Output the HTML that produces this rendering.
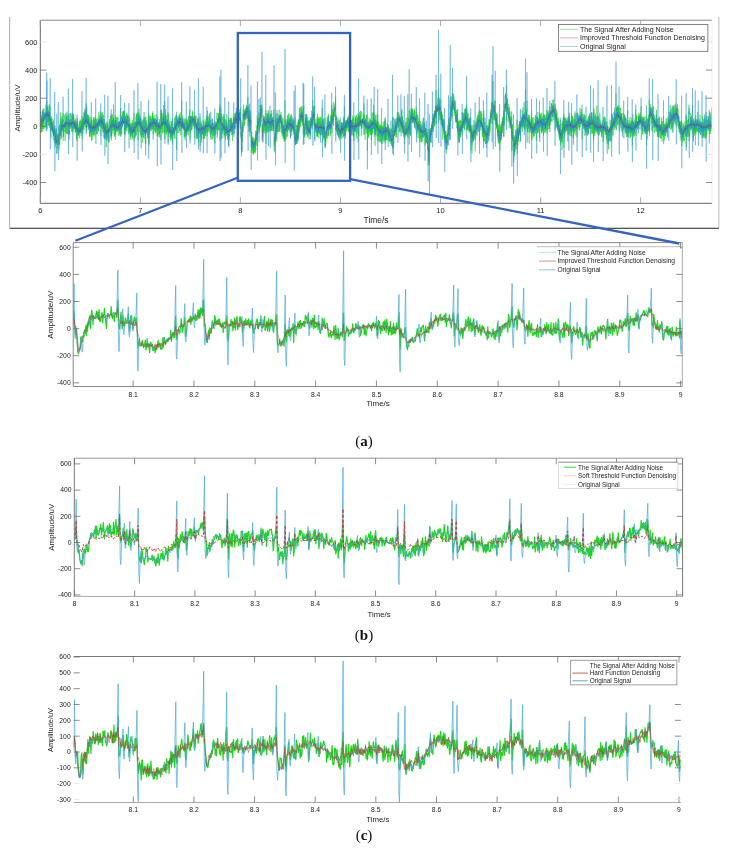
<!DOCTYPE html><html><head><meta charset="utf-8"><style>html,body{margin:0;padding:0;background:#fff;}body{width:729px;height:850px;overflow:hidden;position:relative;}</style></head><body><svg width="729" height="850" viewBox="0 0 729 850" style="position:absolute;left:0;top:0;filter:blur(0.3px);font-family:'Liberation Sans', sans-serif">
<rect width="729" height="850" fill="#fff"/>
<line x1="9.7" y1="17" x2="9.7" y2="228" stroke="#aaa" stroke-width="1"/>
<line x1="718.9" y1="17" x2="718.9" y2="228" stroke="#bbb" stroke-width="1"/>
<line x1="9.7" y1="228.3" x2="718.9" y2="228.3" stroke="#222" stroke-width="1.1"/>
<clipPath id="cpA"><rect x="40.3" y="20.2" width="671.7" height="183.10000000000002"/></clipPath>
<g clip-path="url(#cpA)" fill="none" stroke-linejoin="round">
<path d="M40.3 115.5L40.4 127.5 40.5 131.5 40.6 122.6 40.7 127.2 40.8 121.6 40.9 121.6 41.0 113.2 41.1 111.5 41.2 132.7 41.3 123.4 41.4 118.2 41.5 115.5 41.6 127.5 41.7 132.0 41.8 117.8 41.9 126.5 42.0 125.9 42.1 119.5 42.2 131.4 42.3 114.8 42.4 128.9 42.5 111.5 42.6 129.2 42.7 111.9 42.8 127.2 42.9 115.4 43.0 128.1 43.1 109.0 43.2 109.1 43.3 121.4 43.4 114.1 43.5 122.8 43.6 119.6 43.7 129.3 43.8 122.0 43.9 108.3 44.0 114.3 44.1 113.4 44.2 128.3 44.3 128.1 44.4 120.4 44.5 116.7 44.6 114.7 44.7 117.7 44.8 114.2 44.9 119.2 45.0 119.9 45.1 114.3 45.2 115.3 45.3 116.1 45.4 119.4 45.5 111.9 45.6 111.6 45.7 115.9 45.8 125.9 45.9 104.7 46.0 117.6 46.1 127.8 46.2 126.7 46.3 120.6 46.4 110.3 46.5 117.7 46.6 107.5 46.7 101.5 46.8 123.9 46.9 120.3 47.0 106.7 47.1 121.2 47.2 108.1 47.3 114.9 47.4 114.4 47.5 111.6 47.6 113.7 47.7 107.6 47.8 108.0 47.9 109.9 48.0 105.3 48.1 120.5 48.2 115.4 48.3 125.6 48.4 117.3 48.5 120.1 48.6 110.0 48.7 125.7 48.8 115.7 48.9 117.3 49.0 121.5 49.1 115.5 49.2 113.3 49.3 104.3 49.4 117.7 49.5 118.6 49.6 116.7 49.7 127.8 49.8 113.9 49.9 119.9 50.0 120.0 50.1 106.3 50.2 115.6 50.3 120.8 50.4 132.0 50.5 122.0 50.6 118.5 50.7 121.3 50.8 118.1 50.9 128.6 51.0 137.6 51.1 128.3 51.2 130.3 51.3 130.7 51.4 130.2 51.5 121.4 51.6 116.1 51.7 130.5 51.8 123.9 51.9 123.3 52.0 121.7 52.1 130.4 52.2 128.1 52.3 128.3 52.4 123.6 52.5 129.7 52.6 132.5 52.7 122.4 52.8 127.0 52.9 118.5 53.0 125.4 53.1 133.5 53.2 129.2 53.3 133.1 53.4 135.4 53.5 120.5 53.6 131.5 53.7 136.1 53.8 130.3 53.9 127.5 54.0 133.2 54.1 131.0 54.2 127.3 54.3 130.3 54.4 142.9 54.5 135.2 54.6 132.5 54.7 128.8 54.8 132.5 54.9 142.4 55.0 140.7 55.1 125.7 55.2 147.4 55.3 133.8 55.4 140.3 55.5 133.4 55.6 144.3 55.7 132.8 55.8 143.2 55.9 144.6 56.0 128.4 56.1 142.6 56.2 129.0 56.3 136.4 56.4 132.7 56.5 139.8 56.6 133.6 56.7 138.2 56.8 133.4 56.9 153.8 57.0 150.0 57.1 146.4 57.2 147.9 57.3 146.5 57.4 143.1 57.5 146.2 57.6 139.9 57.7 140.2 57.8 136.3 57.9 134.9 58.0 137.9 58.1 136.3 58.2 139.1 58.3 134.1 58.4 137.8 58.5 145.3 58.6 144.0 58.7 134.5 58.8 137.6 58.9 126.8 59.0 139.1 59.1 150.2 59.2 143.5 59.3 128.7 59.4 128.2 59.5 124.6 59.6 126.4 59.7 135.4 59.8 144.6 59.9 129.4 60.0 128.9 60.1 124.4 60.2 130.4 60.3 121.2 60.4 126.3 60.5 112.4 60.6 123.2 60.7 136.0 60.8 126.3 60.9 122.8 61.0 139.5 61.1 131.8 61.2 118.0 61.3 123.1 61.4 134.3 61.5 138.4 61.6 126.0 61.7 123.8 61.8 118.7 61.9 116.1 62.0 129.6 62.1 127.6 62.2 128.5 62.3 119.1 62.4 124.9 62.5 119.4 62.6 131.4 62.7 128.3 62.8 122.7 62.9 120.2 63.0 122.0 63.1 112.9 63.2 137.0 63.3 133.0 63.4 123.9 63.5 124.6 63.6 136.8 63.7 126.6 63.8 131.6 63.9 125.2 64.0 125.1 64.1 125.7 64.2 128.0 64.3 122.0 64.4 114.8 64.5 121.4 64.6 124.7 64.7 126.8 64.8 123.5 64.9 125.6 65.0 126.4 65.1 141.1 65.2 126.4 65.3 124.0 65.4 127.1 65.5 126.2 65.6 113.1 65.7 129.6 65.8 122.2 65.9 122.1 66.0 129.1 66.1 117.2 66.2 133.4 66.3 125.0 66.4 120.7 66.5 116.2 66.6 129.0 66.7 133.5 66.8 115.3 66.9 126.4 67.0 133.7 67.1 130.3 67.2 124.9 67.3 125.5 67.4 126.0 67.5 134.0 67.6 127.6 67.7 126.1 67.8 116.6 67.9 124.7 68.0 123.5 68.1 121.0 68.2 119.8 68.3 114.1 68.4 132.2 68.5 134.5 68.6 135.1 68.7 119.6 68.8 125.3 68.9 123.0 69.0 134.3 69.1 130.9 69.2 135.0 69.3 132.5 69.4 113.7 69.5 126.1 69.6 121.9 69.7 123.5 69.8 121.5 69.9 120.4 70.0 123.1 70.1 128.7 70.2 120.7 70.3 121.0 70.4 125.1 70.5 113.2 70.6 128.6 70.7 126.4 70.8 123.3 70.9 120.4 71.0 125.2 71.1 124.0 71.2 125.3 71.3 123.0 71.4 122.2 71.5 127.0 71.6 113.6 71.7 124.0 71.8 121.8 71.9 131.6 72.0 122.3 72.1 119.4 72.2 116.6 72.3 120.3 72.4 118.8 72.5 114.5 72.6 112.7 72.7 118.4 72.8 131.5 72.9 132.7 73.0 125.2 73.1 129.9 73.2 119.5 73.3 115.7 73.4 121.6 73.5 128.5 73.6 113.9 73.7 126.1 73.8 126.5 73.9 117.3 74.0 120.5 74.1 127.6 74.2 124.7 74.3 123.0 74.4 129.2 74.5 125.2 74.6 120.5 74.7 125.8 74.8 123.4 74.9 123.8 75.0 129.5 75.1 123.5 75.2 132.6 75.3 124.3 75.4 127.8 75.5 132.1 75.6 120.5 75.7 132.3 75.8 129.9 75.9 125.9 76.0 123.3 76.1 125.6 76.2 131.4 76.3 123.5 76.4 126.2 76.5 123.1 76.6 139.0 76.7 121.4 76.8 131.7 76.9 128.0 77.0 124.2 77.1 141.1 77.2 132.1 77.3 126.2 77.4 120.8 77.5 127.0 77.6 135.1 77.7 132.1 77.8 128.8 77.9 123.6 78.0 125.2 78.1 133.1 78.2 126.7 78.3 135.7 78.4 128.5 78.5 131.4 78.6 130.7 78.7 132.6 78.8 135.9 78.9 134.2 79.0 130.0 79.1 133.9 79.2 128.3 79.3 138.2 79.4 126.0 79.5 121.2 79.6 128.7 79.7 134.1 79.8 128.0 79.9 121.7 80.0 126.0 80.1 125.1 80.2 119.5 80.3 129.3 80.4 129.6 80.5 125.2 80.6 131.4 80.7 126.6 80.8 130.7 80.9 120.6 81.0 135.7 81.1 125.5 81.2 130.7 81.3 125.1 81.4 121.3 81.5 131.7 81.6 129.7 81.7 124.9 81.8 122.1 81.9 129.3 82.0 115.8 82.1 120.5 82.2 134.3 82.3 138.9 82.4 120.7 82.5 118.5 82.6 126.0 82.7 126.1 82.8 126.9 82.9 132.6 83.0 133.6 83.1 124.6 83.2 118.8 83.3 120.3 83.4 129.7 83.5 117.1 83.6 125.4 83.7 112.5 83.8 126.3 83.9 127.3 84.0 118.2 84.1 129.8 84.2 122.1 84.3 120.6 84.4 117.4 84.5 111.2 84.6 122.2 84.7 117.0 84.8 114.4 84.9 113.3 85.0 115.8 85.1 114.4 85.2 120.9 85.3 118.4 85.4 112.9 85.5 126.1 85.6 127.1 85.7 110.3 85.8 118.5 85.9 114.9 86.0 108.6 86.1 103.4 86.2 121.0 86.3 131.4 86.4 121.0 86.5 130.4 86.6 116.1 86.7 105.8 86.8 125.9 86.9 115.1 87.0 119.3 87.1 122.6 87.2 118.8 87.3 114.1 87.4 127.2 87.5 117.7 87.6 122.3 87.7 124.0 87.8 121.5 87.9 115.0 88.0 118.9 88.1 115.0 88.2 121.1 88.3 116.7 88.4 117.8 88.5 127.1 88.6 126.1 88.7 125.2 88.8 123.4 88.9 115.0 89.0 123.3 89.1 122.6 89.2 117.5 89.3 129.2 89.4 122.1 89.5 136.6 89.6 126.4 89.7 128.3 89.8 136.6 89.9 129.1 90.0 126.1 90.1 122.8 90.2 136.4 90.3 136.5 90.4 123.7 90.5 124.7 90.6 133.7 90.7 122.0 90.8 116.7 90.9 123.3 91.0 127.7 91.1 121.1 91.2 132.8 91.3 118.9 91.4 125.0 91.5 126.4 91.6 127.4 91.7 130.8 91.8 122.8 91.9 129.3 92.0 131.3 92.1 139.9 92.2 127.2 92.3 127.2 92.4 128.7 92.5 131.9 92.6 122.5 92.7 120.2 92.8 123.8 92.9 130.0 93.0 136.6 93.1 125.2 93.2 128.5 93.3 133.0 93.4 126.1 93.5 135.1 93.6 117.0 93.7 133.8 93.8 122.5 93.9 118.6 94.0 124.0 94.1 127.8 94.2 119.5 94.3 133.7 94.4 134.5 94.5 129.1 94.6 131.3 94.7 128.8 94.8 127.1 94.9 136.5 95.0 130.0 95.1 122.2 95.2 116.3 95.3 119.3 95.4 129.2 95.5 120.7 95.6 125.6 95.7 128.6 95.8 118.2 95.9 130.0 96.0 127.9 96.1 125.7 96.2 133.9 96.3 123.8 96.4 119.2 96.5 124.3 96.6 128.4 96.7 134.3 96.8 126.8 96.9 128.1 97.0 125.7 97.1 126.8 97.2 127.6 97.3 125.0 97.4 131.5 97.5 133.9 97.6 128.0 97.7 130.2 97.8 122.5 97.9 117.8 98.0 121.0 98.1 126.1 98.2 125.8 98.3 120.8 98.4 120.7 98.5 125.2 98.6 130.9 98.7 119.4 98.8 112.1 98.9 115.9 99.0 117.2 99.1 122.7 99.2 123.8 99.3 120.5 99.4 126.2 99.5 127.3 99.6 118.9 99.7 126.0 99.8 117.8 99.9 115.4 100.0 126.6 100.1 121.9 100.2 125.3 100.3 110.9 100.4 121.3 100.5 116.5 100.6 125.3 100.7 118.2 100.8 121.5 100.9 130.9 101.0 135.8 101.1 131.1 101.2 118.1 101.3 118.4 101.4 122.0 101.5 120.7 101.6 120.4 101.7 112.6 101.8 127.8 101.9 118.0 102.0 126.5 102.1 122.4 102.2 115.2 102.3 128.8 102.4 112.2 102.5 125.7 102.6 128.4 102.7 115.7 102.8 129.2 102.9 121.6 103.0 132.7 103.1 120.9 103.2 131.8 103.3 130.8 103.4 114.7 103.5 133.3 103.6 124.5 103.7 118.9 103.8 125.4 103.9 126.2 104.0 137.8 104.1 129.2 104.2 119.0 104.3 138.1 104.4 133.0 104.5 129.5 104.6 122.8 104.7 123.3 104.8 135.4 104.9 139.6 105.0 130.5 105.1 129.3 105.2 126.0 105.3 130.0 105.4 129.0 105.5 124.0 105.6 128.1 105.7 138.4 105.8 136.5 105.9 133.9 106.0 122.7 106.1 136.8 106.2 131.8 106.3 142.5 106.4 147.2 106.5 135.5 106.6 124.8 106.7 126.0 106.8 136.1 106.9 121.4 107.0 132.9 107.1 125.6 107.2 134.2 107.3 123.3 107.4 128.1 107.5 132.4 107.6 128.9 107.7 138.9 107.8 124.7 107.9 127.1 108.0 140.9 108.1 133.2 108.2 134.9 108.3 135.5 108.4 137.4 108.5 129.4 108.6 137.6 108.7 135.3 108.8 127.8 108.9 143.1 109.0 132.7 109.1 126.9 109.2 122.6 109.3 130.5 109.4 132.0 109.5 122.0 109.6 119.2 109.7 124.6 109.8 122.1 109.9 121.1 110.0 122.3 110.1 122.8 110.2 122.8 110.3 129.5 110.4 129.9 110.5 122.8 110.6 116.1 110.7 120.4 110.8 125.7 110.9 138.4 111.0 124.7 111.1 128.5 111.2 114.4 111.3 135.2 111.4 124.5 111.5 121.4 111.6 122.5 111.7 114.6 111.8 135.9 111.9 118.5 112.0 123.6 112.1 126.5 112.2 123.0 112.3 126.5 112.4 125.1 112.5 130.6 112.6 129.7 112.7 114.1 112.8 115.0 112.9 125.8 113.0 122.4 113.1 133.7 113.2 117.1 113.3 130.3 113.4 124.6 113.5 104.6 113.6 122.2 113.7 120.2 113.8 129.3 113.9 122.6 114.0 125.1 114.1 119.6 114.2 121.3 114.3 124.6 114.4 126.0 114.5 122.1 114.6 122.0 114.7 136.9 114.8 121.4 114.9 135.2 115.0 122.5 115.1 120.9 115.2 115.2 115.3 127.0 115.4 134.0 115.5 117.8 115.6 120.5 115.7 134.3 115.8 125.5 115.9 120.4 116.0 127.7 116.1 126.6 116.2 124.5 116.3 124.0 116.4 129.1 116.5 125.7 116.6 117.0 116.7 130.0 116.8 129.3 116.9 132.2 117.0 126.2 117.1 120.8 117.2 117.0 117.3 131.4 117.4 131.4 117.5 131.2 117.6 127.3 117.7 122.2 117.8 132.1 117.9 125.9 118.0 127.0 118.1 122.4 118.2 122.5 118.3 123.5 118.4 123.6 118.5 126.7 118.6 125.4 118.7 135.7 118.8 134.4 118.9 124.6 119.0 126.1 119.1 122.4 119.2 121.9 119.3 130.1 119.4 122.3 119.5 133.7 119.6 128.7 119.7 126.9 119.8 121.9 119.9 134.8 120.0 124.4 120.1 135.9 120.2 127.4 120.3 125.5 120.4 114.0 120.5 129.9 120.6 117.2 120.7 108.1 120.8 127.2 120.9 135.2 121.0 125.7 121.1 122.8 121.2 122.5 121.3 119.8 121.4 130.8 121.5 133.8 121.6 115.7 121.7 133.5 121.8 120.7 121.9 120.8 122.0 123.7 122.1 125.3 122.2 124.1 122.3 122.2 122.4 125.4 122.5 118.9 122.6 111.5 122.7 122.6 122.8 114.8 122.9 118.2 123.0 114.2 123.1 117.5 123.2 112.8 123.3 116.4 123.4 123.5 123.5 121.1 123.6 110.8 123.7 123.8 123.8 110.9 123.9 124.5 124.0 119.4 124.1 110.9 124.2 117.5 124.3 123.1 124.4 132.2 124.5 114.5 124.6 114.6 124.7 120.0 124.8 134.2 124.9 124.6 125.0 118.7 125.1 121.8 125.2 135.3 125.3 116.4 125.4 117.9 125.5 125.2 125.6 120.9 125.7 128.0 125.8 129.5 125.9 114.8 126.0 126.1 126.1 118.0 126.2 123.4 126.3 119.0 126.4 124.2 126.5 113.4 126.6 131.3 126.7 118.6 126.8 113.0 126.9 128.3 127.0 130.3 127.1 116.8 127.2 120.9 127.3 123.9 127.4 115.7 127.5 121.7 127.6 117.8 127.7 114.9 127.8 120.3 127.9 120.6 128.0 126.0 128.1 115.1 128.2 122.9 128.3 126.5 128.4 128.6 128.5 133.9 128.6 120.4 128.7 127.2 128.8 121.9 128.9 117.3 129.0 123.6 129.1 130.5 129.2 132.1 129.3 129.9 129.4 126.3 129.5 131.2 129.6 119.4 129.7 130.7 129.8 132.4 129.9 128.7 130.0 125.2 130.1 123.7 130.2 135.6 130.3 124.1 130.4 123.6 130.5 128.8 130.6 137.4 130.7 131.0 130.8 139.9 130.9 122.7 131.0 127.0 131.1 131.0 131.2 127.7 131.3 125.2 131.4 126.9 131.5 131.7 131.6 130.4 131.7 134.0 131.8 122.8 131.9 135.8 132.0 126.6 132.1 133.3 132.2 137.4 132.3 132.1 132.4 121.9 132.5 120.4 132.6 123.1 132.7 137.5 132.8 139.4 132.9 127.9 133.0 132.6 133.1 132.0 133.2 131.0 133.3 131.3 133.4 125.4 133.5 131.9 133.6 128.0 133.7 122.8 133.8 125.7 133.9 121.0 134.0 113.3 134.1 141.2 134.2 134.0 134.3 134.7 134.4 137.9 134.5 135.2 134.6 122.9 134.7 131.1 134.8 125.9 134.9 122.4 135.0 122.6 135.1 138.1 135.2 126.4 135.3 131.8 135.4 124.6 135.5 121.5 135.6 136.2 135.7 129.6 135.8 134.8 135.9 120.4 136.0 116.6 136.1 128.8 136.2 122.1 136.3 131.5 136.4 135.4 136.5 114.2 136.6 125.9 136.7 113.5 136.8 114.0 136.9 127.7 137.0 121.4 137.1 127.5 137.2 118.6 137.3 121.6 137.4 122.9 137.5 130.1 137.6 126.7 137.7 112.6 137.8 120.9 137.9 115.6 138.0 128.1 138.1 140.3 138.2 124.7 138.3 121.1 138.4 119.7 138.5 114.6 138.6 125.1 138.7 126.0 138.8 123.3 138.9 108.7 139.0 118.0 139.1 124.0 139.2 126.6 139.3 121.5 139.4 121.6 139.5 120.5 139.6 118.8 139.7 132.5 139.8 119.6 139.9 114.4 140.0 121.1 140.1 127.9 140.2 117.9 140.4 134.9 140.5 119.8 140.6 117.6 140.7 127.6 140.8 126.9 140.9 119.2 141.0 121.9 141.1 124.4 141.2 137.6 141.3 121.2 141.4 136.9 141.5 126.8 141.6 125.8 141.7 122.1 141.8 122.5 141.9 125.7 142.0 133.2 142.1 123.5 142.2 132.0 142.3 125.5 142.4 142.7 142.5 133.5 142.6 123.9 142.7 120.2 142.8 129.4 142.9 133.5 143.0 129.6 143.1 127.0 143.2 118.9 143.3 130.1 143.4 138.4 143.5 132.9 143.6 133.6 143.7 137.0 143.8 120.3 143.9 129.8 144.0 123.0 144.1 112.0 144.2 127.7 144.3 128.7 144.4 127.3 144.5 129.6 144.6 133.1 144.7 128.6 144.8 129.1 144.9 127.2 145.0 138.9 145.1 124.6 145.2 118.8 145.3 135.8 145.4 133.4 145.5 121.2 145.6 130.8 145.7 143.5 145.8 116.7 145.9 116.6 146.0 127.0 146.1 126.4 146.2 130.0 146.3 128.1 146.4 131.8 146.5 123.5 146.6 121.1 146.7 120.5 146.8 122.6 146.9 130.6 147.0 131.8 147.1 129.8 147.2 126.9 147.3 128.4 147.4 126.4 147.5 134.7 147.6 125.3 147.7 132.6 147.8 138.0 147.9 130.8 148.0 123.4 148.1 129.2 148.2 126.6 148.3 122.3 148.4 125.7 148.5 129.0 148.6 113.3 148.7 145.7 148.8 139.2 148.9 122.2 149.0 118.4 149.1 143.9 149.2 129.7 149.3 135.5 149.4 115.7 149.5 128.6 149.6 131.2 149.7 129.5 149.8 124.0 149.9 132.2 150.0 118.1 150.1 121.3 150.2 129.9 150.3 115.7 150.4 127.6 150.5 129.3 150.6 129.5 150.7 118.6 150.8 121.6 150.9 125.3 151.0 124.4 151.1 127.0 151.2 116.3 151.3 124.9 151.4 131.0 151.5 120.5 151.6 119.0 151.7 119.6 151.8 120.8 151.9 119.6 152.0 129.0 152.1 127.5 152.2 125.6 152.3 121.1 152.4 112.8 152.5 126.5 152.6 114.8 152.7 121.6 152.8 128.7 152.9 111.4 153.0 129.0 153.1 127.7 153.2 133.9 153.3 125.9 153.4 122.7 153.5 122.9 153.6 119.2 153.7 126.0 153.8 118.9 153.9 130.4 154.0 119.3 154.1 120.1 154.2 118.8 154.3 120.2 154.4 118.4 154.5 126.2 154.6 126.9 154.7 125.4 154.8 131.0 154.9 115.2 155.0 130.1 155.1 119.5 155.2 132.9 155.3 132.1 155.4 127.1 155.5 122.4 155.6 119.3 155.7 123.8 155.8 132.2 155.9 133.3 156.0 126.8 156.1 125.9 156.2 121.4 156.3 126.5 156.4 129.3 156.5 121.4 156.6 124.9 156.7 129.4 156.8 119.7 156.9 114.3 157.0 124.1 157.1 123.1 157.2 136.5 157.3 132.7 157.4 135.1 157.5 132.3 157.6 128.2 157.7 117.6 157.8 124.7 157.9 134.1 158.0 122.7 158.1 136.6 158.2 130.6 158.3 124.7 158.4 127.6 158.5 128.7 158.6 125.6 158.7 130.8 158.8 125.3 158.9 124.4 159.0 122.1 159.1 127.8 159.2 134.9 159.3 119.0 159.4 127.0 159.5 133.7 159.6 133.6 159.7 131.0 159.8 126.0 159.9 132.3 160.0 131.1 160.1 132.0 160.2 123.5 160.3 132.0 160.4 131.3 160.5 130.1 160.6 124.9 160.7 124.5 160.8 110.3 160.9 134.9 161.0 140.3 161.1 133.1 161.2 127.7 161.3 129.4 161.4 111.8 161.5 109.8 161.6 124.0 161.7 127.1 161.8 114.0 161.9 118.9 162.0 126.5 162.1 128.2 162.2 124.4 162.3 130.6 162.4 131.9 162.5 117.7 162.6 125.5 162.7 118.0 162.8 134.0 162.9 122.9 163.0 112.6 163.1 116.5 163.2 115.9 163.3 115.8 163.4 123.6 163.5 105.1 163.6 120.2 163.7 117.4 163.8 127.7 163.9 132.2 164.0 121.8 164.1 122.6 164.2 120.7 164.3 124.0 164.4 123.8 164.5 133.0 164.6 111.1 164.7 100.9 164.8 129.2 164.9 139.4 165.0 127.6 165.1 116.6 165.2 122.9 165.3 133.4 165.4 122.3 165.5 127.6 165.6 122.4 165.7 114.2 165.8 121.2 165.9 119.4 166.0 125.6 166.1 131.2 166.2 126.5 166.3 115.8 166.4 125.8 166.5 128.2 166.6 135.3 166.7 129.6 166.8 128.5 166.9 122.5 167.0 133.1 167.1 123.5 167.2 119.7 167.3 131.9 167.4 130.9 167.5 119.3 167.6 125.0 167.7 131.8 167.8 129.1 167.9 112.4 168.0 120.5 168.1 142.2 168.2 135.1 168.3 132.8 168.4 132.1 168.5 126.9 168.6 121.2 168.7 120.1 168.8 114.1 168.9 124.1 169.0 132.6 169.1 133.3 169.2 136.9 169.3 124.4 169.4 133.7 169.5 126.4 169.6 128.4 169.7 123.9 169.8 131.5 169.9 128.0 170.0 124.6 170.1 120.6 170.2 129.1 170.3 127.8 170.4 130.5 170.5 138.7 170.6 126.6 170.7 125.5 170.8 140.7 170.9 127.6 171.0 139.9 171.1 130.8 171.2 135.6 171.3 129.7 171.4 138.4 171.5 121.2 171.6 134.3 171.7 124.5 171.8 123.2 171.9 134.1 172.0 132.3 172.1 126.2 172.2 133.3 172.3 132.9 172.4 124.8 172.5 118.7 172.6 144.3 172.7 139.4 172.8 132.2 172.9 136.5 173.0 134.2 173.1 133.0 173.2 130.1 173.3 133.1 173.4 135.1 173.5 127.3 173.6 127.1 173.7 130.7 173.8 133.9 173.9 130.5 174.0 127.6 174.1 132.2 174.2 134.4 174.3 139.2 174.4 127.5 174.5 122.7 174.6 117.7 174.7 120.7 174.8 123.5 174.9 127.3 175.0 131.7 175.1 138.1 175.2 123.7 175.3 127.1 175.4 128.2 175.5 119.4 175.6 115.7 175.7 130.9 175.8 122.6 175.9 121.8 176.0 116.9 176.1 129.3 176.2 127.3 176.3 128.3 176.4 125.7 176.5 114.8 176.6 128.5 176.7 149.9 176.8 128.7 176.9 129.8 177.0 129.4 177.1 118.5 177.2 122.4 177.3 126.0 177.4 123.4 177.5 120.1 177.6 124.4 177.7 122.2 177.8 124.0 177.9 133.0 178.0 118.7 178.1 115.9 178.2 124.1 178.3 121.5 178.4 119.7 178.5 127.5 178.6 122.2 178.7 127.9 178.8 124.4 178.9 119.5 179.0 133.0 179.1 131.7 179.2 124.6 179.3 124.8 179.4 117.8 179.5 131.2 179.6 122.3 179.7 116.9 179.8 119.7 179.9 113.6 180.0 122.4 180.1 123.1 180.2 122.3 180.3 118.2 180.4 126.2 180.5 119.4 180.6 117.8 180.7 120.7 180.8 135.2 180.9 120.4 181.0 112.1 181.1 114.1 181.2 125.4 181.3 125.5 181.4 122.6 181.5 124.3 181.6 113.4 181.7 100.6 181.8 123.8 181.9 125.9 182.0 122.8 182.1 128.9 182.2 129.0 182.3 121.5 182.4 120.7 182.5 123.1 182.6 121.5 182.7 126.2 182.8 121.9 182.9 118.2 183.0 125.4 183.1 127.9 183.2 126.9 183.3 126.1 183.4 122.2 183.5 128.3 183.6 130.1 183.7 129.4 183.8 121.9 183.9 125.0 184.0 119.3 184.1 137.1 184.2 123.1 184.3 126.5 184.4 122.8 184.5 137.5 184.6 124.2 184.7 133.4 184.8 124.1 184.9 118.3 185.0 127.6 185.1 140.2 185.2 128.7 185.3 134.4 185.4 129.1 185.5 129.5 185.6 130.3 185.7 130.8 185.8 119.4 185.9 127.1 186.0 136.2 186.1 121.8 186.2 130.5 186.3 118.7 186.4 131.3 186.5 135.0 186.6 129.2 186.7 134.1 186.8 131.1 186.9 128.9 187.0 129.5 187.1 121.3 187.2 126.5 187.3 128.5 187.4 131.4 187.5 122.0 187.6 124.0 187.7 123.2 187.8 126.8 187.9 132.2 188.0 127.6 188.1 128.4 188.2 125.9 188.3 128.8 188.4 135.4 188.5 121.3 188.6 116.1 188.7 128.0 188.8 123.0 188.9 130.9 189.0 119.8 189.1 122.3 189.2 124.6 189.3 118.4 189.4 120.9 189.5 128.0 189.6 124.5 189.7 117.4 189.8 109.4 189.9 116.4 190.0 121.9 190.1 140.0 190.2 116.9 190.3 119.1 190.4 128.2 190.5 128.4 190.6 132.6 190.7 117.1 190.8 116.6 190.9 127.4 191.0 116.0 191.1 130.0 191.2 116.4 191.3 119.8 191.4 127.6 191.5 118.6 191.6 123.3 191.7 130.8 191.8 123.4 191.9 126.2 192.0 129.1 192.1 118.3 192.2 115.1 192.3 124.9 192.4 119.1 192.5 110.5 192.6 117.3 192.7 120.0 192.8 124.4 192.9 112.3 193.0 117.9 193.1 117.1 193.2 119.6 193.3 120.2 193.4 121.8 193.5 126.2 193.6 118.3 193.7 121.6 193.8 117.9 193.9 119.4 194.0 119.6 194.1 116.4 194.2 124.7 194.3 129.0 194.4 123.1 194.5 120.9 194.6 115.1 194.7 127.8 194.8 133.4 194.9 138.5 195.0 130.5 195.1 126.8 195.2 122.0 195.3 120.5 195.4 117.6 195.5 122.5 195.6 116.0 195.7 127.5 195.8 121.1 195.9 118.2 196.0 115.5 196.1 127.8 196.2 125.3 196.3 123.2 196.4 123.3 196.5 123.6 196.6 127.5 196.7 136.7 196.8 139.1 196.9 125.8 197.0 125.5 197.1 123.2 197.2 138.5 197.3 117.6 197.4 138.9 197.5 134.2 197.6 132.4 197.7 129.5 197.8 121.1 197.9 131.2 198.0 119.0 198.1 133.8 198.2 119.4 198.3 124.7 198.4 119.3 198.5 143.1 198.6 132.5 198.7 134.4 198.8 134.5 198.9 137.2 199.0 129.7 199.1 130.2 199.2 126.2 199.3 122.4 199.4 133.5 199.5 132.1 199.6 133.2 199.7 128.2 199.8 121.7 199.9 116.7 200.0 123.8 200.1 134.0 200.2 146.0 200.3 141.9 200.4 131.4 200.5 132.1 200.6 137.3 200.7 136.3 200.8 132.9 200.9 123.9 201.0 120.9 201.1 129.6 201.2 123.8 201.3 131.4 201.4 126.7 201.5 126.1 201.6 139.6 201.7 132.2 201.8 130.2 201.9 134.4 202.0 134.8 202.1 130.1 202.2 125.4 202.3 129.0 202.4 132.6 202.5 134.1 202.6 128.7 202.7 129.1 202.8 132.5 202.9 127.0 203.0 129.1 203.1 120.3 203.2 120.4 203.3 132.1 203.4 138.3 203.5 131.9 203.6 138.3 203.7 131.2 203.8 123.7 203.9 138.9 204.0 132.9 204.1 135.9 204.2 132.8 204.3 126.8 204.4 127.1 204.5 129.2 204.6 138.6 204.7 123.6 204.8 133.3 204.9 125.1 205.0 119.4 205.1 123.8 205.2 121.9 205.3 123.5 205.4 135.9 205.5 134.6 205.6 135.5 205.7 130.3 205.8 128.2 205.9 131.0 206.0 126.3 206.1 130.0 206.2 121.2 206.3 129.0 206.4 120.0 206.5 115.4 206.6 124.9 206.7 132.5 206.8 128.2 206.9 118.8 207.0 136.4 207.1 129.3 207.2 129.2 207.3 129.0 207.4 127.9 207.5 110.9 207.6 132.8 207.7 126.9 207.8 123.6 207.9 116.6 208.0 124.5 208.1 131.7 208.2 124.8 208.3 125.1 208.4 122.7 208.5 128.7 208.6 121.3 208.7 127.7 208.8 123.6 208.9 116.6 209.0 131.6 209.1 129.4 209.2 130.1 209.3 114.6 209.4 122.5 209.5 123.4 209.6 119.9 209.7 113.2 209.8 121.9 209.9 134.1 210.0 128.3 210.1 127.8 210.2 126.0 210.3 128.6 210.4 128.5 210.5 137.0 210.6 129.7 210.7 130.6 210.8 120.1 210.9 134.1 211.0 132.3 211.1 127.1 211.2 124.8 211.3 123.0 211.4 132.4 211.5 130.0 211.6 126.2 211.7 125.3 211.8 134.5 211.9 131.1 212.0 118.3 212.1 137.8 212.2 138.9 212.3 135.6 212.4 127.4 212.5 124.6 212.6 122.5 212.7 129.5 212.8 139.4 212.9 129.0 213.0 122.9 213.1 125.4 213.2 127.3 213.3 132.7 213.4 123.5 213.5 123.4 213.6 135.3 213.7 135.5 213.8 126.4 213.9 137.4 214.0 125.9 214.1 129.3 214.2 132.6 214.3 122.9 214.4 135.4 214.5 130.4 214.6 125.5 214.7 135.0 214.8 136.1 214.9 143.6 215.0 137.2 215.1 127.8 215.2 134.8 215.3 124.8 215.4 121.2 215.5 135.2 215.6 125.4 215.7 131.9 215.8 129.7 215.9 127.9 216.0 124.8 216.1 126.8 216.2 125.1 216.3 122.2 216.4 129.0 216.5 127.5 216.6 127.1 216.7 123.5 216.8 117.5 216.9 117.6 217.0 112.7 217.1 125.9 217.2 134.2 217.3 125.1 217.4 129.6 217.5 131.3 217.6 129.3 217.7 122.7 217.8 121.4 217.9 128.5 218.0 123.4 218.1 113.1 218.2 130.3 218.3 120.3 218.4 129.1 218.5 126.0 218.6 115.7 218.7 113.4 218.8 122.1 218.9 114.3 219.0 130.2 219.1 116.7 219.2 130.5 219.3 120.0 219.4 117.3 219.5 120.4 219.6 107.6 219.7 118.8 219.8 110.2 219.9 104.9 220.0 127.6 220.1 140.9 220.2 117.7 220.3 123.2 220.4 112.8 220.5 125.2 220.6 121.9 220.7 119.6 220.8 112.7 220.9 108.4 221.0 138.9 221.1 129.1 221.2 128.1 221.3 113.9 221.4 119.0 221.5 129.2 221.6 117.2 221.7 115.0 221.8 117.2 221.9 125.8 222.0 134.1 222.1 131.2 222.2 125.6 222.3 125.5 222.4 130.4 222.5 124.2 222.6 131.4 222.7 116.9 222.8 128.3 222.9 133.4 223.0 123.8 223.1 128.0 223.2 122.7 223.3 125.5 223.4 129.8 223.5 123.1 223.6 129.8 223.7 131.0 223.8 113.7 223.9 114.3 224.0 137.3 224.1 118.9 224.2 131.0 224.3 120.7 224.4 127.7 224.5 135.4 224.6 124.0 224.7 130.2 224.8 119.0 224.9 134.3 225.0 134.2 225.1 126.0 225.2 124.8 225.3 134.6 225.4 128.7 225.5 139.8 225.6 126.8 225.7 129.0 225.8 119.6 225.9 126.6 226.0 127.1 226.1 131.8 226.2 136.1 226.3 132.1 226.4 124.5 226.5 127.4 226.6 122.1 226.7 128.5 226.8 113.9 226.9 123.6 227.0 129.5 227.1 127.6 227.2 135.8 227.3 126.7 227.4 135.2 227.5 131.8 227.6 139.4 227.7 134.0 227.8 130.2 227.9 124.2 228.0 133.4 228.1 129.6 228.2 129.9 228.3 139.3 228.4 132.2 228.5 146.0 228.6 134.2 228.7 117.6 228.8 136.1 228.9 137.2 229.0 140.4 229.1 131.7 229.2 119.9 229.3 123.8 229.4 129.8 229.5 136.4 229.6 133.7 229.7 132.8 229.8 129.4 229.9 132.3 230.0 119.0 230.1 120.5 230.2 130.8 230.3 126.5 230.4 124.0 230.5 127.2 230.6 132.2 230.7 118.1 230.8 125.2 230.9 117.6 231.0 125.6 231.1 117.9 231.2 131.0 231.3 119.5 231.4 126.3 231.5 129.5 231.6 135.0 231.7 125.1 231.8 124.8 231.9 130.7 232.0 120.2 232.1 131.1 232.2 124.9 232.3 125.5 232.4 134.5 232.5 124.7 232.6 141.2 232.7 131.9 232.8 134.2 232.9 123.1 233.0 133.1 233.1 131.1 233.2 122.5 233.3 128.5 233.4 121.4 233.5 125.1 233.6 120.0 233.7 116.1 233.8 120.9 233.9 120.3 234.0 129.0 234.1 117.6 234.2 123.0 234.3 122.2 234.4 129.3 234.5 117.6 234.6 121.9 234.7 122.4 234.8 113.1 234.9 121.4 235.0 119.8 235.1 129.4 235.2 114.8 235.3 121.9 235.4 114.3 235.5 118.3 235.6 123.8 235.7 113.0 235.8 128.5 235.9 124.0 236.0 121.4 236.1 119.4 236.2 111.7 236.3 115.1 236.4 112.7 236.5 122.7 236.6 116.9 236.7 118.2 236.8 115.6 236.9 113.8 237.0 112.8 237.1 117.5 237.2 117.5 237.3 116.8 237.4 111.6 237.5 124.1 237.6 111.4 237.7 97.4 237.8 127.7 237.9 135.4 238.0 119.1 238.1 104.5 238.2 125.9 238.3 114.9 238.4 114.5 238.5 123.9 238.6 122.5 238.7 124.6 238.8 122.9 238.9 115.8 239.0 118.7 239.1 112.3 239.2 116.6 239.3 109.6 239.4 119.1 239.5 116.2 239.6 112.4 239.7 116.7 239.8 113.9 239.9 118.1 240.0 111.9 240.1 128.7 240.2 122.7 240.3 123.2 240.4 116.0 240.5 121.3 240.6 107.5 240.7 113.0 240.8 128.3 240.9 120.2 241.0 126.6 241.1 138.8 241.2 138.7 241.3 131.8 241.4 156.5 241.5 152.6 241.6 143.9 241.7 151.8 241.8 126.6 241.9 142.4 242.0 138.5 242.1 141.5 242.2 137.2 242.3 135.6 242.4 122.3 242.5 128.1 242.6 136.4 242.7 122.4 242.8 133.3 242.9 122.6 243.0 131.4 243.1 109.2 243.2 111.5 243.3 118.9 243.4 122.3 243.5 106.2 243.6 104.4 243.7 110.5 243.8 112.1 243.9 119.1 244.0 113.9 244.1 111.2 244.2 125.7 244.3 115.3 244.4 125.7 244.5 125.6 244.6 118.8 244.7 109.3 244.8 116.4 244.9 114.2 245.0 111.5 245.1 117.1 245.2 118.4 245.3 113.3 245.4 110.5 245.5 120.4 245.6 118.4 245.7 111.4 245.8 108.1 245.9 112.7 246.0 119.6 246.1 113.4 246.2 116.3 246.3 117.3 246.4 104.8 246.5 106.6 246.6 113.2 246.7 112.4 246.8 107.3 246.9 112.1 247.0 113.7 247.1 106.8 247.2 113.9 247.3 115.8 247.4 114.2 247.5 118.4 247.6 111.2 247.7 111.9 247.8 101.0 247.9 97.5 248.0 121.0 248.1 126.4 248.2 122.9 248.3 119.6 248.4 115.3 248.5 120.5 248.6 107.8 248.7 113.8 248.8 124.2 248.9 121.1 249.0 114.6 249.1 125.1 249.2 121.1 249.3 124.6 249.4 118.5 249.5 120.7 249.6 110.3 249.7 130.5 249.8 119.1 249.9 115.5 250.0 114.1 250.1 118.2 250.2 116.7 250.3 112.6 250.4 128.1 250.5 133.1 250.6 126.6 250.7 116.6 250.8 122.6 250.9 119.7 251.0 121.5 251.1 138.4 251.2 141.2 251.3 147.6 251.4 131.9 251.5 131.6 251.6 144.3 251.7 153.1 251.8 132.1 251.9 140.8 252.0 140.5 252.1 141.6 252.2 147.9 252.3 151.2 252.4 145.8 252.5 136.7 252.6 140.6 252.7 144.1 252.8 153.8 252.9 141.9 253.0 150.3 253.1 145.9 253.2 137.4 253.3 139.8 253.4 149.1 253.5 154.8 253.6 144.7 253.7 152.6 253.8 143.9 253.9 143.7 254.0 137.8 254.1 148.4 254.2 152.0 254.3 142.0 254.4 152.6 254.5 151.3 254.6 142.4 254.7 138.9 254.8 144.8 254.9 149.3 255.0 152.9 255.1 153.3 255.2 141.9 255.3 148.1 255.4 152.3 255.5 138.6 255.6 146.2 255.7 138.7 255.8 150.1 255.9 134.1 256.0 141.4 256.1 140.3 256.2 137.1 256.3 145.8 256.4 136.9 256.5 139.1 256.6 140.0 256.7 132.4 256.8 137.6 256.9 125.4 257.0 134.7 257.1 130.1 257.2 131.2 257.3 120.1 257.4 115.5 257.5 145.8 257.6 134.3 257.7 131.2 257.8 121.6 257.9 129.5 258.0 118.9 258.1 119.8 258.2 127.2 258.3 128.0 258.4 119.0 258.5 120.2 258.6 124.4 258.7 114.1 258.8 115.6 258.9 112.0 259.0 131.7 259.1 133.1 259.2 127.5 259.3 130.5 259.4 121.0 259.5 118.8 259.6 129.4 259.7 117.5 259.8 119.0 259.9 124.5 260.0 127.2 260.1 122.5 260.2 104.8 260.3 105.8 260.4 121.3 260.5 113.6 260.6 105.6 260.7 124.7 260.8 106.3 260.9 121.8 261.0 110.1 261.1 110.1 261.2 114.4 261.3 105.5 261.4 111.9 261.5 111.0 261.6 112.9 261.7 118.1 261.8 108.1 261.9 104.9 262.0 104.7 262.1 121.0 262.2 131.3 262.3 124.2 262.4 123.7 262.5 133.4 262.6 133.0 262.7 136.7 262.8 125.3 262.9 132.3 263.0 142.6 263.1 136.0 263.2 128.0 263.3 123.7 263.4 125.9 263.5 115.8 263.6 115.2 263.7 132.9 263.8 123.5 263.9 122.8 264.0 128.4 264.1 130.4 264.2 116.4 264.3 121.0 264.4 119.1 264.5 126.1 264.6 118.8 264.7 130.7 264.8 124.9 264.9 133.7 265.0 120.9 265.1 124.0 265.2 125.1 265.3 125.5 265.4 124.7 265.5 121.6 265.6 122.7 265.7 113.2 265.8 110.5 265.9 137.4 266.0 144.0 266.1 125.5 266.2 133.3 266.3 118.2 266.4 122.1 266.5 132.0 266.6 121.9 266.7 119.9 266.8 116.6 266.9 113.4 267.0 124.8 267.1 132.7 267.2 117.8 267.3 113.3 267.4 115.4 267.5 130.3 267.6 116.0 267.7 121.0 267.8 127.7 267.9 120.9 268.0 116.6 268.1 132.5 268.2 110.0 268.3 111.6 268.4 116.3 268.5 122.7 268.6 128.4 268.7 116.6 268.8 127.9 268.9 111.4 269.0 121.0 269.1 120.5 269.2 131.0 269.3 118.5 269.4 117.3 269.5 126.7 269.6 126.3 269.7 131.8 269.8 126.4 269.9 126.1 270.0 114.0 270.1 127.7 270.2 126.8 270.3 119.4 270.4 124.0 270.5 130.8 270.6 117.9 270.7 114.3 270.8 122.6 270.9 119.5 271.0 127.8 271.1 114.9 271.2 116.5 271.3 126.3 271.4 120.2 271.5 130.7 271.6 124.7 271.7 115.6 271.8 113.3 271.9 121.2 272.0 121.2 272.1 120.0 272.2 124.8 272.3 123.0 272.4 124.6 272.5 117.6 272.6 120.6 272.7 130.9 272.8 122.8 272.9 119.5 273.0 121.0 273.1 127.1 273.2 127.3 273.3 124.7 273.4 130.9 273.5 123.4 273.6 123.9 273.7 128.4 273.8 121.3 273.9 109.4 274.0 110.2 274.1 125.9 274.2 130.7 274.3 144.2 274.4 138.0 274.5 142.9 274.6 146.7 274.7 142.3 274.8 144.2 274.9 152.4 275.0 136.2 275.1 137.6 275.2 143.6 275.3 131.6 275.4 116.9 275.5 139.7 275.6 142.7 275.7 131.3 275.8 138.6 275.9 123.1 276.0 129.0 276.1 121.1 276.2 134.0 276.3 133.2 276.4 126.1 276.5 124.9 276.6 118.9 276.7 124.9 276.8 141.2 276.9 118.3 277.0 121.6 277.1 120.0 277.2 119.8 277.3 127.7 277.4 126.2 277.5 131.2 277.6 121.7 277.7 131.8 277.8 113.7 277.9 118.3 278.0 118.8 278.1 122.5 278.2 121.4 278.3 123.8 278.4 131.8 278.5 123.2 278.6 123.3 278.7 116.0 278.8 127.0 278.9 119.1 279.0 116.7 279.1 115.7 279.2 121.6 279.3 130.4 279.4 131.3 279.5 123.1 279.6 117.8 279.7 121.9 279.8 118.7 279.9 118.6 280.0 114.8 280.1 116.1 280.2 116.2 280.3 115.0 280.4 121.6 280.5 115.0 280.6 119.7 280.7 114.5 280.8 118.8 280.9 111.8 281.0 122.8 281.1 132.0 281.2 126.0 281.3 121.4 281.4 122.3 281.5 115.7 281.6 123.1 281.7 126.3 281.8 133.5 281.9 119.6 282.0 119.5 282.1 120.3 282.2 136.3 282.3 129.8 282.4 129.8 282.5 127.2 282.6 133.8 282.7 117.6 282.8 123.7 282.9 129.5 283.0 131.6 283.1 139.0 283.2 124.7 283.3 128.9 283.4 129.2 283.5 126.3 283.6 137.2 283.7 136.9 283.8 118.9 283.9 135.9 284.0 129.7 284.1 141.8 284.2 131.0 284.3 124.1 284.4 130.8 284.5 140.1 284.6 135.3 284.7 141.0 284.8 131.9 284.9 113.5 285.0 100.5 285.1 140.4 285.2 138.7 285.3 133.2 285.4 137.0 285.5 134.3 285.6 127.5 285.7 119.1 285.8 129.5 285.9 128.8 286.0 135.8 286.1 129.8 286.2 139.3 286.3 126.1 286.4 124.8 286.5 127.7 286.6 131.1 286.7 131.4 286.8 119.6 286.9 122.1 287.0 125.4 287.1 121.5 287.2 129.0 287.3 125.5 287.4 128.1 287.5 132.1 287.6 130.3 287.7 120.7 287.8 129.6 287.9 128.2 288.0 125.7 288.1 118.0 288.2 130.5 288.3 114.3 288.4 125.8 288.5 126.7 288.6 126.4 288.7 128.7 288.8 126.4 288.9 129.7 289.0 113.3 289.1 130.2 289.2 119.6 289.3 119.9 289.4 124.8 289.5 119.4 289.6 118.5 289.7 119.6 289.8 132.6 289.9 118.1 290.0 119.4 290.1 122.9 290.2 127.5 290.3 124.7 290.4 129.8 290.5 120.3 290.6 137.9 290.7 119.0 290.8 122.8 290.9 116.7 291.0 131.0 291.1 129.0 291.2 125.6 291.3 135.5 291.4 131.9 291.5 122.3 291.6 114.4 291.7 132.0 291.8 120.8 291.9 129.2 292.0 125.0 292.1 116.7 292.2 124.7 292.3 126.2 292.4 127.6 292.5 126.6 292.6 124.5 292.7 122.7 292.8 128.9 292.9 129.4 293.0 129.6 293.1 131.9 293.2 125.5 293.3 121.1 293.4 120.3 293.5 133.7 293.6 130.7 293.7 122.1 293.8 122.6 293.9 120.1 294.0 123.0 294.1 121.5 294.2 130.6 294.3 134.9 294.4 133.5 294.5 132.2 294.6 138.4 294.7 134.7 294.8 141.9 294.9 136.0 295.0 136.3 295.1 127.7 295.2 117.0 295.3 145.2 295.4 142.1 295.5 140.4 295.6 133.4 295.7 144.4 295.8 135.3 295.9 134.2 296.0 139.8 296.1 129.6 296.2 143.3 296.3 134.5 296.4 138.7 296.5 139.4 296.6 135.2 296.7 125.0 296.8 143.8 296.9 125.2 297.0 140.7 297.1 143.6 297.2 131.5 297.3 132.3 297.4 124.6 297.5 137.2 297.6 132.3 297.7 141.8 297.8 135.4 297.9 138.0 298.0 139.5 298.1 131.9 298.2 119.7 298.3 139.6 298.4 128.1 298.5 130.7 298.6 121.6 298.7 133.7 298.8 119.6 298.9 125.1 299.0 132.1 299.1 130.7 299.2 118.6 299.3 119.5 299.4 125.5 299.5 130.7 299.6 126.4 299.7 127.1 299.8 119.1 299.9 107.8 300.0 115.2 300.1 121.6 300.2 113.6 300.3 119.2 300.4 120.6 300.5 114.1 300.6 126.9 300.7 122.7 300.8 106.8 300.9 121.7 301.0 115.2 301.1 112.6 301.2 120.9 301.3 119.5 301.4 106.1 301.5 116.0 301.6 119.7 301.7 122.9 301.8 108.5 301.9 109.9 302.0 116.4 302.1 110.5 302.2 116.6 302.3 118.0 302.4 121.4 302.5 112.0 302.6 125.9 302.7 121.6 302.8 113.8 302.9 111.5 303.0 123.4 303.1 106.8 303.2 122.2 303.3 124.7 303.4 134.0 303.5 119.3 303.6 127.5 303.7 114.0 303.8 105.0 303.9 132.0 304.0 131.4 304.1 136.8 304.2 127.6 304.3 126.9 304.4 131.0 304.5 128.6 304.6 135.2 304.7 130.4 304.8 137.8 304.9 123.6 305.0 125.6 305.1 135.4 305.2 128.9 305.3 126.1 305.4 114.2 305.5 122.6 305.6 118.7 305.7 119.7 305.8 129.6 305.9 120.9 306.0 114.3 306.1 118.4 306.2 130.8 306.3 128.2 306.4 117.9 306.5 115.6 306.6 134.3 306.7 125.3 306.8 114.7 306.9 116.0 307.0 117.7 307.1 131.5 307.2 131.9 307.3 137.5 307.4 121.8 307.5 123.7 307.6 117.2 307.7 136.0 307.8 120.7 307.9 128.2 308.0 126.2 308.1 137.0 308.2 126.6 308.3 126.9 308.4 121.1 308.5 126.6 308.6 127.4 308.7 132.3 308.8 121.6 308.9 120.2 309.0 126.2 309.1 139.2 309.2 136.3 309.3 135.7 309.4 120.9 309.5 133.5 309.6 123.9 309.7 127.0 309.8 130.1 309.9 132.0 310.0 126.6 310.1 119.9 310.2 126.2 310.3 134.3 310.4 125.1 310.5 125.4 310.6 124.3 310.7 135.6 310.8 121.9 310.9 118.2 311.0 122.6 311.1 127.6 311.2 123.3 311.3 125.5 311.4 121.0 311.5 124.7 311.6 110.5 311.7 126.6 311.8 125.2 311.9 126.2 312.0 120.8 312.1 127.6 312.2 128.9 312.3 118.3 312.4 124.9 312.5 114.8 312.6 114.5 312.7 100.0 312.8 125.3 312.9 124.6 313.0 115.4 313.1 110.3 313.2 118.7 313.3 113.0 313.4 116.7 313.5 113.9 313.6 120.2 313.7 120.4 313.8 106.1 313.9 124.6 314.0 106.2 314.1 118.0 314.2 118.7 314.3 113.1 314.4 126.7 314.5 111.8 314.6 105.5 314.7 137.1 314.8 139.4 314.9 127.9 315.0 124.8 315.1 127.5 315.2 128.3 315.3 128.9 315.4 125.1 315.5 122.9 315.6 123.5 315.7 122.1 315.8 128.6 315.9 118.9 316.0 129.8 316.1 132.8 316.2 125.3 316.3 126.3 316.4 130.2 316.5 126.8 316.6 136.4 316.7 132.1 316.8 126.1 316.9 122.9 317.0 122.5 317.1 128.1 317.2 127.5 317.3 117.1 317.4 134.7 317.5 136.9 317.6 131.6 317.7 135.0 317.8 124.5 317.9 125.9 318.0 132.9 318.1 118.6 318.2 130.4 318.3 128.7 318.4 119.6 318.5 131.5 318.6 132.5 318.7 116.7 318.8 138.0 318.9 125.8 319.0 127.9 319.1 132.6 319.2 132.8 319.3 130.7 319.4 118.7 319.5 134.1 319.6 128.3 319.7 129.6 319.8 118.0 319.9 123.8 320.0 126.9 320.1 131.1 320.2 117.0 320.3 118.1 320.4 118.5 320.5 132.4 320.6 135.6 320.7 134.0 320.8 128.0 320.9 134.4 321.0 121.9 321.1 116.7 321.2 128.9 321.3 135.1 321.4 125.2 321.5 130.1 321.6 128.0 321.7 126.9 321.8 120.8 321.9 124.0 322.0 134.6 322.1 132.4 322.2 108.0 322.3 123.0 322.4 138.6 322.5 142.7 322.6 136.5 322.7 127.0 322.8 120.3 322.9 135.4 323.0 119.0 323.1 127.1 323.2 121.0 323.3 130.8 323.4 130.5 323.5 129.8 323.6 133.0 323.7 130.8 323.8 130.7 323.9 126.8 324.0 140.4 324.1 132.2 324.2 126.0 324.3 138.8 324.4 137.5 324.5 129.5 324.6 134.9 324.7 135.3 324.8 126.2 324.9 117.8 325.0 135.2 325.1 143.3 325.2 147.2 325.3 131.6 325.4 142.7 325.5 146.6 325.6 143.9 325.7 144.4 325.8 139.5 325.9 142.9 326.0 133.9 326.1 128.9 326.2 132.0 326.3 137.8 326.4 137.2 326.5 135.3 326.6 135.0 326.7 139.2 326.8 126.7 326.9 131.7 327.0 129.5 327.1 129.5 327.2 118.6 327.3 124.5 327.4 116.5 327.5 130.0 327.6 123.6 327.7 137.7 327.8 126.4 327.9 124.0 328.0 134.6 328.1 135.6 328.2 131.0 328.3 129.7 328.4 113.9 328.5 128.3 328.6 135.9 328.7 124.1 328.8 123.1 328.9 123.1 329.0 122.4 329.1 130.4 329.2 124.9 329.3 122.5 329.4 122.5 329.5 128.9 329.6 121.0 329.7 122.8 329.8 125.5 329.9 129.3 330.0 130.9 330.1 131.1 330.2 136.0 330.3 126.6 330.4 134.2 330.5 126.5 330.6 123.4 330.7 115.6 330.8 124.8 330.9 127.9 331.0 128.5 331.1 127.3 331.2 113.5 331.3 128.1 331.4 119.0 331.5 115.3 331.6 111.7 331.7 105.0 331.8 122.5 331.9 133.1 332.0 118.1 332.1 118.6 332.2 116.5 332.3 123.2 332.4 108.9 332.5 124.2 332.6 117.2 332.7 123.7 332.8 120.0 332.9 112.2 333.0 121.2 333.1 117.4 333.2 115.0 333.3 121.0 333.4 122.0 333.5 116.3 333.6 119.8 333.7 116.1 333.8 113.7 333.9 114.2 334.0 113.5 334.1 116.2 334.2 108.1 334.3 109.5 334.4 108.9 334.5 108.7 334.6 111.6 334.7 117.3 334.8 110.6 334.9 105.8 335.0 107.7 335.1 104.3 335.2 105.7 335.3 101.4 335.4 108.7 335.5 102.0 335.6 96.7 335.7 116.6 335.8 130.1 335.9 114.5 336.0 115.4 336.1 130.0 336.2 123.8 336.3 121.8 336.4 131.5 336.5 125.2 336.6 130.9 336.7 124.6 336.8 126.8 336.9 129.0 337.0 132.2 337.1 124.2 337.2 134.2 337.3 126.2 337.4 133.5 337.5 131.3 337.6 121.4 337.7 129.7 337.8 117.4 337.9 122.9 338.0 126.9 338.1 129.7 338.2 133.1 338.3 134.8 338.4 127.8 338.5 132.5 338.6 136.8 338.7 137.2 338.8 135.7 338.9 128.4 339.0 119.7 339.1 134.9 339.2 120.6 339.3 140.4 339.4 131.4 339.5 128.4 339.6 136.7 339.7 131.2 339.8 132.3 339.9 133.0 340.0 135.3 340.1 133.1 340.2 125.2 340.3 129.8 340.5 135.5 340.6 133.7 340.7 138.7 340.8 131.3 340.9 136.0 341.0 123.1 341.1 122.2 341.2 129.7 341.3 132.7 341.4 138.6 341.5 122.8 341.6 125.7 341.7 133.8 341.8 131.3 341.9 132.6 342.0 126.3 342.1 128.4 342.2 127.0 342.3 123.2 342.4 134.0 342.5 131.0 342.6 130.0 342.7 128.8 342.8 124.0 342.9 133.0 343.0 138.1 343.1 122.0 343.2 136.2 343.3 122.8 343.4 136.6 343.5 118.9 343.6 126.9 343.7 129.9 343.8 116.7 343.9 124.3 344.0 127.1 344.1 127.9 344.2 124.1 344.3 121.0 344.4 106.8 344.5 130.5 344.6 135.7 344.7 133.1 344.8 132.1 344.9 135.7 345.0 126.5 345.1 136.2 345.2 124.4 345.3 138.7 345.4 120.3 345.5 134.1 345.6 131.5 345.7 131.6 345.8 124.6 345.9 125.1 346.0 125.0 346.1 131.6 346.2 124.6 346.3 129.9 346.4 119.8 346.5 129.3 346.6 126.3 346.7 120.0 346.8 130.1 346.9 130.6 347.0 125.2 347.1 127.1 347.2 125.2 347.3 121.5 347.4 120.9 347.5 123.7 347.6 118.2 347.7 127.9 347.8 117.9 347.9 128.5 348.0 118.1 348.1 126.7 348.2 120.1 348.3 124.1 348.4 119.0 348.5 131.3 348.6 124.9 348.7 123.6 348.8 125.2 348.9 115.4 349.0 132.1 349.1 122.3 349.2 130.5 349.3 126.5 349.4 123.9 349.5 125.3 349.6 133.7 349.7 120.8 349.8 104.8 349.9 122.6 350.0 129.0 350.1 123.9 350.2 122.4 350.3 126.6 350.4 130.0 350.5 134.9 350.6 133.5 350.7 129.6 350.8 133.8 350.9 127.3 351.0 124.4 351.1 130.6 351.2 119.8 351.3 127.3 351.4 126.0 351.5 135.2 351.6 132.1 351.7 120.0 351.8 131.9 351.9 123.4 352.0 120.7 352.1 128.6 352.2 126.3 352.3 128.6 352.4 127.8 352.5 118.5 352.6 129.3 352.7 117.9 352.8 115.7 352.9 126.6 353.0 136.1 353.1 132.5 353.2 127.2 353.3 123.4 353.4 132.8 353.5 136.3 353.6 119.7 353.7 117.9 353.8 118.8 353.9 134.4 354.0 140.9 354.1 131.4 354.2 126.8 354.3 127.9 354.4 129.3 354.5 128.5 354.6 131.8 354.7 128.4 354.8 131.7 354.9 122.5 355.0 121.8 355.1 126.5 355.2 115.6 355.3 126.2 355.4 125.6 355.5 131.7 355.6 117.8 355.7 127.8 355.8 124.4 355.9 130.0 356.0 117.1 356.1 128.2 356.2 135.1 356.3 123.6 356.4 115.0 356.5 120.8 356.6 121.5 356.7 121.5 356.8 121.4 356.9 138.8 357.0 131.6 357.1 132.1 357.2 126.6 357.3 126.0 357.4 118.6 357.5 123.6 357.6 125.7 357.7 117.2 357.8 124.3 357.9 113.6 358.0 126.9 358.1 142.3 358.2 132.8 358.3 124.7 358.4 118.2 358.5 115.3 358.6 115.6 358.7 133.2 358.8 136.1 358.9 127.9 359.0 115.1 359.1 122.5 359.2 121.8 359.3 120.9 359.4 118.5 359.5 126.0 359.6 111.8 359.7 126.9 359.8 124.3 359.9 126.7 360.0 120.4 360.1 116.4 360.2 122.5 360.3 114.1 360.4 121.8 360.5 123.7 360.6 123.1 360.7 110.9 360.8 126.2 360.9 125.8 361.0 110.8 361.1 122.7 361.2 120.1 361.3 135.6 361.4 135.5 361.5 130.2 361.6 123.6 361.7 124.8 361.8 120.5 361.9 118.8 362.0 125.5 362.1 127.8 362.2 128.5 362.3 122.9 362.4 122.5 362.5 121.6 362.6 119.6 362.7 119.3 362.8 124.7 362.9 124.9 363.0 114.1 363.1 122.9 363.2 124.3 363.3 121.0 363.4 120.9 363.5 117.1 363.6 126.7 363.7 122.7 363.8 122.6 363.9 103.3 364.0 121.2 364.1 134.8 364.2 128.2 364.3 115.3 364.4 115.1 364.5 122.6 364.6 120.2 364.7 121.3 364.8 126.5 364.9 118.2 365.0 124.2 365.1 139.7 365.2 137.0 365.3 130.4 365.4 126.0 365.5 123.6 365.6 125.5 365.7 119.9 365.8 128.1 365.9 119.0 366.0 118.6 366.1 130.7 366.2 130.0 366.3 118.6 366.4 115.2 366.5 128.6 366.6 127.1 366.7 133.7 366.8 126.5 366.9 124.0 367.0 120.4 367.1 114.5 367.2 121.1 367.3 133.1 367.4 150.7 367.5 137.2 367.6 122.0 367.7 129.9 367.8 131.4 367.9 125.2 368.0 137.1 368.1 124.8 368.2 130.3 368.3 122.0 368.4 132.9 368.5 136.1 368.6 132.0 368.7 128.6 368.8 121.6 368.9 137.9 369.0 123.2 369.1 117.6 369.2 133.6 369.3 133.6 369.4 128.9 369.5 120.7 369.6 125.6 369.7 128.4 369.8 126.8 369.9 124.1 370.0 126.3 370.1 127.0 370.2 132.0 370.3 122.9 370.4 118.9 370.5 129.6 370.6 126.8 370.7 125.2 370.8 134.9 370.9 129.2 371.0 135.2 371.1 131.3 371.2 120.2 371.3 129.3 371.4 140.0 371.5 128.6 371.6 134.9 371.7 125.6 371.8 123.9 371.9 134.5 372.0 112.5 372.1 123.8 372.2 131.4 372.3 123.6 372.4 130.9 372.5 134.1 372.6 121.0 372.7 123.6 372.8 128.9 372.9 124.1 373.0 130.8 373.1 118.3 373.2 112.7 373.3 127.2 373.4 113.0 373.5 124.0 373.6 104.7 373.7 114.6 373.8 119.4 373.9 125.7 374.0 121.7 374.1 120.7 374.2 113.6 374.3 128.7 374.4 128.0 374.5 129.0 374.6 118.5 374.7 128.0 374.8 132.6 374.9 123.9 375.0 126.8 375.1 145.8 375.2 121.0 375.3 134.1 375.4 121.0 375.5 115.6 375.6 124.3 375.7 124.1 375.8 130.7 375.9 126.5 376.0 135.5 376.1 114.8 376.2 119.1 376.3 125.4 376.4 120.5 376.5 127.6 376.6 131.9 376.7 127.7 376.8 128.5 376.9 122.2 377.0 129.2 377.1 137.1 377.2 121.3 377.3 127.2 377.4 130.2 377.5 125.9 377.6 132.0 377.7 113.9 377.8 125.2 377.9 138.5 378.0 142.2 378.1 121.3 378.2 129.8 378.3 133.4 378.4 134.3 378.5 127.5 378.6 135.5 378.7 125.0 378.8 136.7 378.9 122.9 379.0 140.8 379.1 131.4 379.2 126.5 379.3 133.2 379.4 129.4 379.5 132.3 379.6 127.4 379.7 125.0 379.8 136.2 379.9 136.0 380.0 136.5 380.1 126.1 380.2 124.2 380.3 142.2 380.4 126.3 380.5 129.5 380.6 130.9 380.7 133.6 380.8 126.1 380.9 141.1 381.0 125.9 381.1 125.5 381.2 132.7 381.3 127.3 381.4 130.3 381.5 129.9 381.6 132.5 381.7 144.0 381.8 133.6 381.9 127.9 382.0 128.2 382.1 129.7 382.2 127.1 382.3 126.0 382.4 138.7 382.5 140.4 382.6 127.6 382.7 127.4 382.8 143.4 382.9 136.1 383.0 126.9 383.1 121.6 383.2 122.8 383.3 135.1 383.4 127.7 383.5 132.7 383.6 125.0 383.7 124.8 383.8 131.1 383.9 128.9 384.0 141.7 384.1 131.7 384.2 140.5 384.3 135.2 384.4 121.4 384.5 128.8 384.6 138.0 384.7 140.3 384.8 120.7 384.9 128.4 385.0 129.4 385.1 119.0 385.2 139.4 385.3 143.4 385.4 133.2 385.5 139.0 385.6 133.3 385.7 133.9 385.8 138.4 385.9 127.4 386.0 131.0 386.1 127.3 386.2 137.1 386.3 128.7 386.4 140.0 386.5 128.8 386.6 133.7 386.7 131.6 386.8 129.9 386.9 135.5 387.0 140.6 387.1 129.0 387.2 123.5 387.3 129.5 387.4 136.0 387.5 127.2 387.6 127.6 387.7 124.8 387.8 133.2 387.9 124.6 388.0 134.6 388.1 139.9 388.2 130.9 388.3 133.7 388.4 126.2 388.5 136.9 388.6 130.4 388.7 129.3 388.8 127.3 388.9 137.4 389.0 141.6 389.1 130.4 389.2 135.8 389.3 128.1 389.4 141.5 389.5 140.7 389.6 134.5 389.7 130.6 389.8 136.2 389.9 135.2 390.0 137.0 390.1 128.9 390.2 141.5 390.3 134.5 390.4 137.5 390.5 138.5 390.6 143.4 390.7 144.1 390.8 135.2 390.9 134.1 391.0 137.0 391.1 128.6 391.2 140.2 391.3 137.9 391.4 129.4 391.5 142.4 391.6 138.2 391.7 145.6 391.8 139.2 391.9 139.8 392.0 137.5 392.1 137.1 392.2 130.0 392.3 136.2 392.4 134.1 392.5 117.3 392.6 143.4 392.7 143.9 392.8 148.9 392.9 143.6 393.0 146.9 393.1 135.1 393.2 147.4 393.3 131.2 393.4 136.3 393.5 141.1 393.6 136.3 393.7 144.0 393.8 126.9 393.9 134.3 394.0 135.3 394.1 124.9 394.2 129.7 394.3 133.1 394.4 134.3 394.5 135.8 394.6 129.8 394.7 131.3 394.8 133.4 394.9 127.9 395.0 118.8 395.1 121.0 395.2 131.2 395.3 123.6 395.4 121.4 395.5 125.0 395.6 127.2 395.7 128.5 395.8 126.8 395.9 137.8 396.0 124.9 396.1 134.9 396.2 124.8 396.3 117.8 396.4 128.8 396.5 136.9 396.6 135.1 396.7 126.8 396.8 124.1 396.9 128.1 397.0 122.7 397.1 122.9 397.2 125.9 397.3 111.8 397.4 122.8 397.5 121.6 397.6 124.0 397.7 113.2 397.8 113.1 397.9 122.1 398.0 127.4 398.1 126.4 398.2 120.0 398.3 120.5 398.4 127.1 398.5 122.7 398.6 121.3 398.7 114.1 398.8 112.2 398.9 127.1 399.0 132.5 399.1 120.5 399.2 114.3 399.3 120.2 399.4 121.6 399.5 118.5 399.6 116.6 399.7 125.2 399.8 131.3 399.9 124.2 400.0 129.9 400.1 131.8 400.2 122.8 400.3 123.1 400.4 123.6 400.5 122.0 400.6 120.0 400.7 126.8 400.8 118.8 400.9 117.6 401.0 120.3 401.1 120.4 401.2 116.8 401.3 123.6 401.4 126.9 401.5 123.0 401.6 117.7 401.7 125.5 401.8 110.3 401.9 109.1 402.0 127.3 402.1 133.2 402.2 128.3 402.3 122.2 402.4 131.5 402.5 126.4 402.6 116.1 402.7 127.0 402.8 126.6 402.9 127.7 403.0 133.0 403.1 126.4 403.2 120.0 403.3 123.8 403.4 122.4 403.5 129.6 403.6 129.6 403.7 126.4 403.8 136.7 403.9 131.6 404.0 136.9 404.1 127.2 404.2 124.1 404.3 130.6 404.4 143.4 404.5 144.2 404.6 141.1 404.7 133.9 404.8 139.0 404.9 138.2 405.0 134.5 405.1 129.0 405.2 133.4 405.3 128.5 405.4 134.4 405.5 130.5 405.6 122.1 405.7 129.7 405.8 130.7 405.9 130.5 406.0 130.0 406.1 121.3 406.2 117.9 406.3 130.7 406.4 129.7 406.5 135.7 406.6 134.7 406.7 129.5 406.8 121.2 406.9 129.1 407.0 129.0 407.1 134.8 407.2 133.8 407.3 131.4 407.4 130.8 407.5 131.5 407.6 130.3 407.7 117.6 407.8 123.8 407.9 138.2 408.0 132.5 408.1 136.3 408.2 126.5 408.3 127.7 408.4 132.5 408.5 133.3 408.6 118.0 408.7 127.7 408.8 125.1 408.9 132.9 409.0 124.9 409.1 117.3 409.2 110.6 409.3 131.4 409.4 121.1 409.5 118.8 409.6 129.9 409.7 127.1 409.8 134.7 409.9 123.2 410.0 124.7 410.1 130.1 410.2 117.4 410.3 115.4 410.4 124.8 410.5 136.0 410.6 126.3 410.7 116.5 410.8 122.8 410.9 111.8 411.0 121.4 411.1 108.3 411.2 121.4 411.3 116.1 411.4 109.0 411.5 120.3 411.6 121.0 411.7 120.7 411.8 109.7 411.9 114.2 412.0 116.7 412.1 123.1 412.2 109.7 412.3 118.3 412.4 116.6 412.5 120.6 412.6 117.4 412.7 110.1 412.8 108.3 412.9 112.4 413.0 119.9 413.1 112.7 413.2 116.7 413.3 121.4 413.4 118.1 413.5 122.2 413.6 120.1 413.7 122.5 413.8 122.4 413.9 113.4 414.0 109.6 414.1 121.1 414.2 121.9 414.3 124.0 414.4 109.3 414.5 122.7 414.6 116.2 414.7 127.8 414.8 126.8 414.9 114.4 415.0 111.5 415.1 121.2 415.2 118.3 415.3 115.5 415.4 124.7 415.5 129.7 415.6 121.2 415.7 120.8 415.8 121.2 415.9 123.0 416.0 118.8 416.1 123.6 416.2 111.4 416.3 107.5 416.4 121.9 416.5 123.2 416.6 125.0 416.7 112.0 416.8 114.6 416.9 133.7 417.0 129.7 417.1 126.2 417.2 126.7 417.3 120.1 417.4 115.0 417.5 124.6 417.6 124.2 417.7 120.7 417.8 114.8 417.9 129.1 418.0 131.3 418.1 127.1 418.2 130.7 418.3 123.4 418.4 121.1 418.5 130.6 418.6 121.0 418.7 127.8 418.8 138.2 418.9 117.7 419.0 122.1 419.1 125.7 419.2 130.9 419.3 132.6 419.4 123.7 419.5 135.0 419.6 124.3 419.7 139.5 419.8 142.2 419.9 132.9 420.0 131.8 420.1 130.5 420.2 128.4 420.3 121.5 420.4 121.0 420.5 138.3 420.6 126.9 420.7 124.6 420.8 134.3 420.9 138.8 421.0 134.3 421.1 137.0 421.2 134.8 421.3 142.1 421.4 136.8 421.5 134.7 421.6 142.3 421.7 128.2 421.8 132.5 421.9 128.3 422.0 124.5 422.1 125.0 422.2 129.5 422.3 141.4 422.4 135.2 422.5 137.9 422.6 138.0 422.7 130.5 422.8 132.2 422.9 135.0 423.0 136.5 423.1 128.6 423.2 122.0 423.3 117.4 423.4 118.3 423.5 137.7 423.6 135.1 423.7 127.1 423.8 132.9 423.9 131.5 424.0 123.2 424.1 136.2 424.2 132.1 424.3 131.7 424.4 134.7 424.5 122.4 424.6 135.7 424.7 132.0 424.8 124.3 424.9 129.5 425.0 145.5 425.1 131.6 425.2 128.0 425.3 134.4 425.4 136.4 425.5 129.6 425.6 141.7 425.7 137.9 425.8 143.6 425.9 138.0 426.0 131.8 426.1 135.7 426.2 132.1 426.3 128.6 426.4 131.9 426.5 134.0 426.6 138.6 426.7 143.2 426.8 137.4 426.9 142.7 427.0 132.6 427.1 134.7 427.2 142.0 427.3 136.1 427.4 136.5 427.5 144.5 427.6 148.9 427.7 150.4 427.8 146.5 427.9 144.3 428.0 129.0 428.1 159.3 428.2 165.9 428.3 158.1 428.4 148.8 428.5 152.8 428.6 160.7 428.7 159.6 428.8 156.7 428.9 149.9 429.0 137.6 429.1 154.4 429.2 130.5 429.3 133.3 429.4 152.1 429.5 164.9 429.6 147.1 429.7 133.2 429.8 137.0 429.9 137.3 430.0 128.7 430.1 140.7 430.2 133.5 430.3 134.1 430.4 127.8 430.5 128.8 430.6 129.7 430.7 142.8 430.8 142.1 430.9 134.4 431.0 130.1 431.1 142.3 431.2 137.8 431.3 128.1 431.4 125.8 431.5 127.7 431.6 135.1 431.7 125.6 431.8 123.9 431.9 127.5 432.0 130.3 432.1 127.2 432.2 121.9 432.3 130.2 432.4 118.7 432.5 121.8 432.6 128.8 432.7 120.6 432.8 114.2 432.9 116.5 433.0 124.7 433.1 129.3 433.2 117.5 433.3 121.4 433.4 131.9 433.5 119.3 433.6 126.3 433.7 113.9 433.8 117.0 433.9 115.9 434.0 121.3 434.1 125.0 434.2 126.3 434.3 122.8 434.4 119.5 434.5 111.0 434.6 126.5 434.7 115.6 434.8 110.4 434.9 124.9 435.0 118.1 435.1 112.4 435.2 118.9 435.3 112.0 435.4 112.2 435.5 106.1 435.6 118.0 435.7 105.6 435.8 114.1 435.9 116.5 436.0 100.0 436.1 90.3 436.2 114.0 436.3 121.1 436.4 124.2 436.5 111.6 436.6 112.6 436.7 111.3 436.8 114.2 436.9 109.4 437.0 107.1 437.1 111.9 437.2 111.6 437.3 108.3 437.4 108.9 437.5 109.0 437.6 105.1 437.7 110.8 437.8 105.5 437.9 98.6 438.0 111.8 438.1 110.7 438.2 97.7 438.3 99.7 438.4 89.3 438.5 88.5 438.6 122.5 438.7 120.4 438.8 104.3 438.9 114.0 439.0 107.5 439.1 101.1 439.2 103.6 439.3 114.9 439.4 111.0 439.5 99.9 439.6 108.4 439.7 97.5 439.8 115.2 439.9 113.1 440.0 120.2 440.1 107.2 440.2 116.2 440.3 119.0 440.4 113.7 440.5 110.6 440.6 119.4 440.7 100.9 440.8 99.7 440.9 113.1 441.0 115.7 441.1 124.0 441.2 117.5 441.3 111.3 441.4 121.1 441.5 112.4 441.6 114.6 441.7 116.9 441.8 113.5 441.9 125.8 442.0 122.1 442.1 119.3 442.2 125.9 442.3 123.2 442.4 123.4 442.5 122.1 442.6 125.3 442.7 114.8 442.8 139.4 442.9 127.6 443.0 127.8 443.1 119.8 443.2 127.8 443.3 118.5 443.4 122.9 443.5 119.4 443.6 121.8 443.7 128.4 443.8 123.1 443.9 127.5 444.0 128.3 444.1 120.4 444.2 135.2 444.3 127.6 444.4 135.8 444.5 137.2 444.6 122.4 444.7 142.0 444.8 142.5 444.9 139.0 445.0 137.7 445.1 135.7 445.2 137.0 445.3 130.6 445.4 139.3 445.5 131.7 445.6 133.9 445.7 141.9 445.8 149.0 445.9 131.0 446.0 139.7 446.1 135.3 446.2 152.2 446.3 153.5 446.4 135.1 446.5 149.7 446.6 148.2 446.7 142.2 446.8 134.8 446.9 144.5 447.0 133.7 447.1 149.0 447.2 141.4 447.3 142.7 447.4 145.1 447.5 140.5 447.6 141.9 447.7 134.2 447.8 133.3 447.9 124.9 448.0 126.7 448.1 141.1 448.2 132.4 448.3 127.8 448.4 130.3 448.5 118.7 448.6 134.5 448.7 131.6 448.8 133.3 448.9 135.2 449.0 134.6 449.1 133.4 449.2 122.7 449.3 126.4 449.4 127.1 449.5 117.2 449.6 134.5 449.7 139.4 449.8 124.9 449.9 124.1 450.0 129.0 450.1 112.8 450.2 97.4 450.3 114.8 450.4 123.5 450.5 123.7 450.6 124.5 450.7 106.6 450.8 115.2 450.9 112.1 451.0 120.8 451.1 105.7 451.2 106.3 451.3 96.3 451.4 108.3 451.5 104.5 451.6 112.0 451.7 108.7 451.8 115.6 451.9 100.8 452.0 117.5 452.1 108.3 452.2 109.5 452.3 94.1 452.4 92.4 452.5 95.1 452.6 109.6 452.7 104.4 452.8 108.8 452.9 104.3 453.0 104.7 453.1 93.6 453.2 102.4 453.3 106.8 453.4 97.7 453.5 98.2 453.6 97.1 453.7 99.0 453.8 94.2 453.9 109.9 454.0 107.3 454.1 99.1 454.2 101.8 454.3 106.0 454.4 103.6 454.5 103.9 454.6 115.9 454.7 107.0 454.8 111.7 454.9 110.9 455.0 101.6 455.1 102.1 455.2 102.1 455.3 112.0 455.4 114.6 455.5 116.4 455.6 122.2 455.7 115.1 455.8 116.3 455.9 115.3 456.0 121.4 456.1 118.3 456.2 122.6 456.3 117.3 456.4 116.9 456.5 110.1 456.6 116.3 456.7 117.5 456.8 122.8 456.9 109.7 457.0 123.2 457.1 128.2 457.2 115.7 457.3 120.1 457.4 128.0 457.5 113.0 457.6 130.8 457.7 118.5 457.8 131.1 457.9 128.7 458.0 136.2 458.1 123.7 458.2 120.4 458.3 129.3 458.4 122.0 458.5 128.9 458.6 121.1 458.7 135.1 458.8 128.1 458.9 140.8 459.0 131.9 459.1 142.4 459.2 131.3 459.3 142.3 459.4 130.8 459.5 129.0 459.6 120.6 459.7 132.6 459.8 133.5 459.9 126.9 460.0 126.7 460.1 120.8 460.2 135.0 460.3 120.0 460.4 137.3 460.5 128.1 460.6 137.4 460.7 126.7 460.8 125.5 460.9 129.2 461.0 131.9 461.1 131.4 461.2 124.1 461.3 135.3 461.4 130.7 461.5 127.7 461.6 120.9 461.7 129.3 461.8 127.8 461.9 122.5 462.0 123.4 462.1 116.1 462.2 112.0 462.3 131.3 462.4 130.5 462.5 125.0 462.6 128.0 462.7 120.0 462.8 118.9 462.9 124.5 463.0 113.1 463.1 123.7 463.2 119.6 463.3 125.9 463.4 128.3 463.5 125.7 463.6 120.5 463.7 116.6 463.8 117.6 463.9 125.9 464.0 122.1 464.1 119.5 464.2 112.9 464.3 124.0 464.4 114.7 464.5 129.1 464.6 121.3 464.7 130.3 464.8 122.6 464.9 108.6 465.0 122.4 465.1 114.1 465.2 109.0 465.3 109.6 465.4 125.5 465.5 121.0 465.6 113.5 465.7 114.5 465.8 113.2 465.9 109.5 466.0 123.3 466.1 112.0 466.2 106.7 466.3 119.6 466.4 115.4 466.5 104.8 466.6 113.7 466.7 125.3 466.8 130.6 466.9 114.8 467.0 108.4 467.1 114.8 467.2 122.2 467.3 121.5 467.4 112.8 467.5 124.0 467.6 120.6 467.7 128.2 467.8 124.4 467.9 128.3 468.0 121.8 468.1 126.4 468.2 128.4 468.3 113.2 468.4 119.4 468.5 124.5 468.6 129.2 468.7 130.3 468.8 129.1 468.9 130.6 469.0 118.1 469.1 126.6 469.2 119.7 469.3 132.9 469.4 123.2 469.5 131.5 469.6 125.0 469.7 118.3 469.8 131.2 469.9 122.1 470.0 117.3 470.1 127.7 470.2 119.5 470.3 125.1 470.4 131.9 470.5 129.3 470.6 128.8 470.7 117.2 470.8 131.9 470.9 150.4 471.0 126.4 471.1 130.5 471.2 142.8 471.3 131.8 471.4 124.9 471.5 135.3 471.6 130.7 471.7 139.5 471.8 129.8 471.9 143.2 472.0 153.3 472.1 146.1 472.2 132.6 472.3 135.2 472.4 131.5 472.5 138.8 472.6 141.3 472.7 125.3 472.8 136.3 472.9 134.5 473.0 142.4 473.1 141.4 473.2 133.8 473.3 132.5 473.4 141.1 473.5 139.1 473.6 135.9 473.7 128.5 473.8 136.5 473.9 125.1 474.0 120.0 474.1 120.8 474.2 134.3 474.3 132.3 474.4 137.5 474.5 133.2 474.6 130.4 474.7 139.4 474.8 134.8 474.9 131.5 475.0 129.1 475.1 131.7 475.2 134.2 475.3 138.0 475.4 139.3 475.5 128.8 475.6 133.5 475.7 132.5 475.8 122.1 475.9 134.5 476.0 124.0 476.1 127.1 476.2 125.2 476.3 126.3 476.4 121.8 476.5 126.4 476.6 130.1 476.7 125.0 476.8 126.0 476.9 136.3 477.0 127.8 477.1 117.6 477.2 122.7 477.3 117.9 477.4 129.2 477.5 123.5 477.6 115.0 477.7 125.7 477.8 122.2 477.9 131.1 478.0 116.9 478.1 119.1 478.2 126.3 478.3 125.5 478.4 115.2 478.5 124.8 478.6 126.9 478.7 118.3 478.8 118.6 478.9 112.4 479.0 114.3 479.1 121.9 479.2 116.9 479.3 109.8 479.4 120.1 479.5 141.3 479.6 130.1 479.7 125.6 479.8 123.9 479.9 112.6 480.0 114.2 480.1 122.2 480.2 130.4 480.3 123.5 480.4 117.6 480.5 121.1 480.6 111.3 480.7 125.0 480.8 123.7 480.9 119.0 481.0 118.1 481.1 120.5 481.2 121.1 481.3 122.1 481.4 120.3 481.5 125.9 481.6 113.4 481.7 117.8 481.8 124.5 481.9 123.2 482.0 124.6 482.1 130.1 482.2 128.4 482.3 136.4 482.4 127.5 482.5 137.0 482.6 135.6 482.7 125.8 482.8 126.6 482.9 134.2 483.0 118.3 483.1 121.9 483.2 125.4 483.3 113.9 483.4 122.3 483.5 140.1 483.6 137.2 483.7 127.3 483.8 110.6 483.9 116.6 484.0 141.3 484.1 136.0 484.2 126.8 484.3 142.3 484.4 129.7 484.5 129.9 484.6 126.6 484.7 131.5 484.8 131.6 484.9 136.6 485.0 122.2 485.1 127.0 485.2 128.8 485.3 132.2 485.4 138.9 485.5 144.1 485.6 135.4 485.7 133.2 485.8 132.7 485.9 142.7 486.0 138.5 486.1 137.1 486.2 130.9 486.3 136.1 486.4 141.0 486.5 143.2 486.6 141.4 486.7 129.0 486.8 124.9 486.9 136.8 487.0 143.8 487.1 138.0 487.2 125.7 487.3 131.5 487.4 142.7 487.5 127.9 487.6 130.9 487.7 135.1 487.8 130.4 487.9 137.8 488.0 127.9 488.1 131.0 488.2 134.3 488.3 131.4 488.4 131.7 488.5 127.0 488.6 133.7 488.7 141.8 488.8 134.8 488.9 119.4 489.0 136.5 489.1 124.7 489.2 132.0 489.3 127.3 489.4 125.5 489.5 124.8 489.6 120.1 489.7 119.2 489.8 133.7 489.9 120.8 490.0 131.3 490.1 128.2 490.2 120.5 490.3 114.5 490.4 121.9 490.5 118.8 490.6 115.2 490.7 116.6 490.8 123.4 490.9 109.6 491.0 108.8 491.1 117.4 491.2 111.6 491.3 117.7 491.4 111.3 491.5 117.0 491.6 101.8 491.7 118.0 491.8 109.7 491.9 103.2 492.0 107.3 492.1 112.2 492.2 124.0 492.3 107.1 492.4 106.1 492.5 113.0 492.6 111.2 492.7 106.1 492.8 103.2 492.9 86.4 493.0 81.0 493.1 103.6 493.2 118.0 493.3 119.8 493.4 108.6 493.5 112.0 493.6 105.9 493.7 114.7 493.8 108.3 493.9 110.9 494.0 111.9 494.1 104.6 494.2 106.7 494.3 100.5 494.4 104.8 494.5 120.5 494.6 109.3 494.7 105.2 494.8 105.8 494.9 116.7 495.0 119.7 495.1 102.2 495.2 101.1 495.3 119.9 495.4 124.5 495.5 111.8 495.6 118.9 495.7 122.7 495.8 113.3 495.9 114.6 496.0 120.7 496.1 113.5 496.2 119.5 496.3 113.2 496.4 121.2 496.5 121.9 496.6 128.4 496.7 118.0 496.8 127.0 496.9 116.0 497.0 120.7 497.1 129.3 497.2 114.1 497.3 120.5 497.4 136.1 497.5 128.6 497.6 132.6 497.7 128.0 497.8 123.7 497.9 123.4 498.0 132.4 498.1 142.7 498.2 124.9 498.3 137.7 498.4 128.7 498.5 137.1 498.6 136.4 498.7 137.5 498.8 133.3 498.9 135.6 499.0 144.4 499.1 139.4 499.2 129.5 499.3 125.0 499.4 140.1 499.5 141.1 499.6 130.2 499.7 137.6 499.8 150.6 499.9 139.1 500.0 142.2 500.1 138.3 500.2 143.1 500.3 135.2 500.4 126.9 500.5 132.2 500.6 135.4 500.7 131.4 500.8 135.0 500.9 139.1 501.0 123.7 501.1 133.5 501.2 124.9 501.3 140.4 501.4 126.9 501.5 136.4 501.6 131.7 501.7 132.4 501.8 130.7 501.9 121.2 502.0 129.8 502.1 128.4 502.2 127.8 502.3 127.0 502.4 132.1 502.5 133.2 502.6 126.7 502.7 117.4 502.8 124.8 502.9 124.5 503.0 119.5 503.1 124.6 503.2 116.6 503.3 119.4 503.4 119.5 503.5 113.5 503.6 110.9 503.7 123.0 503.8 136.3 503.9 126.2 504.0 113.3 504.1 126.1 504.2 114.3 504.3 113.7 504.4 124.4 504.5 116.1 504.6 103.6 504.7 107.3 504.8 106.7 504.9 112.0 505.0 106.4 505.1 111.1 505.2 99.1 505.3 93.4 505.4 97.3 505.5 101.5 505.6 108.3 505.7 108.4 505.8 106.5 505.9 103.1 506.0 97.2 506.1 95.1 506.2 97.1 506.3 97.8 506.4 85.2 506.5 98.8 506.6 120.5 506.7 100.9 506.8 103.7 506.9 94.6 507.0 101.5 507.1 103.4 507.2 109.3 507.3 108.0 507.4 106.9 507.5 99.4 507.6 109.1 507.7 106.4 507.8 111.3 507.9 114.9 508.0 108.8 508.1 111.0 508.2 122.0 508.3 112.5 508.4 112.5 508.5 115.8 508.6 114.1 508.7 111.4 508.8 103.8 508.9 113.8 509.0 117.8 509.1 117.5 509.2 113.9 509.3 127.8 509.4 107.0 509.5 108.9 509.6 119.5 509.7 118.4 509.8 120.9 509.9 119.2 510.0 124.2 510.1 111.0 510.2 123.4 510.3 116.2 510.4 118.1 510.5 124.4 510.6 125.6 510.7 118.9 510.8 120.6 510.9 128.4 511.0 127.7 511.1 125.8 511.2 121.2 511.3 129.0 511.4 126.7 511.5 138.5 511.6 123.6 511.7 116.1 511.8 150.7 511.9 141.6 512.0 125.7 512.1 139.0 512.2 123.8 512.3 137.2 512.4 125.1 512.5 135.8 512.6 129.2 512.7 138.7 512.8 134.6 512.9 137.7 513.0 145.1 513.1 145.7 513.2 150.8 513.3 150.5 513.4 136.8 513.5 142.0 513.6 145.6 513.7 162.5 513.8 145.6 513.9 155.0 514.0 147.7 514.1 145.9 514.2 148.3 514.3 156.7 514.4 142.4 514.5 145.7 514.6 135.3 514.7 150.3 514.8 137.0 514.9 141.4 515.0 137.0 515.1 152.0 515.2 149.3 515.3 136.5 515.4 143.0 515.5 148.6 515.6 141.5 515.7 135.4 515.8 138.7 515.9 129.6 516.0 136.9 516.1 133.5 516.2 149.4 516.3 139.3 516.4 138.5 516.5 131.1 516.6 138.5 516.7 136.7 516.8 132.7 516.9 137.2 517.0 126.1 517.1 119.6 517.2 147.6 517.3 154.2 517.4 130.2 517.5 139.8 517.6 144.9 517.7 129.9 517.8 145.9 517.9 137.3 518.0 127.8 518.1 139.3 518.2 139.9 518.3 129.6 518.4 137.7 518.5 133.6 518.6 135.8 518.7 142.0 518.8 124.3 518.9 134.5 519.0 128.5 519.1 133.3 519.2 127.2 519.3 130.5 519.4 132.1 519.5 131.7 519.6 122.7 519.7 135.6 519.8 123.2 519.9 124.0 520.0 134.1 520.1 125.4 520.2 128.2 520.3 121.5 520.4 123.6 520.5 130.7 520.6 140.6 520.7 130.6 520.8 122.7 520.9 122.8 521.0 120.5 521.1 121.4 521.2 116.8 521.3 117.3 521.4 116.8 521.5 117.5 521.6 121.6 521.7 118.8 521.8 122.0 521.9 124.2 522.0 128.6 522.1 110.5 522.2 124.1 522.3 131.9 522.4 124.8 522.5 120.7 522.6 118.7 522.7 120.7 522.8 125.4 522.9 115.5 523.0 107.5 523.1 121.5 523.2 117.9 523.3 114.5 523.4 127.7 523.5 125.9 523.6 119.9 523.7 116.6 523.8 124.9 523.9 122.1 524.0 120.1 524.1 114.7 524.2 127.2 524.3 118.4 524.4 129.5 524.5 123.2 524.6 122.6 524.7 112.2 524.8 115.2 524.9 120.4 525.0 120.3 525.1 127.1 525.2 121.0 525.3 121.1 525.4 99.2 525.5 89.1 525.6 122.5 525.7 118.6 525.8 129.2 525.9 116.4 526.0 122.3 526.1 108.0 526.2 118.2 526.3 113.6 526.4 110.5 526.5 127.1 526.6 114.2 526.7 115.3 526.8 115.7 526.9 106.9 527.0 100.7 527.1 127.9 527.2 128.2 527.3 132.3 527.4 128.3 527.5 131.3 527.6 123.3 527.7 126.9 527.8 131.8 527.9 127.8 528.0 123.5 528.1 118.2 528.2 116.9 528.3 122.3 528.4 124.7 528.5 114.6 528.6 120.7 528.7 120.8 528.8 121.7 528.9 123.4 529.0 128.8 529.1 120.4 529.2 143.3 529.3 122.3 529.4 115.0 529.5 120.6 529.6 116.6 529.7 129.8 529.8 129.4 529.9 122.1 530.0 124.7 530.1 119.1 530.2 132.9 530.3 122.1 530.4 128.6 530.5 127.1 530.6 129.3 530.7 128.0 530.8 124.3 530.9 120.6 531.0 130.8 531.1 125.8 531.2 126.0 531.3 123.7 531.4 126.8 531.5 110.6 531.6 140.0 531.7 140.9 531.8 124.5 531.9 125.6 532.0 130.0 532.1 134.1 532.2 120.9 532.3 134.5 532.4 120.5 532.5 117.4 532.6 121.7 532.7 131.2 532.8 132.5 532.9 138.2 533.0 131.4 533.1 131.0 533.2 131.2 533.3 125.5 533.4 123.6 533.5 123.7 533.6 136.3 533.7 117.3 533.8 131.4 533.9 123.8 534.0 126.3 534.1 124.5 534.2 123.4 534.3 136.4 534.4 131.6 534.5 124.3 534.6 132.6 534.7 133.5 534.8 131.7 534.9 131.4 535.0 124.4 535.1 131.5 535.2 127.9 535.3 118.8 535.4 126.4 535.5 115.0 535.6 133.7 535.7 117.7 535.8 128.8 535.9 126.5 536.0 123.7 536.1 129.9 536.2 120.3 536.3 128.6 536.4 116.7 536.5 117.3 536.6 140.7 536.7 132.2 536.8 131.8 536.9 122.8 537.0 125.5 537.1 120.8 537.2 132.6 537.3 121.4 537.4 124.0 537.5 117.3 537.6 123.2 537.7 133.2 537.8 111.9 537.9 117.0 538.0 126.7 538.1 119.9 538.2 130.2 538.3 126.4 538.4 123.7 538.5 121.6 538.6 132.6 538.7 123.8 538.8 119.6 538.9 118.1 539.0 122.2 539.1 123.7 539.2 122.8 539.3 124.4 539.4 124.5 539.5 115.2 539.6 120.6 539.7 137.9 539.8 120.1 539.9 113.1 540.0 125.9 540.1 126.8 540.2 118.2 540.3 119.2 540.4 115.1 540.6 123.5 540.7 114.1 540.8 126.0 540.9 120.5 541.0 120.3 541.1 122.8 541.2 131.3 541.3 121.8 541.4 118.6 541.5 121.6 541.6 120.7 541.7 112.8 541.8 133.4 541.9 122.8 542.0 128.2 542.1 125.1 542.2 131.4 542.3 116.3 542.4 126.5 542.5 129.4 542.6 120.4 542.7 130.4 542.8 128.4 542.9 124.9 543.0 123.4 543.1 119.2 543.2 125.3 543.3 118.1 543.4 129.7 543.5 135.9 543.6 130.0 543.7 114.5 543.8 122.2 543.9 122.6 544.0 115.0 544.1 121.7 544.2 117.9 544.3 119.1 544.4 114.7 544.5 120.6 544.6 132.3 544.7 119.3 544.8 114.8 544.9 127.1 545.0 124.6 545.1 117.1 545.2 133.0 545.3 123.7 545.4 129.9 545.5 126.3 545.6 122.8 545.7 118.3 545.8 129.4 545.9 124.4 546.0 131.2 546.1 123.1 546.2 115.9 546.3 126.0 546.4 123.4 546.5 118.8 546.6 114.3 546.7 115.7 546.8 119.7 546.9 129.4 547.0 109.8 547.1 122.1 547.2 133.7 547.3 127.2 547.4 119.9 547.5 112.0 547.6 113.9 547.7 119.9 547.8 126.7 547.9 126.4 548.0 114.8 548.1 112.8 548.2 123.5 548.3 121.0 548.4 129.2 548.5 125.6 548.6 117.6 548.7 118.4 548.8 110.4 548.9 118.6 549.0 125.8 549.1 119.8 549.2 122.4 549.3 118.9 549.4 114.1 549.5 129.3 549.6 119.0 549.7 122.1 549.8 106.7 549.9 124.7 550.0 115.4 550.1 115.2 550.2 122.7 550.3 122.0 550.4 117.6 550.5 118.4 550.6 119.9 550.7 117.8 550.8 121.4 550.9 121.1 551.0 116.9 551.1 109.4 551.2 115.3 551.3 106.4 551.4 103.0 551.5 113.1 551.6 111.3 551.7 121.0 551.8 119.7 551.9 121.9 552.0 105.1 552.1 106.6 552.2 113.0 552.3 107.5 552.4 117.1 552.5 111.7 552.6 105.2 552.7 102.5 552.8 99.9 552.9 110.4 553.0 117.6 553.1 118.1 553.2 120.3 553.3 106.7 553.4 107.7 553.5 104.4 553.6 111.7 553.7 99.3 553.8 102.7 553.9 116.8 554.0 107.4 554.1 105.7 554.2 113.0 554.3 113.9 554.4 119.4 554.5 112.6 554.6 113.2 554.7 116.6 554.8 112.6 554.9 113.9 555.0 111.1 555.1 130.3 555.2 117.7 555.3 116.7 555.4 104.2 555.5 110.1 555.6 108.9 555.7 120.1 555.8 108.3 555.9 125.3 556.0 127.3 556.1 114.7 556.2 113.1 556.3 123.9 556.4 113.2 556.5 110.2 556.6 123.1 556.7 124.5 556.8 125.3 556.9 125.8 557.0 124.7 557.1 112.7 557.2 125.6 557.3 121.9 557.4 121.9 557.5 122.0 557.6 125.3 557.7 131.5 557.8 126.3 557.9 129.1 558.0 126.6 558.1 123.0 558.2 124.7 558.3 117.5 558.4 124.2 558.5 120.8 558.6 125.0 558.7 133.3 558.8 130.3 558.9 132.3 559.0 124.9 559.1 137.2 559.2 129.9 559.3 128.3 559.4 136.4 559.5 139.2 559.6 126.1 559.7 125.6 559.8 137.2 559.9 124.5 560.0 129.6 560.1 134.5 560.2 131.5 560.3 120.6 560.4 139.4 560.5 145.3 560.6 131.1 560.7 141.7 560.8 135.4 560.9 134.2 561.0 133.3 561.1 137.5 561.2 129.0 561.3 136.9 561.4 129.6 561.5 129.4 561.6 141.6 561.7 133.9 561.8 141.8 561.9 122.7 562.0 150.1 562.1 134.4 562.2 139.8 562.3 143.2 562.4 135.6 562.5 121.4 562.6 130.3 562.7 126.6 562.8 133.8 562.9 123.7 563.0 134.1 563.1 125.3 563.2 121.4 563.3 129.2 563.4 131.8 563.5 119.1 563.6 130.2 563.7 126.0 563.8 113.6 563.9 135.0 564.0 147.6 564.1 123.1 564.2 117.6 564.3 127.2 564.4 123.5 564.5 134.6 564.6 127.5 564.7 138.1 564.8 121.3 564.9 130.6 565.0 117.5 565.1 125.7 565.2 133.3 565.3 117.3 565.4 122.1 565.5 125.1 565.6 125.1 565.7 129.6 565.8 131.5 565.9 123.6 566.0 130.7 566.1 119.2 566.2 130.7 566.3 131.2 566.4 131.5 566.5 121.0 566.6 119.7 566.7 122.6 566.8 120.6 566.9 124.0 567.0 130.2 567.1 130.7 567.2 127.1 567.3 129.8 567.4 117.6 567.5 129.3 567.6 122.1 567.7 126.2 567.8 141.5 567.9 128.2 568.0 129.5 568.1 119.9 568.2 127.7 568.3 129.0 568.4 116.4 568.5 122.7 568.6 116.8 568.7 118.6 568.8 130.0 568.9 135.1 569.0 132.5 569.1 116.2 569.2 130.4 569.3 129.1 569.4 112.7 569.5 117.5 569.6 132.2 569.7 133.8 569.8 129.5 569.9 126.6 570.0 121.0 570.1 123.8 570.2 136.0 570.3 122.8 570.4 128.3 570.5 124.3 570.6 129.0 570.7 121.8 570.8 128.0 570.9 122.1 571.0 129.6 571.1 120.2 571.2 136.5 571.3 123.0 571.4 132.8 571.5 113.4 571.6 129.6 571.7 136.5 571.8 134.6 571.9 131.9 572.0 124.0 572.1 118.4 572.2 124.7 572.3 128.1 572.4 125.3 572.5 116.7 572.6 131.4 572.7 115.9 572.8 129.8 572.9 127.6 573.0 124.9 573.1 127.0 573.2 131.3 573.3 118.7 573.4 144.7 573.5 133.4 573.6 128.2 573.7 127.9 573.8 128.5 573.9 119.0 574.0 130.1 574.1 128.5 574.2 127.4 574.3 127.5 574.4 133.7 574.5 130.1 574.6 127.5 574.7 123.2 574.8 115.9 574.9 131.6 575.0 124.4 575.1 111.5 575.2 114.4 575.3 122.8 575.4 123.9 575.5 127.2 575.6 120.0 575.7 131.0 575.8 129.2 575.9 135.4 576.0 130.0 576.1 122.6 576.2 128.3 576.3 126.9 576.4 128.1 576.5 124.0 576.6 124.8 576.7 128.2 576.8 130.1 576.9 113.2 577.0 128.4 577.1 134.1 577.2 137.5 577.3 112.5 577.4 115.3 577.5 123.3 577.6 115.9 577.7 120.4 577.8 121.8 577.9 122.8 578.0 116.5 578.1 123.9 578.2 118.9 578.3 128.3 578.4 120.6 578.5 119.2 578.6 126.2 578.7 119.6 578.8 123.8 578.9 119.9 579.0 117.8 579.1 122.0 579.2 118.1 579.3 130.2 579.4 121.5 579.5 124.4 579.6 130.3 579.7 122.3 579.8 121.2 579.9 112.4 580.0 107.7 580.1 120.7 580.2 125.3 580.3 127.1 580.4 120.2 580.5 123.5 580.6 118.9 580.7 115.4 580.8 122.9 580.9 111.9 581.0 122.3 581.1 118.0 581.2 117.1 581.3 115.8 581.4 109.1 581.5 121.5 581.6 113.0 581.7 124.2 581.8 115.1 581.9 113.7 582.0 114.5 582.1 126.9 582.2 139.4 582.3 121.5 582.4 120.7 582.5 124.3 582.6 120.0 582.7 120.9 582.8 120.5 582.9 119.7 583.0 125.7 583.1 114.2 583.2 121.5 583.3 122.1 583.4 128.8 583.5 124.7 583.6 126.0 583.7 123.4 583.8 125.9 583.9 115.8 584.0 121.0 584.1 125.8 584.2 120.8 584.3 120.8 584.4 113.9 584.5 128.7 584.6 120.0 584.7 123.0 584.8 122.0 584.9 135.8 585.0 135.9 585.1 126.2 585.2 115.3 585.3 121.8 585.4 127.4 585.5 121.5 585.6 120.8 585.7 132.8 585.8 121.2 585.9 131.5 586.0 125.9 586.1 119.3 586.2 135.1 586.3 122.9 586.4 127.0 586.5 128.7 586.6 122.7 586.7 121.4 586.8 130.4 586.9 121.2 587.0 124.6 587.1 133.4 587.2 128.3 587.3 121.7 587.4 131.9 587.5 124.9 587.6 121.2 587.7 123.7 587.8 135.7 587.9 117.9 588.0 131.6 588.1 122.7 588.2 124.8 588.3 131.1 588.4 126.2 588.5 134.2 588.6 126.6 588.7 116.1 588.8 127.5 588.9 117.6 589.0 129.2 589.1 125.0 589.2 120.0 589.3 122.5 589.4 116.3 589.5 128.1 589.6 113.3 589.7 124.7 589.8 123.1 589.9 125.8 590.0 126.5 590.1 128.4 590.2 124.5 590.3 120.9 590.4 128.6 590.5 122.8 590.6 125.4 590.7 131.7 590.8 129.7 590.9 115.9 591.0 116.8 591.1 115.1 591.2 129.1 591.3 124.9 591.4 112.6 591.5 120.0 591.6 121.7 591.7 112.0 591.8 123.1 591.9 134.0 592.0 125.1 592.1 124.5 592.2 117.5 592.3 116.3 592.4 116.8 592.5 127.8 592.6 134.1 592.7 121.8 592.8 120.2 592.9 129.4 593.0 120.3 593.1 122.2 593.2 127.1 593.3 119.2 593.4 112.9 593.5 139.9 593.6 140.3 593.7 136.6 593.8 127.4 593.9 108.4 594.0 120.0 594.1 132.8 594.2 125.1 594.3 124.0 594.4 119.8 594.5 120.2 594.6 125.8 594.7 135.8 594.8 127.9 594.9 115.9 595.0 133.6 595.1 125.3 595.2 129.7 595.3 118.7 595.4 113.8 595.5 126.1 595.6 122.1 595.7 122.8 595.8 130.9 595.9 123.2 596.0 131.2 596.1 124.5 596.2 123.7 596.3 126.1 596.4 130.0 596.5 132.7 596.6 124.0 596.7 127.2 596.8 121.9 596.9 105.7 597.0 125.3 597.1 116.7 597.2 129.7 597.3 121.0 597.4 127.5 597.5 123.0 597.6 132.3 597.7 124.9 597.8 116.9 597.9 134.6 598.0 120.6 598.1 115.4 598.2 134.7 598.3 131.0 598.4 128.9 598.5 124.5 598.6 129.7 598.7 128.2 598.8 116.9 598.9 135.9 599.0 134.7 599.1 125.5 599.2 127.3 599.3 134.3 599.4 128.4 599.5 129.0 599.6 123.4 599.7 124.8 599.8 112.6 599.9 124.1 600.0 130.2 600.1 128.9 600.2 121.4 600.3 126.4 600.4 132.3 600.5 126.5 600.6 127.5 600.7 126.6 600.8 123.3 600.9 131.0 601.0 129.9 601.1 127.4 601.2 127.1 601.3 125.0 601.4 130.1 601.5 132.5 601.6 136.7 601.7 124.4 601.8 129.6 601.9 125.1 602.0 126.1 602.1 137.6 602.2 121.5 602.3 129.0 602.4 127.0 602.5 133.7 602.6 123.1 602.7 128.8 602.8 125.2 602.9 122.3 603.0 122.5 603.1 142.1 603.2 142.0 603.3 128.0 603.4 129.1 603.5 132.3 603.6 127.3 603.7 129.2 603.8 126.8 603.9 117.0 604.0 129.6 604.1 118.4 604.2 121.8 604.3 126.1 604.4 116.3 604.5 125.8 604.6 125.5 604.7 132.2 604.8 123.5 604.9 128.6 605.0 130.2 605.1 134.5 605.2 129.0 605.3 123.9 605.4 122.0 605.5 117.7 605.6 121.5 605.7 133.2 605.8 135.1 605.9 122.1 606.0 125.6 606.1 128.0 606.2 130.5 606.3 136.1 606.4 139.7 606.5 132.6 606.6 132.9 606.7 126.5 606.8 137.6 606.9 121.2 607.0 123.1 607.1 142.9 607.2 144.2 607.3 139.0 607.4 130.1 607.5 125.4 607.6 128.6 607.7 129.0 607.8 126.0 607.9 131.8 608.0 127.2 608.1 130.7 608.2 141.6 608.3 132.2 608.4 137.3 608.5 149.4 608.6 138.8 608.7 141.2 608.8 131.2 608.9 132.3 609.0 141.7 609.1 129.3 609.2 132.2 609.3 132.0 609.4 140.4 609.5 133.3 609.6 133.7 609.7 128.5 609.8 129.8 609.9 128.4 610.0 136.3 610.1 119.8 610.2 123.2 610.3 130.8 610.4 127.4 610.5 139.5 610.6 137.9 610.7 139.4 610.8 142.3 610.9 130.4 611.0 122.1 611.1 134.2 611.2 126.7 611.3 128.9 611.4 126.1 611.5 113.8 611.6 138.8 611.7 139.5 611.8 120.8 611.9 128.8 612.0 119.8 612.1 135.3 612.2 120.2 612.3 127.6 612.4 128.0 612.5 117.5 612.6 121.5 612.7 127.5 612.8 128.0 612.9 117.3 613.0 124.0 613.1 135.4 613.2 128.5 613.3 124.9 613.4 118.3 613.5 118.6 613.6 122.1 613.7 125.7 613.8 117.1 613.9 116.7 614.0 112.2 614.1 119.7 614.2 120.8 614.3 130.0 614.4 119.4 614.5 111.6 614.6 113.5 614.7 121.8 614.8 126.6 614.9 123.8 615.0 126.7 615.1 127.9 615.2 120.1 615.3 122.0 615.4 120.8 615.5 113.7 615.6 117.4 615.7 119.9 615.8 114.4 615.9 109.9 616.0 93.3 616.1 115.7 616.2 120.8 616.3 129.4 616.4 118.3 616.5 107.4 616.6 115.2 616.7 108.9 616.8 115.2 616.9 122.5 617.0 111.0 617.1 112.4 617.2 123.8 617.3 117.2 617.4 117.5 617.5 108.7 617.6 106.1 617.7 125.5 617.8 105.9 617.9 112.1 618.0 116.1 618.1 108.2 618.2 124.4 618.3 119.3 618.4 116.2 618.5 118.4 618.6 117.1 618.7 105.3 618.8 113.6 618.9 116.4 619.0 110.8 619.1 107.9 619.2 124.7 619.3 131.2 619.4 124.0 619.5 113.8 619.6 111.9 619.7 123.6 619.8 116.5 619.9 121.7 620.0 120.7 620.1 128.5 620.2 116.9 620.3 122.1 620.4 118.7 620.5 107.8 620.6 110.7 620.7 108.1 620.8 108.3 620.9 120.5 621.0 113.3 621.1 124.2 621.2 113.6 621.3 125.4 621.4 130.8 621.5 113.1 621.6 124.4 621.7 119.5 621.8 117.0 621.9 117.1 622.0 121.2 622.1 113.0 622.2 129.5 622.3 132.5 622.4 128.3 622.5 132.5 622.6 121.4 622.7 119.0 622.8 123.6 622.9 123.0 623.0 126.4 623.1 123.2 623.2 127.1 623.3 129.5 623.4 116.4 623.5 114.0 623.6 113.7 623.7 120.7 623.8 123.9 623.9 127.6 624.0 129.9 624.1 125.4 624.2 127.6 624.3 118.0 624.4 120.5 624.5 127.0 624.6 120.9 624.7 114.4 624.8 123.6 624.9 127.8 625.0 118.6 625.1 122.7 625.2 125.4 625.3 127.5 625.4 116.7 625.5 132.1 625.6 133.7 625.7 130.0 625.8 122.1 625.9 130.9 626.0 118.7 626.1 124.2 626.2 132.7 626.3 124.2 626.4 133.6 626.5 130.0 626.6 126.4 626.7 136.8 626.8 125.8 626.9 124.1 627.0 127.1 627.1 137.0 627.2 122.4 627.3 132.8 627.4 121.9 627.5 129.6 627.6 122.8 627.7 110.3 627.8 136.6 627.9 128.1 628.0 126.2 628.1 135.2 628.2 127.5 628.3 125.8 628.4 130.1 628.5 133.5 628.6 124.5 628.7 132.0 628.8 123.8 628.9 131.4 629.0 120.1 629.1 121.9 629.2 121.8 629.3 131.9 629.4 128.8 629.5 130.5 629.6 133.2 629.7 125.5 629.8 126.3 629.9 138.3 630.0 117.1 630.1 130.7 630.2 125.3 630.3 128.1 630.4 123.6 630.5 130.3 630.6 129.3 630.7 137.2 630.8 121.3 630.9 136.6 631.0 125.5 631.1 131.1 631.2 130.6 631.3 133.3 631.4 126.9 631.5 121.9 631.6 121.3 631.7 127.2 631.8 131.0 631.9 117.9 632.0 118.9 632.1 124.1 632.2 120.1 632.3 146.0 632.4 140.7 632.5 128.6 632.6 121.7 632.7 135.1 632.8 137.9 632.9 129.8 633.0 121.6 633.1 128.8 633.2 129.0 633.3 128.7 633.4 133.8 633.5 121.6 633.6 128.4 633.7 135.7 633.8 131.5 633.9 137.0 634.0 124.3 634.1 126.5 634.2 130.4 634.3 123.5 634.4 130.9 634.5 129.2 634.6 122.6 634.7 131.4 634.8 135.9 634.9 119.9 635.0 134.3 635.1 129.8 635.2 119.4 635.3 117.9 635.4 128.9 635.5 127.5 635.6 122.1 635.7 109.9 635.8 121.8 635.9 121.5 636.0 127.1 636.1 119.8 636.2 119.2 636.3 114.9 636.4 116.5 636.5 126.0 636.6 116.3 636.7 123.9 636.8 135.7 636.9 123.0 637.0 126.0 637.1 123.1 637.2 122.2 637.3 129.0 637.4 125.3 637.5 129.3 637.6 121.0 637.7 125.2 637.8 121.1 637.9 123.6 638.0 126.2 638.1 119.1 638.2 116.8 638.3 122.3 638.4 128.0 638.5 116.5 638.6 119.8 638.7 117.4 638.8 122.9 638.9 112.9 639.0 117.0 639.1 114.9 639.2 122.9 639.3 115.8 639.4 122.2 639.5 120.5 639.6 119.4 639.7 119.4 639.8 121.3 639.9 129.5 640.0 115.7 640.1 115.9 640.2 124.0 640.3 112.5 640.4 122.5 640.5 121.3 640.6 119.7 640.7 122.8 640.8 116.3 640.9 123.2 641.0 121.5 641.1 106.4 641.2 122.1 641.3 126.2 641.4 121.7 641.5 124.8 641.6 122.2 641.7 125.4 641.8 121.3 641.9 128.6 642.0 124.4 642.1 116.7 642.2 130.4 642.3 130.2 642.4 134.0 642.5 128.9 642.6 124.2 642.7 117.0 642.8 122.2 642.9 124.1 643.0 134.7 643.1 117.5 643.2 126.6 643.3 119.1 643.4 119.9 643.5 117.5 643.6 123.2 643.7 126.0 643.8 124.6 643.9 116.9 644.0 126.6 644.1 131.8 644.2 121.9 644.3 131.3 644.4 132.3 644.5 129.9 644.6 125.3 644.7 123.0 644.8 129.0 644.9 116.6 645.0 124.3 645.1 132.3 645.2 134.0 645.3 129.2 645.4 130.3 645.5 134.1 645.6 133.1 645.7 129.7 645.8 120.4 645.9 128.4 646.0 122.2 646.1 121.3 646.2 125.6 646.3 121.1 646.4 116.8 646.5 143.1 646.6 145.9 646.7 144.5 646.8 137.9 646.9 123.1 647.0 139.4 647.1 125.1 647.2 133.9 647.3 133.4 647.4 124.4 647.5 118.9 647.6 122.0 647.7 123.7 647.8 132.1 647.9 126.5 648.0 117.7 648.1 126.7 648.2 119.4 648.3 129.5 648.4 125.4 648.5 114.8 648.6 121.9 648.7 131.5 648.8 125.1 648.9 130.6 649.0 125.9 649.1 128.2 649.2 122.3 649.3 99.5 649.4 125.2 649.5 133.5 649.6 122.4 649.7 109.7 649.8 107.7 649.9 126.1 650.0 115.6 650.1 108.0 650.2 109.3 650.3 113.9 650.4 114.1 650.5 108.1 650.6 104.3 650.7 118.5 650.8 111.5 650.9 112.6 651.0 113.8 651.1 111.6 651.2 106.6 651.3 116.7 651.4 114.5 651.5 114.0 651.6 108.3 651.7 118.3 651.8 130.4 651.9 116.1 652.0 110.0 652.1 120.4 652.2 113.7 652.3 109.9 652.4 107.6 652.5 122.8 652.6 110.7 652.7 122.2 652.8 132.1 652.9 116.1 653.0 121.8 653.1 122.8 653.2 116.7 653.3 120.0 653.4 125.9 653.5 116.1 653.6 106.2 653.7 126.6 653.8 126.9 653.9 127.6 654.0 121.9 654.1 119.7 654.2 119.7 654.3 123.7 654.4 124.3 654.5 126.8 654.6 115.2 654.7 133.1 654.8 121.8 654.9 123.9 655.0 122.1 655.1 124.6 655.2 123.5 655.3 121.9 655.4 123.1 655.5 120.7 655.6 122.6 655.7 122.9 655.8 117.5 655.9 122.5 656.0 130.6 656.1 131.4 656.2 120.0 656.3 131.6 656.4 120.0 656.5 110.0 656.6 126.8 656.7 119.8 656.8 126.4 656.9 120.7 657.0 126.1 657.1 130.6 657.2 128.3 657.3 127.2 657.4 130.7 657.5 136.9 657.6 125.1 657.7 121.4 657.8 118.7 657.9 135.0 658.0 118.5 658.1 136.7 658.2 133.2 658.3 131.5 658.4 129.0 658.5 137.4 658.6 128.3 658.7 129.1 658.8 126.3 658.9 123.8 659.0 126.6 659.1 137.1 659.2 116.7 659.3 127.3 659.4 130.7 659.5 116.9 659.6 126.0 659.7 131.5 659.8 126.3 659.9 131.3 660.0 138.1 660.1 124.8 660.2 127.6 660.3 127.0 660.4 131.3 660.5 124.3 660.6 133.2 660.7 127.4 660.8 130.3 660.9 138.6 661.0 133.4 661.1 138.2 661.2 127.5 661.3 124.9 661.4 127.9 661.5 125.8 661.6 117.5 661.7 135.6 661.8 133.4 661.9 135.1 662.0 141.6 662.1 135.1 662.2 132.0 662.3 135.2 662.4 132.5 662.5 134.7 662.6 121.2 662.7 134.9 662.8 132.8 662.9 130.2 663.0 132.9 663.1 125.6 663.2 126.4 663.3 137.0 663.4 122.2 663.5 116.3 663.6 129.5 663.7 131.6 663.8 125.6 663.9 125.2 664.0 131.6 664.1 135.5 664.2 127.4 664.3 140.5 664.4 136.9 664.5 130.4 664.6 133.7 664.7 123.8 664.8 126.1 664.9 129.6 665.0 123.7 665.1 136.4 665.2 125.3 665.3 132.9 665.4 124.4 665.5 132.3 665.6 132.3 665.7 126.4 665.8 133.2 665.9 125.9 666.0 120.8 666.1 132.3 666.2 128.0 666.3 118.2 666.4 126.7 666.5 131.8 666.6 123.0 666.7 124.7 666.8 125.4 666.9 126.3 667.0 125.5 667.1 134.7 667.2 127.1 667.3 124.1 667.4 125.7 667.5 128.5 667.6 129.3 667.7 127.0 667.8 127.1 667.9 116.5 668.0 122.9 668.1 128.0 668.2 120.2 668.3 118.9 668.4 119.5 668.5 120.1 668.6 126.6 668.7 124.1 668.8 127.6 668.9 122.6 669.0 126.1 669.1 127.7 669.2 117.8 669.3 121.2 669.4 111.9 669.5 128.3 669.6 121.4 669.7 120.8 669.8 126.7 669.9 115.1 670.0 119.3 670.1 120.9 670.2 115.4 670.3 104.8 670.4 119.3 670.5 121.9 670.6 111.3 670.7 115.0 670.8 127.4 670.9 130.2 671.0 111.5 671.1 109.0 671.2 120.8 671.3 118.6 671.4 128.3 671.5 113.6 671.6 129.0 671.7 124.1 671.8 118.0 671.9 121.2 672.0 117.9 672.1 106.9 672.2 118.6 672.3 116.4 672.4 113.9 672.5 117.8 672.6 131.5 672.7 114.6 672.8 118.1 672.9 127.5 673.0 124.0 673.1 115.8 673.2 116.4 673.3 111.8 673.4 106.7 673.5 111.2 673.6 124.7 673.7 107.9 673.8 115.4 673.9 114.3 674.0 104.7 674.1 121.7 674.2 111.8 674.3 110.2 674.4 120.8 674.5 118.2 674.6 117.5 674.7 116.3 674.8 115.5 674.9 105.3 675.0 116.4 675.1 119.5 675.2 124.2 675.3 114.6 675.4 119.9 675.5 112.5 675.6 114.6 675.7 103.5 675.8 113.5 675.9 110.0 676.0 107.1 676.1 116.8 676.2 111.1 676.3 126.4 676.4 118.5 676.5 117.5 676.6 108.0 676.7 112.7 676.8 114.6 676.9 108.8 677.0 109.0 677.1 118.3 677.2 116.6 677.3 115.9 677.4 104.2 677.5 119.4 677.6 117.6 677.7 117.5 677.8 126.2 677.9 119.6 678.0 118.6 678.1 109.1 678.2 122.1 678.3 117.2 678.4 119.8 678.5 118.7 678.6 118.1 678.7 129.0 678.8 125.0 678.9 125.8 679.0 115.8 679.1 132.0 679.2 120.8 679.3 125.8 679.4 124.9 679.5 122.7 679.6 123.0 679.7 133.0 679.8 126.7 679.9 129.4 680.0 127.6 680.1 134.5 680.2 129.7 680.3 120.9 680.4 127.3 680.5 128.4 680.6 130.9 680.7 128.4 680.8 134.8 680.9 127.7 681.0 130.8 681.1 141.1 681.2 121.7 681.3 127.5 681.4 130.7 681.5 134.3 681.6 120.5 681.7 139.9 681.8 142.7 681.9 146.3 682.0 122.7 682.1 124.0 682.2 128.4 682.3 128.4 682.4 130.0 682.5 130.0 682.6 137.8 682.7 129.5 682.8 141.9 682.9 128.9 683.0 128.5 683.1 139.8 683.2 125.8 683.3 129.0 683.4 134.6 683.5 129.2 683.6 140.0 683.7 140.1 683.8 140.6 683.9 136.4 684.0 134.6 684.1 125.4 684.2 134.9 684.3 138.0 684.4 141.2 684.5 137.4 684.6 127.9 684.7 128.4 684.8 126.1 684.9 121.7 685.0 130.7 685.1 131.8 685.2 131.5 685.3 128.4 685.4 132.8 685.5 133.0 685.6 127.4 685.7 125.3 685.8 136.7 685.9 131.1 686.0 123.6 686.1 114.9 686.2 139.3 686.3 146.7 686.4 125.4 686.5 127.6 686.6 122.1 686.7 116.6 686.8 126.7 686.9 125.6 687.0 134.7 687.1 129.4 687.2 125.2 687.3 136.7 687.4 136.6 687.5 120.0 687.6 133.2 687.7 127.6 687.8 137.0 687.9 128.1 688.0 123.4 688.1 129.8 688.2 126.8 688.3 131.5 688.4 127.5 688.5 118.8 688.6 136.6 688.7 136.5 688.8 124.2 688.9 104.6 689.0 114.5 689.1 120.7 689.2 141.4 689.3 136.1 689.4 133.5 689.5 136.0 689.6 130.7 689.7 131.7 689.8 133.1 689.9 127.5 690.0 127.9 690.1 127.1 690.2 123.5 690.3 120.2 690.4 116.9 690.5 120.9 690.6 124.2 690.7 113.0 690.8 123.6 690.9 123.8 691.0 120.6 691.1 127.7 691.2 122.5 691.3 130.6 691.4 121.9 691.5 115.7 691.6 124.8 691.7 129.3 691.8 119.9 691.9 119.7 692.0 124.8 692.1 127.5 692.2 122.3 692.3 122.0 692.4 120.2 692.5 105.2 692.6 126.8 692.7 126.1 692.8 132.7 692.9 131.0 693.0 123.2 693.1 126.5 693.2 120.8 693.3 131.0 693.4 137.7 693.5 133.1 693.6 128.4 693.7 118.5 693.8 129.1 693.9 126.5 694.0 126.9 694.1 127.3 694.2 123.9 694.3 122.5 694.4 135.7 694.5 121.7 694.6 123.8 694.7 132.6 694.8 123.6 694.9 134.1 695.0 120.7 695.1 124.3 695.2 120.2 695.3 118.6 695.4 126.0 695.5 131.8 695.6 123.2 695.7 119.4 695.8 124.4 695.9 122.2 696.0 132.8 696.1 133.6 696.2 121.8 696.3 128.8 696.4 123.8 696.5 130.9 696.6 130.9 696.7 128.1 696.8 119.7 696.9 118.9 697.0 129.8 697.1 131.6 697.2 120.8 697.3 126.7 697.4 129.2 697.5 131.4 697.6 127.2 697.7 112.0 697.8 117.7 697.9 127.7 698.0 131.0 698.1 125.2 698.2 119.3 698.3 119.1 698.4 124.0 698.5 123.5 698.6 130.6 698.7 125.6 698.8 125.4 698.9 133.0 699.0 128.6 699.1 132.1 699.2 129.6 699.3 133.4 699.4 132.7 699.5 120.7 699.6 119.8 699.7 119.6 699.8 121.1 699.9 124.5 700.0 114.9 700.1 128.6 700.2 128.4 700.3 124.8 700.4 125.4 700.5 126.0 700.6 134.9 700.7 125.2 700.8 129.7 700.9 130.0 701.0 123.1 701.1 126.3 701.2 132.0 701.3 121.9 701.4 125.4 701.5 128.5 701.6 124.9 701.7 125.6 701.8 132.6 701.9 122.2 702.0 126.3 702.1 137.9 702.2 122.9 702.3 137.2 702.4 129.5 702.5 118.2 702.6 116.3 702.7 135.3 702.8 134.5 702.9 128.8 703.0 123.1 703.1 132.8 703.2 135.3 703.3 137.9 703.4 129.7 703.5 136.2 703.6 119.1 703.7 130.3 703.8 122.2 703.9 128.4 704.0 129.3 704.1 127.4 704.2 133.7 704.3 138.2 704.4 126.5 704.5 125.4 704.6 121.0 704.7 118.9 704.8 128.3 704.9 116.9 705.0 136.1 705.1 132.8 705.2 121.6 705.3 133.3 705.4 138.3 705.5 132.9 705.6 129.9 705.7 136.6 705.8 126.1 705.9 117.7 706.0 111.9 706.1 138.1 706.2 127.7 706.3 130.7 706.4 130.4 706.5 132.3 706.6 130.1 706.7 119.3 706.8 130.7 706.9 134.6 707.0 126.8 707.1 123.6 707.2 124.5 707.3 127.4 707.4 127.6 707.5 120.4 707.6 120.8 707.7 126.7 707.8 126.9 707.9 124.4 708.0 115.9 708.1 129.8 708.2 124.9 708.3 127.9 708.4 120.0 708.5 120.6 708.6 128.5 708.7 124.3 708.8 131.0 708.9 124.2 709.0 126.5 709.1 116.4 709.2 121.3 709.3 133.2 709.4 134.2 709.5 130.4 709.6 127.7 709.7 129.5 709.8 122.0 709.9 129.9 710.0 111.8 710.1 120.0 710.2 120.3 710.3 124.2 710.4 123.6 710.5 130.7 710.6 121.6 710.7 133.9 710.8 123.1 710.9 128.2 711.0 117.6 711.1 130.9 711.2 121.0 711.3 115.2 711.4 113.9 711.5 121.1 711.6 119.8 711.7 107.6 711.8 124.1 711.9 122.4 712.0 123.2 712.1 124.2 712.2 126.9 712.3 129.1 712.4 123.0 712.5 118.9" stroke="#1fd41f" stroke-width="0.5"/>
<path d="M40.3 120.6L40.4 123.3 40.5 122.9 40.6 118.3 40.7 123.0 40.8 125.4 40.9 121.9 41.0 119.2 41.1 123.3 41.2 125.9 41.3 122.7 41.4 125.4 41.5 122.1 41.6 126.7 41.7 118.1 41.8 122.7 41.9 120.1 42.0 120.4 42.1 119.4 42.2 121.9 42.3 121.3 42.4 122.9 42.5 122.2 42.6 118.8 42.7 109.9 42.8 117.4 42.9 123.1 43.0 119.0 43.1 121.4 43.2 122.5 43.3 119.9 43.4 118.2 43.5 116.8 43.6 121.0 43.7 121.1 43.8 117.8 43.9 117.3 44.0 112.1 44.1 112.2 44.2 116.6 44.3 119.5 44.4 117.4 44.5 118.1 44.6 113.5 44.7 116.8 44.8 115.2 44.9 116.3 45.0 115.9 45.1 115.8 45.2 113.6 45.3 113.5 45.4 115.9 45.5 118.7 45.6 114.6 45.7 115.0 45.8 111.7 45.9 118.0 46.0 113.6 46.1 130.5 46.2 119.4 46.3 115.0 46.4 111.9 46.5 118.2 46.6 92.5 46.7 72.6 46.8 131.1 46.9 102.0 47.0 80.5 47.1 128.3 47.2 128.8 47.3 120.0 47.4 115.7 47.5 117.3 47.6 113.8 47.7 111.7 47.8 115.8 47.9 112.9 48.0 114.2 48.1 111.6 48.2 115.3 48.3 112.4 48.4 117.4 48.5 113.2 48.6 111.2 48.7 112.9 48.8 120.4 48.9 117.3 49.0 119.3 49.1 112.9 49.2 112.2 49.3 116.7 49.4 115.1 49.5 118.3 49.6 119.0 49.7 126.4 49.8 123.0 49.9 115.0 50.0 114.1 50.1 100.7 50.2 78.0 50.3 140.7 50.4 149.3 50.5 133.5 50.6 119.2 50.7 118.7 50.8 118.7 50.9 118.9 51.0 129.7 51.1 125.7 51.2 122.1 51.3 125.4 51.4 119.0 51.5 120.3 51.6 126.4 51.7 126.9 51.8 127.3 51.9 126.1 52.0 122.4 52.1 122.9 52.2 128.7 52.3 128.5 52.4 126.0 52.5 129.3 52.6 127.1 52.7 131.7 52.8 128.6 52.9 129.9 53.0 128.5 53.1 132.1 53.2 140.3 53.3 134.4 53.4 133.8 53.5 135.3 53.6 134.7 53.7 129.8 53.8 133.6 53.9 133.4 54.0 133.9 54.1 128.8 54.2 135.5 54.3 133.1 54.4 132.3 54.5 135.6 54.6 120.3 54.7 91.9 54.8 163.8 54.9 171.3 55.0 148.2 55.1 133.3 55.2 131.6 55.3 139.8 55.4 136.4 55.5 141.6 55.6 137.3 55.7 135.7 55.8 138.4 55.9 140.6 56.0 140.3 56.1 135.3 56.2 140.2 56.3 142.2 56.4 139.6 56.5 143.2 56.6 141.2 56.7 124.2 56.8 113.6 56.9 153.4 57.0 146.8 57.1 147.5 57.2 144.5 57.3 138.5 57.4 144.8 57.5 142.5 57.6 143.3 57.7 143.5 57.8 143.6 57.9 141.5 58.0 140.7 58.1 141.3 58.2 125.7 58.3 102.0 58.4 160.0 58.5 158.7 58.6 146.9 58.7 138.8 58.8 137.5 58.9 134.7 59.0 137.9 59.1 145.5 59.2 145.0 59.3 140.1 59.4 138.3 59.5 136.5 59.6 136.5 59.7 138.3 59.8 132.6 59.9 134.4 60.0 134.9 60.1 130.9 60.2 128.7 60.3 130.8 60.4 135.5 60.5 125.2 60.6 128.6 60.7 130.7 60.8 130.5 60.9 130.0 61.0 129.8 61.1 126.5 61.2 125.2 61.3 127.5 61.4 126.2 61.5 128.2 61.6 132.7 61.7 127.6 61.8 126.0 61.9 126.1 62.0 124.1 62.1 126.8 62.2 126.8 62.3 130.4 62.4 121.6 62.5 124.0 62.6 127.4 62.7 123.8 62.8 128.7 62.9 121.5 63.0 115.8 63.1 96.6 63.2 140.0 63.3 141.0 63.4 133.6 63.5 124.6 63.6 127.5 63.7 128.0 63.8 125.9 63.9 127.3 64.0 125.2 64.1 127.5 64.2 122.6 64.3 123.4 64.4 125.0 64.5 126.7 64.6 122.7 64.7 125.6 64.8 126.3 64.9 121.5 65.0 125.4 65.1 132.1 65.2 129.0 65.3 123.4 65.4 124.4 65.5 124.6 65.6 123.2 65.7 125.4 65.8 122.8 65.9 126.1 66.0 122.9 66.1 123.8 66.2 121.8 66.3 125.1 66.4 122.5 66.5 123.1 66.6 123.3 66.7 126.6 66.8 111.6 66.9 121.0 67.0 122.3 67.1 122.2 67.2 121.3 67.3 121.4 67.4 126.8 67.5 123.8 67.6 125.3 67.7 125.6 67.8 124.9 67.9 122.2 68.0 122.5 68.1 123.0 68.2 110.8 68.3 88.7 68.4 147.8 68.5 154.1 68.6 137.4 68.7 125.1 68.8 123.6 68.9 119.1 69.0 126.0 69.1 139.9 69.2 128.7 69.3 122.5 69.4 128.0 69.5 121.8 69.6 122.4 69.7 123.2 69.8 124.8 69.9 124.9 70.0 124.6 70.1 122.4 70.2 121.3 70.3 123.1 70.4 124.5 70.5 122.4 70.6 123.6 70.7 126.9 70.8 123.8 70.9 118.9 71.0 123.6 71.1 122.2 71.2 127.1 71.3 123.1 71.4 122.8 71.5 122.5 71.6 122.1 71.7 122.4 71.8 121.2 71.9 123.9 72.0 131.4 72.1 122.5 72.2 121.6 72.3 125.3 72.4 125.5 72.5 107.6 72.6 78.8 72.7 139.8 72.8 147.0 72.9 130.0 73.0 121.0 73.1 118.1 73.2 121.2 73.3 119.3 73.4 114.0 73.5 116.6 73.6 121.4 73.7 121.4 73.8 127.1 73.9 125.0 74.0 125.1 74.1 121.7 74.2 126.0 74.3 126.5 74.4 124.9 74.5 123.9 74.6 122.8 74.7 123.4 74.8 125.4 74.9 124.2 75.0 127.4 75.1 123.5 75.2 126.5 75.3 124.1 75.4 122.5 75.5 130.6 75.6 118.6 75.7 124.4 75.8 130.7 75.9 128.3 76.0 126.3 76.1 126.8 76.2 124.9 76.3 126.6 76.4 128.2 76.5 124.9 76.6 126.9 76.7 130.6 76.8 127.3 76.9 119.0 77.0 114.5 77.1 149.7 77.2 160.5 77.3 141.2 77.4 118.1 77.5 125.3 77.6 125.0 77.7 131.2 77.8 129.7 77.9 129.7 78.0 130.3 78.1 132.1 78.2 128.8 78.3 131.4 78.4 134.8 78.5 127.6 78.6 131.0 78.7 130.4 78.8 131.1 78.9 132.3 79.0 133.4 79.1 132.9 79.2 133.2 79.3 130.0 79.4 124.3 79.5 129.3 79.6 131.5 79.7 127.1 79.8 128.8 79.9 131.0 80.0 133.0 80.1 131.3 80.2 129.8 80.3 131.4 80.4 130.8 80.5 132.6 80.6 129.5 80.7 130.2 80.8 128.9 80.9 127.5 81.0 127.7 81.1 126.5 81.2 132.8 81.3 130.1 81.4 129.3 81.5 126.8 81.6 132.3 81.7 129.0 81.8 124.5 81.9 110.7 82.0 91.3 82.1 136.9 82.2 151.6 82.3 140.8 82.4 124.7 82.5 127.5 82.6 124.2 82.7 123.1 82.8 123.6 82.9 126.4 83.0 128.9 83.1 124.4 83.2 125.2 83.3 122.9 83.4 121.4 83.5 122.5 83.6 124.7 83.7 122.3 83.8 120.8 83.9 121.0 84.0 118.9 84.1 123.7 84.2 121.7 84.3 122.2 84.4 119.8 84.5 124.6 84.6 124.2 84.7 117.8 84.8 118.4 84.9 108.6 85.0 115.0 85.1 120.2 85.2 121.2 85.3 122.0 85.4 119.0 85.5 124.4 85.6 121.4 85.7 120.1 85.8 121.1 85.9 118.2 86.0 105.9 86.1 77.7 86.2 129.6 86.3 134.4 86.4 124.5 86.5 122.9 86.6 107.9 86.7 116.5 86.8 117.4 86.9 121.2 87.0 119.6 87.1 120.2 87.2 122.4 87.3 122.8 87.4 119.4 87.5 123.8 87.6 120.5 87.7 123.5 87.8 120.2 87.9 122.3 88.0 122.3 88.1 118.7 88.2 127.6 88.3 126.5 88.4 130.0 88.5 119.5 88.6 124.5 88.7 121.0 88.8 124.7 88.9 126.2 89.0 124.9 89.1 120.2 89.2 126.9 89.3 128.3 89.4 124.0 89.5 131.3 89.6 128.5 89.7 127.8 89.8 125.5 89.9 124.8 90.0 126.7 90.1 123.5 90.2 128.5 90.3 125.2 90.4 126.1 90.5 127.4 90.6 124.9 90.7 130.1 90.8 127.7 90.9 131.2 91.0 125.6 91.1 132.2 91.2 114.3 91.3 102.2 91.4 137.3 91.5 141.0 91.6 130.4 91.7 128.7 91.8 128.3 91.9 127.9 92.0 134.3 92.1 134.9 92.2 126.4 92.3 132.5 92.4 128.2 92.5 128.2 92.6 129.2 92.7 130.1 92.8 128.1 92.9 128.3 93.0 127.2 93.1 125.3 93.2 128.6 93.3 127.0 93.4 127.1 93.5 124.4 93.6 127.8 93.7 118.1 93.8 129.4 93.9 128.9 94.0 127.0 94.1 130.2 94.2 126.7 94.3 126.6 94.4 127.7 94.5 129.3 94.6 125.4 94.7 127.4 94.8 128.2 94.9 131.8 95.0 126.1 95.1 122.2 95.2 129.5 95.3 128.1 95.4 123.8 95.5 130.5 95.6 114.7 95.7 98.4 95.8 135.8 95.9 143.9 96.0 139.1 96.1 124.3 96.2 127.2 96.3 123.5 96.4 124.8 96.5 126.7 96.6 122.3 96.7 125.9 96.8 126.3 96.9 125.7 97.0 127.7 97.1 124.5 97.2 127.8 97.3 122.8 97.4 126.7 97.5 121.4 97.6 121.6 97.7 127.1 97.8 124.4 97.9 124.5 98.0 125.6 98.1 124.6 98.2 119.8 98.3 123.1 98.4 126.5 98.5 131.6 98.6 127.1 98.7 119.1 98.8 124.1 98.9 121.3 99.0 125.5 99.1 123.8 99.2 123.0 99.3 122.8 99.4 123.0 99.5 119.0 99.6 122.0 99.7 118.6 99.8 119.7 99.9 121.0 100.0 119.5 100.1 123.6 100.2 118.1 100.3 119.3 100.4 124.1 100.5 120.0 100.6 122.1 100.7 114.0 100.8 103.3 100.9 141.0 101.0 144.8 101.1 131.6 101.2 119.7 101.3 120.5 101.4 121.7 101.5 124.7 101.6 122.0 101.7 119.3 101.8 117.3 101.9 124.8 102.0 120.9 102.1 119.2 102.2 123.9 102.3 120.8 102.4 120.5 102.5 125.7 102.6 126.6 102.7 126.6 102.8 122.8 102.9 123.6 103.0 125.8 103.1 122.8 103.2 124.7 103.3 122.1 103.4 123.1 103.5 126.3 103.6 127.4 103.7 130.9 103.8 126.2 103.9 121.9 104.0 130.4 104.1 126.2 104.2 125.8 104.3 123.3 104.4 123.4 104.5 138.0 104.6 118.2 104.7 94.8 104.8 155.7 104.9 153.3 105.0 139.6 105.1 126.3 105.2 131.1 105.3 129.5 105.4 127.2 105.5 128.6 105.6 134.6 105.7 130.4 105.8 130.9 105.9 129.0 106.0 132.2 106.1 130.0 106.2 133.0 106.3 132.0 106.4 140.2 106.5 138.2 106.6 133.9 106.7 129.7 106.8 135.7 106.9 133.5 107.0 132.5 107.1 132.3 107.2 131.7 107.3 129.4 107.4 129.6 107.5 130.0 107.6 131.3 107.7 133.4 107.8 118.5 107.9 95.7 108.0 157.5 108.1 164.2 108.2 140.7 108.3 129.5 108.4 129.1 108.5 131.3 108.6 127.9 108.7 130.6 108.8 133.1 108.9 141.6 109.0 133.9 109.1 129.1 109.2 129.9 109.3 127.5 109.4 128.8 109.5 131.6 109.6 131.2 109.7 130.3 109.8 131.3 109.9 127.8 110.0 127.9 110.1 125.2 110.2 127.2 110.3 124.6 110.4 125.8 110.5 126.2 110.6 128.3 110.7 125.6 110.8 127.3 110.9 136.2 111.0 129.7 111.1 122.9 111.2 109.4 111.3 140.5 111.4 138.6 111.5 131.6 111.6 123.8 111.7 121.2 111.8 125.8 111.9 122.7 112.0 123.5 112.1 127.8 112.2 125.2 112.3 126.7 112.4 122.9 112.5 123.6 112.6 120.5 112.7 127.6 112.8 125.1 112.9 124.9 113.0 127.4 113.1 126.1 113.2 122.4 113.3 123.1 113.4 121.7 113.5 116.8 113.6 119.9 113.7 127.2 113.8 130.7 113.9 124.9 114.0 124.3 114.1 128.0 114.2 126.1 114.3 123.8 114.4 128.7 114.5 126.2 114.6 125.6 114.7 126.0 114.8 127.0 114.9 127.4 115.0 121.1 115.1 104.4 115.2 82.1 115.3 139.9 115.4 135.9 115.5 120.2 115.6 121.7 115.7 127.9 115.8 128.6 115.9 124.0 116.0 130.5 116.1 130.3 116.2 123.8 116.3 130.5 116.4 127.1 116.5 123.9 116.6 128.9 116.7 129.7 116.8 125.2 116.9 124.5 117.0 123.0 117.1 126.9 117.2 128.7 117.3 129.9 117.4 128.3 117.5 126.9 117.6 127.9 117.7 128.5 117.8 128.3 117.9 126.5 118.0 122.5 118.1 117.8 118.2 120.7 118.3 123.7 118.4 130.3 118.5 121.7 118.6 125.9 118.7 129.8 118.8 127.2 118.9 126.3 119.0 127.5 119.1 124.3 119.2 123.7 119.3 121.7 119.4 127.2 119.5 126.6 119.6 127.7 119.7 128.7 119.8 124.8 119.9 120.5 120.0 129.7 120.1 129.9 120.2 125.1 120.3 125.1 120.4 122.8 120.5 124.9 120.6 113.4 120.7 94.9 120.8 136.4 120.9 136.9 121.0 131.9 121.1 119.3 121.2 122.4 121.3 121.0 121.4 122.1 121.5 122.3 121.6 125.4 121.7 125.0 121.8 120.6 121.9 121.1 122.0 117.4 122.1 127.8 122.2 123.5 122.3 126.3 122.4 116.5 122.5 120.0 122.6 123.1 122.7 121.1 122.8 119.8 122.9 124.3 123.0 123.8 123.1 122.5 123.2 118.2 123.3 122.8 123.4 122.7 123.5 118.6 123.6 121.5 123.7 120.8 123.8 120.1 123.9 118.9 124.0 122.1 124.1 117.2 124.2 123.3 124.3 121.9 124.4 123.5 124.5 110.2 124.6 102.8 124.7 149.6 124.8 152.2 124.9 129.0 125.0 117.3 125.1 131.7 125.2 126.7 125.3 119.2 125.4 119.9 125.5 123.6 125.6 121.2 125.7 121.0 125.8 120.5 125.9 127.6 126.0 122.2 126.1 124.1 126.2 119.9 126.3 119.1 126.4 121.8 126.5 120.4 126.6 124.5 126.7 123.4 126.8 121.0 126.9 127.2 127.0 128.0 127.1 126.7 127.2 121.9 127.3 123.0 127.4 125.8 127.5 119.6 127.6 123.1 127.7 116.7 127.8 116.0 127.9 124.4 128.0 126.9 128.1 125.3 128.2 126.0 128.3 123.0 128.4 124.4 128.5 124.3 128.6 126.6 128.7 126.5 128.8 115.3 128.9 103.0 129.0 140.7 129.1 148.3 129.2 134.7 129.3 125.0 129.4 130.1 129.5 124.0 129.6 126.9 129.7 129.7 129.8 132.6 129.9 127.5 130.0 129.0 130.1 127.0 130.2 126.9 130.3 126.7 130.4 126.3 130.5 126.7 130.6 135.7 130.7 131.4 130.8 127.9 130.9 131.0 131.0 128.4 131.1 129.9 131.2 133.2 131.3 126.6 131.4 131.1 131.5 129.2 131.6 134.4 131.7 130.0 131.8 132.7 131.9 130.6 132.0 132.0 132.1 131.6 132.2 133.9 132.3 127.2 132.4 123.9 132.5 129.8 132.6 133.7 132.7 131.0 132.8 126.4 132.9 132.4 133.0 130.4 133.1 131.9 133.2 132.0 133.3 130.1 133.4 133.2 133.5 127.5 133.6 127.5 133.7 132.0 133.8 129.0 133.9 109.3 134.0 90.2 134.1 146.3 134.2 153.0 134.3 136.6 134.4 128.9 134.5 129.2 134.6 127.8 134.7 127.6 134.8 126.0 134.9 131.7 135.0 126.7 135.1 127.2 135.2 131.0 135.3 133.0 135.4 131.0 135.5 126.9 135.6 127.9 135.7 123.4 135.8 125.6 135.9 123.6 136.0 123.8 136.1 124.5 136.2 123.1 136.3 121.8 136.4 124.1 136.5 122.6 136.6 126.7 136.7 121.9 136.8 125.6 136.9 121.0 137.0 123.4 137.1 124.1 137.2 122.2 137.3 123.9 137.4 120.4 137.5 132.3 137.6 128.3 137.7 122.2 137.8 108.6 137.9 83.3 138.0 152.8 138.1 159.6 138.2 133.3 138.3 125.3 138.4 122.7 138.5 117.9 138.6 121.0 138.7 124.4 138.8 121.9 138.9 112.3 139.0 119.8 139.1 120.7 139.2 125.5 139.3 121.9 139.4 123.2 139.5 121.7 139.6 120.9 139.7 124.7 139.8 119.0 139.9 121.1 140.0 124.5 140.1 119.4 140.2 122.8 140.4 119.7 140.5 124.5 140.6 127.6 140.7 124.6 140.8 129.7 140.9 114.3 141.0 101.1 141.1 144.8 141.2 148.5 141.3 135.5 141.4 132.6 141.5 127.8 141.6 128.6 141.7 126.4 141.8 128.3 141.9 124.9 142.0 122.4 142.1 126.8 142.2 129.4 142.3 128.5 142.4 135.1 142.5 132.8 142.6 129.8 142.7 126.4 142.8 131.1 142.9 126.8 143.0 127.5 143.1 132.2 143.2 131.9 143.3 128.3 143.4 131.4 143.5 131.7 143.6 130.5 143.7 133.2 143.8 130.3 143.9 129.8 144.0 127.9 144.1 116.6 144.2 122.9 144.3 133.9 144.4 130.4 144.5 134.0 144.6 131.5 144.7 131.6 144.8 130.9 144.9 130.8 145.0 130.1 145.1 123.1 145.2 117.6 145.3 143.9 145.4 144.1 145.5 130.4 145.6 155.5 145.7 135.7 145.8 122.4 145.9 123.0 146.0 134.6 146.1 129.2 146.2 128.0 146.3 132.6 146.4 130.6 146.5 132.8 146.6 129.7 146.7 129.0 146.8 130.6 146.9 131.3 147.0 129.0 147.1 131.1 147.2 132.2 147.3 131.7 147.4 128.8 147.5 130.2 147.6 129.9 147.7 131.8 147.8 138.6 147.9 132.1 148.0 126.0 148.1 129.2 148.2 131.5 148.3 130.6 148.4 129.3 148.5 117.0 148.6 100.2 148.7 151.4 148.8 158.8 148.9 140.2 149.0 122.7 149.1 138.5 149.2 130.8 149.3 127.0 149.4 127.9 149.5 129.7 149.6 122.7 149.7 121.8 149.8 122.5 149.9 130.3 150.0 127.7 150.1 127.1 150.2 122.3 150.3 124.1 150.4 127.2 150.5 128.0 150.6 123.7 150.7 128.1 150.8 123.2 150.9 122.5 151.0 126.5 151.1 123.4 151.2 124.8 151.3 126.7 151.4 128.5 151.5 127.9 151.6 123.9 151.7 121.1 151.8 124.1 151.9 125.0 152.0 124.3 152.1 125.0 152.2 125.3 152.3 122.4 152.4 122.7 152.5 123.0 152.6 120.5 152.7 122.9 152.8 126.3 152.9 118.9 153.0 116.4 153.1 137.0 153.2 139.6 153.3 127.2 153.4 120.6 153.5 125.2 153.6 117.8 153.7 123.2 153.8 124.1 153.9 125.1 154.0 124.5 154.1 119.7 154.2 123.9 154.3 120.7 154.4 120.1 154.5 122.6 154.6 122.2 154.7 124.2 154.8 124.4 154.9 125.0 155.0 121.9 155.1 119.1 155.2 126.5 155.3 122.5 155.4 119.8 155.5 118.7 155.6 119.7 155.7 124.6 155.8 120.3 155.9 132.1 156.0 131.9 156.1 122.9 156.2 120.3 156.3 121.3 156.4 125.2 156.5 127.6 156.6 123.4 156.7 123.8 156.8 120.3 156.9 124.0 157.0 108.0 157.1 81.6 157.2 149.6 157.3 166.1 157.4 137.8 157.5 131.8 157.6 129.5 157.7 127.5 157.8 127.2 157.9 123.3 158.0 129.0 158.1 124.4 158.2 127.4 158.3 123.1 158.4 124.0 158.5 124.4 158.6 126.1 158.7 124.0 158.8 126.5 158.9 128.4 159.0 125.6 159.1 125.4 159.2 124.4 159.3 121.8 159.4 126.2 159.5 128.8 159.6 137.8 159.7 130.5 159.8 130.0 159.9 128.2 160.0 126.6 160.1 125.8 160.2 129.8 160.3 124.3 160.4 124.7 160.5 124.4 160.6 123.4 160.7 106.0 160.8 84.1 160.9 154.2 161.0 164.5 161.1 136.9 161.2 128.6 161.3 123.2 161.4 113.0 161.5 122.4 161.6 125.0 161.7 125.0 161.8 123.1 161.9 121.6 162.0 124.5 162.1 122.8 162.2 121.3 162.3 123.5 162.4 122.4 162.5 125.2 162.6 125.4 162.7 122.2 162.8 121.4 162.9 124.7 163.0 123.5 163.1 119.6 163.2 122.7 163.3 124.6 163.4 121.9 163.5 116.7 163.6 114.9 163.7 125.5 163.8 124.1 163.9 119.7 164.0 122.9 164.1 122.2 164.2 125.4 164.3 120.5 164.4 124.0 164.5 124.1 164.6 101.2 164.7 84.4 164.8 142.0 164.9 143.6 165.0 132.3 165.1 119.0 165.2 119.7 165.3 121.9 165.4 121.2 165.5 120.1 165.6 120.8 165.7 108.7 165.8 122.3 165.9 123.7 166.0 122.4 166.1 120.8 166.2 123.3 166.3 121.5 166.4 126.2 166.5 123.2 166.6 123.5 166.7 125.1 166.8 120.9 166.9 121.4 167.0 124.3 167.1 126.0 167.2 127.2 167.3 122.6 167.4 131.7 167.5 127.3 167.6 129.1 167.7 126.9 167.8 129.9 167.9 108.4 168.0 96.4 168.1 143.1 168.2 144.7 168.3 135.8 168.4 128.1 168.5 130.5 168.6 123.0 168.7 130.7 168.8 126.9 168.9 127.3 169.0 123.4 169.1 129.1 169.2 131.5 169.3 126.2 169.4 132.9 169.5 130.3 169.6 131.8 169.7 129.2 169.8 129.0 169.9 131.2 170.0 132.9 170.1 130.3 170.2 133.4 170.3 133.1 170.4 130.2 170.5 130.8 170.6 127.4 170.7 130.5 170.8 136.5 170.9 133.0 171.0 134.8 171.1 127.5 171.2 133.5 171.3 134.8 171.4 132.5 171.5 129.3 171.6 134.0 171.7 134.5 171.8 131.8 171.9 132.7 172.0 132.3 172.1 131.7 172.2 128.1 172.3 128.1 172.4 101.1 172.5 88.6 172.6 158.1 172.7 170.0 172.8 144.9 172.9 132.9 173.0 134.5 173.1 134.1 173.2 129.0 173.3 131.3 173.4 132.2 173.5 130.5 173.6 130.2 173.7 127.5 173.8 129.7 173.9 129.4 174.0 133.9 174.1 123.5 174.2 127.6 174.3 129.2 174.4 130.1 174.5 134.0 174.6 128.4 174.7 122.3 174.8 124.5 174.9 127.0 175.0 127.0 175.1 131.5 175.2 130.7 175.3 125.3 175.4 126.4 175.5 125.5 175.6 127.6 175.7 127.4 175.8 128.2 175.9 121.2 176.0 129.6 176.1 127.7 176.2 124.2 176.3 124.0 176.4 129.6 176.5 117.8 176.6 111.8 176.7 160.6 176.8 161.0 176.9 136.0 177.0 125.2 177.1 124.1 177.2 124.0 177.3 122.4 177.4 125.5 177.5 120.9 177.6 127.0 177.7 125.1 177.8 125.0 177.9 119.7 178.0 123.5 178.1 119.2 178.2 119.8 178.3 124.0 178.4 119.9 178.5 125.6 178.6 126.8 178.7 117.0 178.8 121.7 178.9 118.8 179.0 123.3 179.1 123.9 179.2 118.0 179.3 114.8 179.4 121.6 179.5 125.7 179.6 125.0 179.7 123.0 179.8 126.3 179.9 119.7 180.0 122.1 180.1 122.0 180.2 121.8 180.3 126.1 180.4 124.4 180.5 125.0 180.6 119.5 180.7 121.5 180.8 130.8 180.9 122.8 181.0 118.1 181.1 124.0 181.2 126.5 181.3 121.8 181.4 120.7 181.5 128.7 181.6 107.1 181.7 82.1 181.8 143.5 181.9 152.7 182.0 136.6 182.1 125.6 182.2 128.0 182.3 124.8 182.4 120.4 182.5 120.6 182.6 124.0 182.7 127.3 182.8 115.6 182.9 123.7 183.0 127.1 183.1 122.0 183.2 126.1 183.3 124.2 183.4 125.1 183.5 127.2 183.6 126.4 183.7 124.8 183.8 127.0 183.9 128.9 184.0 125.0 184.1 128.7 184.2 129.2 184.3 128.8 184.4 125.0 184.5 127.4 184.6 123.6 184.7 130.4 184.8 129.1 184.9 129.6 185.0 131.0 185.1 136.6 185.2 134.4 185.3 130.6 185.4 131.0 185.5 129.2 185.6 129.6 185.7 133.4 185.8 133.8 185.9 127.4 186.0 127.8 186.1 129.6 186.2 116.2 186.3 101.6 186.4 139.9 186.5 147.8 186.6 134.9 186.7 131.5 186.8 134.7 186.9 131.9 187.0 129.5 187.1 129.7 187.2 128.8 187.3 129.2 187.4 126.9 187.5 119.5 187.6 127.0 187.7 130.3 187.8 124.0 187.9 128.5 188.0 126.7 188.1 129.5 188.2 127.7 188.3 124.9 188.4 127.3 188.5 126.5 188.6 125.0 188.7 126.7 188.8 130.5 188.9 129.5 189.0 128.5 189.1 128.9 189.2 130.7 189.3 115.9 189.4 120.4 189.5 120.0 189.6 127.6 189.7 123.2 189.8 107.8 189.9 86.3 190.0 142.2 190.1 143.5 190.2 132.1 190.3 120.1 190.4 121.1 190.5 125.7 190.6 121.2 190.7 125.2 190.8 125.2 190.9 116.1 191.0 120.2 191.1 118.8 191.2 121.8 191.3 121.7 191.4 123.5 191.5 122.0 191.6 121.5 191.7 123.7 191.8 124.5 191.9 126.8 192.0 118.3 192.1 123.1 192.2 118.7 192.3 120.7 192.4 120.5 192.5 118.7 192.6 121.2 192.7 120.2 192.8 121.5 192.9 121.7 193.0 120.2 193.1 119.7 193.2 117.6 193.3 120.8 193.4 123.9 193.5 121.8 193.6 120.6 193.7 125.7 193.8 120.8 193.9 117.5 194.0 120.3 194.1 118.7 194.2 119.0 194.3 122.3 194.4 122.4 194.5 106.8 194.6 90.1 194.7 144.6 194.8 145.1 194.9 143.5 195.0 128.2 195.1 120.3 195.2 120.3 195.3 126.1 195.4 121.6 195.5 124.6 195.6 122.4 195.7 123.0 195.8 125.5 195.9 126.9 196.0 122.9 196.1 125.9 196.2 130.7 196.3 122.7 196.4 126.8 196.5 127.0 196.6 129.3 196.7 136.5 196.8 132.1 196.9 130.5 197.0 124.7 197.1 124.7 197.2 128.4 197.3 124.4 197.4 123.4 197.5 124.5 197.6 129.7 197.7 122.6 197.8 126.6 197.9 123.9 198.0 132.1 198.1 129.6 198.2 130.3 198.3 106.6 198.4 78.4 198.5 149.5 198.6 148.6 198.7 135.7 198.8 129.3 198.9 132.9 199.0 128.6 199.1 131.2 199.2 127.0 199.3 130.6 199.4 128.2 199.5 130.1 199.6 132.7 199.7 128.3 199.8 125.4 199.9 120.4 200.0 113.1 200.1 148.6 200.2 151.6 200.3 138.6 200.4 127.4 200.5 129.7 200.6 133.0 200.7 133.2 200.8 131.0 200.9 128.9 201.0 128.3 201.1 123.0 201.2 130.0 201.3 129.8 201.4 126.9 201.5 129.2 201.6 142.7 201.7 134.6 201.8 126.5 201.9 129.9 202.0 134.4 202.1 126.5 202.2 129.6 202.3 126.4 202.4 131.4 202.5 134.0 202.6 131.2 202.7 132.3 202.8 128.8 202.9 129.7 203.0 129.4 203.1 105.7 203.2 86.8 203.3 152.7 203.4 153.3 203.5 136.0 203.6 132.1 203.7 131.8 203.8 126.1 203.9 132.6 204.0 131.3 204.1 130.3 204.2 132.6 204.3 130.3 204.4 131.2 204.5 128.9 204.6 128.1 204.7 125.6 204.8 127.0 204.9 126.7 205.0 132.1 205.1 127.9 205.2 128.7 205.3 128.6 205.4 131.2 205.5 134.3 205.6 131.1 205.7 124.9 205.8 130.9 205.9 130.5 206.0 126.9 206.1 123.2 206.2 124.5 206.3 127.6 206.4 124.7 206.5 126.4 206.6 125.2 206.7 127.3 206.8 114.0 206.9 106.6 207.0 146.4 207.1 153.4 207.2 134.7 207.3 126.5 207.4 121.5 207.5 122.4 207.6 122.0 207.7 124.1 207.8 125.4 207.9 128.3 208.0 128.7 208.1 120.8 208.2 125.2 208.3 127.0 208.4 126.1 208.5 125.0 208.6 124.5 208.7 126.8 208.8 123.9 208.9 123.0 209.0 124.0 209.1 123.5 209.2 124.1 209.3 124.7 209.4 125.1 209.5 125.0 209.6 125.5 209.7 119.1 209.8 124.6 209.9 126.0 210.0 127.2 210.1 125.8 210.2 128.2 210.3 126.2 210.4 126.7 210.5 125.3 210.6 123.2 210.7 116.8 210.8 111.7 210.9 135.5 211.0 140.0 211.1 130.4 211.2 128.2 211.3 127.1 211.4 130.3 211.5 125.3 211.6 126.5 211.7 130.7 211.8 128.8 211.9 132.4 212.0 132.5 212.1 126.8 212.2 127.1 212.3 124.0 212.4 131.8 212.5 128.1 212.6 119.1 212.7 124.2 212.8 125.9 212.9 128.3 213.0 127.9 213.1 128.8 213.2 126.6 213.3 127.7 213.4 128.7 213.5 130.8 213.6 127.5 213.7 129.9 213.8 131.8 213.9 128.4 214.0 127.7 214.1 128.8 214.2 128.1 214.3 128.2 214.4 129.5 214.5 125.8 214.6 110.5 214.7 108.4 214.8 153.6 214.9 152.3 215.0 134.0 215.1 125.2 215.2 127.9 215.3 127.9 215.4 126.7 215.5 124.3 215.6 129.2 215.7 123.9 215.8 125.5 215.9 127.2 216.0 124.4 216.1 124.0 216.2 127.0 216.3 124.6 216.4 128.0 216.5 124.9 216.6 126.4 216.7 128.4 216.8 122.3 216.9 126.0 217.0 126.6 217.1 137.8 217.2 127.0 217.3 125.7 217.4 123.3 217.5 123.3 217.6 118.4 217.7 123.4 217.8 118.6 217.9 122.0 218.0 118.2 218.1 120.3 218.2 120.3 218.3 123.0 218.4 122.5 218.5 121.2 218.6 119.8 218.7 119.7 218.8 119.5 218.9 116.8 219.0 119.7 219.1 120.3 219.2 116.7 219.3 118.8 219.4 117.9 219.5 119.1 219.6 112.6 219.7 115.0 219.8 98.0 219.9 76.4 220.0 146.0 220.1 161.1 220.2 132.1 220.3 120.6 220.4 117.5 220.5 121.4 220.6 121.0 220.7 124.9 220.8 102.3 220.9 69.7 221.0 145.0 221.1 157.8 221.2 132.9 221.3 125.0 221.4 122.2 221.5 122.8 221.6 123.8 221.7 124.1 221.8 122.6 221.9 122.3 222.0 124.6 222.1 138.5 222.2 126.5 222.3 124.5 222.4 124.9 222.5 126.0 222.6 129.7 222.7 126.3 222.8 127.0 222.9 125.8 223.0 125.3 223.1 128.1 223.2 124.5 223.3 128.7 223.4 125.4 223.5 127.5 223.6 126.2 223.7 126.7 223.8 115.8 223.9 119.8 224.0 124.7 224.1 127.2 224.2 128.7 224.3 128.3 224.4 127.5 224.5 127.5 224.6 129.7 224.7 116.1 224.8 97.3 224.9 148.6 225.0 153.3 225.1 141.5 225.2 130.7 225.3 129.0 225.4 125.6 225.5 125.6 225.6 129.1 225.7 127.0 225.8 132.6 225.9 126.9 226.0 129.7 226.1 134.0 226.2 128.0 226.3 127.7 226.4 129.9 226.5 133.2 226.6 129.3 226.7 131.5 226.8 121.8 226.9 125.2 227.0 130.2 227.1 133.3 227.2 126.3 227.3 132.5 227.4 129.0 227.5 129.2 227.6 129.5 227.7 129.9 227.8 134.4 227.9 129.2 228.0 131.7 228.1 132.9 228.2 130.6 228.3 129.3 228.4 132.2 228.5 145.5 228.6 127.5 228.7 101.8 228.8 142.2 228.9 147.7 229.0 134.6 229.1 128.9 229.2 129.8 229.3 130.7 229.4 130.3 229.5 129.6 229.6 130.4 229.7 130.2 229.8 131.0 229.9 129.4 230.0 132.9 230.1 131.9 230.2 127.6 230.3 130.4 230.4 130.9 230.5 126.5 230.6 124.3 230.7 125.0 230.8 128.3 230.9 121.5 231.0 127.7 231.1 124.4 231.2 125.2 231.3 127.8 231.4 131.4 231.5 128.5 231.6 127.9 231.7 130.5 231.8 125.3 231.9 128.9 232.0 129.5 232.1 125.9 232.2 128.2 232.3 123.8 232.4 126.8 232.5 127.2 232.6 134.3 232.7 132.7 232.8 125.5 232.9 129.8 233.0 123.9 233.1 124.4 233.2 122.2 233.3 125.0 233.4 125.7 233.5 128.3 233.6 112.5 233.7 102.4 233.8 133.1 233.9 136.8 234.0 127.0 234.1 125.6 234.2 121.9 234.3 120.0 234.4 123.0 234.5 124.6 234.6 133.6 234.7 129.0 234.8 118.7 234.9 121.2 235.0 115.8 235.1 119.1 235.2 121.4 235.3 120.8 235.4 119.2 235.5 121.6 235.6 118.3 235.7 120.5 235.8 124.0 235.9 119.1 236.0 122.9 236.1 119.2 236.2 117.6 236.3 107.9 236.4 117.6 236.5 120.7 236.6 118.7 236.7 118.4 236.8 122.7 236.9 121.3 237.0 119.3 237.1 118.1 237.2 119.5 237.3 120.1 237.4 124.3 237.5 120.4 237.6 100.6 237.7 80.1 237.8 142.5 237.9 144.2 238.0 129.8 238.1 112.9 238.2 116.1 238.3 121.8 238.4 120.0 238.5 115.7 238.6 117.0 238.7 120.2 238.8 122.5 238.9 121.3 239.0 113.6 239.1 119.9 239.2 120.2 239.3 119.2 239.4 113.0 239.5 115.9 239.6 117.4 239.7 119.6 239.8 116.8 239.9 115.6 240.0 119.8 240.1 121.1 240.2 119.5 240.3 120.9 240.4 124.4 240.5 125.7 240.6 99.0 240.7 78.3 240.8 133.6 240.9 136.2 241.0 125.6 241.1 128.9 241.2 137.6 241.3 144.0 241.4 149.6 241.5 147.8 241.6 152.6 241.7 143.7 241.8 136.5 241.9 134.1 242.0 152.2 242.1 151.2 242.2 136.0 242.3 130.8 242.4 127.7 242.5 130.8 242.6 126.7 242.7 128.5 242.8 124.9 242.9 125.7 243.0 120.2 243.1 116.7 243.2 113.7 243.3 118.1 243.4 119.7 243.5 115.1 243.6 114.0 243.7 115.3 243.8 114.3 243.9 114.0 244.0 116.8 244.1 119.1 244.2 117.1 244.3 113.7 244.4 117.7 244.5 114.3 244.6 117.9 244.7 114.1 244.8 115.2 244.9 112.8 245.0 112.9 245.1 115.9 245.2 111.7 245.3 114.1 245.4 111.2 245.5 114.0 245.6 117.7 245.7 111.8 245.8 113.6 245.9 108.8 246.0 118.9 246.1 117.5 246.2 113.2 246.3 107.4 246.4 113.3 246.5 113.5 246.6 112.9 246.7 112.0 246.8 113.2 246.9 114.2 247.0 115.1 247.1 107.6 247.2 106.2 247.3 110.5 247.4 108.1 247.5 108.4 247.6 109.4 247.7 114.1 247.8 88.0 247.9 65.1 248.0 143.3 248.1 150.9 248.2 131.8 248.3 119.1 248.4 115.5 248.5 119.3 248.6 114.5 248.7 105.1 248.8 130.4 248.9 131.8 249.0 121.8 249.1 119.4 249.2 117.5 249.3 117.3 249.4 121.5 249.5 113.9 249.6 103.6 249.7 131.5 249.8 136.5 249.9 122.1 250.0 120.1 250.1 114.5 250.2 110.7 250.3 129.7 250.4 130.0 250.5 122.8 250.6 122.8 250.7 120.8 250.8 125.5 250.9 109.7 251.0 85.4 251.1 158.6 251.2 169.9 251.3 150.6 251.4 137.3 251.5 138.3 251.6 144.7 251.7 143.4 251.8 140.9 251.9 146.6 252.0 143.7 252.1 143.2 252.2 145.7 252.3 141.7 252.4 140.1 252.5 147.1 252.6 139.5 252.7 144.3 252.8 145.3 252.9 142.7 253.0 142.4 253.1 142.0 253.2 147.3 253.3 143.5 253.4 140.9 253.5 146.3 253.6 145.3 253.7 148.6 253.8 144.7 253.9 142.0 254.0 144.4 254.1 144.3 254.2 148.0 254.3 147.5 254.4 147.9 254.5 142.7 254.6 144.1 254.7 144.1 254.8 144.0 254.9 142.6 255.0 148.8 255.1 140.7 255.2 140.4 255.3 143.3 255.4 143.0 255.5 130.8 255.6 135.7 255.7 135.8 255.8 139.8 255.9 139.5 256.0 139.3 256.1 134.1 256.2 135.8 256.3 138.6 256.4 140.4 256.5 133.3 256.6 131.7 256.7 135.4 256.8 133.7 256.9 132.4 257.0 134.4 257.1 131.5 257.2 134.0 257.3 106.0 257.4 81.3 257.5 155.2 257.6 160.4 257.7 139.9 257.8 127.8 257.9 127.6 258.0 126.2 258.1 121.9 258.2 124.3 258.3 123.9 258.4 122.1 258.5 122.1 258.6 122.3 258.7 124.6 258.8 115.6 258.9 98.9 259.0 138.0 259.1 141.9 259.2 122.3 259.3 120.2 259.4 118.8 259.5 117.8 259.6 120.4 259.7 118.9 259.8 118.6 259.9 117.7 260.0 114.8 260.1 115.0 260.2 110.5 260.3 97.4 260.4 118.7 260.5 127.2 260.6 113.8 260.7 116.1 260.8 115.6 260.9 112.5 261.0 117.3 261.1 114.6 261.2 111.0 261.3 108.0 261.4 110.7 261.5 110.1 261.6 113.5 261.7 108.5 261.8 109.6 261.9 81.1 262.0 51.8 262.1 137.1 262.2 140.7 262.3 136.4 262.4 130.5 262.5 141.4 262.6 135.1 262.7 135.7 262.8 131.1 262.9 131.7 263.0 129.6 263.1 131.5 263.2 130.3 263.3 127.5 263.4 124.9 263.5 118.1 263.6 120.6 263.7 120.2 263.8 122.9 263.9 118.4 264.0 121.2 264.1 119.9 264.2 121.3 264.3 117.0 264.4 121.4 264.5 122.2 264.6 124.7 264.7 120.7 264.8 126.0 264.9 119.4 265.0 125.9 265.1 124.2 265.2 127.1 265.3 126.1 265.4 123.1 265.5 121.3 265.6 124.4 265.7 100.8 265.8 74.8 265.9 152.5 266.0 159.7 266.1 134.0 266.2 121.0 266.3 126.4 266.4 121.6 266.5 120.2 266.6 124.6 266.7 120.6 266.8 120.7 266.9 123.0 267.0 124.4 267.1 118.9 267.2 122.4 267.3 116.1 267.4 118.1 267.5 123.3 267.6 122.1 267.7 119.6 267.8 120.7 267.9 122.5 268.0 121.4 268.1 122.5 268.2 120.3 268.3 113.8 268.4 139.2 268.5 146.1 268.6 132.1 268.7 125.3 268.8 119.8 268.9 122.8 269.0 118.5 269.1 121.1 269.2 122.2 269.3 123.0 269.4 120.8 269.5 124.6 269.6 121.9 269.7 121.0 269.8 124.0 269.9 118.1 270.0 105.6 270.1 138.5 270.2 147.8 270.3 131.9 270.4 119.4 270.5 118.4 270.6 119.7 270.7 122.0 270.8 125.7 270.9 124.3 271.0 123.1 271.1 124.6 271.2 121.7 271.3 121.7 271.4 110.3 271.5 130.8 271.6 130.0 271.7 119.5 271.8 118.9 271.9 125.9 272.0 122.2 272.1 122.3 272.2 126.2 272.3 122.7 272.4 123.5 272.5 123.0 272.6 124.0 272.7 119.3 272.8 117.0 272.9 120.9 273.0 122.1 273.1 125.6 273.2 122.7 273.3 119.3 273.4 131.0 273.5 122.0 273.6 120.0 273.7 120.3 273.8 120.0 273.9 94.6 274.0 65.3 274.1 146.0 274.2 150.8 274.3 147.2 274.4 137.7 274.5 136.4 274.6 138.5 274.7 140.5 274.8 141.0 274.9 138.8 275.0 139.2 275.1 133.3 275.2 141.1 275.3 118.3 275.4 92.5 275.5 156.5 275.6 165.5 275.7 139.5 275.8 126.4 275.9 131.0 276.0 121.0 276.1 113.1 276.2 135.3 276.3 138.4 276.4 134.4 276.5 128.4 276.6 122.5 276.7 125.7 276.8 128.9 276.9 126.6 277.0 110.0 277.1 129.6 277.2 133.3 277.3 126.2 277.4 121.4 277.5 121.8 277.6 125.1 277.7 125.9 277.8 122.0 277.9 125.9 278.0 121.6 278.1 118.1 278.2 123.8 278.3 119.0 278.4 119.5 278.5 120.4 278.6 120.3 278.7 123.5 278.8 119.9 278.9 118.9 279.0 120.3 279.1 116.3 279.2 109.7 279.3 131.7 279.4 128.8 279.5 124.1 279.6 122.7 279.7 119.4 279.8 118.8 279.9 116.6 280.0 115.3 280.1 119.0 280.2 117.5 280.3 123.6 280.4 121.8 280.5 119.8 280.6 119.4 280.7 120.8 280.8 118.1 280.9 115.6 281.0 127.4 281.1 129.3 281.2 125.8 281.3 122.3 281.4 124.4 281.5 120.6 281.6 121.5 281.7 127.3 281.8 126.6 281.9 127.3 282.0 123.5 282.1 121.9 282.2 124.3 282.3 126.2 282.4 128.7 282.5 130.4 282.6 127.6 282.7 125.1 282.8 126.6 282.9 133.1 283.0 132.6 283.1 130.3 283.2 133.2 283.3 134.6 283.4 129.6 283.5 135.5 283.6 132.0 283.7 125.8 283.8 126.5 283.9 136.7 284.0 132.8 284.1 130.4 284.2 138.9 284.3 134.6 284.4 134.6 284.5 132.7 284.6 132.7 284.7 128.6 284.8 132.1 284.9 93.9 285.0 48.9 285.1 156.4 285.2 162.9 285.3 143.2 285.4 125.9 285.5 130.5 285.6 130.0 285.7 129.7 285.8 128.3 285.9 128.3 286.0 124.9 286.1 132.1 286.2 130.8 286.3 122.8 286.4 124.0 286.5 129.1 286.6 126.2 286.7 127.6 286.8 126.9 286.9 126.0 287.0 127.5 287.1 125.4 287.2 126.8 287.3 121.4 287.4 115.3 287.5 133.2 287.6 136.8 287.7 128.8 287.8 121.0 287.9 124.9 288.0 129.3 288.1 127.8 288.2 127.5 288.3 125.1 288.4 124.3 288.5 124.8 288.6 128.1 288.7 128.2 288.8 120.8 288.9 124.1 289.0 127.4 289.1 122.4 289.2 123.7 289.3 122.6 289.4 124.2 289.5 126.2 289.6 122.1 289.7 125.7 289.8 124.9 289.9 126.9 290.0 126.4 290.1 123.9 290.2 124.8 290.3 120.9 290.4 114.8 290.5 137.9 290.6 137.0 290.7 128.7 290.8 123.7 290.9 124.1 291.0 126.8 291.1 124.3 291.2 127.6 291.3 122.9 291.4 125.6 291.5 124.2 291.6 128.1 291.7 126.4 291.8 128.5 291.9 123.1 292.0 126.1 292.1 124.2 292.2 118.7 292.3 126.5 292.4 128.0 292.5 130.1 292.6 123.1 292.7 126.1 292.8 128.1 292.9 125.1 293.0 127.1 293.1 125.5 293.2 130.4 293.3 126.8 293.4 126.8 293.5 128.8 293.6 126.2 293.7 119.1 293.8 127.1 293.9 123.2 294.0 109.0 294.1 90.7 294.2 161.7 294.3 170.8 294.4 140.8 294.5 128.3 294.6 135.3 294.7 132.7 294.8 137.5 294.9 134.1 295.0 135.0 295.1 115.3 295.2 85.6 295.3 142.3 295.4 144.6 295.5 141.3 295.6 137.1 295.7 144.5 295.8 139.2 295.9 134.8 296.0 141.1 296.1 140.9 296.2 139.4 296.3 137.4 296.4 137.2 296.5 143.7 296.6 136.1 296.7 137.4 296.8 133.9 296.9 133.7 297.0 138.7 297.1 136.6 297.2 133.3 297.3 127.3 297.4 122.5 297.5 140.9 297.6 141.0 297.7 132.0 297.8 131.2 297.9 129.4 298.0 127.7 298.1 131.6 298.2 133.9 298.3 137.7 298.4 131.7 298.5 131.2 298.6 128.5 298.7 127.6 298.8 123.6 298.9 128.5 299.0 120.6 299.1 120.9 299.2 122.5 299.3 116.6 299.4 108.0 299.5 122.8 299.6 128.3 299.7 121.8 299.8 123.6 299.9 120.3 300.0 118.6 300.1 117.0 300.2 115.4 300.3 117.2 300.4 118.8 300.5 119.1 300.6 116.5 300.7 119.1 300.8 120.1 300.9 113.5 301.0 114.0 301.1 115.5 301.2 115.1 301.3 116.7 301.4 118.4 301.5 114.3 301.6 119.3 301.7 113.1 301.8 114.6 301.9 119.9 302.0 112.3 302.1 118.0 302.2 115.1 302.3 116.5 302.4 118.7 302.5 115.0 302.6 121.0 302.7 119.6 302.8 117.4 302.9 118.1 303.0 103.8 303.1 82.7 303.2 140.4 303.3 144.9 303.4 129.6 303.5 120.8 303.6 124.9 303.7 102.0 303.8 84.0 303.9 143.1 304.0 143.9 304.1 132.2 304.2 131.8 304.3 133.1 304.4 130.9 304.5 128.1 304.6 127.9 304.7 127.5 304.8 126.3 304.9 128.8 305.0 125.8 305.1 123.5 305.2 125.4 305.3 123.9 305.4 121.0 305.5 124.9 305.6 119.4 305.7 122.8 305.8 124.3 305.9 123.0 306.0 121.5 306.1 123.7 306.2 122.6 306.3 122.6 306.4 113.9 306.5 134.2 306.6 134.3 306.7 126.6 306.8 125.8 306.9 119.4 307.0 123.3 307.1 128.5 307.2 121.7 307.3 123.4 307.4 123.3 307.5 129.5 307.6 128.2 307.7 130.2 307.8 126.5 307.9 129.1 308.0 129.0 308.1 128.5 308.2 133.6 308.3 129.7 308.4 125.0 308.5 131.5 308.6 127.2 308.7 131.1 308.8 130.3 308.9 129.3 309.0 130.6 309.1 129.4 309.2 133.6 309.3 130.8 309.4 131.3 309.5 130.6 309.6 129.3 309.7 133.5 309.8 130.3 309.9 130.9 310.0 132.1 310.1 126.5 310.2 132.8 310.3 122.9 310.4 117.1 310.5 137.3 310.6 139.2 310.7 130.4 310.8 127.9 310.9 122.4 311.0 123.4 311.1 124.6 311.2 125.0 311.3 122.6 311.4 119.8 311.5 121.3 311.6 121.9 311.7 119.5 311.8 119.0 311.9 125.2 312.0 121.8 312.1 116.7 312.2 122.4 312.3 119.9 312.4 115.7 312.5 118.0 312.6 100.3 312.7 76.3 312.8 138.2 312.9 145.6 313.0 125.8 313.1 115.7 313.2 115.8 313.3 112.6 313.4 112.2 313.5 117.8 313.6 117.7 313.7 117.4 313.8 117.0 313.9 116.6 314.0 114.1 314.1 112.4 314.2 118.9 314.3 118.2 314.4 116.3 314.5 102.5 314.6 86.9 314.7 138.1 314.8 141.4 314.9 129.6 315.0 123.5 315.1 124.0 315.2 125.6 315.3 129.2 315.4 128.1 315.5 125.5 315.6 127.1 315.7 124.5 315.8 130.7 315.9 124.7 316.0 129.2 316.1 124.9 316.2 132.0 316.3 127.9 316.4 130.3 316.5 127.6 316.6 129.4 316.7 132.8 316.8 123.2 316.9 127.8 317.0 128.7 317.1 125.8 317.2 131.5 317.3 122.9 317.4 113.7 317.5 135.7 317.6 134.8 317.7 128.4 317.8 128.8 317.9 127.3 318.0 128.8 318.1 126.5 318.2 129.8 318.3 130.5 318.4 123.4 318.5 127.7 318.6 131.7 318.7 128.5 318.8 125.5 318.9 126.8 319.0 126.9 319.1 132.7 319.2 126.9 319.3 126.9 319.4 132.3 319.5 130.4 319.6 126.0 319.7 126.8 319.8 130.3 319.9 130.5 320.0 128.6 320.1 127.2 320.2 125.4 320.3 123.6 320.4 122.7 320.5 137.3 320.6 142.6 320.7 135.7 320.8 129.0 320.9 127.9 321.0 127.6 321.1 124.5 321.2 127.8 321.3 126.0 321.4 124.3 321.5 127.1 321.6 125.4 321.7 128.0 321.8 129.6 321.9 126.9 322.0 131.1 322.1 129.2 322.2 112.4 322.3 99.5 322.4 153.1 322.5 157.1 322.6 144.8 322.7 128.3 322.8 125.9 322.9 124.9 323.0 128.3 323.1 125.6 323.2 130.7 323.3 125.0 323.4 118.4 323.5 138.1 323.6 137.8 323.7 135.7 323.8 127.1 323.9 128.5 324.0 125.2 324.1 132.0 324.2 130.2 324.3 132.2 324.4 133.8 324.5 132.3 324.6 137.7 324.7 132.5 324.8 119.4 324.9 94.4 325.0 148.2 325.1 146.4 325.2 140.2 325.3 140.5 325.4 140.0 325.5 139.6 325.6 139.5 325.7 137.6 325.8 137.3 325.9 137.4 326.0 135.0 326.1 131.8 326.2 131.7 326.3 134.5 326.4 131.6 326.5 133.3 326.6 135.6 326.7 135.1 326.8 127.8 326.9 129.2 327.0 131.8 327.1 125.9 327.2 122.7 327.3 129.7 327.4 125.1 327.5 125.7 327.6 125.5 327.7 128.1 327.8 128.3 327.9 127.3 328.0 127.1 328.1 123.8 328.2 129.8 328.3 123.8 328.4 115.9 328.5 134.2 328.6 132.2 328.7 129.2 328.8 122.1 328.9 129.8 329.0 120.9 329.1 122.6 329.2 123.3 329.3 123.2 329.4 126.4 329.5 126.9 329.6 126.8 329.7 126.8 329.8 122.1 329.9 126.5 330.0 126.2 330.1 122.3 330.2 128.5 330.3 124.4 330.4 129.0 330.5 126.9 330.6 128.0 330.7 124.1 330.8 128.5 330.9 123.1 331.0 125.7 331.1 123.5 331.2 121.2 331.3 121.9 331.4 116.4 331.5 120.0 331.6 111.1 331.7 92.9 331.8 143.2 331.9 153.7 332.0 132.6 332.1 118.8 332.2 116.5 332.3 118.6 332.4 119.7 332.5 120.6 332.6 122.3 332.7 123.2 332.8 121.2 332.9 117.6 333.0 117.9 333.1 119.9 333.2 116.5 333.3 109.9 333.4 102.4 333.5 123.1 333.6 126.0 333.7 115.2 333.8 110.8 333.9 115.7 334.0 116.8 334.1 109.0 334.2 107.2 334.3 109.5 334.4 108.3 334.5 108.6 334.6 109.8 334.7 110.6 334.8 107.9 334.9 110.9 335.0 111.5 335.1 109.0 335.2 108.0 335.3 103.7 335.4 101.6 335.5 94.1 335.6 86.7 335.7 134.5 335.8 141.6 335.9 124.5 336.0 117.0 336.1 120.4 336.2 116.3 336.3 123.0 336.4 122.5 336.5 125.6 336.6 124.3 336.7 128.3 336.8 125.8 336.9 123.4 337.0 130.2 337.1 128.1 337.2 123.2 337.3 121.6 337.4 122.0 337.5 135.7 337.6 132.9 337.7 131.6 337.8 124.0 337.9 127.3 338.0 127.4 338.1 127.6 338.2 129.5 338.3 131.2 338.4 129.3 338.5 124.4 338.6 125.4 338.7 126.6 338.8 138.0 338.9 133.4 339.0 133.8 339.1 131.0 339.2 131.2 339.3 135.4 339.4 132.3 339.5 135.6 339.6 131.0 339.7 129.6 339.8 133.5 339.9 132.7 340.0 129.9 340.1 130.3 340.2 123.0 340.3 117.6 340.5 146.3 340.6 152.8 340.7 141.4 340.8 130.1 340.9 128.5 341.0 127.8 341.1 132.2 341.2 132.3 341.3 129.8 341.4 132.7 341.5 129.8 341.6 122.8 341.7 122.3 341.8 129.1 341.9 132.6 342.0 128.3 342.1 126.1 342.2 133.7 342.3 127.8 342.4 124.4 342.5 127.5 342.6 129.1 342.7 130.3 342.8 130.5 342.9 124.5 343.0 129.3 343.1 128.7 343.2 125.6 343.3 126.1 343.4 128.8 343.5 127.8 343.6 131.8 343.7 131.4 343.8 121.9 343.9 122.2 344.0 123.2 344.1 128.0 344.2 126.2 344.3 109.9 344.4 94.7 344.5 152.2 344.6 160.7 344.7 135.3 344.8 122.9 344.9 125.0 345.0 126.6 345.1 125.5 345.2 123.6 345.3 135.0 345.4 125.8 345.5 125.1 345.6 121.1 345.7 122.4 345.8 127.3 345.9 125.6 346.0 122.9 346.1 123.5 346.2 127.0 346.3 127.8 346.4 126.4 346.5 125.9 346.6 125.2 346.7 127.5 346.8 122.8 346.9 123.7 347.0 126.9 347.1 120.0 347.2 123.7 347.3 125.1 347.4 122.9 347.5 123.7 347.6 122.8 347.7 125.9 347.8 123.3 347.9 127.1 348.0 116.9 348.1 118.3 348.2 118.6 348.3 122.6 348.4 125.9 348.5 121.5 348.6 121.5 348.7 124.9 348.8 120.3 348.9 123.9 349.0 121.5 349.1 123.8 349.2 125.1 349.3 123.4 349.4 123.2 349.5 121.9 349.6 123.4 349.7 111.2 349.8 94.9 349.9 147.4 350.0 154.2 350.1 132.2 350.2 125.3 350.3 126.4 350.4 125.3 350.5 136.0 350.6 126.5 350.7 127.2 350.8 122.3 350.9 123.1 351.0 126.6 351.1 123.8 351.2 123.5 351.3 120.8 351.4 123.9 351.5 127.5 351.6 122.2 351.7 123.9 351.8 124.4 351.9 124.8 352.0 125.0 352.1 124.2 352.2 129.7 352.3 123.5 352.4 123.6 352.5 123.8 352.6 124.8 352.7 130.5 352.8 128.2 352.9 125.7 353.0 134.9 353.1 128.2 353.2 125.7 353.3 128.1 353.4 131.1 353.5 131.8 353.6 127.7 353.7 114.5 353.8 102.4 353.9 153.9 354.0 160.2 354.1 137.0 354.2 125.4 354.3 127.6 354.4 129.8 354.5 126.2 354.6 127.9 354.7 130.0 354.8 126.1 354.9 123.3 355.0 126.1 355.1 129.6 355.2 124.3 355.3 130.4 355.4 126.8 355.5 123.0 355.6 119.9 355.7 119.3 355.8 124.7 355.9 124.4 356.0 123.3 356.1 124.3 356.2 125.9 356.3 126.4 356.4 126.7 356.5 124.4 356.6 127.3 356.7 127.2 356.8 130.5 356.9 129.6 357.0 127.3 357.1 124.6 357.2 123.4 357.3 127.8 357.4 125.1 357.5 125.0 357.6 124.7 357.7 121.9 357.8 123.7 357.9 126.2 358.0 122.2 358.1 133.1 358.2 126.8 358.3 123.6 358.4 118.9 358.5 102.9 358.6 78.7 358.7 149.8 358.8 159.4 358.9 133.7 359.0 124.0 359.1 125.7 359.2 121.9 359.3 122.3 359.4 116.7 359.5 120.2 359.6 124.3 359.7 123.1 359.8 122.3 359.9 124.1 360.0 122.1 360.1 119.9 360.2 122.7 360.3 122.2 360.4 125.2 360.5 121.0 360.6 124.4 360.7 120.3 360.8 121.6 360.9 122.9 361.0 122.5 361.1 121.7 361.2 123.4 361.3 129.1 361.4 127.4 361.5 120.8 361.6 124.3 361.7 122.9 361.8 119.3 361.9 121.2 362.0 124.0 362.1 123.0 362.2 123.2 362.3 120.4 362.4 122.5 362.5 121.3 362.6 119.8 362.7 123.7 362.8 123.4 362.9 122.7 363.0 119.3 363.1 121.9 363.2 119.1 363.3 119.8 363.4 121.4 363.5 117.7 363.6 121.5 363.7 117.3 363.8 114.5 363.9 95.7 364.0 128.2 364.1 134.4 364.2 127.1 364.3 120.8 364.4 125.8 364.5 122.5 364.6 119.5 364.7 123.6 364.8 122.0 364.9 123.6 365.0 120.6 365.1 126.4 365.2 128.7 365.3 126.4 365.4 121.3 365.5 120.4 365.6 128.0 365.7 126.3 365.8 124.7 365.9 124.9 366.0 120.8 366.1 124.7 366.2 125.1 366.3 127.6 366.4 126.4 366.5 125.8 366.6 122.4 366.7 126.1 366.8 127.3 366.9 126.6 367.0 128.7 367.1 116.6 367.2 99.4 367.3 151.8 367.4 169.5 367.5 143.9 367.6 126.4 367.7 126.2 367.8 126.8 367.9 124.9 368.0 127.6 368.1 129.9 368.2 124.3 368.3 128.4 368.4 124.5 368.5 124.5 368.6 125.5 368.7 128.7 368.8 124.5 368.9 124.7 369.0 129.7 369.1 127.1 369.2 128.6 369.3 126.3 369.4 126.7 369.5 126.4 369.6 128.6 369.7 128.9 369.8 126.9 369.9 128.3 370.0 131.4 370.1 124.6 370.2 126.4 370.3 129.8 370.4 123.1 370.5 127.5 370.6 125.0 370.7 126.3 370.8 121.6 370.9 122.3 371.0 129.5 371.1 111.6 371.2 98.5 371.3 152.3 371.4 154.9 371.5 137.6 371.6 125.1 371.7 122.7 371.8 122.2 371.9 120.5 372.0 120.8 372.1 121.0 372.2 122.7 372.3 122.7 372.4 126.5 372.5 126.5 372.6 124.7 372.7 124.0 372.8 123.2 372.9 124.3 373.0 124.0 373.1 120.7 373.2 129.1 373.3 125.8 373.4 126.3 373.5 120.9 373.6 111.7 373.7 114.5 373.8 128.9 373.9 126.6 374.0 126.3 374.1 108.3 374.2 86.9 374.3 134.3 374.4 137.0 374.5 130.9 374.6 126.8 374.7 125.4 374.8 119.6 374.9 122.2 375.0 122.2 375.1 135.0 375.2 130.4 375.3 125.3 375.4 120.4 375.5 125.0 375.6 126.6 375.7 125.8 375.8 129.0 375.9 122.4 376.0 126.6 376.1 125.5 376.2 127.6 376.3 124.4 376.4 124.6 376.5 126.4 376.6 127.0 376.7 122.8 376.8 124.5 376.9 125.1 377.0 127.8 377.1 127.7 377.2 126.2 377.3 127.2 377.4 125.4 377.5 127.9 377.6 108.3 377.7 89.2 377.8 141.2 377.9 153.7 378.0 141.0 378.1 128.2 378.2 128.3 378.3 128.9 378.4 132.3 378.5 128.2 378.6 132.3 378.7 127.9 378.8 128.5 378.9 131.7 379.0 132.9 379.1 129.1 379.2 130.4 379.3 129.1 379.4 130.1 379.5 128.1 379.6 130.6 379.7 133.4 379.8 133.0 379.9 142.2 380.0 134.7 380.1 134.2 380.2 131.8 380.3 132.0 380.4 130.4 380.5 132.8 380.6 132.4 380.7 134.1 380.8 131.7 380.9 134.4 381.0 131.0 381.1 128.2 381.2 135.9 381.3 130.5 381.4 130.8 381.5 120.2 381.6 107.9 381.7 157.1 381.8 164.0 381.9 142.9 382.0 134.4 382.1 131.1 382.2 130.3 382.3 129.6 382.4 132.0 382.5 134.5 382.6 127.8 382.7 134.7 382.8 138.7 382.9 133.0 383.0 133.4 383.1 135.3 383.2 132.1 383.3 132.7 383.4 133.8 383.5 130.8 383.6 130.5 383.7 127.7 383.8 129.9 383.9 132.3 384.0 134.3 384.1 135.3 384.2 127.2 384.3 133.1 384.4 130.6 384.5 134.2 384.6 128.8 384.7 130.3 384.8 131.4 384.9 133.2 385.0 126.4 385.1 117.2 385.2 149.7 385.3 150.0 385.4 139.2 385.5 126.8 385.6 132.3 385.7 139.1 385.8 136.1 385.9 128.9 386.0 130.1 386.1 132.0 386.2 128.7 386.3 129.0 386.4 134.1 386.5 127.9 386.6 129.0 386.7 131.5 386.8 129.8 386.9 127.2 387.0 129.4 387.1 131.6 387.2 130.9 387.3 131.1 387.4 127.8 387.5 126.9 387.6 128.2 387.7 128.3 387.8 126.5 387.9 114.2 388.0 98.8 388.1 146.9 388.2 146.9 388.3 135.4 388.4 134.7 388.5 137.2 388.6 133.8 388.7 134.8 388.8 130.4 388.9 132.8 389.0 136.6 389.1 133.7 389.2 135.8 389.3 138.2 389.4 129.5 389.5 132.5 389.6 135.1 389.7 136.2 389.8 132.3 389.9 133.5 390.0 132.3 390.1 135.9 390.2 140.3 390.3 135.9 390.4 133.6 390.5 136.3 390.6 139.9 390.7 139.4 390.8 136.8 390.9 134.8 391.0 120.5 391.1 135.8 391.2 140.9 391.3 138.9 391.4 139.8 391.5 141.9 391.6 139.8 391.7 142.6 391.8 146.2 391.9 138.4 392.0 140.2 392.1 142.1 392.2 137.1 392.3 137.0 392.4 116.6 392.5 74.8 392.6 148.7 392.7 153.8 392.8 143.0 392.9 135.2 393.0 134.8 393.1 136.9 393.2 137.2 393.3 122.0 393.4 117.2 393.5 155.4 393.6 155.2 393.7 145.4 393.8 135.8 393.9 131.6 394.0 130.0 394.1 130.6 394.2 135.3 394.3 135.2 394.4 135.9 394.5 132.6 394.6 128.8 394.7 132.3 394.8 134.0 394.9 126.9 395.0 119.1 395.1 126.4 395.2 125.0 395.3 129.9 395.4 128.7 395.5 132.1 395.6 132.7 395.7 128.8 395.8 126.1 395.9 128.1 396.0 126.7 396.1 131.3 396.2 122.9 396.3 127.2 396.4 131.3 396.5 124.6 396.6 124.9 396.7 128.1 396.8 121.5 396.9 127.6 397.0 125.6 397.1 123.4 397.2 118.5 397.3 118.9 397.4 119.0 397.5 122.9 397.6 120.5 397.7 108.5 397.8 95.5 397.9 139.2 398.0 142.8 398.1 127.0 398.2 119.6 398.3 121.5 398.4 117.5 398.5 118.3 398.6 115.1 398.7 119.4 398.8 118.8 398.9 125.7 399.0 119.4 399.1 119.3 399.2 123.3 399.3 121.5 399.4 121.0 399.5 119.0 399.6 117.6 399.7 117.4 399.8 120.1 399.9 118.7 400.0 122.8 400.1 117.1 400.2 123.4 400.3 122.6 400.4 120.7 400.5 121.0 400.6 123.7 400.7 120.8 400.8 108.9 400.9 94.2 401.0 136.3 401.1 134.8 401.2 130.9 401.3 125.1 401.4 120.8 401.5 122.0 401.6 128.7 401.7 123.4 401.8 111.0 401.9 117.3 402.0 125.6 402.1 122.4 402.2 125.3 402.3 123.8 402.4 120.8 402.5 121.0 402.6 127.3 402.7 127.5 402.8 125.1 402.9 129.5 403.0 127.5 403.1 130.5 403.2 129.2 403.3 133.1 403.4 124.7 403.5 132.2 403.6 133.8 403.7 129.2 403.8 131.9 403.9 130.4 404.0 133.2 404.1 132.8 404.2 109.4 404.3 96.2 404.4 153.4 404.5 152.4 404.6 139.5 404.7 133.9 404.8 133.9 404.9 134.4 405.0 134.0 405.1 136.2 405.2 135.0 405.3 134.5 405.4 132.1 405.5 132.6 405.6 132.0 405.7 130.5 405.8 128.3 405.9 131.9 406.0 133.1 406.1 133.8 406.2 125.5 406.3 129.3 406.4 127.4 406.5 128.4 406.6 133.5 406.7 130.4 406.8 131.1 406.9 134.4 407.0 132.4 407.1 129.6 407.2 131.0 407.3 129.4 407.4 128.5 407.5 130.5 407.6 127.9 407.7 113.0 407.8 94.2 407.9 160.4 408.0 161.5 408.1 146.4 408.2 133.0 408.3 125.5 408.4 129.3 408.5 130.0 408.6 127.1 408.7 128.3 408.8 126.3 408.9 125.6 409.0 127.9 409.1 96.7 409.2 69.5 409.3 143.4 409.4 144.4 409.5 128.6 409.6 125.0 409.7 124.4 409.8 123.7 409.9 124.8 410.0 122.5 410.1 120.8 410.2 120.4 410.3 123.8 410.4 122.2 410.5 134.7 410.6 121.9 410.7 117.2 410.8 118.3 410.9 119.3 411.0 114.0 411.1 122.6 411.2 116.2 411.3 104.2 411.4 93.6 411.5 141.6 411.6 152.0 411.7 129.3 411.8 119.9 411.9 110.8 412.0 111.8 412.1 112.0 412.2 118.9 412.3 116.0 412.4 116.6 412.5 116.7 412.6 120.8 412.7 122.9 412.8 120.8 412.9 113.8 413.0 120.4 413.1 116.4 413.2 118.0 413.3 117.0 413.4 119.6 413.5 116.8 413.6 117.0 413.7 117.3 413.8 117.8 413.9 119.6 414.0 121.3 414.1 116.9 414.2 118.7 414.3 118.8 414.4 120.4 414.5 118.5 414.6 122.2 414.7 127.3 414.8 125.6 414.9 118.6 415.0 119.5 415.1 117.6 415.2 119.4 415.3 119.3 415.4 121.1 415.5 117.4 415.6 117.7 415.7 119.4 415.8 120.1 415.9 116.8 416.0 119.9 416.1 116.4 416.2 102.0 416.3 87.1 416.4 137.1 416.5 142.3 416.6 127.6 416.7 122.7 416.8 124.8 416.9 123.4 417.0 137.4 417.1 126.6 417.2 127.1 417.3 126.5 417.4 123.5 417.5 122.7 417.6 124.2 417.7 124.5 417.8 123.9 417.9 128.7 418.0 127.6 418.1 129.8 418.2 125.6 418.3 128.5 418.4 127.3 418.5 125.3 418.6 128.4 418.7 128.2 418.8 127.1 418.9 128.2 419.0 123.7 419.1 128.2 419.2 126.6 419.3 129.2 419.4 124.8 419.5 122.2 419.6 98.2 419.7 156.0 419.8 157.3 419.9 138.2 420.0 131.1 420.1 124.2 420.2 130.8 420.3 128.7 420.4 132.6 420.5 129.2 420.6 132.0 420.7 127.8 420.8 132.1 420.9 131.0 421.0 130.6 421.1 132.6 421.2 131.4 421.3 132.2 421.4 129.8 421.5 129.1 421.6 125.9 421.7 131.3 421.8 134.3 421.9 127.5 422.0 121.8 422.1 122.6 422.2 130.8 422.3 130.0 422.4 134.8 422.5 137.0 422.6 132.1 422.7 133.1 422.8 133.7 422.9 132.3 423.0 131.8 423.1 133.5 423.2 132.6 423.3 118.8 423.4 128.4 423.5 131.1 423.6 130.7 423.7 132.7 423.8 135.5 423.9 131.4 424.0 128.9 424.1 127.3 424.2 131.4 424.3 127.8 424.4 130.2 424.5 131.8 424.6 128.5 424.7 111.0 424.8 92.7 424.9 147.7 425.0 160.8 425.1 143.2 425.2 136.9 425.3 133.8 425.4 129.4 425.5 130.6 425.6 130.8 425.7 128.2 425.8 134.1 425.9 133.9 426.0 138.6 426.1 136.7 426.2 137.5 426.3 120.7 426.4 131.0 426.5 137.7 426.6 137.8 426.7 137.1 426.8 134.9 426.9 133.3 427.0 137.1 427.1 137.9 427.2 137.7 427.3 143.1 427.4 141.0 427.5 143.9 427.6 139.9 427.7 142.2 427.8 149.6 427.9 124.8 428.0 104.0 428.1 173.6 428.2 181.3 428.3 156.8 428.4 153.3 428.5 149.5 428.6 150.4 428.7 146.3 428.8 160.7 428.9 152.9 429.0 144.3 429.1 144.4 429.2 132.5 429.3 113.8 429.4 191.6 429.5 194.4 429.6 156.1 429.7 139.8 429.8 139.0 429.9 142.2 430.0 137.3 430.1 136.9 430.2 138.4 430.3 139.6 430.4 130.8 430.5 138.3 430.6 132.8 430.7 132.8 430.8 142.2 430.9 134.8 431.0 133.5 431.1 128.4 431.2 129.6 431.3 130.3 431.4 135.2 431.5 130.0 431.6 125.7 431.7 131.2 431.8 127.9 431.9 131.7 432.0 131.8 432.1 124.7 432.2 128.0 432.3 110.6 432.4 91.7 432.5 143.3 432.6 147.2 432.7 131.5 432.8 124.5 432.9 127.2 433.0 126.4 433.1 123.3 433.2 117.9 433.3 122.3 433.4 122.6 433.5 119.5 433.6 117.9 433.7 123.3 433.8 119.1 433.9 122.3 434.0 118.1 434.1 121.6 434.2 120.6 434.3 113.2 434.4 121.7 434.5 117.8 434.6 117.9 434.7 116.0 434.8 117.6 434.9 114.2 435.0 112.1 435.1 115.0 435.2 112.9 435.3 114.6 435.4 111.1 435.5 112.9 435.6 114.6 435.7 114.9 435.8 112.0 435.9 107.5 436.0 85.0 436.1 74.8 436.2 133.4 436.3 138.0 436.4 120.3 436.5 106.3 436.6 111.6 436.7 114.3 436.8 107.2 436.9 110.8 437.0 105.2 437.1 106.6 437.2 106.7 437.3 106.4 437.4 109.8 437.5 110.7 437.6 108.5 437.7 104.4 437.8 106.6 437.9 110.1 438.0 108.4 438.1 109.3 438.2 102.7 438.3 103.6 438.4 72.1 438.5 29.8 438.6 139.7 438.7 143.0 438.8 119.2 438.9 110.0 439.0 110.4 439.1 110.8 439.2 109.2 439.3 107.2 439.4 103.7 439.5 109.5 439.6 112.2 439.7 110.2 439.8 107.6 439.9 107.5 440.0 108.8 440.1 106.3 440.2 109.2 440.3 106.3 440.4 110.1 440.5 108.3 440.6 110.4 440.7 93.2 440.8 73.7 440.9 138.4 441.0 146.6 441.1 125.2 441.2 112.5 441.3 112.6 441.4 111.6 441.5 117.1 441.6 116.1 441.7 117.7 441.8 119.3 441.9 114.0 442.0 124.3 442.1 121.9 442.2 121.8 442.3 119.3 442.4 123.1 442.5 123.7 442.6 120.5 442.7 126.9 442.8 125.7 442.9 130.2 443.0 121.9 443.1 128.0 443.2 125.3 443.3 125.1 443.4 124.7 443.5 125.2 443.6 126.8 443.7 131.8 443.8 129.0 443.9 131.4 444.0 129.9 444.1 130.0 444.2 134.5 444.3 128.0 444.4 130.8 444.5 122.4 444.6 108.0 444.7 161.9 444.8 172.0 444.9 146.9 445.0 136.0 445.1 138.7 445.2 133.4 445.3 138.4 445.4 138.2 445.5 140.8 445.6 138.2 445.7 139.1 445.8 136.7 445.9 141.9 446.0 143.5 446.1 143.2 446.2 144.9 446.3 139.7 446.4 147.2 446.5 149.7 446.6 144.9 446.7 142.1 446.8 142.1 446.9 142.4 447.0 140.2 447.1 140.7 447.2 143.2 447.3 134.9 447.4 137.5 447.5 137.1 447.6 133.2 447.7 134.0 447.8 136.3 447.9 129.7 448.0 132.7 448.1 132.7 448.2 134.6 448.3 134.4 448.4 115.2 448.5 95.3 448.6 145.5 448.7 144.0 448.8 134.0 448.9 129.3 449.0 128.1 449.1 125.5 449.2 125.6 449.3 125.4 449.4 126.9 449.5 124.1 449.6 136.0 449.7 127.7 449.8 124.0 449.9 120.7 450.0 120.8 450.1 90.2 450.2 44.9 450.3 136.7 450.4 140.0 450.5 124.4 450.6 117.4 450.7 111.6 450.8 118.4 450.9 114.2 451.0 115.7 451.1 114.3 451.2 115.0 451.3 104.9 451.4 104.8 451.5 111.5 451.6 109.0 451.7 107.7 451.8 106.3 451.9 104.5 452.0 108.1 452.1 105.9 452.2 102.4 452.3 104.2 452.4 91.8 452.5 67.8 452.6 123.5 452.7 128.8 452.8 113.3 452.9 101.9 453.0 101.8 453.1 102.8 453.2 100.1 453.3 103.1 453.4 104.3 453.5 103.3 453.6 106.3 453.7 104.3 453.8 108.9 453.9 102.7 454.0 101.5 454.1 107.6 454.2 110.2 454.3 111.4 454.4 109.5 454.5 108.8 454.6 108.9 454.7 107.5 454.8 110.8 454.9 111.8 455.0 105.3 455.1 100.4 455.2 104.7 455.3 113.1 455.4 111.8 455.5 113.8 455.6 112.0 455.7 115.2 455.8 117.2 455.9 119.3 456.0 114.9 456.1 115.4 456.2 118.3 456.3 115.8 456.4 115.3 456.5 120.8 456.6 115.6 456.7 117.1 456.8 117.2 456.9 121.0 457.0 118.6 457.1 121.7 457.2 124.9 457.3 128.8 457.4 126.1 457.5 122.6 457.6 113.7 457.7 108.8 457.8 150.7 457.9 155.5 458.0 134.6 458.1 125.8 458.2 125.0 458.3 130.8 458.4 128.4 458.5 129.5 458.6 127.0 458.7 128.2 458.8 125.3 458.9 126.1 459.0 129.4 459.1 142.7 459.2 138.0 459.3 132.8 459.4 135.1 459.5 130.5 459.6 132.3 459.7 130.9 459.8 129.7 459.9 131.8 460.0 128.8 460.1 130.7 460.2 130.3 460.3 129.9 460.4 126.3 460.5 131.8 460.6 126.5 460.7 129.7 460.8 131.6 460.9 129.7 461.0 130.0 461.1 126.5 461.2 127.4 461.3 131.4 461.4 130.3 461.5 130.1 461.6 130.3 461.7 125.6 461.8 126.2 461.9 128.4 462.0 123.1 462.1 113.2 462.2 104.2 462.3 153.0 462.4 153.9 462.5 134.9 462.6 128.0 462.7 125.5 462.8 125.3 462.9 127.9 463.0 123.3 463.1 112.5 463.2 120.9 463.3 126.3 463.4 126.0 463.5 124.7 463.6 124.4 463.7 123.8 463.8 119.6 463.9 122.8 464.0 122.9 464.1 124.6 464.2 123.5 464.3 123.7 464.4 122.1 464.5 118.0 464.6 123.9 464.7 120.5 464.8 117.3 464.9 117.8 465.0 117.6 465.1 109.7 465.2 114.6 465.3 114.1 465.4 117.3 465.5 116.3 465.6 117.6 465.7 122.3 465.8 117.7 465.9 116.9 466.0 117.7 466.1 114.6 466.2 116.3 466.3 120.0 466.4 96.8 466.5 76.2 466.6 132.7 466.7 139.1 466.8 124.6 466.9 117.7 467.0 122.6 467.1 116.0 467.2 117.9 467.3 118.5 467.4 118.9 467.5 122.2 467.6 123.3 467.7 130.1 467.8 123.0 467.9 123.0 468.0 123.3 468.1 118.9 468.2 124.3 468.3 122.5 468.4 126.0 468.5 122.7 468.6 126.1 468.7 125.3 468.8 124.1 468.9 122.7 469.0 126.0 469.1 121.7 469.2 125.6 469.3 125.8 469.4 126.1 469.5 125.8 469.6 125.7 469.7 129.0 469.8 131.6 469.9 131.9 470.0 131.3 470.1 126.9 470.2 120.6 470.3 119.4 470.4 130.2 470.5 130.1 470.6 122.4 470.7 108.4 470.8 152.4 470.9 162.0 471.0 138.1 471.1 131.0 471.2 133.0 471.3 128.9 471.4 133.0 471.5 131.0 471.6 133.4 471.7 136.9 471.8 133.6 471.9 131.8 472.0 145.2 472.1 138.2 472.2 133.2 472.3 138.0 472.4 132.0 472.5 139.8 472.6 135.3 472.7 139.7 472.8 138.1 472.9 130.6 473.0 140.6 473.1 132.1 473.2 136.2 473.3 137.5 473.4 136.2 473.5 134.6 473.6 131.8 473.7 132.4 473.8 133.3 473.9 134.4 474.0 125.5 474.1 124.2 474.2 130.6 474.3 132.7 474.4 132.0 474.5 131.1 474.6 129.8 474.7 132.9 474.8 132.8 474.9 130.7 475.0 117.3 475.1 102.5 475.2 151.5 475.3 149.9 475.4 136.3 475.5 129.7 475.6 132.7 475.7 131.3 475.8 130.1 475.9 130.1 476.0 130.7 476.1 128.5 476.2 126.9 476.3 128.7 476.4 124.9 476.5 125.1 476.6 126.0 476.7 127.2 476.8 124.0 476.9 134.7 477.0 125.8 477.1 126.4 477.2 122.8 477.3 120.9 477.4 119.8 477.5 128.3 477.6 123.1 477.7 123.1 477.8 123.5 477.9 126.3 478.0 124.0 478.1 122.7 478.2 119.2 478.3 124.0 478.4 121.1 478.5 122.7 478.6 132.1 478.7 124.0 478.8 122.0 478.9 121.8 479.0 118.0 479.1 116.0 479.2 109.3 479.3 96.8 479.4 148.4 479.5 153.7 479.6 129.1 479.7 120.7 479.8 120.2 479.9 119.9 480.0 119.3 480.1 120.2 480.2 122.7 480.3 121.3 480.4 121.9 480.5 126.8 480.6 123.8 480.7 123.7 480.8 121.2 480.9 124.8 481.0 127.8 481.1 126.0 481.2 110.7 481.3 117.8 481.4 126.1 481.5 121.7 481.6 127.0 481.7 122.1 481.8 122.5 481.9 123.5 482.0 123.7 482.1 125.8 482.2 123.0 482.3 129.2 482.4 125.6 482.5 125.4 482.6 128.3 482.7 132.6 482.8 127.6 482.9 125.0 483.0 128.4 483.1 124.5 483.2 128.8 483.3 115.4 483.4 100.3 483.5 148.2 483.6 145.9 483.7 131.3 483.8 117.1 483.9 125.5 484.0 130.4 484.1 128.9 484.2 131.5 484.3 131.8 484.4 129.2 484.5 129.0 484.6 133.3 484.7 131.4 484.8 129.8 484.9 131.9 485.0 133.6 485.1 118.1 485.2 132.5 485.3 133.7 485.4 130.8 485.5 130.2 485.6 136.8 485.7 134.2 485.8 132.9 485.9 136.1 486.0 134.0 486.1 134.4 486.2 136.1 486.3 136.5 486.4 147.8 486.5 138.5 486.6 136.6 486.7 115.6 486.8 92.5 486.9 153.4 487.0 157.4 487.1 140.7 487.2 133.4 487.3 138.0 487.4 132.6 487.5 135.0 487.6 135.6 487.7 132.6 487.8 135.6 487.9 129.4 488.0 132.8 488.1 131.6 488.2 127.8 488.3 131.8 488.4 130.7 488.5 128.7 488.6 129.8 488.7 139.8 488.8 132.6 488.9 130.9 489.0 126.2 489.1 128.8 489.2 128.8 489.3 123.0 489.4 128.8 489.5 127.0 489.6 122.6 489.7 124.1 489.8 121.8 489.9 121.6 490.0 121.6 490.1 121.6 490.2 121.4 490.3 118.6 490.4 121.0 490.5 116.2 490.6 116.5 490.7 113.1 490.8 113.0 490.9 120.1 491.0 114.7 491.1 114.9 491.2 116.7 491.3 117.5 491.4 113.3 491.5 109.9 491.6 111.6 491.7 110.4 491.8 114.7 491.9 91.7 492.0 74.8 492.1 139.3 492.2 142.3 492.3 121.0 492.4 107.6 492.5 106.1 492.6 105.8 492.7 103.1 492.8 104.7 492.9 69.7 493.0 46.3 493.1 139.4 493.2 149.4 493.3 119.5 493.4 107.2 493.5 105.9 493.6 105.7 493.7 105.9 493.8 106.4 493.9 106.3 494.0 109.7 494.1 107.8 494.2 109.9 494.3 105.7 494.4 107.9 494.5 113.5 494.6 110.5 494.7 108.4 494.8 111.2 494.9 116.4 495.0 109.2 495.1 92.2 495.2 70.8 495.3 143.3 495.4 146.8 495.5 126.0 495.6 115.9 495.7 116.6 495.8 117.2 495.9 116.4 496.0 114.4 496.1 120.2 496.2 120.9 496.3 120.5 496.4 120.6 496.5 126.3 496.6 121.6 496.7 119.1 496.8 120.1 496.9 120.8 497.0 123.7 497.1 123.8 497.2 123.8 497.3 125.8 497.4 129.1 497.5 131.7 497.6 127.6 497.7 132.0 497.8 130.9 497.9 133.0 498.0 130.1 498.1 130.0 498.2 134.3 498.3 135.7 498.4 137.0 498.5 135.1 498.6 137.0 498.7 139.7 498.8 138.5 498.9 135.9 499.0 136.6 499.1 141.6 499.2 140.6 499.3 132.8 499.4 137.2 499.5 125.7 499.6 104.0 499.7 167.6 499.8 171.6 499.9 148.5 500.0 141.7 500.1 138.0 500.2 139.7 500.3 138.8 500.4 136.4 500.5 134.2 500.6 135.7 500.7 136.1 500.8 136.5 500.9 131.0 501.0 132.8 501.1 132.6 501.2 132.9 501.3 131.4 501.4 134.2 501.5 138.3 501.6 137.2 501.7 129.6 501.8 131.2 501.9 132.7 502.0 132.3 502.1 124.9 502.2 123.3 502.3 125.8 502.4 125.0 502.5 125.7 502.6 128.2 502.7 122.4 502.8 122.3 502.9 122.8 503.0 121.4 503.1 124.7 503.2 119.9 503.3 118.7 503.4 122.0 503.5 105.3 503.6 87.1 503.7 135.9 503.8 137.4 503.9 122.8 504.0 114.5 504.1 115.1 504.2 111.9 504.3 111.5 504.4 112.1 504.5 115.1 504.6 114.3 504.7 112.4 504.8 110.8 504.9 104.7 505.0 108.3 505.1 111.7 505.2 95.9 505.3 101.1 505.4 106.1 505.5 108.3 505.6 105.5 505.7 104.4 505.8 105.8 505.9 107.5 506.0 102.9 506.1 103.5 506.2 106.4 506.3 88.5 506.4 69.5 506.5 124.1 506.6 130.0 506.7 111.7 506.8 103.9 506.9 98.1 507.0 103.3 507.1 105.0 507.2 103.6 507.3 105.5 507.4 105.4 507.5 107.6 507.6 107.5 507.7 108.8 507.8 110.4 507.9 108.8 508.0 112.9 508.1 109.1 508.2 112.1 508.3 113.0 508.4 115.5 508.5 117.5 508.6 115.3 508.7 112.0 508.8 114.5 508.9 117.4 509.0 117.2 509.1 118.0 509.2 116.6 509.3 120.0 509.4 118.6 509.5 117.6 509.6 118.9 509.7 120.7 509.8 120.5 509.9 120.5 510.0 119.6 510.1 118.5 510.2 120.8 510.3 122.7 510.4 123.7 510.5 121.8 510.6 126.3 510.7 117.8 510.8 122.4 510.9 126.9 511.0 127.7 511.1 123.4 511.2 123.5 511.3 127.9 511.4 132.5 511.5 128.9 511.6 120.4 511.7 111.4 511.8 159.0 511.9 166.7 512.0 136.6 512.1 131.6 512.2 131.1 512.3 135.8 512.4 135.0 512.5 137.1 512.6 137.9 512.7 140.3 512.8 135.4 512.9 137.0 513.0 140.8 513.1 140.9 513.2 141.2 513.3 141.2 513.4 128.3 513.5 114.1 513.6 171.9 513.7 183.5 513.8 153.9 513.9 144.4 514.0 147.1 514.1 143.8 514.2 145.6 514.3 153.0 514.4 153.7 514.5 142.0 514.6 144.9 514.7 142.6 514.8 144.3 514.9 145.9 515.0 144.3 515.1 142.7 515.2 140.6 515.3 141.2 515.4 145.3 515.5 140.1 515.6 138.0 515.7 142.2 515.8 145.8 515.9 129.6 516.0 135.4 516.1 140.9 516.2 142.1 516.3 144.1 516.4 140.9 516.5 136.2 516.6 140.1 516.7 138.7 516.8 135.2 516.9 140.7 517.0 120.7 517.1 98.0 517.2 168.5 517.3 176.1 517.4 145.0 517.5 130.6 517.6 137.4 517.7 134.0 517.8 133.7 517.9 139.3 518.0 135.6 518.1 137.5 518.2 137.3 518.3 129.5 518.4 134.7 518.5 136.5 518.6 130.3 518.7 134.5 518.8 133.7 518.9 128.1 519.0 133.3 519.1 131.7 519.2 131.2 519.3 133.7 519.4 127.9 519.5 129.7 519.6 121.0 519.7 123.1 519.8 130.4 519.9 132.5 520.0 130.8 520.1 128.5 520.2 126.7 520.3 117.5 520.4 108.7 520.5 141.5 520.6 142.1 520.7 136.0 520.8 127.3 520.9 121.3 521.0 126.3 521.1 125.3 521.2 123.6 521.3 121.1 521.4 120.1 521.5 123.4 521.6 125.4 521.7 121.5 521.8 122.8 521.9 127.3 522.0 119.6 522.1 123.9 522.2 123.7 522.3 126.0 522.4 126.1 522.5 114.4 522.6 116.2 522.7 124.8 522.8 121.3 522.9 116.7 523.0 116.1 523.1 115.2 523.2 120.8 523.3 114.4 523.4 118.8 523.5 122.0 523.6 119.6 523.7 114.1 523.8 117.8 523.9 115.5 524.0 111.7 524.1 101.9 524.2 128.4 524.3 135.1 524.4 126.1 524.5 116.8 524.6 118.7 524.7 116.7 524.8 115.2 524.9 116.3 525.0 114.4 525.1 122.1 525.2 123.4 525.3 115.8 525.4 88.8 525.5 58.7 525.6 141.4 525.7 149.1 525.8 129.3 525.9 118.2 526.0 120.8 526.1 115.0 526.2 115.5 526.3 113.1 526.4 116.3 526.5 115.2 526.6 118.6 526.7 113.8 526.8 118.8 526.9 101.6 527.0 72.2 527.1 136.8 527.2 142.7 527.3 123.3 527.4 124.3 527.5 125.2 527.6 120.8 527.7 117.1 527.8 121.4 527.9 118.7 528.0 122.1 528.1 121.9 528.2 120.1 528.3 127.3 528.4 124.3 528.5 124.3 528.6 122.3 528.7 120.9 528.8 123.1 528.9 120.9 529.0 124.9 529.1 121.6 529.2 132.3 529.3 128.3 529.4 125.4 529.5 121.4 529.6 120.9 529.7 123.6 529.8 127.8 529.9 124.8 530.0 122.7 530.1 126.1 530.2 128.7 530.3 125.4 530.4 123.7 530.5 126.1 530.6 125.3 530.7 127.7 530.8 130.3 530.9 126.2 531.0 124.4 531.1 127.8 531.2 122.2 531.3 126.6 531.4 109.1 531.5 99.2 531.6 152.4 531.7 158.8 531.8 136.2 531.9 127.8 532.0 132.1 532.1 130.3 532.2 130.9 532.3 127.1 532.4 130.3 532.5 128.6 532.6 130.5 532.7 128.1 532.8 133.0 532.9 127.1 533.0 133.0 533.1 126.5 533.2 127.8 533.3 129.0 533.4 130.2 533.5 131.6 533.6 128.3 533.7 124.7 533.8 132.0 533.9 130.1 534.0 126.6 534.1 126.7 534.2 131.8 534.3 127.2 534.4 132.0 534.5 123.6 534.6 128.1 534.7 131.1 534.8 127.9 534.9 129.6 535.0 122.4 535.1 125.5 535.2 127.6 535.3 130.2 535.4 123.5 535.5 126.7 535.6 124.5 535.7 125.0 535.8 123.3 535.9 125.7 536.0 125.1 536.1 125.0 536.2 123.2 536.3 129.5 536.4 111.2 536.5 98.5 536.6 142.4 536.7 153.5 536.8 135.5 536.9 126.7 537.0 122.3 537.1 125.1 537.2 124.4 537.3 123.3 537.4 117.2 537.5 122.5 537.6 122.1 537.7 123.9 537.8 120.1 537.9 127.4 538.0 125.9 538.1 122.4 538.2 123.1 538.3 124.2 538.4 122.2 538.5 121.1 538.6 118.9 538.7 128.2 538.8 123.5 538.9 121.8 539.0 126.4 539.1 123.3 539.2 123.7 539.3 123.2 539.4 113.3 539.5 100.6 539.6 135.2 539.7 141.9 539.8 132.5 539.9 119.4 540.0 123.6 540.1 124.3 540.2 119.8 540.3 119.6 540.4 122.3 540.6 120.9 540.7 126.5 540.8 122.0 540.9 121.8 541.0 127.4 541.1 118.8 541.2 124.3 541.3 123.1 541.4 120.9 541.5 119.7 541.6 121.0 541.7 121.8 541.8 132.8 541.9 130.7 542.0 125.3 542.1 124.2 542.2 119.8 542.3 124.4 542.4 120.9 542.5 126.4 542.6 123.4 542.7 118.7 542.8 125.2 542.9 128.7 543.0 119.8 543.1 126.7 543.2 110.2 543.3 97.7 543.4 141.9 543.5 151.7 543.6 128.7 543.7 125.7 543.8 122.8 543.9 125.8 544.0 124.2 544.1 121.4 544.2 126.3 544.3 118.9 544.4 119.4 544.5 122.3 544.6 124.3 544.7 121.9 544.8 127.8 544.9 129.1 545.0 128.4 545.1 124.7 545.2 128.1 545.3 124.1 545.4 125.0 545.5 128.9 545.6 123.1 545.7 124.8 545.8 128.1 545.9 121.0 546.0 124.6 546.1 122.6 546.2 121.7 546.3 126.5 546.4 123.1 546.5 118.6 546.6 120.1 546.7 123.7 546.8 119.7 546.9 108.5 547.0 88.1 547.1 146.9 547.2 156.1 547.3 136.1 547.4 119.2 547.5 119.9 547.6 121.7 547.7 116.6 547.8 118.3 547.9 122.3 548.0 117.9 548.1 117.2 548.2 120.5 548.3 116.6 548.4 115.9 548.5 115.8 548.6 120.0 548.7 118.8 548.8 114.5 548.9 119.4 549.0 117.8 549.1 115.5 549.2 116.8 549.3 113.2 549.4 117.3 549.5 124.9 549.6 125.9 549.7 107.1 549.8 100.9 549.9 127.2 550.0 131.9 550.1 120.1 550.2 113.2 550.3 119.2 550.4 112.1 550.5 114.0 550.6 110.8 550.7 115.6 550.8 116.6 550.9 116.6 551.0 113.6 551.1 111.6 551.2 112.5 551.3 110.4 551.4 103.8 551.5 111.0 551.6 114.2 551.7 114.4 551.8 112.4 551.9 112.7 552.0 112.4 552.1 113.3 552.2 112.3 552.3 113.7 552.4 110.1 552.5 112.9 552.6 110.7 552.7 116.7 552.8 104.9 552.9 108.8 553.0 107.2 553.1 113.0 553.2 110.5 553.3 111.5 553.4 107.4 553.5 112.0 553.6 109.6 553.7 110.9 553.8 112.3 553.9 109.1 554.0 108.9 554.1 111.1 554.2 108.1 554.3 113.2 554.4 109.9 554.5 115.1 554.6 112.6 554.7 109.4 554.8 102.3 554.9 80.8 555.0 141.7 555.1 145.9 555.2 124.8 555.3 113.3 555.4 114.2 555.5 116.5 555.6 113.6 555.7 116.6 555.8 116.6 555.9 121.7 556.0 116.7 556.1 118.4 556.2 119.2 556.3 114.8 556.4 119.3 556.5 117.7 556.6 117.8 556.7 119.1 556.8 128.5 556.9 124.0 557.0 119.4 557.1 121.7 557.2 117.7 557.3 123.4 557.4 125.7 557.5 122.6 557.6 122.3 557.7 125.5 557.8 123.9 557.9 127.3 558.0 127.2 558.1 124.9 558.2 126.1 558.3 123.5 558.4 126.1 558.5 129.2 558.6 130.8 558.7 125.8 558.8 134.1 558.9 131.7 559.0 130.5 559.1 132.4 559.2 132.2 559.3 128.8 559.4 140.5 559.5 137.7 559.6 132.1 559.7 130.1 559.8 128.9 559.9 136.4 560.0 135.3 560.1 133.3 560.2 125.3 560.3 117.7 560.4 167.7 560.5 174.1 560.6 151.7 560.7 136.8 560.8 135.0 560.9 139.4 561.0 137.7 561.1 135.7 561.2 138.6 561.3 131.6 561.4 132.7 561.5 137.0 561.6 133.5 561.7 134.3 561.8 131.7 561.9 133.7 562.0 138.3 562.1 133.7 562.2 135.7 562.3 133.6 562.4 131.9 562.5 132.8 562.6 131.3 562.7 130.4 562.8 131.5 562.9 129.8 563.0 131.5 563.1 130.2 563.2 116.7 563.3 123.8 563.4 128.9 563.5 127.9 563.6 125.3 563.7 115.2 563.8 100.1 563.9 154.2 564.0 157.8 564.1 137.6 564.2 124.8 564.3 128.2 564.4 132.4 564.5 127.7 564.6 131.4 564.7 128.6 564.8 128.2 564.9 127.0 565.0 118.6 565.1 120.1 565.2 126.4 565.3 123.5 565.4 125.8 565.5 125.7 565.6 129.7 565.7 128.8 565.8 128.8 565.9 128.2 566.0 126.4 566.1 126.7 566.2 127.4 566.3 125.1 566.4 128.1 566.5 126.8 566.6 124.7 566.7 120.8 566.8 122.2 566.9 127.0 567.0 124.1 567.1 124.5 567.2 123.3 567.3 129.4 567.4 123.7 567.5 125.8 567.6 129.3 567.7 121.1 567.8 134.3 567.9 130.7 568.0 127.1 568.1 122.4 568.2 125.0 568.3 126.1 568.4 125.7 568.5 126.6 568.6 112.8 568.7 101.7 568.8 146.1 568.9 150.6 569.0 135.9 569.1 126.4 569.2 126.3 569.3 122.5 569.4 118.0 569.5 121.7 569.6 127.1 569.7 126.2 569.8 126.9 569.9 122.6 570.0 127.4 570.1 124.3 570.2 127.5 570.3 126.9 570.4 131.1 570.5 125.7 570.6 122.6 570.7 125.3 570.8 122.6 570.9 122.9 571.0 128.7 571.1 123.0 571.2 127.6 571.3 127.0 571.4 126.5 571.5 114.8 571.6 103.1 571.7 158.0 571.8 164.7 571.9 135.0 572.0 122.7 572.1 127.7 572.2 125.9 572.3 120.9 572.4 126.6 572.5 129.8 572.6 127.1 572.7 128.6 572.8 124.0 572.9 124.2 573.0 124.2 573.1 128.1 573.2 127.3 573.3 129.7 573.4 138.6 573.5 131.9 573.6 127.3 573.7 129.7 573.8 125.0 573.9 121.8 574.0 126.6 574.1 128.1 574.2 124.7 574.3 127.4 574.4 129.2 574.5 128.8 574.6 125.5 574.7 124.1 574.8 126.5 574.9 126.5 575.0 127.2 575.1 113.6 575.2 118.5 575.3 124.6 575.4 128.4 575.5 126.9 575.6 123.6 575.7 126.8 575.8 128.3 575.9 129.1 576.0 124.9 576.1 125.8 576.2 123.2 576.3 121.8 576.4 127.2 576.5 125.6 576.6 124.8 576.7 127.7 576.8 106.7 576.9 94.5 577.0 149.9 577.1 151.5 577.2 133.6 577.3 124.9 577.4 122.4 577.5 121.1 577.6 113.1 577.7 121.2 577.8 122.3 577.9 120.9 578.0 120.9 578.1 123.3 578.2 118.3 578.3 122.1 578.4 120.3 578.5 116.3 578.6 114.5 578.7 118.6 578.8 118.3 578.9 121.0 579.0 123.5 579.1 124.4 579.2 116.3 579.3 118.3 579.4 118.2 579.5 118.6 579.6 118.2 579.7 116.8 579.8 118.5 579.9 115.7 580.0 118.3 580.1 119.7 580.2 119.4 580.3 118.4 580.4 123.6 580.5 117.3 580.6 120.7 580.7 115.8 580.8 119.9 580.9 118.0 581.0 121.7 581.1 124.2 581.2 114.5 581.3 121.2 581.4 123.0 581.5 118.0 581.6 118.9 581.7 120.8 581.8 122.0 581.9 120.8 582.0 108.0 582.1 104.6 582.2 154.2 582.3 157.1 582.4 131.7 582.5 124.2 582.6 121.3 582.7 117.3 582.8 122.8 582.9 119.5 583.0 121.4 583.1 119.8 583.2 125.3 583.3 125.1 583.4 119.6 583.5 123.9 583.6 125.6 583.7 124.0 583.8 127.5 583.9 117.3 584.0 117.5 584.1 124.5 584.2 129.5 584.3 130.6 584.4 125.5 584.5 120.4 584.6 124.9 584.7 123.7 584.8 123.1 584.9 126.8 585.0 123.0 585.1 129.8 585.2 124.7 585.3 127.1 585.4 127.3 585.5 126.5 585.6 123.7 585.7 124.5 585.8 127.9 585.9 121.7 586.0 116.7 586.1 106.8 586.2 150.3 586.3 150.7 586.4 133.1 586.5 124.0 586.6 128.2 586.7 126.0 586.8 123.6 586.9 125.9 587.0 125.5 587.1 129.7 587.2 120.5 587.3 122.8 587.4 127.6 587.5 123.5 587.6 122.0 587.7 122.2 587.8 125.9 587.9 125.3 588.0 134.4 588.1 128.9 588.2 125.0 588.3 128.5 588.4 121.3 588.5 126.1 588.6 123.1 588.7 125.6 588.8 128.9 588.9 125.9 589.0 125.4 589.1 122.6 589.2 125.0 589.3 120.5 589.4 126.9 589.5 119.3 589.6 121.1 589.7 114.9 589.8 123.3 589.9 122.3 590.0 123.7 590.1 119.8 590.2 125.3 590.3 122.8 590.4 111.7 590.5 85.1 590.6 144.6 590.7 152.8 590.8 134.1 590.9 120.9 591.0 122.0 591.1 125.1 591.2 122.0 591.3 123.5 591.4 122.3 591.5 120.9 591.6 119.9 591.7 113.0 591.8 121.9 591.9 119.6 592.0 120.4 592.1 122.3 592.2 121.7 592.3 119.5 592.4 123.6 592.5 123.9 592.6 121.7 592.7 119.3 592.8 124.7 592.9 125.1 593.0 123.9 593.1 121.1 593.2 123.7 593.3 108.4 593.4 88.8 593.5 154.5 593.6 161.7 593.7 136.4 593.8 121.4 593.9 112.2 594.0 118.2 594.1 124.7 594.2 128.8 594.3 130.1 594.4 125.5 594.5 128.3 594.6 124.5 594.7 124.5 594.8 124.7 594.9 126.8 595.0 124.3 595.1 122.2 595.2 129.7 595.3 116.6 595.4 119.9 595.5 124.7 595.6 128.1 595.7 128.5 595.8 130.4 595.9 126.0 596.0 128.8 596.1 124.7 596.2 126.6 596.3 126.7 596.4 125.0 596.5 124.3 596.6 129.5 596.7 122.1 596.8 126.0 596.9 116.4 597.0 123.3 597.1 124.7 597.2 125.5 597.3 131.5 597.4 126.1 597.5 124.5 597.6 127.5 597.7 130.0 597.8 124.3 597.9 126.1 598.0 109.1 598.1 80.3 598.2 152.1 598.3 150.1 598.4 137.6 598.5 131.0 598.6 129.8 598.7 128.8 598.8 129.9 598.9 125.7 599.0 125.6 599.1 128.5 599.2 125.4 599.3 130.2 599.4 128.5 599.5 125.1 599.6 125.7 599.7 126.2 599.8 119.2 599.9 123.3 600.0 129.9 600.1 129.1 600.2 131.9 600.3 126.1 600.4 123.6 600.5 127.9 600.6 125.5 600.7 128.4 600.8 127.8 600.9 125.3 601.0 129.1 601.1 128.4 601.2 127.0 601.3 129.6 601.4 130.2 601.5 133.0 601.6 130.8 601.7 126.6 601.8 126.5 601.9 125.2 602.0 126.4 602.1 130.8 602.2 128.8 602.3 127.7 602.4 123.9 602.5 128.7 602.6 128.5 602.7 128.0 602.8 127.0 602.9 121.1 603.0 106.9 603.1 154.7 603.2 161.0 603.3 141.8 603.4 126.7 603.5 127.4 603.6 125.5 603.7 128.1 603.8 125.7 603.9 126.2 604.0 130.3 604.1 125.6 604.2 128.6 604.3 119.8 604.4 130.7 604.5 128.2 604.6 125.5 604.7 128.0 604.8 126.2 604.9 129.9 605.0 126.0 605.1 124.8 605.2 131.1 605.3 130.9 605.4 127.5 605.5 130.4 605.6 122.5 605.7 124.8 605.8 132.6 605.9 127.3 606.0 128.5 606.1 128.7 606.2 132.0 606.3 128.1 606.4 128.4 606.5 133.2 606.6 130.6 606.7 126.6 606.8 128.4 606.9 109.5 607.0 85.6 607.1 146.3 607.2 153.7 607.3 134.7 607.4 133.3 607.5 134.6 607.6 130.7 607.7 127.5 607.8 129.7 607.9 133.5 608.0 135.0 608.1 130.4 608.2 129.6 608.3 133.4 608.4 130.4 608.5 144.7 608.6 139.6 608.7 130.5 608.8 130.2 608.9 131.9 609.0 132.8 609.1 131.5 609.2 132.0 609.3 131.4 609.4 130.9 609.5 128.5 609.6 131.8 609.7 127.6 609.8 129.2 609.9 128.0 610.0 133.6 610.1 129.7 610.2 128.6 610.3 131.6 610.4 126.7 610.5 125.5 610.6 127.3 610.7 140.9 610.8 137.6 610.9 133.4 611.0 126.3 611.1 129.8 611.2 131.9 611.3 128.8 611.4 105.7 611.5 85.2 611.6 152.7 611.7 156.8 611.8 138.6 611.9 128.3 612.0 125.2 612.1 129.7 612.2 130.2 612.3 128.9 612.4 122.3 612.5 113.9 612.6 126.1 612.7 123.3 612.8 128.8 612.9 125.2 613.0 122.7 613.1 126.8 613.2 124.6 613.3 127.4 613.4 119.3 613.5 120.6 613.6 122.1 613.7 125.5 613.8 124.0 613.9 123.8 614.0 122.1 614.1 123.3 614.2 122.7 614.3 121.7 614.4 118.5 614.5 107.7 614.6 113.7 614.7 124.7 614.8 119.8 614.9 125.9 615.0 120.3 615.1 116.5 615.2 117.4 615.3 117.5 615.4 122.5 615.5 119.5 615.6 120.1 615.7 118.4 615.8 118.9 615.9 98.5 616.0 61.5 616.1 126.4 616.2 130.3 616.3 124.2 616.4 116.3 616.5 114.0 616.6 115.7 616.7 116.8 616.8 112.0 616.9 118.6 617.0 115.4 617.1 114.6 617.2 111.7 617.3 115.3 617.4 117.1 617.5 107.3 617.6 114.1 617.7 118.1 617.8 117.2 617.9 113.1 618.0 114.6 618.1 117.1 618.2 116.4 618.3 117.5 618.4 116.9 618.5 113.5 618.6 115.1 618.7 111.3 618.8 116.6 618.9 115.5 619.0 102.9 619.1 86.7 619.2 147.1 619.3 154.5 619.4 129.7 619.5 115.6 619.6 115.8 619.7 118.3 619.8 118.4 619.9 114.9 620.0 114.2 620.1 114.3 620.2 120.1 620.3 126.1 620.4 124.2 620.5 114.6 620.6 119.7 620.7 115.4 620.8 121.0 620.9 121.0 621.0 119.0 621.1 120.5 621.2 116.5 621.3 120.0 621.4 118.1 621.5 118.4 621.6 115.9 621.7 123.1 621.8 123.9 621.9 121.0 622.0 123.1 622.1 123.4 622.2 121.4 622.3 122.6 622.4 136.7 622.5 128.8 622.6 122.5 622.7 119.5 622.8 127.2 622.9 123.8 623.0 127.1 623.1 122.5 623.2 127.5 623.3 124.6 623.4 121.6 623.5 122.9 623.6 113.1 623.7 100.5 623.8 135.0 623.9 138.3 624.0 132.6 624.1 126.5 624.2 124.2 624.3 126.0 624.4 124.9 624.5 125.3 624.6 115.5 624.7 117.4 624.8 125.3 624.9 125.2 625.0 123.8 625.1 128.1 625.2 132.0 625.3 126.2 625.4 126.2 625.5 124.4 625.6 126.2 625.7 127.9 625.8 126.8 625.9 127.5 626.0 118.2 626.1 121.3 626.2 125.4 626.3 125.7 626.4 126.5 626.5 126.0 626.6 127.4 626.7 132.4 626.8 129.5 626.9 124.2 627.0 124.4 627.1 130.7 627.2 125.1 627.3 129.9 627.4 125.4 627.5 124.3 627.6 112.9 627.7 97.0 627.8 145.0 627.9 151.8 628.0 134.4 628.1 137.3 628.2 133.7 628.3 131.0 628.4 126.9 628.5 127.1 628.6 123.3 628.7 128.4 628.8 127.5 628.9 123.1 629.0 129.0 629.1 126.1 629.2 126.2 629.3 127.6 629.4 129.1 629.5 128.1 629.6 124.4 629.7 128.5 629.8 129.0 629.9 128.1 630.0 126.6 630.1 128.2 630.2 128.1 630.3 127.4 630.4 127.8 630.5 125.8 630.6 130.6 630.7 126.5 630.8 124.4 630.9 133.8 631.0 128.6 631.1 130.5 631.2 127.9 631.3 124.6 631.4 125.0 631.5 128.9 631.6 123.3 631.7 125.9 631.8 131.4 631.9 128.6 632.0 124.3 632.1 116.5 632.2 99.5 632.3 156.4 632.4 162.2 632.5 135.5 632.6 130.0 632.7 131.1 632.8 125.6 632.9 123.9 633.0 114.1 633.1 121.1 633.2 124.1 633.3 133.2 633.4 128.2 633.5 129.4 633.6 126.6 633.7 131.1 633.8 128.7 633.9 133.0 634.0 127.6 634.1 124.1 634.2 129.7 634.3 128.6 634.4 129.7 634.5 126.5 634.6 130.5 634.7 125.5 634.8 125.8 634.9 129.8 635.0 124.3 635.1 123.5 635.2 126.2 635.3 124.4 635.4 127.9 635.5 126.5 635.6 121.6 635.7 112.6 635.8 104.6 635.9 146.9 636.0 150.6 636.1 134.2 636.2 121.2 636.3 127.1 636.4 122.7 636.5 124.1 636.6 128.0 636.7 124.6 636.8 127.2 636.9 123.3 637.0 123.9 637.1 123.2 637.2 121.4 637.3 122.3 637.4 121.4 637.5 123.1 637.6 125.6 637.7 122.7 637.8 126.5 637.9 122.2 638.0 123.1 638.1 122.1 638.2 122.0 638.3 121.6 638.4 133.2 638.5 124.9 638.6 119.5 638.7 120.2 638.8 120.0 638.9 119.3 639.0 125.0 639.1 121.3 639.2 119.1 639.3 122.2 639.4 121.1 639.5 122.1 639.6 125.4 639.7 124.3 639.8 122.8 639.9 122.0 640.0 117.3 640.1 120.6 640.2 119.5 640.3 123.4 640.4 121.4 640.5 118.2 640.6 119.5 640.7 123.2 640.8 120.5 640.9 117.9 641.0 113.3 641.1 97.9 641.2 136.9 641.3 140.0 641.4 128.8 641.5 120.3 641.6 121.0 641.7 123.7 641.8 124.4 641.9 120.9 642.0 119.2 642.1 123.4 642.2 124.7 642.3 123.3 642.4 130.7 642.5 127.9 642.6 121.6 642.7 123.4 642.8 125.3 642.9 126.4 643.0 125.6 643.1 120.8 643.2 122.0 643.3 121.5 643.4 125.6 643.5 122.1 643.6 124.0 643.7 123.8 643.8 124.3 643.9 121.0 644.0 126.6 644.1 124.3 644.2 128.2 644.3 123.9 644.4 128.3 644.5 132.1 644.6 126.3 644.7 121.6 644.8 122.3 644.9 126.0 645.0 128.9 645.1 129.2 645.2 127.0 645.3 121.7 645.4 129.0 645.5 126.8 645.6 126.3 645.7 130.8 645.8 126.7 645.9 127.6 646.0 129.7 646.1 130.2 646.2 131.9 646.3 117.7 646.4 105.3 646.5 167.5 646.6 168.7 646.7 140.6 646.8 126.8 646.9 130.7 647.0 130.4 647.1 128.9 647.2 128.0 647.3 131.2 647.4 125.4 647.5 125.4 647.6 123.9 647.7 127.2 647.8 126.3 647.9 124.2 648.0 124.2 648.1 121.7 648.2 122.2 648.3 123.2 648.4 127.2 648.5 120.5 648.6 121.4 648.7 120.9 648.8 119.8 648.9 121.0 649.0 129.0 649.1 123.6 649.2 100.8 649.3 78.4 649.4 132.7 649.5 136.4 649.6 122.1 649.7 114.7 649.8 114.2 649.9 116.9 650.0 111.0 650.1 116.0 650.2 115.6 650.3 110.8 650.4 112.1 650.5 110.4 650.6 112.1 650.7 116.5 650.8 114.4 650.9 109.3 651.0 109.3 651.1 114.0 651.2 113.5 651.3 116.8 651.4 115.7 651.5 113.1 651.6 114.4 651.7 113.6 651.8 123.9 651.9 116.6 652.0 113.4 652.1 116.8 652.2 114.6 652.3 115.9 652.4 116.2 652.5 103.2 652.6 79.1 652.7 151.5 652.8 160.2 652.9 133.7 653.0 117.3 653.1 117.9 653.2 118.7 653.3 119.0 653.4 118.9 653.5 116.2 653.6 113.7 653.7 120.1 653.8 121.0 653.9 119.4 654.0 122.2 654.1 122.7 654.2 122.6 654.3 117.8 654.4 121.0 654.5 124.4 654.6 124.7 654.7 119.9 654.8 126.4 654.9 127.5 655.0 124.4 655.1 125.1 655.2 121.9 655.3 127.2 655.4 124.6 655.5 124.6 655.6 123.1 655.7 126.7 655.8 122.6 655.9 123.4 656.0 122.6 656.1 126.6 656.2 123.1 656.3 120.6 656.4 114.4 656.5 122.2 656.6 128.1 656.7 124.0 656.8 128.7 656.9 128.3 657.0 126.9 657.1 123.6 657.2 123.1 657.3 123.7 657.4 125.7 657.5 128.3 657.6 129.7 657.7 124.5 657.8 130.6 657.9 114.1 658.0 94.2 658.1 152.0 658.2 161.0 658.3 138.4 658.4 125.6 658.5 126.8 658.6 126.5 658.7 131.2 658.8 129.2 658.9 129.8 659.0 125.6 659.1 124.3 659.2 130.5 659.3 129.3 659.4 128.0 659.5 127.6 659.6 127.4 659.7 124.3 659.8 126.9 659.9 126.2 660.0 130.4 660.1 126.8 660.2 125.2 660.3 130.6 660.4 130.5 660.5 128.6 660.6 127.9 660.7 127.2 660.8 128.7 660.9 129.1 661.0 129.9 661.1 133.3 661.2 125.5 661.3 127.0 661.4 129.6 661.5 129.9 661.6 122.4 661.7 123.5 661.8 129.8 661.9 129.8 662.0 134.3 662.1 134.2 662.2 132.1 662.3 131.0 662.4 134.7 662.5 130.5 662.6 133.7 662.7 133.5 662.8 127.6 662.9 132.8 663.0 133.5 663.1 134.0 663.2 131.8 663.3 131.8 663.4 118.7 663.5 100.3 663.6 144.2 663.7 133.7 663.8 133.0 663.9 130.7 664.0 130.7 664.1 130.2 664.2 130.0 664.3 125.4 664.4 133.6 664.5 128.9 664.6 130.4 664.7 132.8 664.8 126.2 664.9 131.7 665.0 125.9 665.1 130.8 665.2 129.7 665.3 126.8 665.4 126.7 665.5 135.8 665.6 136.1 665.7 128.6 665.8 126.3 665.9 130.3 666.0 128.8 666.1 132.2 666.2 126.0 666.3 127.3 666.4 127.3 666.5 125.2 666.6 128.7 666.7 125.7 666.8 127.1 666.9 126.6 667.0 130.0 667.1 124.7 667.2 131.2 667.3 126.7 667.4 125.5 667.5 128.2 667.6 137.3 667.7 127.5 667.8 122.9 667.9 122.7 668.0 125.8 668.1 125.7 668.2 123.2 668.3 122.6 668.4 123.1 668.5 113.0 668.6 96.2 668.7 139.6 668.8 141.0 668.9 130.8 669.0 119.5 669.1 121.1 669.2 121.0 669.3 124.5 669.4 123.5 669.5 123.0 669.6 120.3 669.7 125.0 669.8 120.4 669.9 120.5 670.0 121.7 670.1 124.4 670.2 117.0 670.3 111.4 670.4 115.6 670.5 122.0 670.6 118.3 670.7 118.6 670.8 118.0 670.9 119.1 671.0 116.8 671.1 120.0 671.2 120.3 671.3 120.3 671.4 123.6 671.5 118.6 671.6 117.9 671.7 119.8 671.8 118.2 671.9 116.2 672.0 118.5 672.1 113.4 672.2 118.5 672.3 119.1 672.4 120.8 672.5 116.0 672.6 118.0 672.7 105.6 672.8 124.0 672.9 132.8 673.0 122.7 673.1 117.4 673.2 118.3 673.3 119.0 673.4 116.7 673.5 116.5 673.6 115.8 673.7 116.6 673.8 119.7 673.9 117.6 674.0 112.1 674.1 118.7 674.2 119.9 674.3 115.8 674.4 114.6 674.5 115.5 674.6 114.0 674.7 117.5 674.8 114.6 674.9 114.9 675.0 117.3 675.1 115.9 675.2 123.6 675.3 118.3 675.4 114.9 675.5 109.5 675.6 116.0 675.7 113.9 675.8 112.8 675.9 114.0 676.0 114.5 676.1 99.8 676.2 79.4 676.3 140.9 676.4 144.4 676.5 125.8 676.6 114.2 676.7 112.3 676.8 118.2 676.9 116.3 677.0 118.8 677.1 114.5 677.2 118.4 677.3 114.9 677.4 107.4 677.5 109.4 677.6 115.4 677.7 117.5 677.8 115.3 677.9 120.4 678.0 116.0 678.1 118.7 678.2 114.4 678.3 121.6 678.4 119.4 678.5 121.2 678.6 122.3 678.7 123.3 678.8 117.2 678.9 124.7 679.0 124.3 679.1 125.8 679.2 127.7 679.3 123.7 679.4 121.6 679.5 126.8 679.6 129.0 679.7 129.2 679.8 129.7 679.9 129.7 680.0 123.4 680.1 128.1 680.2 123.6 680.3 131.4 680.4 129.4 680.5 132.8 680.6 126.8 680.7 128.3 680.8 127.7 680.9 128.8 681.0 138.8 681.1 135.4 681.2 130.8 681.3 131.1 681.4 128.1 681.5 114.0 681.6 95.6 681.7 158.5 681.8 168.3 681.9 143.8 682.0 129.6 682.1 130.8 682.2 136.4 682.3 130.0 682.4 132.2 682.5 130.0 682.6 132.7 682.7 133.5 682.8 137.2 682.9 134.3 683.0 129.4 683.1 134.5 683.2 135.8 683.3 131.4 683.4 123.6 683.5 127.1 683.6 131.8 683.7 130.6 683.8 131.2 683.9 131.4 684.0 128.4 684.1 133.1 684.2 129.5 684.3 130.1 684.4 129.7 684.5 127.4 684.6 132.8 684.7 129.7 684.8 128.9 684.9 128.7 685.0 130.5 685.1 127.6 685.2 126.6 685.3 131.8 685.4 130.9 685.5 126.0 685.6 124.9 685.7 127.7 685.8 136.7 685.9 136.4 686.0 113.4 686.1 93.1 686.2 144.7 686.3 150.9 686.4 138.5 686.5 128.1 686.6 124.5 686.7 125.3 686.8 127.0 686.9 127.5 687.0 131.7 687.1 126.6 687.2 131.0 687.3 127.5 687.4 127.5 687.5 129.4 687.6 134.4 687.7 128.8 687.8 124.9 687.9 124.7 688.0 125.1 688.1 127.3 688.2 124.2 688.3 125.7 688.4 126.4 688.5 126.6 688.6 127.4 688.7 126.9 688.8 124.3 688.9 111.3 689.0 114.7 689.1 108.0 689.2 153.4 689.3 157.8 689.4 135.7 689.5 124.7 689.6 124.5 689.7 126.5 689.8 123.7 689.9 130.5 690.0 123.7 690.1 125.4 690.2 129.7 690.3 127.6 690.4 125.3 690.5 124.9 690.6 117.6 690.7 120.9 690.8 128.2 690.9 127.8 691.0 124.6 691.1 123.4 691.2 125.7 691.3 124.0 691.4 126.6 691.5 119.1 691.6 123.8 691.7 123.7 691.8 120.1 691.9 121.2 692.0 125.4 692.1 123.5 692.2 125.6 692.3 122.5 692.4 108.8 692.5 88.3 692.6 145.5 692.7 151.9 692.8 137.0 692.9 127.0 693.0 124.0 693.1 123.4 693.2 119.9 693.3 124.8 693.4 141.3 693.5 130.8 693.6 128.3 693.7 127.3 693.8 129.1 693.9 127.6 694.0 125.4 694.1 123.7 694.2 123.7 694.3 125.0 694.4 122.1 694.5 123.1 694.6 124.1 694.7 126.7 694.8 123.9 694.9 127.5 695.0 123.3 695.1 129.5 695.2 108.5 695.3 90.4 695.4 142.6 695.5 145.2 695.6 134.5 695.7 115.0 695.8 118.2 695.9 122.3 696.0 126.6 696.1 124.4 696.2 123.3 696.3 122.8 696.4 128.1 696.5 124.1 696.6 123.0 696.7 126.7 696.8 120.4 696.9 122.4 697.0 124.5 697.1 122.3 697.2 124.0 697.3 123.7 697.4 124.4 697.5 125.4 697.6 126.0 697.7 120.3 697.8 122.2 697.9 125.0 698.0 125.2 698.1 123.6 698.2 110.7 698.3 100.4 698.4 139.8 698.5 145.8 698.6 128.5 698.7 127.8 698.8 128.7 698.9 127.3 699.0 122.3 699.1 124.8 699.2 125.0 699.3 125.2 699.4 124.8 699.5 127.4 699.6 123.5 699.7 129.9 699.8 126.0 699.9 124.5 700.0 128.6 700.1 123.3 700.2 121.8 700.3 125.3 700.4 129.2 700.5 121.6 700.6 134.7 700.7 129.0 700.8 123.3 700.9 123.8 701.0 123.9 701.1 128.0 701.2 127.8 701.3 126.9 701.4 128.8 701.5 129.8 701.6 123.7 701.7 124.5 701.8 127.0 701.9 105.2 702.0 91.3 702.1 140.3 702.2 147.1 702.3 129.6 702.4 129.0 702.5 124.9 702.6 125.8 702.7 132.7 702.8 130.8 702.9 124.9 703.0 130.6 703.1 128.8 703.2 128.4 703.3 127.9 703.4 129.0 703.5 126.1 703.6 126.5 703.7 132.3 703.8 124.5 703.9 122.2 704.0 125.0 704.1 130.7 704.2 128.0 704.3 126.7 704.4 128.3 704.5 128.1 704.6 129.7 704.7 114.4 704.8 127.6 704.9 125.3 705.0 128.9 705.1 126.5 705.2 129.4 705.3 128.2 705.4 125.2 705.5 129.9 705.6 128.1 705.7 128.3 705.8 128.9 705.9 118.8 706.0 95.3 706.1 153.1 706.2 161.6 706.3 138.3 706.4 126.7 706.5 125.8 706.6 130.5 706.7 116.0 706.8 119.2 706.9 124.3 707.0 128.3 707.1 125.3 707.2 126.6 707.3 126.4 707.4 124.5 707.5 128.3 707.6 127.3 707.7 129.1 707.8 124.4 707.9 123.5 708.0 124.2 708.1 126.0 708.2 125.1 708.3 124.1 708.4 118.4 708.5 119.2 708.6 124.0 708.7 124.9 708.8 128.5 708.9 125.4 709.0 122.0 709.1 120.2 709.2 109.7 709.3 142.9 709.4 143.3 709.5 135.7 709.6 125.1 709.7 125.7 709.8 124.0 709.9 121.9 710.0 113.7 710.1 121.2 710.2 123.9 710.3 124.2 710.4 122.7 710.5 121.0 710.6 128.4 710.7 124.7 710.8 124.2 710.9 121.9 711.0 129.0 711.1 124.9 711.2 123.5 711.3 127.1 711.4 129.0 711.5 121.1 711.6 122.9 711.7 109.5 711.8 117.1 711.9 126.0 712.0 126.1 712.1 123.1 712.2 127.9 712.3 123.0 712.4 112.7 712.5 104.2" stroke="#2f95d6" stroke-width="0.55" opacity="0.8"/>
<path d="M40.3 123.4L40.4 122.6 40.5 122.7 40.6 122.6 40.7 122.4 40.8 122.1 40.9 122.2 41.0 123.8 41.1 122.9 41.2 121.9 41.3 121.9 41.4 121.6 41.5 122.0 41.6 122.2 41.7 121.1 41.8 121.0 41.9 120.4 42.0 120.7 42.1 121.4 42.2 120.6 42.3 119.9 42.4 120.4 42.5 120.2 42.6 120.2 42.7 120.0 42.8 120.3 42.9 119.9 43.0 120.4 43.1 119.9 43.2 119.1 43.3 120.0 43.4 119.1 43.5 120.3 43.6 119.8 43.7 117.9 43.8 118.4 43.9 118.5 44.0 118.6 44.1 118.5 44.2 117.3 44.3 118.0 44.4 116.8 44.5 116.8 44.6 117.0 44.7 116.4 44.8 116.9 44.9 116.4 45.0 116.4 45.1 115.9 45.2 116.0 45.3 116.2 45.4 115.1 45.5 115.6 45.6 115.4 45.7 115.9 45.8 115.1 45.9 115.6 46.0 115.0 46.1 114.9 46.2 114.9 46.3 113.5 46.4 115.3 46.5 114.9 46.6 115.5 46.7 114.0 46.8 115.7 46.9 113.6 47.0 114.8 47.1 115.5 47.2 114.5 47.3 115.2 47.4 115.5 47.5 114.7 47.6 114.2 47.7 115.6 47.8 115.1 47.9 115.6 48.0 114.6 48.1 115.5 48.2 116.0 48.3 114.9 48.4 116.0 48.5 114.4 48.6 115.4 48.7 115.3 48.8 115.2 48.9 114.8 49.0 115.8 49.1 115.1 49.2 114.9 49.3 115.8 49.4 115.6 49.5 116.0 49.6 116.4 49.7 117.7 49.8 117.5 49.9 117.9 50.0 118.1 50.1 118.9 50.2 119.3 50.3 119.1 50.4 119.0 50.5 120.5 50.6 120.9 50.7 122.5 50.8 122.3 50.9 122.6 51.0 121.9 51.1 122.5 51.2 124.1 51.3 123.3 51.4 123.5 51.5 124.1 51.6 125.3 51.7 125.1 51.8 124.9 51.9 126.0 52.0 126.3 52.1 126.6 52.2 125.7 52.3 127.1 52.4 128.2 52.5 127.1 52.6 127.2 52.7 128.4 52.8 129.2 52.9 129.5 53.0 129.2 53.1 130.4 53.2 130.1 53.3 130.3 53.4 130.3 53.5 130.2 53.6 133.0 53.7 131.6 53.8 131.3 53.9 132.1 54.0 132.6 54.1 132.3 54.2 133.6 54.3 133.6 54.4 134.6 54.5 134.7 54.6 134.6 54.7 134.9 54.8 135.9 54.9 135.8 55.0 136.7 55.1 136.1 55.2 136.3 55.3 136.8 55.4 136.9 55.5 137.4 55.6 137.3 55.7 138.4 55.8 138.3 55.9 139.4 56.0 139.6 56.1 139.4 56.2 139.1 56.3 139.6 56.4 141.0 56.5 140.5 56.6 142.0 56.7 141.0 56.8 141.3 56.9 140.8 57.0 142.6 57.1 142.7 57.2 143.2 57.3 143.3 57.4 142.1 57.5 142.3 57.6 142.0 57.7 141.4 57.8 141.7 57.9 140.3 58.0 141.4 58.1 140.2 58.2 139.7 58.3 139.6 58.4 138.8 58.5 138.9 58.6 138.3 58.7 138.8 58.8 138.1 58.9 137.1 59.0 136.9 59.1 136.6 59.2 136.9 59.3 136.4 59.4 134.9 59.5 134.9 59.6 135.6 59.7 134.5 59.8 134.4 59.9 133.6 60.0 132.9 60.1 132.5 60.2 131.9 60.3 132.8 60.4 132.4 60.5 131.7 60.6 131.1 60.7 131.3 60.8 130.4 60.9 130.1 61.0 129.1 61.1 128.3 61.2 129.1 61.3 128.6 61.4 128.4 61.5 128.1 61.6 127.3 61.7 126.9 61.8 127.6 61.9 126.3 62.0 125.7 62.1 125.4 62.2 125.1 62.3 127.0 62.4 126.7 62.5 126.9 62.6 126.9 62.7 126.1 62.8 126.7 62.9 126.5 63.0 126.1 63.1 126.3 63.2 126.0 63.3 125.4 63.4 126.0 63.5 125.3 63.6 125.2 63.7 125.3 63.8 126.5 63.9 125.3 64.0 125.4 64.1 125.1 64.2 126.3 64.3 126.1 64.4 125.9 64.5 124.6 64.6 125.9 64.7 125.9 64.8 125.7 64.9 124.7 65.0 124.8 65.1 124.7 65.2 124.1 65.3 124.8 65.4 124.4 65.5 123.6 65.6 124.1 65.7 123.5 65.8 123.6 65.9 123.5 66.0 122.7 66.1 123.0 66.2 122.6 66.3 123.4 66.4 122.0 66.5 122.2 66.6 122.7 66.7 122.0 66.8 122.4 66.9 123.1 67.0 122.6 67.1 122.7 67.2 124.0 67.3 123.3 67.4 124.1 67.5 123.1 67.6 123.5 67.7 124.5 67.8 123.6 67.9 123.7 68.0 122.7 68.1 123.2 68.2 123.9 68.3 122.3 68.4 124.4 68.5 123.5 68.6 123.9 68.7 124.0 68.8 123.5 68.9 123.9 69.0 123.6 69.1 123.8 69.2 123.9 69.3 125.2 69.4 124.1 69.5 124.7 69.6 122.9 69.7 124.2 69.8 125.0 69.9 125.0 70.0 123.6 70.1 123.7 70.2 123.0 70.3 124.9 70.4 123.4 70.5 123.5 70.6 123.6 70.7 123.6 70.8 123.9 70.9 124.0 71.0 122.9 71.1 124.2 71.2 124.4 71.3 124.8 71.4 122.8 71.5 124.0 71.6 123.0 71.7 123.3 71.8 122.7 71.9 122.4 72.0 123.0 72.1 123.9 72.2 123.1 72.3 123.4 72.4 122.7 72.5 123.6 72.6 122.8 72.7 123.6 72.8 122.2 72.9 122.6 73.0 123.1 73.1 122.6 73.2 123.2 73.3 122.1 73.4 122.8 73.5 123.3 73.6 121.2 73.7 123.1 73.8 123.3 73.9 123.7 74.0 123.2 74.1 123.8 74.2 123.7 74.3 122.8 74.4 123.7 74.5 124.7 74.6 124.9 74.7 123.1 74.8 124.0 74.9 123.6 75.0 124.7 75.1 125.6 75.2 124.6 75.3 126.6 75.4 126.3 75.5 127.7 75.6 126.9 75.7 127.4 75.8 128.1 75.9 126.3 76.0 127.2 76.1 128.4 76.2 127.0 76.3 128.3 76.4 128.3 76.5 127.6 76.6 127.7 76.7 128.4 76.8 127.5 76.9 128.9 77.0 129.4 77.1 129.1 77.2 129.6 77.3 129.1 77.4 128.0 77.5 129.3 77.6 129.7 77.7 130.3 77.8 130.7 77.9 131.1 78.0 130.2 78.1 130.6 78.2 130.3 78.3 130.1 78.4 131.1 78.5 130.9 78.6 130.3 78.7 129.9 78.8 130.1 78.9 131.6 79.0 132.1 79.1 131.9 79.2 130.7 79.3 130.6 79.4 130.8 79.5 130.3 79.6 130.8 79.7 130.1 79.8 130.8 79.9 130.5 80.0 129.5 80.1 130.2 80.2 130.5 80.3 130.2 80.4 129.6 80.5 129.3 80.6 129.2 80.7 130.0 80.8 129.2 80.9 129.3 81.0 129.5 81.1 128.5 81.2 128.1 81.3 128.2 81.4 128.0 81.5 128.3 81.6 127.9 81.7 126.8 81.8 126.9 81.9 126.9 82.0 127.0 82.1 125.8 82.2 126.0 82.3 126.4 82.4 125.7 82.5 126.2 82.6 125.4 82.7 125.1 82.8 125.3 82.9 125.1 83.0 124.4 83.1 124.7 83.2 124.1 83.3 124.4 83.4 124.6 83.5 123.5 83.6 123.1 83.7 124.0 83.8 123.5 83.9 123.5 84.0 122.6 84.1 121.7 84.2 123.1 84.3 122.8 84.4 122.0 84.5 121.9 84.6 121.7 84.7 121.1 84.8 122.3 84.9 121.8 85.0 122.4 85.1 121.7 85.2 120.3 85.3 122.2 85.4 121.3 85.5 120.5 85.6 120.2 85.7 121.1 85.8 121.2 85.9 120.9 86.0 119.8 86.1 120.7 86.2 120.7 86.3 120.7 86.4 120.8 86.5 121.1 86.6 121.5 86.7 121.2 86.8 121.7 86.9 120.5 87.0 121.9 87.1 122.1 87.2 122.3 87.3 122.1 87.4 121.9 87.5 121.9 87.6 123.5 87.7 122.1 87.8 122.3 87.9 122.6 88.0 123.2 88.1 123.0 88.2 124.1 88.3 124.4 88.4 122.8 88.5 124.0 88.6 124.8 88.7 124.7 88.8 124.1 88.9 124.7 89.0 124.6 89.1 124.9 89.2 126.1 89.3 125.2 89.4 125.2 89.5 125.2 89.6 126.1 89.7 125.4 89.8 126.7 89.9 126.0 90.0 125.9 90.1 126.7 90.2 126.8 90.3 125.8 90.4 126.0 90.5 126.1 90.6 125.5 90.7 127.1 90.8 127.7 90.9 127.3 91.0 127.0 91.1 127.2 91.2 126.6 91.3 127.0 91.4 128.1 91.5 128.1 91.6 128.1 91.7 126.7 91.8 128.5 91.9 127.8 92.0 127.1 92.1 127.7 92.2 127.9 92.3 128.7 92.4 128.0 92.5 127.4 92.6 128.2 92.7 128.6 92.8 127.0 92.9 127.8 93.0 126.7 93.1 128.0 93.2 128.1 93.3 127.7 93.4 128.6 93.5 127.7 93.6 127.3 93.7 126.7 93.8 126.7 93.9 127.3 94.0 126.8 94.1 127.2 94.2 127.4 94.3 127.4 94.4 127.6 94.5 127.0 94.6 127.7 94.7 127.2 94.8 128.6 94.9 126.3 95.0 126.7 95.1 126.7 95.2 128.2 95.3 126.9 95.4 126.3 95.5 127.6 95.6 126.3 95.7 125.9 95.8 126.5 95.9 127.3 96.0 126.7 96.1 127.1 96.2 125.5 96.3 125.8 96.4 126.2 96.5 126.0 96.6 124.7 96.7 125.9 96.8 125.2 96.9 125.9 97.0 125.2 97.1 125.4 97.2 125.7 97.3 125.7 97.4 124.8 97.5 123.9 97.6 125.0 97.7 124.2 97.8 124.2 97.9 123.2 98.0 124.6 98.1 124.1 98.2 123.7 98.3 124.8 98.4 123.6 98.5 123.6 98.6 123.4 98.7 123.1 98.8 122.6 98.9 123.0 99.0 123.0 99.1 123.6 99.2 122.2 99.3 121.5 99.4 122.5 99.5 121.9 99.6 121.9 99.7 121.9 99.8 121.4 99.9 122.5 100.0 121.4 100.1 121.1 100.2 122.0 100.3 121.8 100.4 121.8 100.5 120.9 100.6 120.0 100.7 120.5 100.8 120.8 100.9 120.9 101.0 121.9 101.1 122.1 101.2 121.3 101.3 119.7 101.4 121.2 101.5 121.8 101.6 123.1 101.7 122.0 101.8 121.5 101.9 122.0 102.0 122.2 102.1 123.3 102.2 121.5 102.3 123.3 102.4 123.9 102.5 123.0 102.6 124.2 102.7 124.1 102.8 124.5 102.9 123.5 103.0 123.5 103.1 124.4 103.2 124.2 103.3 124.8 103.4 126.3 103.5 126.6 103.6 126.3 103.7 126.8 103.8 126.0 103.9 127.2 104.0 127.2 104.1 127.3 104.2 128.0 104.3 127.7 104.4 128.4 104.5 129.2 104.6 128.3 104.7 128.6 104.8 129.5 104.9 128.6 105.0 130.8 105.1 130.2 105.2 130.7 105.3 131.1 105.4 131.3 105.5 130.3 105.6 130.5 105.7 131.1 105.8 130.9 105.9 130.7 106.0 131.2 106.1 131.3 106.2 132.8 106.3 132.1 106.4 132.7 106.5 132.3 106.6 132.0 106.7 131.7 106.8 131.6 106.9 132.2 107.0 132.3 107.1 132.1 107.2 132.3 107.3 132.0 107.4 131.4 107.5 132.1 107.6 132.3 107.7 131.8 107.8 132.3 107.9 131.8 108.0 130.7 108.1 132.3 108.2 130.1 108.3 130.7 108.4 130.7 108.5 132.2 108.6 130.5 108.7 130.4 108.8 129.9 108.9 129.1 109.0 131.3 109.1 129.1 109.2 129.9 109.3 129.6 109.4 129.0 109.5 129.9 109.6 128.4 109.7 128.8 109.8 128.1 109.9 127.1 110.0 128.2 110.1 128.0 110.2 126.6 110.3 127.6 110.4 127.4 110.5 126.8 110.6 126.3 110.7 127.5 110.8 125.9 110.9 126.4 111.0 126.4 111.1 126.6 111.2 125.6 111.3 125.5 111.4 125.4 111.5 124.1 111.6 126.0 111.7 125.9 111.8 125.2 111.9 124.6 112.0 125.1 112.1 125.0 112.2 125.2 112.3 124.5 112.4 124.1 112.5 124.4 112.6 124.6 112.7 124.9 112.8 125.2 112.9 124.7 113.0 125.1 113.1 125.1 113.2 124.4 113.3 124.3 113.4 125.2 113.5 124.4 113.6 125.1 113.7 124.9 113.8 125.7 113.9 125.4 114.0 125.3 114.1 126.2 114.2 125.5 114.3 125.7 114.4 125.4 114.5 124.7 114.6 126.7 114.7 126.7 114.8 127.2 114.9 127.7 115.0 125.6 115.1 126.3 115.2 125.9 115.3 126.8 115.4 127.5 115.5 126.5 115.6 127.5 115.7 128.0 115.8 127.9 115.9 125.7 116.0 127.2 116.1 127.2 116.2 128.1 116.3 127.5 116.4 127.4 116.5 127.5 116.6 127.5 116.7 128.3 116.8 127.9 116.9 126.3 117.0 127.1 117.1 127.4 117.2 127.5 117.3 127.9 117.4 127.3 117.5 127.5 117.6 126.8 117.7 128.4 117.8 128.6 117.9 127.0 118.0 127.4 118.1 127.0 118.2 127.7 118.3 127.7 118.4 126.7 118.5 126.9 118.6 126.2 118.7 127.1 118.8 125.3 118.9 126.6 119.0 126.4 119.1 127.0 119.2 127.1 119.3 126.6 119.4 126.4 119.5 126.5 119.6 126.0 119.7 124.9 119.8 125.2 119.9 124.7 120.0 125.9 120.1 125.1 120.2 125.0 120.3 123.9 120.4 124.2 120.5 124.7 120.6 124.4 120.7 125.5 120.8 124.2 120.9 124.1 121.0 123.9 121.1 123.1 121.2 124.0 121.3 124.1 121.4 123.2 121.5 122.4 121.6 123.2 121.7 122.8 121.8 123.1 121.9 122.3 122.0 122.4 122.1 122.7 122.2 122.0 122.3 122.8 122.4 122.8 122.5 121.5 122.6 122.7 122.7 121.9 122.8 121.0 122.9 122.9 123.0 121.5 123.1 121.5 123.2 122.3 123.3 121.8 123.4 121.1 123.5 122.6 123.6 122.3 123.7 121.9 123.8 122.1 123.9 122.6 124.0 121.6 124.1 121.6 124.2 122.5 124.3 122.8 124.4 121.1 124.5 121.3 124.6 121.7 124.7 122.1 124.8 121.5 124.9 122.2 125.0 121.6 125.1 120.6 125.2 122.9 125.3 121.3 125.4 122.0 125.5 121.5 125.6 121.9 125.7 121.4 125.8 122.3 125.9 122.0 126.0 122.3 126.1 122.2 126.2 122.8 126.3 123.0 126.4 122.8 126.5 122.5 126.6 122.7 126.7 123.0 126.8 122.7 126.9 122.3 127.0 122.7 127.1 121.9 127.2 123.9 127.3 122.9 127.4 124.1 127.5 123.7 127.6 123.2 127.7 124.7 127.8 124.4 127.9 123.9 128.0 124.1 128.1 124.5 128.2 125.1 128.3 124.8 128.4 124.9 128.5 124.7 128.6 125.6 128.7 125.2 128.8 126.4 128.9 125.6 129.0 125.0 129.1 125.3 129.2 126.0 129.3 126.7 129.4 126.7 129.5 127.0 129.6 126.5 129.7 127.7 129.8 127.3 129.9 127.1 130.0 128.5 130.1 128.4 130.2 128.6 130.3 128.6 130.4 129.1 130.5 128.5 130.6 129.0 130.7 129.9 130.8 128.8 130.9 130.0 131.0 129.7 131.1 130.1 131.2 129.5 131.3 130.0 131.4 130.0 131.5 129.7 131.6 131.3 131.7 130.2 131.8 130.1 131.9 130.7 132.0 130.3 132.1 130.8 132.2 130.2 132.3 131.2 132.4 131.3 132.5 131.1 132.6 131.4 132.7 131.5 132.8 130.2 132.9 131.8 133.0 131.3 133.1 130.8 133.2 129.8 133.3 130.3 133.4 131.0 133.5 130.5 133.6 130.8 133.7 130.0 133.8 130.6 133.9 131.1 134.0 128.8 134.1 129.2 134.2 129.2 134.3 127.9 134.4 127.2 134.5 128.2 134.6 129.3 134.7 127.1 134.8 127.1 134.9 127.0 135.0 127.4 135.1 127.4 135.2 128.0 135.3 127.1 135.4 127.5 135.5 127.1 135.6 126.5 135.7 125.9 135.8 125.4 135.9 126.1 136.0 126.4 136.1 125.5 136.2 125.8 136.3 125.0 136.4 123.8 136.5 124.7 136.6 124.5 136.7 124.3 136.8 124.6 136.9 124.5 137.0 125.1 137.1 123.9 137.2 123.8 137.3 122.9 137.4 123.4 137.5 123.1 137.6 122.9 137.7 122.2 137.8 122.2 137.9 123.3 138.0 122.7 138.1 122.4 138.2 123.6 138.3 123.1 138.4 123.0 138.5 123.5 138.6 122.2 138.7 122.6 138.8 122.9 138.9 123.1 139.0 123.0 139.1 122.7 139.2 122.4 139.3 123.2 139.4 122.0 139.5 124.1 139.6 123.4 139.7 123.7 139.8 122.9 139.9 124.3 140.0 124.0 140.1 124.1 140.2 124.3 140.4 123.8 140.5 123.5 140.6 124.9 140.7 124.3 140.8 125.5 140.9 125.3 141.0 124.7 141.1 126.6 141.2 125.5 141.3 127.3 141.4 127.3 141.5 125.9 141.6 126.7 141.7 126.1 141.8 126.8 141.9 126.3 142.0 128.0 142.1 127.8 142.2 127.7 142.3 128.6 142.4 128.3 142.5 129.0 142.6 128.7 142.7 130.2 142.8 128.4 142.9 130.0 143.0 129.4 143.1 128.5 143.2 130.0 143.3 129.8 143.4 129.9 143.5 131.0 143.6 130.2 143.7 130.5 143.8 130.4 143.9 129.9 144.0 130.0 144.1 130.8 144.2 131.3 144.3 130.1 144.4 130.6 144.5 130.2 144.6 130.4 144.7 131.0 144.8 131.6 144.9 130.1 145.0 130.8 145.1 130.5 145.2 130.3 145.3 132.1 145.4 130.8 145.5 131.1 145.6 131.8 145.7 130.6 145.8 130.4 145.9 130.9 146.0 130.9 146.1 130.6 146.2 129.5 146.3 129.7 146.4 129.8 146.5 130.3 146.6 129.1 146.7 129.9 146.8 130.4 146.9 129.1 147.0 128.5 147.1 129.9 147.2 129.0 147.3 128.4 147.4 128.8 147.5 129.9 147.6 130.1 147.7 128.1 147.8 128.3 147.9 129.1 148.0 128.3 148.1 128.5 148.2 128.1 148.3 128.5 148.4 128.1 148.5 128.6 148.6 126.6 148.7 126.7 148.8 127.8 148.9 127.2 149.0 126.2 149.1 127.3 149.2 127.2 149.3 125.6 149.4 127.4 149.5 125.8 149.6 126.8 149.7 126.2 149.8 125.5 149.9 124.0 150.0 126.0 150.1 125.7 150.2 124.7 150.3 124.7 150.4 126.2 150.5 123.6 150.6 125.3 150.7 124.5 150.8 124.7 150.9 124.5 151.0 124.4 151.1 124.7 151.2 124.8 151.3 123.1 151.4 123.6 151.5 124.0 151.6 123.7 151.7 123.4 151.8 124.0 151.9 122.8 152.0 123.6 152.1 122.8 152.2 122.8 152.3 122.6 152.4 123.0 152.5 122.2 152.6 121.9 152.7 123.2 152.8 123.5 152.9 123.9 153.0 122.4 153.1 122.5 153.2 122.2 153.3 122.4 153.4 122.3 153.5 121.8 153.6 123.7 153.7 123.1 153.8 122.9 153.9 122.0 154.0 122.7 154.1 121.9 154.2 122.9 154.3 123.3 154.4 122.3 154.5 123.3 154.6 122.4 154.7 123.2 154.8 123.2 154.9 123.5 155.0 124.0 155.1 122.0 155.2 123.8 155.3 123.5 155.4 124.4 155.5 124.1 155.6 124.0 155.7 123.9 155.8 123.4 155.9 124.7 156.0 124.2 156.1 124.1 156.2 125.2 156.3 125.0 156.4 125.2 156.5 124.9 156.6 124.3 156.7 125.3 156.8 124.3 156.9 124.4 157.0 125.5 157.1 125.2 157.2 125.2 157.3 126.1 157.4 125.4 157.5 124.9 157.6 126.6 157.7 126.0 157.8 125.9 157.9 126.2 158.0 124.4 158.1 126.6 158.2 125.3 158.3 126.0 158.4 125.9 158.5 126.1 158.6 126.5 158.7 127.6 158.8 125.2 158.9 127.4 159.0 126.1 159.1 125.8 159.2 126.2 159.3 127.7 159.4 126.7 159.5 127.1 159.6 127.6 159.7 126.7 159.8 125.5 159.9 126.1 160.0 126.6 160.1 126.7 160.2 126.4 160.3 126.4 160.4 126.4 160.5 125.5 160.6 125.7 160.7 126.7 160.8 125.5 160.9 126.7 161.0 125.9 161.1 125.5 161.2 125.1 161.3 124.8 161.4 125.6 161.5 125.4 161.6 125.0 161.7 124.0 161.8 124.4 161.9 123.3 162.0 123.6 162.1 124.0 162.2 122.9 162.3 124.9 162.4 124.3 162.5 124.0 162.6 123.5 162.7 123.0 162.8 123.9 162.9 123.8 163.0 123.5 163.1 123.3 163.2 123.3 163.3 123.5 163.4 123.7 163.5 123.1 163.6 122.4 163.7 124.1 163.8 122.3 163.9 122.8 164.0 122.2 164.1 121.8 164.2 121.4 164.3 122.2 164.4 122.7 164.5 122.8 164.6 122.4 164.7 123.2 164.8 122.5 164.9 121.3 165.0 122.5 165.1 124.1 165.2 122.9 165.3 122.9 165.4 123.0 165.5 122.6 165.6 123.2 165.7 123.2 165.8 123.0 165.9 123.1 166.0 123.2 166.1 122.8 166.2 123.8 166.3 124.2 166.4 124.0 166.5 124.0 166.6 125.4 166.7 125.4 166.8 125.6 166.9 125.4 167.0 124.9 167.1 125.2 167.2 125.3 167.3 126.3 167.4 126.2 167.5 127.8 167.6 126.2 167.7 127.0 167.8 127.5 167.9 127.5 168.0 127.7 168.1 127.6 168.2 128.8 168.3 128.2 168.4 129.9 168.5 128.8 168.6 128.1 168.7 129.0 168.8 129.0 168.9 130.2 169.0 129.1 169.1 130.8 169.2 130.0 169.3 130.7 169.4 130.9 169.5 129.8 169.6 131.3 169.7 131.5 169.8 130.9 169.9 130.9 170.0 131.3 170.1 131.0 170.2 132.0 170.3 132.3 170.4 131.2 170.5 131.8 170.6 131.7 170.7 131.7 170.8 130.9 170.9 130.8 171.0 131.9 171.1 131.4 171.2 131.9 171.3 132.0 171.4 130.7 171.5 133.2 171.6 132.6 171.7 131.9 171.8 132.3 171.9 132.1 172.0 131.5 172.1 131.7 172.2 133.4 172.3 132.2 172.4 131.5 172.5 131.5 172.6 131.7 172.7 130.9 172.8 131.8 172.9 131.7 173.0 130.5 173.1 131.6 173.2 131.1 173.3 131.5 173.4 130.7 173.5 130.2 173.6 129.9 173.7 130.1 173.8 130.7 173.9 129.7 174.0 129.3 174.1 128.5 174.2 128.7 174.3 129.8 174.4 128.5 174.5 128.0 174.6 128.4 174.7 128.1 174.8 128.3 174.9 128.1 175.0 129.3 175.1 126.6 175.2 127.0 175.3 127.5 175.4 126.0 175.5 125.9 175.6 126.9 175.7 126.4 175.8 126.4 175.9 125.6 176.0 125.2 176.1 125.8 176.2 126.2 176.3 124.6 176.4 125.0 176.5 124.7 176.6 125.5 176.7 124.5 176.8 124.1 176.9 124.3 177.0 123.8 177.1 124.9 177.2 123.4 177.3 124.4 177.4 124.2 177.5 123.5 177.6 123.1 177.7 123.2 177.8 124.1 177.9 123.0 178.0 123.1 178.1 123.5 178.2 124.2 178.3 122.6 178.4 121.9 178.5 123.5 178.6 122.8 178.7 121.7 178.8 123.5 178.9 122.1 179.0 122.2 179.1 122.4 179.2 124.0 179.3 122.8 179.4 121.1 179.5 121.7 179.6 121.9 179.7 122.5 179.8 121.3 179.9 121.0 180.0 122.5 180.1 121.9 180.2 121.9 180.3 123.0 180.4 121.7 180.5 121.7 180.6 122.7 180.7 123.5 180.8 123.4 180.9 122.3 181.0 122.8 181.1 122.5 181.2 122.7 181.3 122.6 181.4 123.2 181.5 122.9 181.6 122.5 181.7 122.7 181.8 122.8 181.9 124.8 182.0 123.7 182.1 125.5 182.2 123.3 182.3 124.7 182.4 124.0 182.5 125.1 182.6 124.9 182.7 126.2 182.8 124.4 182.9 123.9 183.0 126.0 183.1 125.9 183.2 125.2 183.3 126.9 183.4 125.9 183.5 126.6 183.6 127.7 183.7 126.4 183.8 126.8 183.9 125.8 184.0 128.4 184.1 127.8 184.2 127.2 184.3 127.4 184.4 128.4 184.5 128.8 184.6 127.9 184.7 129.1 184.8 128.9 184.9 128.2 185.0 128.6 185.1 129.5 185.2 128.8 185.3 129.1 185.4 130.5 185.5 131.1 185.6 130.6 185.7 130.7 185.8 130.8 185.9 129.9 186.0 129.8 186.1 130.9 186.2 131.2 186.3 129.3 186.4 130.0 186.5 130.7 186.6 130.3 186.7 130.0 186.8 130.1 186.9 130.6 187.0 130.2 187.1 129.8 187.2 129.6 187.3 129.9 187.4 129.7 187.5 128.5 187.6 128.8 187.7 128.8 187.8 127.5 187.9 128.2 188.0 127.3 188.1 128.7 188.2 127.8 188.3 128.1 188.4 128.3 188.5 125.4 188.6 126.6 188.7 126.4 188.8 125.8 188.9 125.8 189.0 125.5 189.1 125.4 189.2 126.1 189.3 125.5 189.4 125.2 189.5 125.1 189.6 125.3 189.7 124.3 189.8 123.1 189.9 123.7 190.0 123.2 190.1 122.2 190.2 123.3 190.3 123.3 190.4 122.5 190.5 122.7 190.6 121.0 190.7 122.7 190.8 121.5 190.9 121.8 191.0 120.8 191.1 120.8 191.2 120.6 191.3 120.9 191.4 120.7 191.5 120.4 191.6 120.3 191.7 120.2 191.8 120.2 191.9 120.2 192.0 121.2 192.1 119.5 192.2 119.5 192.3 119.5 192.4 119.9 192.5 119.8 192.6 120.1 192.7 120.1 192.8 120.3 192.9 119.8 193.0 120.2 193.1 119.3 193.2 121.5 193.3 118.9 193.4 119.9 193.5 120.7 193.6 119.2 193.7 120.4 193.8 121.2 193.9 121.3 194.0 121.3 194.1 122.1 194.2 122.1 194.3 121.3 194.4 121.4 194.5 123.1 194.6 122.8 194.7 122.6 194.8 121.8 194.9 122.8 195.0 122.6 195.1 124.2 195.2 123.6 195.3 125.2 195.4 123.5 195.5 124.8 195.6 124.5 195.7 125.9 195.8 125.4 195.9 125.1 196.0 125.9 196.1 126.5 196.2 126.5 196.3 125.9 196.4 127.3 196.5 126.2 196.6 126.9 196.7 127.5 196.8 127.6 196.9 127.4 197.0 127.6 197.1 128.6 197.2 127.6 197.3 127.9 197.4 128.7 197.5 128.4 197.6 129.0 197.7 128.7 197.8 128.9 197.9 128.6 198.0 128.0 198.1 128.3 198.2 128.2 198.3 128.6 198.4 129.3 198.5 129.2 198.6 128.7 198.7 128.5 198.8 128.5 198.9 130.2 199.0 128.9 199.1 129.6 199.2 130.5 199.3 129.9 199.4 129.9 199.5 128.7 199.6 129.3 199.7 129.6 199.8 130.0 199.9 130.0 200.0 129.9 200.1 130.3 200.2 129.7 200.3 129.7 200.4 130.6 200.5 129.7 200.6 130.3 200.7 129.8 200.8 129.4 200.9 128.4 201.0 129.7 201.1 129.1 201.2 128.3 201.3 130.5 201.4 129.9 201.5 129.5 201.6 129.2 201.7 129.7 201.8 128.2 201.9 129.7 202.0 128.8 202.1 128.6 202.2 128.3 202.3 129.3 202.4 129.4 202.5 128.8 202.6 128.6 202.7 128.9 202.8 128.1 202.9 129.2 203.0 129.4 203.1 128.4 203.2 129.5 203.3 129.4 203.4 128.9 203.5 128.9 203.6 129.2 203.7 127.9 203.8 129.8 203.9 128.8 204.0 128.1 204.1 128.4 204.2 129.3 204.3 128.4 204.4 127.4 204.5 127.8 204.6 129.0 204.7 128.8 204.8 128.5 204.9 127.3 205.0 127.2 205.1 127.3 205.2 126.5 205.3 128.0 205.4 126.7 205.5 127.1 205.6 127.1 205.7 126.8 205.8 126.4 205.9 125.1 206.0 126.8 206.1 126.0 206.2 126.3 206.3 126.7 206.4 125.9 206.5 125.6 206.6 126.6 206.7 125.4 206.8 126.0 206.9 125.1 207.0 125.1 207.1 125.2 207.2 125.6 207.3 126.1 207.4 126.3 207.5 125.6 207.6 125.2 207.7 124.8 207.8 125.2 207.9 125.0 208.0 126.2 208.1 125.1 208.2 124.9 208.3 124.7 208.4 124.6 208.5 124.8 208.6 124.6 208.7 124.8 208.8 124.9 208.9 124.9 209.0 125.4 209.1 125.4 209.2 126.4 209.3 125.0 209.4 126.0 209.5 125.0 209.6 125.2 209.7 125.1 209.8 125.2 209.9 125.7 210.0 125.6 210.1 126.2 210.2 126.1 210.3 126.1 210.4 125.4 210.5 125.8 210.6 126.4 210.7 126.3 210.8 127.1 210.9 126.2 211.0 126.2 211.1 127.9 211.2 128.0 211.3 126.4 211.4 126.8 211.5 127.7 211.6 127.7 211.7 129.2 211.8 127.5 211.9 127.4 212.0 128.4 212.1 128.8 212.2 128.9 212.3 128.3 212.4 127.6 212.5 128.8 212.6 129.0 212.7 128.3 212.8 128.8 212.9 129.0 213.0 128.7 213.1 129.2 213.2 127.5 213.3 128.8 213.4 127.9 213.5 128.6 213.6 128.4 213.7 128.2 213.8 128.7 213.9 128.4 214.0 128.3 214.1 128.1 214.2 127.9 214.3 128.8 214.4 128.6 214.5 129.3 214.6 128.1 214.7 127.4 214.8 127.5 214.9 127.0 215.0 128.7 215.1 126.6 215.2 127.3 215.3 126.2 215.4 126.6 215.5 127.2 215.6 126.3 215.7 126.6 215.8 126.1 215.9 126.1 216.0 126.0 216.1 125.9 216.2 125.1 216.3 125.6 216.4 124.3 216.5 124.1 216.6 124.5 216.7 124.1 216.8 124.4 216.9 123.4 217.0 123.1 217.1 122.8 217.2 122.4 217.3 122.6 217.4 122.2 217.5 122.8 217.6 121.7 217.7 122.8 217.8 122.2 217.9 122.3 218.0 120.9 218.1 120.9 218.2 120.7 218.3 120.9 218.4 121.4 218.5 120.2 218.6 120.0 218.7 119.8 218.8 120.9 218.9 119.9 219.0 120.1 219.1 118.9 219.2 119.5 219.3 119.6 219.4 119.0 219.5 120.1 219.6 120.8 219.7 120.0 219.8 119.5 219.9 119.6 220.0 119.3 220.1 120.2 220.2 120.2 220.3 120.4 220.4 119.8 220.5 120.7 220.6 121.1 220.7 120.6 220.8 121.3 220.9 120.9 221.0 122.2 221.1 120.7 221.2 122.1 221.3 122.4 221.4 122.5 221.5 122.3 221.6 123.7 221.7 122.8 221.8 123.4 221.9 123.8 222.0 123.9 222.1 123.8 222.2 124.6 222.3 124.3 222.4 124.7 222.5 125.5 222.6 126.1 222.7 124.9 222.8 125.7 222.9 125.1 223.0 125.5 223.1 126.0 223.2 126.7 223.3 127.0 223.4 127.0 223.5 127.7 223.6 127.1 223.7 127.6 223.8 128.8 223.9 128.5 224.0 127.8 224.1 128.5 224.2 129.0 224.3 128.8 224.4 127.3 224.5 127.9 224.6 126.5 224.7 127.9 224.8 127.5 224.9 129.5 225.0 129.2 225.1 128.9 225.2 128.5 225.3 129.5 225.4 128.8 225.5 128.9 225.6 129.1 225.7 129.9 225.8 130.6 225.9 128.6 226.0 130.1 226.1 129.3 226.2 130.1 226.3 130.5 226.4 129.4 226.5 129.3 226.6 130.0 226.7 130.9 226.8 131.5 226.9 130.9 227.0 131.0 227.1 131.7 227.2 131.1 227.3 131.8 227.4 131.4 227.5 131.3 227.6 131.0 227.7 131.8 227.8 131.8 227.9 130.8 228.0 131.5 228.1 131.4 228.2 131.9 228.3 132.2 228.4 131.5 228.5 130.5 228.6 131.6 228.7 131.6 228.8 131.0 228.9 131.0 229.0 130.2 229.1 130.7 229.2 131.3 229.3 130.2 229.4 130.4 229.5 130.5 229.6 129.2 229.7 129.8 229.8 130.2 229.9 130.4 230.0 129.7 230.1 129.9 230.2 129.4 230.3 129.1 230.4 128.9 230.5 130.0 230.6 128.8 230.7 129.1 230.8 128.7 230.9 129.0 231.0 129.2 231.1 129.2 231.2 127.4 231.3 128.8 231.4 127.8 231.5 126.6 231.6 128.2 231.7 127.6 231.8 127.5 231.9 127.2 232.0 126.5 232.1 127.9 232.2 127.3 232.3 126.5 232.4 125.7 232.5 125.9 232.6 126.2 232.7 126.1 232.8 125.8 232.9 125.5 233.0 125.0 233.1 124.9 233.2 124.0 233.3 124.5 233.4 123.6 233.5 123.9 233.6 123.8 233.7 123.8 233.8 122.6 233.9 123.7 234.0 121.8 234.1 123.4 234.2 121.5 234.3 121.2 234.4 121.6 234.5 121.5 234.6 121.8 234.7 120.0 234.8 122.1 234.9 120.9 235.0 120.0 235.1 120.6 235.2 120.5 235.3 120.1 235.4 119.5 235.5 119.0 235.6 119.9 235.7 120.1 235.8 119.4 235.9 119.3 236.0 119.2 236.1 119.9 236.2 119.0 236.3 119.5 236.4 118.4 236.5 119.2 236.6 118.5 236.7 119.3 236.8 118.7 236.9 118.8 237.0 119.5 237.1 120.1 237.2 118.3 237.3 118.4 237.4 119.3 237.5 118.2 237.6 119.9 237.7 119.7 237.8 119.4 237.9 118.8 238.0 119.4 238.1 119.4 238.2 118.7 238.3 117.8 238.4 118.3 238.5 118.8 238.6 118.0 238.7 118.2 238.8 118.6 238.9 118.8 239.0 117.5 239.1 117.8 239.2 118.0 239.3 118.3 239.4 116.6 239.5 118.0 239.6 119.4 239.7 118.7 239.8 119.5 239.9 120.6 240.0 118.7 240.1 120.4 240.2 119.7 240.3 120.3 240.4 120.0 240.5 121.7 240.6 122.0 240.7 122.6 240.8 122.5 240.9 123.0 241.0 124.1 241.1 129.9 241.2 136.8 241.3 143.0 241.4 149.1 241.5 148.8 241.6 147.0 241.7 146.9 241.8 143.4 241.9 140.1 242.0 138.0 242.1 135.8 242.2 132.4 242.3 131.5 242.4 130.2 242.5 128.6 242.6 127.8 242.7 126.9 242.8 126.0 242.9 124.0 243.0 120.2 243.1 118.6 243.2 115.6 243.3 115.3 243.4 114.9 243.5 115.0 243.6 115.3 243.7 114.8 243.8 115.2 243.9 115.5 244.0 114.7 244.1 115.1 244.2 115.4 244.3 115.5 244.4 115.5 244.5 114.3 244.6 114.3 244.7 113.9 244.8 113.7 244.9 114.3 245.0 114.8 245.1 113.2 245.2 113.7 245.3 113.6 245.4 114.9 245.5 114.2 245.6 114.4 245.7 113.8 245.8 111.7 245.9 112.5 246.0 112.3 246.1 113.7 246.2 112.9 246.3 112.2 246.4 111.4 246.5 112.5 246.6 112.7 246.7 111.5 246.8 111.7 246.9 112.1 247.0 111.6 247.1 111.1 247.2 111.2 247.3 110.9 247.4 110.4 247.5 111.6 247.6 110.4 247.7 110.8 247.8 109.6 247.9 111.6 248.0 112.7 248.1 115.8 248.2 117.5 248.3 118.5 248.4 120.2 248.5 121.0 248.6 119.6 248.7 120.2 248.8 120.4 248.9 119.5 249.0 120.0 249.1 120.4 249.2 119.7 249.3 120.6 249.4 119.7 249.5 120.2 249.6 120.0 249.7 121.0 249.8 120.9 249.9 120.5 250.0 121.1 250.1 121.9 250.2 120.9 250.3 121.1 250.4 121.7 250.5 121.1 250.6 121.7 250.7 122.4 250.8 121.7 250.9 122.6 251.0 125.0 251.1 127.3 251.2 131.7 251.3 133.9 251.4 135.7 251.5 139.7 251.6 143.5 251.7 143.0 251.8 141.7 251.9 142.7 252.0 142.8 252.1 142.7 252.2 142.8 252.3 143.0 252.4 143.3 252.5 143.0 252.6 142.8 252.7 142.7 252.8 143.5 252.9 143.1 253.0 144.1 253.1 143.7 253.2 143.7 253.3 145.0 253.4 142.8 253.5 145.2 253.6 143.2 253.7 144.0 253.8 143.8 253.9 145.1 254.0 144.4 254.1 145.8 254.2 145.0 254.3 145.0 254.4 145.0 254.5 144.8 254.6 143.7 254.7 143.0 254.8 142.6 254.9 143.5 255.0 141.7 255.1 143.0 255.2 143.0 255.3 141.2 255.4 142.2 255.5 140.7 255.6 139.9 255.7 139.4 255.8 139.6 255.9 138.9 256.0 137.7 256.1 137.3 256.2 137.8 256.3 136.5 256.4 136.1 256.5 135.5 256.6 134.9 256.7 133.9 256.8 133.0 256.9 132.7 257.0 131.9 257.1 131.9 257.2 131.1 257.3 131.0 257.4 128.6 257.5 128.4 257.6 126.8 257.7 127.4 257.8 126.9 257.9 125.5 258.0 125.1 258.1 124.6 258.2 123.7 258.3 122.8 258.4 123.0 258.5 122.1 258.6 122.5 258.7 121.4 258.8 121.3 258.9 121.5 259.0 121.6 259.1 120.3 259.2 119.4 259.3 118.9 259.4 119.3 259.5 118.8 259.6 118.5 259.7 118.1 259.8 117.5 259.9 117.5 260.0 116.2 260.1 116.2 260.2 116.4 260.3 115.3 260.4 115.1 260.5 114.3 260.6 115.0 260.7 113.8 260.8 113.1 260.9 112.5 261.0 113.4 261.1 112.6 261.2 111.7 261.3 111.1 261.4 110.3 261.5 109.2 261.6 110.4 261.7 110.1 261.8 109.1 261.9 111.3 262.0 113.5 262.1 115.9 262.2 117.8 262.3 125.2 262.4 130.8 262.5 138.6 262.6 136.5 262.7 136.6 262.8 134.2 262.9 132.7 263.0 131.5 263.1 130.9 263.2 128.8 263.3 128.1 263.4 127.1 263.5 125.3 263.6 123.8 263.7 121.2 263.8 121.0 263.9 119.4 264.0 119.6 264.1 120.9 264.2 121.1 264.3 120.8 264.4 121.0 264.5 122.0 264.6 121.0 264.7 122.1 264.8 122.2 264.9 122.8 265.0 122.4 265.1 123.6 265.2 124.4 265.3 124.7 265.4 125.5 265.5 125.6 265.6 123.9 265.7 123.7 265.8 123.7 265.9 123.0 266.0 123.6 266.1 122.1 266.2 122.2 266.3 122.2 266.4 122.5 266.5 122.4 266.6 121.8 266.7 123.0 266.8 122.9 266.9 122.2 267.0 121.9 267.1 122.0 267.2 121.6 267.3 121.3 267.4 122.3 267.5 121.7 267.6 121.7 267.7 121.6 267.8 122.3 267.9 121.8 268.0 121.3 268.1 121.6 268.2 122.0 268.3 122.2 268.4 122.4 268.5 121.9 268.6 121.7 268.7 121.4 268.8 122.1 268.9 122.6 269.0 122.2 269.1 122.7 269.2 122.3 269.3 122.7 269.4 122.1 269.5 121.1 269.6 121.9 269.7 122.5 269.8 122.8 269.9 121.6 270.0 122.8 270.1 123.9 270.2 123.1 270.3 123.0 270.4 122.9 270.5 122.1 270.6 122.6 270.7 122.8 270.8 123.1 270.9 122.1 271.0 122.3 271.1 122.2 271.2 121.9 271.3 122.4 271.4 122.3 271.5 122.1 271.6 122.6 271.7 122.4 271.8 122.1 271.9 121.9 272.0 121.0 272.1 121.7 272.2 121.5 272.3 121.3 272.4 120.8 272.5 121.1 272.6 121.1 272.7 121.7 272.8 121.7 272.9 119.7 273.0 120.9 273.1 121.5 273.2 120.2 273.3 121.1 273.4 120.2 273.5 120.9 273.6 120.6 273.7 120.4 273.8 121.0 273.9 121.5 274.0 124.3 274.1 129.0 274.2 132.2 274.3 137.0 274.4 141.3 274.5 140.8 274.6 140.7 274.7 141.8 274.8 142.0 274.9 142.0 275.0 140.6 275.1 138.4 275.2 136.9 275.3 134.7 275.4 133.2 275.5 133.1 275.6 130.0 275.7 128.8 275.8 128.6 275.9 129.0 276.0 128.3 276.1 128.4 276.2 127.4 276.3 126.5 276.4 126.6 276.5 126.8 276.6 126.5 276.7 126.3 276.8 124.8 276.9 125.2 277.0 125.2 277.1 124.0 277.2 123.8 277.3 123.8 277.4 124.1 277.5 123.1 277.6 122.7 277.7 122.6 277.8 122.6 277.9 122.3 278.0 122.7 278.1 122.3 278.2 121.5 278.3 120.9 278.4 122.2 278.5 120.8 278.6 121.1 278.7 121.3 278.8 121.1 278.9 120.7 279.0 120.2 279.1 119.5 279.2 119.0 279.3 118.6 279.4 119.0 279.5 119.1 279.6 118.6 279.7 118.9 279.8 117.1 279.9 118.1 280.0 119.5 280.1 119.2 280.2 119.5 280.3 120.3 280.4 118.9 280.5 120.3 280.6 120.6 280.7 121.3 280.8 122.8 280.9 121.8 281.0 121.9 281.1 122.4 281.2 121.7 281.3 123.6 281.4 122.2 281.5 122.7 281.6 124.8 281.7 123.8 281.8 124.4 281.9 125.0 282.0 125.0 282.1 125.3 282.2 126.1 282.3 126.3 282.4 127.4 282.5 127.0 282.6 126.8 282.7 127.2 282.8 128.3 282.9 128.7 283.0 129.3 283.1 129.6 283.2 129.9 283.3 130.7 283.4 130.8 283.5 130.7 283.6 132.0 283.7 132.1 283.8 132.1 283.9 133.0 284.0 133.3 284.1 133.6 284.2 134.4 284.3 132.6 284.4 132.0 284.5 131.7 284.6 131.4 284.7 131.1 284.8 131.5 284.9 129.2 285.0 129.4 285.1 129.1 285.2 129.4 285.3 128.9 285.4 129.8 285.5 129.3 285.6 128.5 285.7 129.5 285.8 127.9 285.9 130.0 286.0 129.4 286.1 129.2 286.2 127.9 286.3 127.9 286.4 126.4 286.5 126.8 286.6 127.7 286.7 125.7 286.8 127.1 286.9 127.3 287.0 126.8 287.1 125.9 287.2 127.0 287.3 126.1 287.4 125.7 287.5 125.8 287.6 126.0 287.7 125.0 287.8 125.3 287.9 125.3 288.0 125.5 288.1 125.5 288.2 125.2 288.3 124.7 288.4 124.8 288.5 124.4 288.6 124.6 288.7 124.9 288.8 123.9 288.9 123.6 289.0 125.4 289.1 123.0 289.2 123.6 289.3 124.9 289.4 124.1 289.5 124.2 289.6 123.9 289.7 123.7 289.8 123.1 289.9 123.9 290.0 123.4 290.1 123.8 290.2 123.4 290.3 124.9 290.4 124.3 290.5 125.7 290.6 124.0 290.7 124.2 290.8 125.3 290.9 124.0 291.0 124.7 291.1 125.3 291.2 123.9 291.3 124.7 291.4 124.7 291.5 125.7 291.6 124.3 291.7 125.6 291.8 124.9 291.9 125.0 292.0 124.9 292.1 126.3 292.2 125.4 292.3 125.4 292.4 126.3 292.5 125.7 292.6 125.6 292.7 125.9 292.8 127.3 292.9 126.9 293.0 127.3 293.1 125.6 293.2 126.1 293.3 127.0 293.4 127.8 293.5 127.6 293.6 126.5 293.7 127.8 293.8 127.3 293.9 126.1 294.0 127.0 294.1 125.2 294.2 127.3 294.3 128.4 294.4 130.4 294.5 129.3 294.6 131.7 294.7 132.0 294.8 132.7 294.9 134.6 295.0 135.6 295.1 136.1 295.2 138.3 295.3 139.3 295.4 140.7 295.5 141.2 295.6 141.2 295.7 139.3 295.8 139.5 295.9 138.3 296.0 138.5 296.1 138.9 296.2 138.3 296.3 138.1 296.4 136.9 296.5 136.6 296.6 136.4 296.7 134.8 296.8 135.4 296.9 134.8 297.0 134.9 297.1 134.4 297.2 134.2 297.3 133.5 297.4 132.8 297.5 132.8 297.6 132.0 297.7 132.6 297.8 132.1 297.9 131.9 298.0 131.5 298.1 130.3 298.2 130.4 298.3 130.4 298.4 129.5 298.5 128.4 298.6 128.4 298.7 127.1 298.8 127.2 298.9 125.7 299.0 125.7 299.1 125.4 299.2 124.3 299.3 121.5 299.4 122.8 299.5 122.3 299.6 121.0 299.7 120.0 299.8 119.9 299.9 119.6 300.0 117.6 300.1 116.8 300.2 116.3 300.3 116.3 300.4 116.0 300.5 115.5 300.6 115.8 300.7 117.2 300.8 117.0 300.9 116.4 301.0 116.9 301.1 115.6 301.2 116.6 301.3 114.9 301.4 115.7 301.5 114.5 301.6 115.4 301.7 115.7 301.8 116.4 301.9 115.4 302.0 116.8 302.1 115.7 302.2 115.9 302.3 115.5 302.4 116.3 302.5 116.0 302.6 117.6 302.7 117.2 302.8 118.0 302.9 118.6 303.0 119.5 303.1 119.0 303.2 119.2 303.3 119.6 303.4 122.0 303.5 121.9 303.6 123.3 303.7 125.1 303.8 126.7 303.9 126.9 304.0 128.8 304.1 130.6 304.2 133.0 304.3 130.3 304.4 130.3 304.5 129.7 304.6 128.2 304.7 126.6 304.8 126.6 304.9 126.1 305.0 126.1 305.1 125.8 305.2 123.5 305.3 122.3 305.4 122.2 305.5 121.2 305.6 120.7 305.7 121.1 305.8 121.1 305.9 121.4 306.0 121.5 306.1 122.6 306.2 122.7 306.3 123.6 306.4 123.7 306.5 124.2 306.6 123.6 306.7 124.3 306.8 125.4 306.9 125.0 307.0 126.1 307.1 126.1 307.2 125.9 307.3 126.0 307.4 127.5 307.5 128.2 307.6 128.3 307.7 127.1 307.8 129.3 307.9 128.1 308.0 129.1 308.1 129.2 308.2 129.8 308.3 130.1 308.4 130.7 308.5 130.2 308.6 131.0 308.7 130.8 308.8 131.3 308.9 130.4 309.0 132.0 309.1 130.5 309.2 131.1 309.3 131.2 309.4 131.7 309.5 130.9 309.6 130.8 309.7 131.8 309.8 130.5 309.9 129.6 310.0 130.4 310.1 129.4 310.2 128.3 310.3 128.7 310.4 127.4 310.5 128.1 310.6 126.0 310.7 125.0 310.8 125.2 310.9 124.7 311.0 123.7 311.1 122.9 311.2 123.5 311.3 121.7 311.4 122.3 311.5 121.8 311.6 121.0 311.7 121.0 311.8 119.6 311.9 120.0 312.0 120.2 312.1 119.3 312.2 120.3 312.3 118.1 312.4 118.0 312.5 117.4 312.6 117.6 312.7 117.7 312.8 117.2 312.9 116.5 313.0 115.7 313.1 116.2 313.2 115.6 313.3 114.7 313.4 115.4 313.5 115.9 313.6 115.4 313.7 114.7 313.8 114.9 313.9 113.6 314.0 114.7 314.1 115.7 314.2 116.1 314.3 119.1 314.4 119.2 314.5 120.4 314.6 121.5 314.7 123.1 314.8 123.9 314.9 125.6 315.0 124.1 315.1 125.3 315.2 126.6 315.3 125.5 315.4 126.1 315.5 125.6 315.6 126.7 315.7 126.1 315.8 127.0 315.9 125.7 316.0 126.8 316.1 127.8 316.2 127.2 316.3 127.3 316.4 127.7 316.5 127.3 316.6 126.8 316.7 127.1 316.8 126.9 316.9 127.5 317.0 127.3 317.1 126.5 317.2 126.9 317.3 127.1 317.4 127.3 317.5 126.8 317.6 127.3 317.7 127.8 317.8 127.6 317.9 127.1 318.0 126.6 318.1 127.8 318.2 127.8 318.3 128.4 318.4 127.0 318.5 127.8 318.6 127.2 318.7 127.4 318.8 126.4 318.9 127.4 319.0 127.4 319.1 127.3 319.2 127.7 319.3 127.7 319.4 127.4 319.5 127.6 319.6 127.5 319.7 126.9 319.8 127.5 319.9 127.8 320.0 127.7 320.1 127.1 320.2 127.8 320.3 126.2 320.4 128.0 320.5 127.0 320.6 126.6 320.7 128.2 320.8 127.6 320.9 126.2 321.0 127.2 321.1 127.2 321.2 127.8 321.3 127.5 321.4 126.3 321.5 128.5 321.6 127.7 321.7 127.5 321.8 127.7 321.9 126.9 322.0 127.5 322.1 127.0 322.2 128.3 322.3 126.9 322.4 128.3 322.5 128.5 322.6 127.7 322.7 127.3 322.8 128.4 322.9 128.2 323.0 128.6 323.1 128.4 323.2 127.9 323.3 127.8 323.4 128.8 323.5 129.0 323.6 127.6 323.7 129.0 323.8 128.3 323.9 128.5 324.0 130.4 324.1 129.9 324.2 132.0 324.3 132.2 324.4 131.8 324.5 133.4 324.6 132.9 324.7 133.3 324.8 134.4 324.9 134.7 325.0 134.6 325.1 136.7 325.2 137.0 325.3 137.6 325.4 137.8 325.5 139.7 325.6 137.7 325.7 136.9 325.8 135.8 325.9 135.9 326.0 135.1 326.1 135.3 326.2 134.2 326.3 132.7 326.4 132.5 326.5 132.5 326.6 130.8 326.7 129.8 326.8 129.3 326.9 128.7 327.0 126.4 327.1 127.5 327.2 127.4 327.3 127.3 327.4 126.3 327.5 127.1 327.6 126.6 327.7 126.8 327.8 126.3 327.9 126.1 328.0 126.4 328.1 126.3 328.2 126.8 328.3 126.3 328.4 126.1 328.5 127.0 328.6 127.0 328.7 125.2 328.8 126.6 328.9 126.2 329.0 126.3 329.1 125.6 329.2 126.7 329.3 126.6 329.4 126.2 329.5 125.8 329.6 125.8 329.7 125.1 329.8 126.2 329.9 125.2 330.0 125.5 330.1 126.1 330.2 125.6 330.3 125.3 330.4 124.3 330.5 125.2 330.6 124.6 330.7 125.1 330.8 124.2 330.9 122.8 331.0 122.5 331.1 122.7 331.2 122.2 331.3 120.4 331.4 120.0 331.5 120.9 331.6 120.1 331.7 119.4 331.8 119.9 331.9 119.6 332.0 119.4 332.1 119.3 332.2 118.3 332.3 118.1 332.4 118.2 332.5 118.0 332.6 117.6 332.7 117.9 332.8 115.9 332.9 116.7 333.0 116.3 333.1 115.6 333.2 115.3 333.3 115.5 333.4 115.0 333.5 114.3 333.6 115.1 333.7 113.9 333.8 114.1 333.9 113.6 334.0 113.5 334.1 112.8 334.2 113.1 334.3 113.0 334.4 111.7 334.5 112.1 334.6 111.2 334.7 109.8 334.8 110.5 334.9 109.5 335.0 109.4 335.1 109.1 335.2 107.9 335.3 107.7 335.4 106.7 335.5 106.4 335.6 109.2 335.7 111.5 335.8 113.6 335.9 116.3 336.0 118.0 336.1 121.0 336.2 125.4 336.3 126.0 336.4 125.0 336.5 125.1 336.6 126.8 336.7 126.2 336.8 126.1 336.9 126.1 337.0 127.7 337.1 126.1 337.2 125.9 337.3 127.3 337.4 126.4 337.5 127.0 337.6 127.7 337.7 129.1 337.8 128.2 337.9 127.9 338.0 128.3 338.1 128.3 338.2 128.8 338.3 128.5 338.4 129.1 338.5 128.4 338.6 130.3 338.7 129.4 338.8 130.1 338.9 129.9 339.0 130.8 339.1 131.1 339.2 129.4 339.3 130.6 339.4 129.6 339.5 131.0 339.6 131.9 339.7 132.0 339.8 131.6 339.9 132.2 340.0 132.0 340.1 131.4 340.2 130.0 340.3 131.1 340.5 130.4 340.6 130.5 340.7 130.5 340.8 129.7 340.9 130.4 341.0 129.5 341.1 128.8 341.2 130.4 341.3 128.8 341.4 130.8 341.5 129.4 341.6 130.0 341.7 128.5 341.8 130.2 341.9 129.9 342.0 129.7 342.1 128.9 342.2 128.4 342.3 129.0 342.4 130.0 342.5 128.6 342.6 130.0 342.7 128.5 342.8 129.5 342.9 128.1 343.0 128.6 343.1 128.8 343.2 129.0 343.3 128.9 343.4 128.4 343.5 127.3 343.6 128.2 343.7 130.1 343.8 129.5 343.9 129.2 344.0 127.5 344.1 128.4 344.2 128.0 344.3 128.2 344.4 127.4 344.5 127.1 344.6 127.8 344.7 127.8 344.8 126.6 344.9 128.0 345.0 127.7 345.1 127.0 345.2 126.1 345.3 127.3 345.4 125.5 345.5 125.0 345.6 126.7 345.7 126.6 345.8 124.3 345.9 125.5 346.0 124.1 346.1 125.2 346.2 125.1 346.3 124.9 346.4 124.6 346.5 124.3 346.6 123.6 346.7 124.1 346.8 123.4 346.9 123.2 347.0 122.4 347.1 123.2 347.2 122.4 347.3 124.0 347.4 122.9 347.5 122.7 347.6 122.9 347.7 123.5 347.8 121.8 347.9 122.4 348.0 122.7 348.1 122.5 348.2 122.9 348.3 122.9 348.4 122.8 348.5 122.7 348.6 123.6 348.7 123.3 348.8 123.4 348.9 122.4 349.0 122.1 349.1 122.4 349.2 121.8 349.3 124.2 349.4 123.6 349.5 122.7 349.6 123.0 349.7 123.2 349.8 123.5 349.9 123.2 350.0 124.7 350.1 123.7 350.2 124.5 350.3 124.2 350.4 123.1 350.5 123.3 350.6 123.4 350.7 124.8 350.8 124.8 350.9 124.4 351.0 123.9 351.1 124.1 351.2 125.4 351.3 124.3 351.4 126.1 351.5 126.1 351.6 125.9 351.7 126.2 351.8 125.7 351.9 125.4 352.0 127.1 352.1 126.2 352.2 126.5 352.3 126.8 352.4 126.0 352.5 125.7 352.6 125.6 352.7 126.1 352.8 126.2 352.9 127.8 353.0 126.1 353.1 125.5 353.2 126.1 353.3 126.7 353.4 126.6 353.5 126.3 353.6 126.2 353.7 126.5 353.8 126.8 353.9 127.2 354.0 126.2 354.1 126.7 354.2 125.4 354.3 125.4 354.4 125.7 354.5 127.4 354.6 125.8 354.7 126.0 354.8 126.0 354.9 127.0 355.0 126.5 355.1 125.9 355.2 127.4 355.3 125.8 355.4 126.2 355.5 126.4 355.6 126.7 355.7 126.3 355.8 126.5 355.9 126.8 356.0 125.5 356.1 126.1 356.2 126.7 356.3 125.6 356.4 125.0 356.5 124.9 356.6 126.1 356.7 125.7 356.8 124.6 356.9 125.4 357.0 124.5 357.1 125.5 357.2 124.4 357.3 124.8 357.4 124.6 357.5 125.1 357.6 125.7 357.7 124.6 357.8 124.6 357.9 124.8 358.0 123.7 358.1 125.0 358.2 123.8 358.3 124.1 358.4 124.4 358.5 124.1 358.6 125.1 358.7 123.5 358.8 123.8 358.9 122.9 359.0 122.9 359.1 123.2 359.2 123.4 359.3 122.7 359.4 124.2 359.5 123.7 359.6 122.3 359.7 122.4 359.8 121.6 359.9 121.8 360.0 121.6 360.1 122.0 360.2 121.0 360.3 121.8 360.4 122.0 360.5 122.4 360.6 121.1 360.7 120.9 360.8 122.2 360.9 120.7 361.0 122.4 361.1 121.3 361.2 122.3 361.3 121.5 361.4 122.1 361.5 121.2 361.6 120.8 361.7 121.1 361.8 121.1 361.9 120.3 362.0 121.4 362.1 121.9 362.2 121.4 362.3 120.3 362.4 121.7 362.5 120.8 362.6 120.9 362.7 121.9 362.8 121.3 362.9 121.8 363.0 120.9 363.1 121.3 363.2 122.4 363.3 122.0 363.4 122.1 363.5 122.0 363.6 121.8 363.7 122.5 363.8 121.1 363.9 122.7 364.0 122.2 364.1 122.2 364.2 121.8 364.3 122.3 364.4 122.6 364.5 121.8 364.6 123.6 364.7 123.3 364.8 123.1 364.9 122.9 365.0 123.3 365.1 124.5 365.2 123.5 365.3 124.4 365.4 124.2 365.5 125.0 365.6 124.4 365.7 125.2 365.8 125.1 365.9 125.0 366.0 125.1 366.1 125.0 366.2 125.6 366.3 126.9 366.4 126.1 366.5 125.7 366.6 125.5 366.7 126.5 366.8 126.1 366.9 126.9 367.0 126.7 367.1 127.0 367.2 127.0 367.3 126.3 367.4 126.8 367.5 127.1 367.6 127.9 367.7 127.5 367.8 128.0 367.9 127.6 368.0 127.0 368.1 127.4 368.2 127.5 368.3 128.1 368.4 127.8 368.5 127.4 368.6 127.1 368.7 127.6 368.8 127.3 368.9 127.6 369.0 127.2 369.1 126.8 369.2 127.0 369.3 127.9 369.4 127.6 369.5 127.2 369.6 127.3 369.7 125.7 369.8 126.3 369.9 126.3 370.0 126.1 370.1 126.5 370.2 125.5 370.3 125.5 370.4 125.2 370.5 125.7 370.6 124.8 370.7 124.7 370.8 125.4 370.9 124.4 371.0 124.4 371.1 124.2 371.2 124.4 371.3 124.8 371.4 124.3 371.5 124.3 371.6 124.6 371.7 123.4 371.8 123.9 371.9 123.4 372.0 123.1 372.1 123.7 372.2 123.8 372.3 124.6 372.4 122.7 372.5 124.0 372.6 123.5 372.7 123.5 372.8 124.6 372.9 122.8 373.0 123.6 373.1 123.3 373.2 122.2 373.3 122.4 373.4 123.2 373.5 123.9 373.6 122.9 373.7 124.4 373.8 123.4 373.9 122.9 374.0 123.4 374.1 123.3 374.2 123.7 374.3 123.7 374.4 124.4 374.5 124.8 374.6 124.6 374.7 124.0 374.8 123.9 374.9 123.8 375.0 124.0 375.1 124.1 375.2 124.2 375.3 124.8 375.4 125.2 375.5 125.0 375.6 124.1 375.7 125.2 375.8 125.4 375.9 124.5 376.0 125.4 376.1 124.8 376.2 126.0 376.3 126.2 376.4 125.9 376.5 126.4 376.6 126.0 376.7 126.5 376.8 126.4 376.9 127.7 377.0 126.0 377.1 127.7 377.2 127.2 377.3 128.4 377.4 126.2 377.5 127.0 377.6 127.3 377.7 128.5 377.8 127.8 377.9 128.5 378.0 129.0 378.1 129.1 378.2 129.1 378.3 128.9 378.4 130.1 378.5 129.4 378.6 129.8 378.7 129.4 378.8 129.6 378.9 129.1 379.0 131.0 379.1 130.2 379.2 130.2 379.3 131.0 379.4 130.8 379.5 129.7 379.6 130.4 379.7 130.9 379.8 131.9 379.9 131.6 380.0 131.9 380.1 131.8 380.2 131.5 380.3 130.9 380.4 132.3 380.5 132.0 380.6 131.6 380.7 132.9 380.8 132.2 380.9 131.4 381.0 131.5 381.1 131.8 381.2 131.3 381.3 133.4 381.4 132.3 381.5 131.9 381.6 131.2 381.7 132.3 381.8 132.3 381.9 132.2 382.0 131.8 382.1 132.4 382.2 132.3 382.3 132.2 382.4 132.3 382.5 132.5 382.6 133.3 382.7 132.4 382.8 133.0 382.9 133.1 383.0 132.2 383.1 132.4 383.2 132.9 383.3 132.8 383.4 131.6 383.5 131.4 383.6 131.8 383.7 131.5 383.8 131.8 383.9 132.4 384.0 131.4 384.1 132.6 384.2 132.9 384.3 132.0 384.4 131.5 384.5 130.6 384.6 131.0 384.7 131.5 384.8 131.0 384.9 131.8 385.0 130.4 385.1 130.8 385.2 130.7 385.3 131.3 385.4 130.9 385.5 131.1 385.6 131.5 385.7 130.6 385.8 130.2 385.9 130.2 386.0 130.7 386.1 130.3 386.2 130.8 386.3 130.8 386.4 130.6 386.5 130.4 386.6 128.7 386.7 131.3 386.8 131.3 386.9 130.5 387.0 130.6 387.1 130.1 387.2 129.8 387.3 130.3 387.4 129.3 387.5 130.0 387.6 130.8 387.7 130.7 387.8 130.3 387.9 131.6 388.0 131.5 388.1 132.2 388.2 131.1 388.3 131.6 388.4 131.8 388.5 131.5 388.6 133.8 388.7 132.5 388.8 132.7 388.9 133.1 389.0 133.8 389.1 133.5 389.2 133.4 389.3 133.3 389.4 134.5 389.5 134.8 389.6 134.5 389.7 135.2 389.8 135.6 389.9 136.5 390.0 135.7 390.1 136.7 390.2 135.4 390.3 137.0 390.4 136.6 390.5 137.2 390.6 137.3 390.7 138.7 390.8 138.3 390.9 138.4 391.0 138.6 391.1 137.9 391.2 138.5 391.3 139.5 391.4 139.6 391.5 140.4 391.6 139.5 391.7 139.4 391.8 140.4 391.9 140.1 392.0 140.3 392.1 139.5 392.2 138.9 392.3 139.0 392.4 138.2 392.5 139.6 392.6 138.3 392.7 139.1 392.8 137.8 392.9 137.0 393.0 136.9 393.1 136.8 393.2 137.0 393.3 136.5 393.4 136.5 393.5 137.0 393.6 135.9 393.7 134.7 393.8 135.4 393.9 134.1 394.0 134.5 394.1 134.9 394.2 133.6 394.3 134.0 394.4 132.9 394.5 133.4 394.6 132.5 394.7 132.5 394.8 131.8 394.9 131.6 395.0 131.4 395.1 130.7 395.2 130.9 395.3 130.5 395.4 129.3 395.5 130.3 395.6 129.4 395.7 128.9 395.8 129.0 395.9 128.0 396.0 127.3 396.1 127.6 396.2 127.3 396.3 126.0 396.4 125.7 396.5 126.2 396.6 125.9 396.7 125.1 396.8 125.6 396.9 124.1 397.0 123.5 397.1 122.6 397.2 122.0 397.3 122.0 397.4 121.4 397.5 121.3 397.6 120.7 397.7 119.9 397.8 119.4 397.9 120.6 398.0 119.1 398.1 118.3 398.2 118.3 398.3 117.9 398.4 118.4 398.5 119.4 398.6 119.1 398.7 118.9 398.8 118.3 398.9 118.7 399.0 119.3 399.1 119.1 399.2 119.6 399.3 119.6 399.4 119.6 399.5 120.5 399.6 120.3 399.7 120.9 399.8 120.7 399.9 121.6 400.0 120.3 400.1 121.0 400.2 122.1 400.3 121.9 400.4 121.3 400.5 121.5 400.6 121.9 400.7 124.2 400.8 122.3 400.9 123.1 401.0 122.5 401.1 123.4 401.2 122.1 401.3 124.0 401.4 124.2 401.5 123.0 401.6 123.4 401.7 124.3 401.8 125.0 401.9 125.3 402.0 125.2 402.1 125.1 402.2 125.0 402.3 126.6 402.4 127.1 402.5 126.2 402.6 126.4 402.7 125.9 402.8 126.8 402.9 128.2 403.0 127.8 403.1 127.9 403.2 127.9 403.3 127.3 403.4 129.8 403.5 130.2 403.6 128.1 403.7 130.6 403.8 129.6 403.9 129.8 404.0 130.7 404.1 131.3 404.2 131.2 404.3 131.7 404.4 132.0 404.5 133.0 404.6 132.6 404.7 133.8 404.8 134.0 404.9 133.8 405.0 133.3 405.1 134.6 405.2 132.9 405.3 133.5 405.4 132.4 405.5 133.4 405.6 133.0 405.7 132.4 405.8 132.4 405.9 132.6 406.0 132.4 406.1 131.4 406.2 131.6 406.3 131.6 406.4 132.1 406.5 131.3 406.6 132.4 406.7 131.8 406.8 131.9 406.9 131.2 407.0 131.2 407.1 130.5 407.2 129.6 407.3 130.2 407.4 130.1 407.5 130.2 407.6 129.9 407.7 130.0 407.8 129.5 407.9 129.6 408.0 129.1 408.1 129.8 408.2 128.9 408.3 128.4 408.4 129.0 408.5 128.1 408.6 126.6 408.7 128.7 408.8 126.9 408.9 127.1 409.0 127.4 409.1 126.2 409.2 125.8 409.3 125.5 409.4 125.5 409.5 125.3 409.6 125.4 409.7 124.8 409.8 124.6 409.9 122.8 410.0 123.2 410.1 121.9 410.2 122.1 410.3 122.4 410.4 121.5 410.5 121.3 410.6 121.0 410.7 120.6 410.8 120.2 410.9 119.8 411.0 119.7 411.1 118.7 411.2 119.7 411.3 117.2 411.4 117.0 411.5 118.3 411.6 116.9 411.7 118.1 411.8 118.4 411.9 118.9 412.0 119.1 412.1 117.7 412.2 117.7 412.3 118.3 412.4 117.2 412.5 118.4 412.6 118.4 412.7 117.6 412.8 118.1 412.9 118.1 413.0 118.3 413.1 117.5 413.2 117.8 413.3 118.3 413.4 118.8 413.5 119.1 413.6 118.7 413.7 117.5 413.8 118.9 413.9 118.0 414.0 118.2 414.1 118.4 414.2 117.7 414.3 118.8 414.4 118.1 414.5 119.1 414.6 119.2 414.7 119.6 414.8 119.0 414.9 120.1 415.0 119.7 415.1 119.0 415.2 119.1 415.3 120.1 415.4 120.6 415.5 120.3 415.6 119.9 415.7 119.6 415.8 121.2 415.9 120.7 416.0 120.6 416.1 120.9 416.2 120.7 416.3 122.2 416.4 121.8 416.5 121.4 416.6 123.6 416.7 122.1 416.8 122.2 416.9 122.7 417.0 122.8 417.1 124.5 417.2 123.5 417.3 123.6 417.4 125.4 417.5 125.1 417.6 124.2 417.7 126.1 417.8 125.2 417.9 125.4 418.0 126.5 418.1 126.1 418.2 126.0 418.3 126.5 418.4 127.3 418.5 126.2 418.6 127.6 418.7 127.9 418.8 126.4 418.9 126.9 419.0 127.4 419.1 127.3 419.2 128.5 419.3 128.6 419.4 128.1 419.5 129.4 419.6 128.7 419.7 128.9 419.8 129.9 419.9 129.5 420.0 129.0 420.1 130.0 420.2 129.4 420.3 129.2 420.4 130.6 420.5 130.7 420.6 130.4 420.7 131.0 420.8 131.3 420.9 130.3 421.0 130.8 421.1 131.5 421.2 130.2 421.3 131.1 421.4 130.8 421.5 132.1 421.6 132.1 421.7 131.2 421.8 132.4 421.9 130.1 422.0 131.2 422.1 132.1 422.2 132.4 422.3 132.0 422.4 132.5 422.5 132.2 422.6 131.5 422.7 132.5 422.8 132.7 422.9 132.2 423.0 131.6 423.1 131.9 423.2 132.0 423.3 131.3 423.4 132.4 423.5 131.0 423.6 131.2 423.7 131.2 423.8 130.7 423.9 131.0 424.0 131.1 424.1 131.5 424.2 131.8 424.3 131.5 424.4 130.3 424.5 130.4 424.6 131.4 424.7 131.2 424.8 130.6 424.9 131.7 425.0 131.0 425.1 131.6 425.2 133.2 425.3 133.1 425.4 133.6 425.5 133.3 425.6 133.1 425.7 133.8 425.8 134.1 425.9 134.7 426.0 134.6 426.1 135.3 426.2 135.2 426.3 135.0 426.4 135.4 426.5 136.2 426.6 135.8 426.7 137.6 426.8 136.7 426.9 136.4 427.0 137.6 427.1 139.6 427.2 138.9 427.3 140.1 427.4 142.3 427.5 141.4 427.6 143.2 427.7 144.6 427.8 144.3 427.9 146.7 428.0 148.9 428.1 148.9 428.2 148.9 428.3 150.4 428.4 152.0 428.5 150.5 428.6 151.2 428.7 149.0 428.8 148.5 428.9 146.9 429.0 145.8 429.1 146.1 429.2 144.8 429.3 143.1 429.4 143.2 429.5 142.3 429.6 142.1 429.7 140.6 429.8 139.7 429.9 138.7 430.0 138.1 430.1 136.7 430.2 135.2 430.3 136.0 430.4 134.4 430.5 133.6 430.6 133.6 430.7 133.0 430.8 133.4 430.9 131.8 431.0 131.7 431.1 130.7 431.2 131.8 431.3 131.3 431.4 131.2 431.5 131.4 431.6 129.3 431.7 129.1 431.8 129.2 431.9 128.5 432.0 128.4 432.1 127.5 432.2 127.6 432.3 127.5 432.4 126.6 432.5 126.3 432.6 125.6 432.7 125.6 432.8 125.5 432.9 123.2 433.0 124.2 433.1 122.7 433.2 122.6 433.3 122.2 433.4 122.5 433.5 121.7 433.6 120.5 433.7 120.4 433.8 119.0 433.9 119.1 434.0 119.3 434.1 118.2 434.2 117.2 434.3 118.2 434.4 116.2 434.5 115.9 434.6 116.6 434.7 114.0 434.8 114.5 434.9 113.2 435.0 115.1 435.1 113.6 435.2 111.7 435.3 111.6 435.4 111.0 435.5 111.1 435.6 110.8 435.7 111.9 435.8 110.1 435.9 112.1 436.0 110.9 436.1 110.9 436.2 111.6 436.3 110.8 436.4 111.9 436.5 109.5 436.6 111.1 436.7 110.0 436.8 110.9 436.9 110.7 437.0 109.8 437.1 110.0 437.2 110.3 437.3 108.8 437.4 110.2 437.5 109.5 437.6 109.2 437.7 109.2 437.8 109.9 437.9 109.3 438.0 107.9 438.1 108.8 438.2 109.6 438.3 108.6 438.4 109.0 438.5 108.8 438.6 108.2 438.7 109.2 438.8 109.1 438.9 108.0 439.0 108.5 439.1 109.1 439.2 108.2 439.3 108.4 439.4 107.6 439.5 107.5 439.6 108.2 439.7 107.5 439.8 109.0 439.9 109.3 440.0 109.7 440.1 110.1 440.2 110.6 440.3 110.4 440.4 111.9 440.5 111.5 440.6 112.5 440.7 113.0 440.8 114.2 440.9 113.9 441.0 114.2 441.1 114.6 441.2 114.5 441.3 116.0 441.4 116.4 441.5 117.6 441.6 118.1 441.7 118.4 441.8 117.8 441.9 118.3 442.0 120.0 442.1 119.8 442.2 120.9 442.3 120.3 442.4 121.7 442.5 122.4 442.6 123.7 442.7 123.5 442.8 123.6 442.9 124.5 443.0 125.6 443.1 126.3 443.2 126.0 443.3 126.6 443.4 127.0 443.5 127.9 443.6 128.3 443.7 128.2 443.8 129.2 443.9 129.5 444.0 130.7 444.1 130.9 444.2 131.2 444.3 133.2 444.4 131.7 444.5 133.8 444.6 133.4 444.7 135.1 444.8 136.3 444.9 135.8 445.0 136.1 445.1 136.8 445.2 137.4 445.3 138.4 445.4 138.1 445.5 139.0 445.6 140.0 445.7 139.8 445.8 142.2 445.9 142.1 446.0 142.8 446.1 142.2 446.2 143.5 446.3 144.3 446.4 143.9 446.5 142.4 446.6 142.2 446.7 141.9 446.8 141.4 446.9 141.2 447.0 139.3 447.1 139.8 447.2 139.7 447.3 139.6 447.4 138.7 447.5 138.2 447.6 137.5 447.7 135.8 447.8 135.8 447.9 135.6 448.0 135.0 448.1 132.9 448.2 133.1 448.3 132.9 448.4 131.8 448.5 131.8 448.6 131.2 448.7 131.1 448.8 129.0 448.9 130.0 449.0 127.9 449.1 128.0 449.2 127.0 449.3 126.3 449.4 126.1 449.5 124.5 449.6 124.7 449.7 123.5 449.8 122.1 449.9 121.9 450.0 122.3 450.1 120.4 450.2 120.2 450.3 118.4 450.4 119.0 450.5 117.6 450.6 116.9 450.7 116.0 450.8 115.0 450.9 114.2 451.0 113.9 451.1 113.6 451.2 113.1 451.3 112.8 451.4 111.8 451.5 110.6 451.6 108.9 451.7 109.2 451.8 107.8 451.9 108.3 452.0 107.2 452.1 106.3 452.2 105.1 452.3 105.0 452.4 104.2 452.5 103.4 452.6 102.0 452.7 101.8 452.8 101.2 452.9 101.5 453.0 101.8 453.1 102.9 453.2 102.8 453.3 102.6 453.4 103.4 453.5 103.5 453.6 105.0 453.7 104.6 453.8 105.0 453.9 105.0 454.0 106.4 454.1 107.6 454.2 106.1 454.3 107.7 454.4 108.0 454.5 107.8 454.6 106.9 454.7 109.7 454.8 109.6 454.9 109.9 455.0 109.9 455.1 110.6 455.2 111.1 455.3 112.0 455.4 112.4 455.5 112.5 455.6 114.2 455.7 113.8 455.8 114.8 455.9 115.7 456.0 114.9 456.1 115.4 456.2 116.5 456.3 116.7 456.4 117.5 456.5 118.7 456.6 119.7 456.7 119.5 456.8 121.2 456.9 120.1 457.0 121.6 457.1 122.1 457.2 122.2 457.3 123.0 457.4 122.2 457.5 123.5 457.6 125.0 457.7 124.9 457.8 124.8 457.9 125.5 458.0 125.5 458.1 126.7 458.2 126.9 458.3 127.3 458.4 128.4 458.5 128.3 458.6 127.5 458.7 129.1 458.8 129.5 458.9 131.1 459.0 130.4 459.1 131.2 459.2 131.1 459.3 132.0 459.4 131.9 459.5 130.8 459.6 130.9 459.7 131.1 459.8 130.2 459.9 130.9 460.0 130.4 460.1 131.1 460.2 129.9 460.3 130.0 460.4 130.0 460.5 129.5 460.6 128.6 460.7 128.9 460.8 128.2 460.9 128.5 461.0 128.0 461.1 127.9 461.2 129.0 461.3 127.9 461.4 127.8 461.5 127.5 461.6 127.5 461.7 126.5 461.8 126.9 461.9 125.3 462.0 126.8 462.1 124.8 462.2 125.5 462.3 124.8 462.4 125.4 462.5 124.9 462.6 124.9 462.7 124.6 462.8 125.1 462.9 122.9 463.0 123.3 463.1 123.1 463.2 124.1 463.3 123.3 463.4 122.7 463.5 122.0 463.6 122.1 463.7 121.4 463.8 122.7 463.9 121.7 464.0 121.6 464.1 121.2 464.2 120.8 464.3 120.0 464.4 119.7 464.5 120.3 464.6 120.4 464.7 119.7 464.8 119.7 464.9 119.9 465.0 120.4 465.1 118.4 465.2 117.2 465.3 118.9 465.4 118.1 465.5 118.4 465.6 118.1 465.7 116.6 465.8 117.1 465.9 116.2 466.0 116.5 466.1 116.9 466.2 115.8 466.3 118.2 466.4 118.1 466.5 118.0 466.6 118.4 466.7 118.5 466.8 119.0 466.9 119.0 467.0 119.0 467.1 119.5 467.2 120.6 467.3 119.8 467.4 120.6 467.5 120.1 467.6 120.0 467.7 120.4 467.8 120.5 467.9 120.0 468.0 121.3 468.1 122.4 468.2 122.4 468.3 121.7 468.4 123.1 468.5 123.3 468.6 123.7 468.7 124.3 468.8 124.0 468.9 123.8 469.0 125.4 469.1 125.3 469.2 125.8 469.3 126.7 469.4 126.8 469.5 126.1 469.6 126.9 469.7 128.0 469.8 126.6 469.9 128.6 470.0 128.3 470.1 128.1 470.2 128.7 470.3 130.2 470.4 129.2 470.5 129.8 470.6 130.0 470.7 130.1 470.8 130.5 470.9 131.3 471.0 130.9 471.1 131.4 471.2 131.2 471.3 131.8 471.4 132.5 471.5 133.6 471.6 133.8 471.7 133.2 471.8 135.0 471.9 134.9 472.0 135.8 472.1 135.7 472.2 136.3 472.3 136.7 472.4 136.4 472.5 136.2 472.6 136.0 472.7 136.6 472.8 135.8 472.9 135.3 473.0 136.2 473.1 135.5 473.2 135.8 473.3 135.1 473.4 135.4 473.5 134.9 473.6 134.7 473.7 135.1 473.8 135.7 473.9 134.9 474.0 134.4 474.1 133.8 474.2 133.7 474.3 134.0 474.4 132.7 474.5 133.0 474.6 131.8 474.7 132.1 474.8 131.4 474.9 132.4 475.0 132.1 475.1 132.8 475.2 131.0 475.3 131.2 475.4 131.4 475.5 130.1 475.6 130.0 475.7 128.8 475.8 129.0 475.9 128.3 476.0 128.6 476.1 128.5 476.2 128.2 476.3 128.4 476.4 127.9 476.5 126.6 476.6 126.1 476.7 126.9 476.8 126.2 476.9 125.2 477.0 125.1 477.1 124.1 477.2 125.0 477.3 125.0 477.4 123.2 477.5 124.0 477.6 123.1 477.7 122.8 477.8 123.1 477.9 121.8 478.0 121.6 478.1 121.7 478.2 122.2 478.3 121.6 478.4 121.4 478.5 120.6 478.6 120.5 478.7 120.3 478.8 120.0 478.9 120.0 479.0 120.4 479.1 119.9 479.2 119.7 479.3 120.3 479.4 120.8 479.5 120.2 479.6 120.8 479.7 120.8 479.8 120.4 479.9 121.7 480.0 121.2 480.1 121.3 480.2 121.5 480.3 122.2 480.4 122.7 480.5 122.3 480.6 122.0 480.7 122.9 480.8 122.7 480.9 122.4 481.0 124.0 481.1 122.6 481.2 122.9 481.3 121.9 481.4 124.2 481.5 124.1 481.6 123.8 481.7 123.9 481.8 124.6 481.9 124.2 482.0 125.5 482.1 125.6 482.2 126.0 482.3 125.6 482.4 126.6 482.5 126.9 482.6 126.4 482.7 126.1 482.8 127.1 482.9 127.5 483.0 126.4 483.1 128.5 483.2 128.2 483.3 127.9 483.4 129.4 483.5 129.7 483.6 128.5 483.7 130.7 483.8 130.1 483.9 129.7 484.0 130.4 484.1 130.7 484.2 131.4 484.3 132.6 484.4 131.3 484.5 132.8 484.6 132.0 484.7 132.1 484.8 132.3 484.9 133.3 485.0 132.8 485.1 133.5 485.2 133.5 485.3 133.0 485.4 132.8 485.5 133.2 485.6 134.3 485.7 134.4 485.8 133.6 485.9 134.8 486.0 134.4 486.1 135.0 486.2 132.9 486.3 133.8 486.4 133.9 486.5 133.7 486.6 135.2 486.7 134.2 486.8 134.5 486.9 134.7 487.0 133.8 487.1 134.2 487.2 134.8 487.3 134.7 487.4 134.9 487.5 135.8 487.6 135.5 487.7 134.8 487.8 134.6 487.9 134.5 488.0 133.1 488.1 133.2 488.2 132.0 488.3 132.0 488.4 131.1 488.5 130.5 488.6 130.4 488.7 129.2 488.8 128.3 488.9 128.9 489.0 127.9 489.1 127.5 489.2 127.7 489.3 126.7 489.4 125.5 489.5 125.3 489.6 123.8 489.7 123.4 489.8 123.6 489.9 122.7 490.0 121.7 490.1 121.8 490.2 121.5 490.3 119.3 490.4 120.4 490.5 119.7 490.6 118.5 490.7 116.4 490.8 117.0 490.9 117.2 491.0 116.7 491.1 114.9 491.2 114.5 491.3 114.6 491.4 113.9 491.5 112.7 491.6 112.3 491.7 112.4 491.8 110.0 491.9 110.6 492.0 109.6 492.1 108.6 492.2 109.0 492.3 107.7 492.4 107.0 492.5 105.9 492.6 105.1 492.7 104.6 492.8 104.9 492.9 104.2 493.0 103.9 493.1 103.7 493.2 103.2 493.3 104.2 493.4 104.7 493.5 105.3 493.6 106.2 493.7 105.4 493.8 106.7 493.9 106.9 494.0 106.9 494.1 108.1 494.2 108.9 494.3 109.9 494.4 109.6 494.5 109.6 494.6 110.7 494.7 111.2 494.8 110.3 494.9 111.8 495.0 113.2 495.1 112.9 495.2 113.0 495.3 113.3 495.4 115.3 495.5 115.6 495.6 114.5 495.7 115.9 495.8 117.0 495.9 117.3 496.0 118.4 496.1 119.5 496.2 118.9 496.3 119.8 496.4 120.0 496.5 120.1 496.6 121.8 496.7 122.5 496.8 123.4 496.9 122.8 497.0 124.6 497.1 126.2 497.2 125.7 497.3 126.1 497.4 126.4 497.5 127.0 497.6 127.7 497.7 128.7 497.8 130.2 497.9 131.6 498.0 131.0 498.1 132.1 498.2 131.5 498.3 133.7 498.4 133.9 498.5 134.9 498.6 135.3 498.7 135.6 498.8 136.7 498.9 136.5 499.0 139.3 499.1 138.6 499.2 139.2 499.3 141.2 499.4 141.6 499.5 141.8 499.6 140.8 499.7 140.6 499.8 139.9 499.9 139.8 500.0 139.6 500.1 139.2 500.2 138.8 500.3 137.7 500.4 136.8 500.5 136.2 500.6 136.7 500.7 135.5 500.8 135.6 500.9 134.5 501.0 134.5 501.1 132.6 501.2 133.1 501.3 133.1 501.4 131.4 501.5 130.8 501.6 130.1 501.7 130.6 501.8 130.2 501.9 129.6 502.0 128.7 502.1 129.0 502.2 127.0 502.3 126.7 502.4 127.1 502.5 125.6 502.6 126.0 502.7 123.9 502.8 124.3 502.9 123.6 503.0 122.6 503.1 122.0 503.2 120.7 503.3 121.4 503.4 120.8 503.5 120.3 503.6 119.2 503.7 118.8 503.8 116.7 503.9 117.2 504.0 117.5 504.1 116.0 504.2 115.6 504.3 115.0 504.4 114.5 504.5 112.8 504.6 112.2 504.7 111.5 504.8 111.0 504.9 110.6 505.0 110.0 505.1 108.5 505.2 107.6 505.3 107.5 505.4 106.3 505.5 105.7 505.6 104.9 505.7 104.3 505.8 104.6 505.9 103.1 506.0 102.5 506.1 101.8 506.2 102.6 506.3 102.1 506.4 103.0 506.5 104.3 506.6 103.8 506.7 104.5 506.8 104.1 506.9 106.2 507.0 105.9 507.1 106.4 507.2 107.3 507.3 106.8 507.4 107.7 507.5 108.3 507.6 107.9 507.7 108.8 507.8 109.8 507.9 109.7 508.0 110.2 508.1 111.0 508.2 110.7 508.3 111.6 508.4 112.5 508.5 113.9 508.6 113.1 508.7 114.1 508.8 115.7 508.9 114.5 509.0 115.2 509.1 117.4 509.2 116.6 509.3 116.3 509.4 117.9 509.5 117.1 509.6 118.9 509.7 119.6 509.8 119.6 509.9 121.4 510.0 120.7 510.1 121.4 510.2 122.1 510.3 123.0 510.4 124.4 510.5 124.1 510.6 124.4 510.7 124.3 510.8 125.8 510.9 126.3 511.0 126.7 511.1 127.0 511.2 127.6 511.3 128.6 511.4 129.8 511.5 130.8 511.6 130.8 511.7 131.7 511.8 131.7 511.9 132.3 512.0 133.5 512.1 134.3 512.2 135.0 512.3 134.7 512.4 135.5 512.5 137.0 512.6 137.2 512.7 137.9 512.8 138.2 512.9 139.1 513.0 139.5 513.1 140.5 513.2 141.2 513.3 142.4 513.4 143.3 513.5 143.2 513.6 143.7 513.7 144.9 513.8 145.5 513.9 145.5 514.0 145.0 514.1 144.3 514.2 145.2 514.3 145.4 514.4 143.8 514.5 143.6 514.6 144.0 514.7 143.8 514.8 144.7 514.9 143.5 515.0 143.4 515.1 142.6 515.2 143.2 515.3 142.7 515.4 143.6 515.5 142.5 515.6 140.8 515.7 141.8 515.8 141.7 515.9 142.8 516.0 142.0 516.1 142.3 516.2 141.1 516.3 140.1 516.4 141.5 516.5 141.0 516.6 140.6 516.7 140.0 516.8 139.6 516.9 139.0 517.0 138.8 517.1 138.0 517.2 137.6 517.3 137.2 517.4 138.0 517.5 137.1 517.6 137.4 517.7 137.3 517.8 136.8 517.9 136.7 518.0 136.2 518.1 135.7 518.2 134.7 518.3 135.5 518.4 135.0 518.5 133.4 518.6 134.2 518.7 134.1 518.8 133.3 518.9 132.9 519.0 131.8 519.1 131.4 519.2 131.6 519.3 131.5 519.4 130.5 519.5 131.4 519.6 131.4 519.7 129.9 519.8 129.6 519.9 129.7 520.0 129.6 520.1 127.9 520.2 128.7 520.3 127.4 520.4 127.3 520.5 125.6 520.6 126.5 520.7 125.8 520.8 125.3 520.9 125.6 521.0 125.0 521.1 125.0 521.2 124.0 521.3 123.9 521.4 122.7 521.5 124.0 521.6 123.4 521.7 122.2 521.8 122.2 521.9 121.2 522.0 121.3 522.1 121.3 522.2 121.0 522.3 120.5 522.4 120.6 522.5 119.9 522.6 119.4 522.7 118.3 522.8 119.5 522.9 118.5 523.0 118.5 523.1 118.3 523.2 119.2 523.3 117.5 523.4 117.5 523.5 117.6 523.6 116.8 523.7 116.8 523.8 116.6 523.9 116.9 524.0 116.9 524.1 116.4 524.2 117.8 524.3 118.3 524.4 117.1 524.5 116.4 524.6 116.7 524.7 117.4 524.8 117.5 524.9 118.7 525.0 116.9 525.1 117.4 525.2 118.2 525.3 118.3 525.4 117.4 525.5 117.8 525.6 118.7 525.7 117.7 525.8 118.7 525.9 118.6 526.0 118.6 526.1 118.7 526.2 118.5 526.3 119.3 526.4 119.3 526.5 119.2 526.6 119.4 526.7 119.6 526.8 119.1 526.9 119.5 527.0 119.1 527.1 120.1 527.2 119.3 527.3 119.7 527.4 120.6 527.5 121.2 527.6 120.9 527.7 121.8 527.8 121.1 527.9 120.6 528.0 120.9 528.1 122.6 528.2 122.3 528.3 121.8 528.4 122.5 528.5 122.3 528.6 122.2 528.7 122.7 528.8 122.7 528.9 123.7 529.0 123.5 529.1 124.1 529.2 123.3 529.3 124.6 529.4 124.1 529.5 123.7 529.6 124.4 529.7 125.6 529.8 125.2 529.9 125.7 530.0 125.9 530.1 125.6 530.2 125.5 530.3 126.0 530.4 126.5 530.5 125.6 530.6 127.1 530.7 125.7 530.8 126.1 530.9 126.1 531.0 125.8 531.1 127.8 531.2 127.2 531.3 127.7 531.4 127.4 531.5 127.5 531.6 127.1 531.7 126.5 531.8 127.7 531.9 128.1 532.0 128.3 532.1 127.9 532.2 127.7 532.3 127.8 532.4 127.9 532.5 127.7 532.6 128.3 532.7 128.5 532.8 127.1 532.9 128.4 533.0 129.1 533.1 127.9 533.2 127.7 533.3 128.3 533.4 127.9 533.5 128.2 533.6 128.4 533.7 128.5 533.8 129.1 533.9 128.8 534.0 127.9 534.1 127.6 534.2 127.7 534.3 128.1 534.4 128.0 534.5 128.7 534.6 128.1 534.7 127.5 534.8 127.1 534.9 128.1 535.0 126.8 535.1 125.8 535.2 126.1 535.3 125.9 535.4 125.9 535.5 126.3 535.6 125.7 535.7 125.8 535.8 124.7 535.9 125.6 536.0 124.9 536.1 123.7 536.2 124.7 536.3 123.4 536.4 124.0 536.5 124.7 536.6 124.2 536.7 123.5 536.8 122.5 536.9 122.8 537.0 123.0 537.1 123.3 537.2 123.7 537.3 121.7 537.4 122.9 537.5 123.5 537.6 123.0 537.7 122.3 537.8 122.1 537.9 122.3 538.0 121.8 538.1 122.2 538.2 121.7 538.3 122.3 538.4 122.3 538.5 122.6 538.6 123.3 538.7 121.7 538.8 122.0 538.9 122.1 539.0 121.8 539.1 122.1 539.2 122.7 539.3 121.8 539.4 121.5 539.5 121.4 539.6 121.1 539.7 122.3 539.8 122.3 539.9 121.6 540.0 120.7 540.1 122.1 540.2 121.4 540.3 121.9 540.4 122.2 540.6 122.4 540.7 122.3 540.8 121.9 540.9 122.8 541.0 122.1 541.1 122.6 541.2 122.3 541.3 120.8 541.4 122.1 541.5 123.4 541.6 122.5 541.7 123.5 541.8 123.0 541.9 122.3 542.0 122.7 542.1 123.8 542.2 123.8 542.3 123.6 542.4 123.4 542.5 124.6 542.6 123.6 542.7 123.5 542.8 123.0 542.9 123.5 543.0 124.0 543.1 124.0 543.2 123.7 543.3 125.0 543.4 124.8 543.5 123.8 543.6 124.8 543.7 124.8 543.8 124.8 543.9 124.7 544.0 124.1 544.1 124.8 544.2 124.2 544.3 124.8 544.4 124.9 544.5 124.7 544.6 125.5 544.7 124.5 544.8 124.9 544.9 124.5 545.0 124.7 545.1 124.3 545.2 123.9 545.3 123.8 545.4 124.1 545.5 124.7 545.6 124.5 545.7 125.0 545.8 125.4 545.9 123.0 546.0 124.3 546.1 123.3 546.2 122.5 546.3 122.5 546.4 122.8 546.5 122.3 546.6 123.0 546.7 122.4 546.8 122.2 546.9 121.2 547.0 122.1 547.1 121.9 547.2 121.8 547.3 121.4 547.4 120.7 547.5 120.6 547.6 120.1 547.7 120.6 547.8 119.9 547.9 120.4 548.0 119.7 548.1 119.4 548.2 119.7 548.3 119.9 548.4 120.0 548.5 119.2 548.6 118.3 548.7 118.8 548.8 118.4 548.9 117.9 549.0 117.9 549.1 117.6 549.2 118.0 549.3 117.0 549.4 116.5 549.5 116.3 549.6 116.6 549.7 116.3 549.8 116.5 549.9 115.2 550.0 115.9 550.1 116.0 550.2 114.6 550.3 115.1 550.4 114.7 550.5 114.8 550.6 114.7 550.7 112.5 550.8 113.0 550.9 113.9 551.0 113.6 551.1 113.5 551.2 113.3 551.3 112.6 551.4 112.7 551.5 113.3 551.6 113.0 551.7 112.7 551.8 112.0 551.9 112.8 552.0 112.1 552.1 111.2 552.2 111.8 552.3 111.4 552.4 110.4 552.5 111.6 552.6 111.4 552.7 110.6 552.8 112.4 552.9 110.0 553.0 110.3 553.1 108.9 553.2 109.8 553.3 111.3 553.4 109.5 553.5 110.2 553.6 110.1 553.7 110.5 553.8 109.8 553.9 110.3 554.0 109.8 554.1 108.4 554.2 110.3 554.3 110.1 554.4 110.9 554.5 111.3 554.6 110.9 554.7 112.1 554.8 112.3 554.9 113.0 555.0 113.5 555.1 113.4 555.2 113.5 555.3 114.5 555.4 114.8 555.5 115.6 555.6 116.5 555.7 115.6 555.8 116.4 555.9 117.2 556.0 118.5 556.1 118.1 556.2 117.9 556.3 118.3 556.4 119.5 556.5 119.4 556.6 119.4 556.7 120.6 556.8 120.4 556.9 120.2 557.0 121.1 557.1 122.3 557.2 122.2 557.3 122.9 557.4 123.9 557.5 123.2 557.6 124.4 557.7 124.9 557.8 125.1 557.9 125.5 558.0 125.6 558.1 127.1 558.2 127.0 558.3 125.7 558.4 127.7 558.5 127.8 558.6 129.9 558.7 129.5 558.8 129.5 558.9 128.7 559.0 131.0 559.1 130.5 559.2 131.0 559.3 131.6 559.4 131.4 559.5 131.7 559.6 133.3 559.7 131.5 559.8 132.7 559.9 133.8 560.0 133.5 560.1 132.8 560.2 133.5 560.3 134.8 560.4 134.9 560.5 134.8 560.6 135.8 560.7 134.9 560.8 136.0 560.9 135.4 561.0 134.3 561.1 134.5 561.2 135.1 561.3 134.1 561.4 134.5 561.5 135.0 561.6 133.4 561.7 133.8 561.8 134.0 561.9 133.5 562.0 132.8 562.1 132.6 562.2 131.7 562.3 132.5 562.4 131.8 562.5 131.7 562.6 131.9 562.7 131.1 562.8 131.2 562.9 132.4 563.0 131.5 563.1 131.0 563.2 129.6 563.3 129.7 563.4 129.5 563.5 130.3 563.6 130.2 563.7 129.5 563.8 128.8 563.9 128.3 564.0 128.6 564.1 128.8 564.2 127.6 564.3 127.0 564.4 128.8 564.5 127.8 564.6 127.7 564.7 127.5 564.8 127.2 564.9 126.6 565.0 127.3 565.1 127.3 565.2 127.9 565.3 127.3 565.4 126.6 565.5 126.8 565.6 125.9 565.7 126.3 565.8 126.5 565.9 125.2 566.0 125.9 566.1 125.8 566.2 125.9 566.3 125.9 566.4 126.2 566.5 125.0 566.6 126.4 566.7 125.1 566.8 125.0 566.9 125.9 567.0 125.4 567.1 125.1 567.2 124.9 567.3 125.9 567.4 125.3 567.5 125.1 567.6 125.4 567.7 124.7 567.8 124.6 567.9 124.5 568.0 125.2 568.1 124.8 568.2 125.2 568.3 125.1 568.4 126.0 568.5 124.6 568.6 125.0 568.7 124.4 568.8 124.5 568.9 125.0 569.0 125.2 569.1 125.0 569.2 125.5 569.3 124.3 569.4 123.4 569.5 125.0 569.6 125.4 569.7 124.7 569.8 125.1 569.9 125.4 570.0 125.9 570.1 124.4 570.2 125.9 570.3 124.6 570.4 124.7 570.5 125.5 570.6 125.3 570.7 126.1 570.8 126.3 570.9 124.8 571.0 125.7 571.1 125.5 571.2 125.8 571.3 125.8 571.4 125.4 571.5 125.7 571.6 125.8 571.7 126.2 571.8 125.5 571.9 126.0 572.0 125.9 572.1 126.2 572.2 126.6 572.3 127.0 572.4 126.4 572.5 125.9 572.6 127.1 572.7 127.0 572.8 126.5 572.9 128.2 573.0 127.0 573.1 126.9 573.2 127.2 573.3 127.8 573.4 127.3 573.5 126.3 573.6 126.7 573.7 127.0 573.8 126.8 573.9 126.9 574.0 127.1 574.1 126.5 574.2 127.3 574.3 125.7 574.4 126.2 574.5 127.7 574.6 126.9 574.7 127.3 574.8 126.6 574.9 125.3 575.0 126.1 575.1 125.6 575.2 125.9 575.3 126.3 575.4 126.1 575.5 126.5 575.6 126.2 575.7 125.7 575.8 126.2 575.9 125.3 576.0 125.9 576.1 125.4 576.2 125.6 576.3 124.8 576.4 125.1 576.5 124.6 576.6 124.4 576.7 124.8 576.8 124.1 576.9 122.4 577.0 124.7 577.1 124.3 577.2 123.7 577.3 122.6 577.4 121.8 577.5 122.8 577.6 122.1 577.7 122.0 577.8 122.5 577.9 121.6 578.0 121.8 578.1 120.7 578.2 122.3 578.3 121.0 578.4 120.7 578.5 120.1 578.6 120.6 578.7 120.2 578.8 120.3 578.9 119.7 579.0 119.4 579.1 119.3 579.2 119.1 579.3 120.3 579.4 119.8 579.5 119.8 579.6 119.6 579.7 119.5 579.8 119.3 579.9 118.9 580.0 119.9 580.1 119.3 580.2 118.6 580.3 118.6 580.4 118.3 580.5 119.6 580.6 119.0 580.7 118.7 580.8 118.9 580.9 119.9 581.0 119.6 581.1 119.2 581.2 121.7 581.3 119.9 581.4 120.5 581.5 120.5 581.6 119.8 581.7 119.7 581.8 119.5 581.9 120.2 582.0 119.4 582.1 119.5 582.2 121.8 582.3 120.8 582.4 121.1 582.5 120.8 582.6 119.7 582.7 120.7 582.8 120.6 582.9 121.3 583.0 122.7 583.1 121.8 583.2 122.4 583.3 122.5 583.4 122.7 583.5 122.7 583.6 123.5 583.7 124.3 583.8 123.3 583.9 124.6 584.0 123.9 584.1 125.0 584.2 125.4 584.3 124.8 584.4 124.1 584.5 125.7 584.6 125.1 584.7 125.2 584.8 125.4 584.9 125.8 585.0 125.3 585.1 125.6 585.2 125.1 585.3 126.5 585.4 125.2 585.5 126.1 585.6 125.7 585.7 125.3 585.8 125.0 585.9 125.5 586.0 125.4 586.1 125.0 586.2 126.2 586.3 126.7 586.4 126.3 586.5 125.3 586.6 125.8 586.7 126.2 586.8 126.0 586.9 126.0 587.0 126.0 587.1 126.2 587.2 125.2 587.3 125.1 587.4 125.9 587.5 124.4 587.6 125.4 587.7 125.2 587.8 125.6 587.9 124.7 588.0 125.4 588.1 125.1 588.2 124.4 588.3 124.3 588.4 124.2 588.5 124.6 588.6 124.1 588.7 123.6 588.8 124.0 588.9 124.4 589.0 124.8 589.1 124.6 589.2 122.8 589.3 123.9 589.4 124.2 589.5 123.5 589.6 124.6 589.7 124.0 589.8 124.1 589.9 124.3 590.0 123.1 590.1 124.6 590.2 123.6 590.3 123.9 590.4 123.7 590.5 123.5 590.6 122.9 590.7 123.0 590.8 123.1 590.9 123.4 591.0 123.7 591.1 123.6 591.2 123.7 591.3 123.1 591.4 122.7 591.5 124.5 591.6 123.4 591.7 124.0 591.8 122.7 591.9 122.5 592.0 123.1 592.1 122.4 592.2 123.9 592.3 123.2 592.4 124.2 592.5 123.3 592.6 123.4 592.7 123.9 592.8 122.9 592.9 123.7 593.0 122.8 593.1 124.9 593.2 123.0 593.3 124.0 593.4 124.5 593.5 124.1 593.6 123.4 593.7 123.6 593.8 123.7 593.9 125.3 594.0 124.2 594.1 124.5 594.2 125.2 594.3 124.8 594.4 124.6 594.5 125.3 594.6 125.1 594.7 125.0 594.8 125.1 594.9 125.5 595.0 126.1 595.1 126.5 595.2 125.9 595.3 127.5 595.4 124.9 595.5 126.1 595.6 126.4 595.7 126.7 595.8 127.3 595.9 127.0 596.0 126.9 596.1 126.4 596.2 127.4 596.3 127.0 596.4 125.8 596.5 126.4 596.6 127.3 596.7 127.8 596.8 127.6 596.9 128.1 597.0 127.3 597.1 127.2 597.2 127.5 597.3 126.0 597.4 128.2 597.5 127.4 597.6 128.3 597.7 128.3 597.8 128.2 597.9 127.0 598.0 126.9 598.1 127.9 598.2 127.5 598.3 127.9 598.4 127.5 598.5 128.7 598.6 126.4 598.7 127.6 598.8 127.3 598.9 126.8 599.0 127.2 599.1 127.7 599.2 127.1 599.3 127.3 599.4 127.0 599.5 128.0 599.6 127.1 599.7 126.6 599.8 128.6 599.9 126.7 600.0 127.1 600.1 128.3 600.2 127.3 600.3 126.5 600.4 128.1 600.5 125.9 600.6 127.2 600.7 126.9 600.8 126.6 600.9 126.6 601.0 126.5 601.1 127.1 601.2 126.9 601.3 127.4 601.4 126.2 601.5 126.8 601.6 127.5 601.7 127.1 601.8 126.8 601.9 126.6 602.0 128.1 602.1 126.6 602.2 126.3 602.3 126.9 602.4 127.1 602.5 127.4 602.6 126.6 602.7 126.8 602.8 126.6 602.9 127.1 603.0 128.1 603.1 126.9 603.2 127.2 603.3 126.5 603.4 128.5 603.5 127.9 603.6 127.3 603.7 127.7 603.8 128.0 603.9 127.0 604.0 127.3 604.1 128.1 604.2 127.7 604.3 128.2 604.4 128.6 604.5 128.9 604.6 127.8 604.7 127.5 604.8 128.7 604.9 127.7 605.0 127.1 605.1 127.0 605.2 128.4 605.3 127.9 605.4 128.3 605.5 128.0 605.6 128.5 605.7 127.7 605.8 128.6 605.9 128.5 606.0 128.6 606.1 129.1 606.2 128.7 606.3 129.6 606.4 130.2 606.5 128.7 606.6 130.3 606.7 129.3 606.8 130.0 606.9 128.9 607.0 129.0 607.1 130.3 607.2 130.1 607.3 129.9 607.4 130.8 607.5 130.5 607.6 130.6 607.7 130.9 607.8 129.9 607.9 131.0 608.0 130.6 608.1 130.5 608.2 131.7 608.3 132.1 608.4 131.2 608.5 132.4 608.6 131.1 608.7 131.7 608.8 132.0 608.9 130.9 609.0 130.9 609.1 130.3 609.2 131.2 609.3 130.0 609.4 131.1 609.5 130.7 609.6 129.8 609.7 129.3 609.8 130.2 609.9 129.4 610.0 129.4 610.1 130.1 610.2 129.0 610.3 129.9 610.4 129.0 610.5 129.1 610.6 130.0 610.7 127.9 610.8 128.7 610.9 129.4 611.0 128.5 611.1 127.3 611.2 127.1 611.3 128.2 611.4 127.0 611.5 128.2 611.6 126.9 611.7 126.9 611.8 126.5 611.9 125.7 612.0 127.0 612.1 127.5 612.2 126.3 612.3 126.2 612.4 125.5 612.5 125.4 612.6 125.2 612.7 125.6 612.8 124.5 612.9 124.1 613.0 125.4 613.1 125.0 613.2 124.4 613.3 123.5 613.4 124.5 613.5 124.4 613.6 124.1 613.7 123.7 613.8 123.2 613.9 122.7 614.0 122.0 614.1 123.1 614.2 122.1 614.3 121.8 614.4 123.8 614.5 121.5 614.6 121.2 614.7 121.1 614.8 122.4 614.9 121.2 615.0 121.3 615.1 120.7 615.2 119.8 615.3 119.1 615.4 119.5 615.5 120.0 615.6 118.8 615.7 118.6 615.8 118.7 615.9 118.1 616.0 119.1 616.1 119.1 616.2 116.7 616.3 117.2 616.4 115.9 616.5 116.2 616.6 115.0 616.7 115.7 616.8 115.3 616.9 114.9 617.0 115.9 617.1 114.5 617.2 114.7 617.3 114.7 617.4 115.1 617.5 115.5 617.6 115.2 617.7 114.4 617.8 114.9 617.9 114.9 618.0 115.7 618.1 115.1 618.2 115.2 618.3 114.8 618.4 115.1 618.5 116.3 618.6 117.1 618.7 117.2 618.8 116.5 618.9 115.6 619.0 116.1 619.1 117.7 619.2 116.1 619.3 117.1 619.4 117.3 619.5 115.9 619.6 117.5 619.7 116.9 619.8 117.8 619.9 118.3 620.0 117.6 620.1 117.7 620.2 118.8 620.3 118.4 620.4 119.2 620.5 117.6 620.6 118.7 620.7 119.7 620.8 120.0 620.9 119.2 621.0 118.7 621.1 118.7 621.2 119.3 621.3 120.3 621.4 119.6 621.5 120.2 621.6 120.5 621.7 120.5 621.8 120.9 621.9 121.0 622.0 121.8 622.1 121.4 622.2 121.4 622.3 122.5 622.4 121.8 622.5 121.7 622.6 122.5 622.7 122.8 622.8 123.8 622.9 123.1 623.0 123.9 623.1 122.1 623.2 123.7 623.3 123.8 623.4 124.8 623.5 124.6 623.6 124.4 623.7 125.5 623.8 123.9 623.9 125.8 624.0 124.8 624.1 125.6 624.2 126.0 624.3 125.4 624.4 125.5 624.5 126.5 624.6 125.6 624.7 126.7 624.8 127.1 624.9 126.8 625.0 126.5 625.1 126.9 625.2 125.6 625.3 127.5 625.4 127.0 625.5 126.7 625.6 128.1 625.7 127.6 625.8 126.7 625.9 126.8 626.0 127.3 626.1 126.7 626.2 127.1 626.3 127.2 626.4 127.4 626.5 128.0 626.6 127.2 626.7 127.8 626.8 127.6 626.9 126.8 627.0 127.4 627.1 126.8 627.2 127.5 627.3 126.9 627.4 126.7 627.5 126.4 627.6 127.5 627.7 126.2 627.8 127.8 627.9 127.7 628.0 126.6 628.1 127.3 628.2 126.0 628.3 127.2 628.4 127.5 628.5 127.5 628.6 127.4 628.7 126.8 628.8 127.4 628.9 127.6 629.0 125.3 629.1 127.4 629.2 127.0 629.3 126.3 629.4 128.5 629.5 127.6 629.6 127.4 629.7 127.7 629.8 127.6 629.9 127.6 630.0 127.2 630.1 127.4 630.2 127.3 630.3 128.7 630.4 127.6 630.5 127.8 630.6 128.2 630.7 128.3 630.8 127.1 630.9 127.4 631.0 127.0 631.1 127.5 631.2 128.7 631.3 129.3 631.4 128.5 631.5 128.5 631.6 130.4 631.7 128.6 631.8 129.7 631.9 129.1 632.0 128.9 632.1 129.3 632.2 128.3 632.3 128.3 632.4 128.4 632.5 128.9 632.6 128.6 632.7 129.1 632.8 128.6 632.9 128.7 633.0 128.8 633.1 128.6 633.2 129.4 633.3 128.1 633.4 128.2 633.5 128.7 633.6 128.0 633.7 128.0 633.8 128.2 633.9 128.0 634.0 127.1 634.1 127.8 634.2 127.9 634.3 127.4 634.4 127.8 634.5 127.7 634.6 127.6 634.7 127.0 634.8 126.7 634.9 126.9 635.0 126.0 635.1 126.4 635.2 126.6 635.3 125.9 635.4 126.9 635.5 126.1 635.6 124.9 635.7 126.1 635.8 127.3 635.9 126.6 636.0 125.9 636.1 125.0 636.2 125.5 636.3 126.1 636.4 124.1 636.5 125.7 636.6 125.0 636.7 126.2 636.8 125.8 636.9 125.5 637.0 124.5 637.1 125.1 637.2 124.8 637.3 124.7 637.4 123.8 637.5 123.0 637.6 125.0 637.7 123.8 637.8 123.0 637.9 123.2 638.0 122.7 638.1 123.2 638.2 122.6 638.3 122.2 638.4 123.4 638.5 123.4 638.6 121.6 638.7 122.8 638.8 121.0 638.9 121.7 639.0 122.3 639.1 121.7 639.2 121.1 639.3 121.1 639.4 120.3 639.5 121.0 639.6 120.8 639.7 120.3 639.8 119.8 639.9 119.5 640.0 119.9 640.1 119.0 640.2 119.1 640.3 119.1 640.4 119.0 640.5 120.3 640.6 120.8 640.7 120.4 640.8 120.7 640.9 120.9 641.0 120.5 641.1 121.1 641.2 121.4 641.3 121.1 641.4 121.6 641.5 120.9 641.6 122.1 641.7 122.1 641.8 122.4 641.9 122.3 642.0 122.2 642.1 122.9 642.2 123.4 642.3 121.7 642.4 122.6 642.5 124.1 642.6 123.6 642.7 123.7 642.8 123.6 642.9 123.6 643.0 124.0 643.1 123.0 643.2 122.7 643.3 123.9 643.4 124.7 643.5 124.9 643.6 125.0 643.7 125.9 643.8 125.0 643.9 125.6 644.0 125.2 644.1 126.0 644.2 126.4 644.3 125.9 644.4 126.8 644.5 127.4 644.6 127.0 644.7 127.3 644.8 127.2 644.9 128.1 645.0 126.5 645.1 126.9 645.2 128.3 645.3 128.1 645.4 129.0 645.5 128.6 645.6 128.7 645.7 128.9 645.8 128.9 645.9 129.6 646.0 129.5 646.1 129.4 646.2 129.7 646.3 130.7 646.4 130.4 646.5 130.6 646.6 130.8 646.7 129.9 646.8 129.1 646.9 129.0 647.0 127.6 647.1 128.0 647.2 128.1 647.3 126.5 647.4 126.1 647.5 125.7 647.6 126.7 647.7 124.6 647.8 125.3 647.9 125.2 648.0 125.5 648.1 123.9 648.2 123.3 648.3 122.4 648.4 121.7 648.5 122.2 648.6 121.7 648.7 121.1 648.8 120.7 648.9 120.2 649.0 119.2 649.1 119.7 649.2 118.3 649.3 118.3 649.4 117.9 649.5 116.1 649.6 116.3 649.7 116.5 649.8 115.5 649.9 115.6 650.0 114.5 650.1 115.4 650.2 114.7 650.3 113.5 650.4 113.2 650.5 113.3 650.6 112.8 650.7 113.1 650.8 113.3 650.9 112.8 651.0 112.6 651.1 113.4 651.2 114.1 651.3 113.9 651.4 115.3 651.5 115.8 651.6 115.7 651.7 114.9 651.8 115.7 651.9 115.6 652.0 117.3 652.1 116.5 652.2 117.0 652.3 116.9 652.4 117.3 652.5 118.2 652.6 117.7 652.7 118.4 652.8 118.0 652.9 119.0 653.0 118.5 653.1 118.5 653.2 118.3 653.3 119.6 653.4 119.8 653.5 119.0 653.6 119.5 653.7 120.4 653.8 120.4 653.9 120.2 654.0 121.6 654.1 121.1 654.2 120.9 654.3 121.0 654.4 121.3 654.5 121.9 654.6 123.0 654.7 122.6 654.8 121.8 654.9 122.3 655.0 123.2 655.1 123.0 655.2 123.4 655.3 123.8 655.4 124.4 655.5 124.2 655.6 123.1 655.7 124.6 655.8 124.2 655.9 124.2 656.0 125.3 656.1 125.7 656.2 125.3 656.3 126.4 656.4 125.4 656.5 125.8 656.6 125.4 656.7 125.9 656.8 125.0 656.9 127.4 657.0 126.6 657.1 126.7 657.2 127.0 657.3 124.9 657.4 126.1 657.5 125.8 657.6 125.7 657.7 126.7 657.8 125.8 657.9 126.6 658.0 126.3 658.1 126.5 658.2 125.6 658.3 126.5 658.4 126.0 658.5 125.3 658.6 126.3 658.7 127.1 658.8 126.9 658.9 127.3 659.0 126.8 659.1 126.8 659.2 127.4 659.3 126.7 659.4 127.4 659.5 128.0 659.6 127.5 659.7 128.1 659.8 127.1 659.9 126.6 660.0 128.1 660.1 129.2 660.2 128.4 660.3 128.3 660.4 127.9 660.5 128.5 660.6 127.6 660.7 129.1 660.8 127.6 660.9 129.3 661.0 129.6 661.1 128.3 661.2 129.9 661.3 130.0 661.4 129.9 661.5 129.1 661.6 130.8 661.7 129.2 661.8 131.6 661.9 131.7 662.0 131.6 662.1 130.0 662.2 131.9 662.3 130.8 662.4 131.9 662.5 131.8 662.6 132.7 662.7 131.1 662.8 131.3 662.9 132.0 663.0 132.5 663.1 131.4 663.2 132.2 663.3 131.3 663.4 129.9 663.5 130.5 663.6 130.8 663.7 130.4 663.8 130.9 663.9 131.0 664.0 131.4 664.1 131.0 664.2 130.4 664.3 130.8 664.4 131.2 664.5 129.9 664.6 130.4 664.7 130.1 664.8 130.3 664.9 130.0 665.0 130.5 665.1 128.9 665.2 129.7 665.3 129.1 665.4 128.5 665.5 129.2 665.6 128.8 665.7 128.7 665.8 128.6 665.9 129.1 666.0 128.9 666.1 128.9 666.2 128.6 666.3 129.3 666.4 127.1 666.5 127.0 666.6 128.8 666.7 126.5 666.8 127.4 666.9 126.9 667.0 127.1 667.1 126.6 667.2 126.9 667.3 126.9 667.4 125.6 667.5 126.2 667.6 126.3 667.7 126.3 667.8 125.7 667.9 125.7 668.0 124.4 668.1 125.7 668.2 125.0 668.3 124.1 668.4 124.2 668.5 124.2 668.6 124.4 668.7 123.9 668.8 123.4 668.9 123.4 669.0 122.2 669.1 124.0 669.2 122.4 669.3 122.9 669.4 121.4 669.5 121.6 669.6 120.5 669.7 121.1 669.8 121.0 669.9 121.2 670.0 120.8 670.1 122.1 670.2 120.3 670.3 120.0 670.4 121.2 670.5 120.4 670.6 120.6 670.7 120.2 670.8 120.6 670.9 119.4 671.0 118.7 671.1 118.4 671.2 119.0 671.3 118.8 671.4 118.9 671.5 118.6 671.6 118.7 671.7 118.1 671.8 118.6 671.9 117.9 672.0 117.0 672.1 117.1 672.2 117.3 672.3 117.7 672.4 115.9 672.5 117.4 672.6 116.7 672.7 117.0 672.8 116.8 672.9 116.8 673.0 116.9 673.1 116.5 673.2 116.8 673.3 117.1 673.4 115.2 673.5 116.4 673.6 117.3 673.7 115.9 673.8 114.8 673.9 116.3 674.0 115.0 674.1 116.1 674.2 115.4 674.3 115.5 674.4 115.4 674.5 115.3 674.6 115.3 674.7 115.4 674.8 114.3 674.9 115.3 675.0 114.8 675.1 115.3 675.2 114.8 675.3 113.7 675.4 115.1 675.5 113.6 675.6 114.8 675.7 114.9 675.8 115.2 675.9 113.5 676.0 114.3 676.1 113.5 676.2 114.4 676.3 114.5 676.4 114.7 676.5 113.9 676.6 114.0 676.7 115.8 676.8 113.3 676.9 114.9 677.0 114.8 677.1 115.5 677.2 115.8 677.3 116.6 677.4 116.9 677.5 117.8 677.6 117.7 677.7 117.8 677.8 118.8 677.9 118.8 678.0 118.8 678.1 119.1 678.2 120.1 678.3 120.4 678.4 121.1 678.5 122.5 678.6 121.6 678.7 122.2 678.8 122.1 678.9 121.6 679.0 123.1 679.1 123.8 679.2 123.7 679.3 124.7 679.4 123.7 679.5 124.5 679.6 125.3 679.7 125.7 679.8 126.2 679.9 125.6 680.0 126.0 680.1 127.0 680.2 127.0 680.3 127.3 680.4 127.4 680.5 128.5 680.6 128.6 680.7 129.8 680.8 129.2 680.9 128.2 681.0 130.5 681.1 130.2 681.2 130.5 681.3 130.8 681.4 129.9 681.5 130.3 681.6 131.4 681.7 132.4 681.8 132.6 681.9 132.4 682.0 133.7 682.1 133.0 682.2 132.4 682.3 133.8 682.4 133.8 682.5 134.1 682.6 133.1 682.7 133.9 682.8 134.5 682.9 133.5 683.0 132.9 683.1 132.8 683.2 132.5 683.3 133.0 683.4 133.4 683.5 132.2 683.6 132.9 683.7 132.5 683.8 131.8 683.9 131.8 684.0 131.6 684.1 131.0 684.2 131.2 684.3 130.2 684.4 130.4 684.5 131.0 684.6 130.5 684.7 129.6 684.8 129.8 684.9 129.6 685.0 129.0 685.1 128.1 685.2 129.6 685.3 128.7 685.4 129.4 685.5 129.2 685.6 127.8 685.7 129.2 685.8 128.9 685.9 128.1 686.0 128.0 686.1 129.1 686.2 127.3 686.3 128.2 686.4 128.1 686.5 127.9 686.6 127.3 686.7 127.8 686.8 126.2 686.9 126.1 687.0 126.8 687.1 127.2 687.2 127.1 687.3 127.3 687.4 126.7 687.5 126.5 687.6 126.5 687.7 125.9 687.8 126.0 687.9 125.5 688.0 125.9 688.1 126.1 688.2 126.3 688.3 125.9 688.4 126.1 688.5 126.7 688.6 126.0 688.7 125.7 688.8 126.2 688.9 125.2 689.0 125.8 689.1 125.8 689.2 125.5 689.3 125.9 689.4 125.3 689.5 125.5 689.6 125.3 689.7 125.5 689.8 125.3 689.9 125.6 690.0 124.8 690.1 126.0 690.2 123.8 690.3 124.5 690.4 124.6 690.5 125.1 690.6 123.1 690.7 125.0 690.8 124.2 690.9 124.7 691.0 123.6 691.1 125.1 691.2 124.0 691.3 124.3 691.4 124.0 691.5 123.0 691.6 123.8 691.7 123.9 691.8 123.2 691.9 124.2 692.0 123.9 692.1 123.8 692.2 124.5 692.3 124.6 692.4 124.5 692.5 122.5 692.6 124.0 692.7 124.6 692.8 124.3 692.9 123.9 693.0 124.1 693.1 124.6 693.2 125.2 693.3 125.0 693.4 125.3 693.5 125.0 693.6 125.1 693.7 124.4 693.8 124.8 693.9 124.3 694.0 126.5 694.1 124.6 694.2 125.3 694.3 125.1 694.4 125.0 694.5 126.2 694.6 125.4 694.7 124.4 694.8 124.8 694.9 125.1 695.0 125.2 695.1 124.9 695.2 124.6 695.3 124.3 695.4 125.1 695.5 125.1 695.6 125.3 695.7 124.7 695.8 125.1 695.9 125.3 696.0 125.0 696.1 124.5 696.2 124.6 696.3 125.7 696.4 125.8 696.5 125.8 696.6 124.6 696.7 124.9 696.8 125.3 696.9 124.7 697.0 124.6 697.1 124.1 697.2 125.3 697.3 124.7 697.4 125.4 697.5 124.7 697.6 125.2 697.7 124.4 697.8 124.6 697.9 124.8 698.0 124.9 698.1 125.8 698.2 124.6 698.3 123.7 698.4 125.0 698.5 125.7 698.6 125.3 698.7 124.5 698.8 126.1 698.9 125.4 699.0 125.5 699.1 125.9 699.2 124.3 699.3 126.5 699.4 125.5 699.5 125.0 699.6 125.9 699.7 125.7 699.8 124.7 699.9 125.5 700.0 125.1 700.1 126.3 700.2 125.6 700.3 126.2 700.4 126.4 700.5 126.1 700.6 126.9 700.7 126.2 700.8 126.9 700.9 125.8 701.0 126.6 701.1 126.8 701.2 125.9 701.3 127.4 701.4 125.9 701.5 125.8 701.6 126.4 701.7 126.1 701.8 127.4 701.9 127.3 702.0 126.2 702.1 126.9 702.2 126.6 702.3 126.1 702.4 126.4 702.5 127.0 702.6 127.6 702.7 127.5 702.8 126.5 702.9 127.5 703.0 126.0 703.1 127.4 703.2 128.3 703.3 127.3 703.4 128.3 703.5 127.5 703.6 126.9 703.7 127.5 703.8 128.0 703.9 127.4 704.0 126.9 704.1 128.0 704.2 127.9 704.3 127.7 704.4 128.3 704.5 127.3 704.6 127.4 704.7 127.8 704.8 127.7 704.9 127.8 705.0 127.3 705.1 127.2 705.2 127.1 705.3 126.8 705.4 126.7 705.5 127.8 705.6 127.4 705.7 127.8 705.8 127.5 705.9 126.2 706.0 127.8 706.1 127.6 706.2 127.1 706.3 126.7 706.4 127.7 706.5 127.6 706.6 127.2 706.7 126.9 706.8 127.9 706.9 127.9 707.0 128.0 707.1 127.3 707.2 126.9 707.3 127.8 707.4 127.9 707.5 127.3 707.6 127.0 707.7 127.2 707.8 126.1 707.9 126.4 708.0 126.4 708.1 127.5 708.2 125.9 708.3 126.2 708.4 125.7 708.5 125.8 708.6 125.3 708.7 125.7 708.8 125.9 708.9 127.0 709.0 125.6 709.1 125.3 709.2 125.7 709.3 125.9 709.4 126.0 709.5 126.5 709.6 124.4 709.7 125.5 709.8 125.2 709.9 123.9 710.0 124.8 710.1 125.8 710.2 125.1 710.3 125.7 710.4 125.9 710.5 124.2 710.6 124.7 710.7 124.2 710.8 124.5 710.9 125.1 711.0 125.1 711.1 125.4 711.2 124.4 711.3 123.4 711.4 125.0 711.5 125.7 711.6 125.2 711.7 124.6 711.8 125.0 711.9 125.0 712.0 124.9 712.1 124.7 712.2 125.0 712.3 124.3 712.4 124.3 712.5 124.9" stroke="#c0392b" stroke-width="0.4" opacity="0.3"/>
</g>
<line x1="40.3" y1="20.2" x2="40.3" y2="203.3" stroke="#666" stroke-width="1"/>
<line x1="40.3" y1="203.3" x2="712" y2="203.3" stroke="#666" stroke-width="1"/>
<line x1="40.3" y1="20.2" x2="712" y2="20.2" stroke="#888" stroke-width="1"/>
<line x1="712" y1="20.2" x2="712" y2="203.3" stroke="#eee" stroke-width="1"/>
<line x1="40.3" y1="203.3" x2="40.3" y2="197.3" stroke="#999" stroke-width="0.8"/>
<line x1="40.3" y1="20.2" x2="40.3" y2="26.2" stroke="#999" stroke-width="0.8"/>
<text x="40.3" y="213.3" font-size="7.5" text-anchor="middle" fill="#1e1e1e" >6</text>
<line x1="140.35" y1="203.3" x2="140.35" y2="197.3" stroke="#999" stroke-width="0.8"/>
<line x1="140.35" y1="20.2" x2="140.35" y2="26.2" stroke="#999" stroke-width="0.8"/>
<text x="140.35" y="213.3" font-size="7.5" text-anchor="middle" fill="#1e1e1e" >7</text>
<line x1="240.39999999999998" y1="203.3" x2="240.39999999999998" y2="197.3" stroke="#999" stroke-width="0.8"/>
<line x1="240.39999999999998" y1="20.2" x2="240.39999999999998" y2="26.2" stroke="#999" stroke-width="0.8"/>
<text x="240.39999999999998" y="213.3" font-size="7.5" text-anchor="middle" fill="#1e1e1e" >8</text>
<line x1="340.45" y1="203.3" x2="340.45" y2="197.3" stroke="#999" stroke-width="0.8"/>
<line x1="340.45" y1="20.2" x2="340.45" y2="26.2" stroke="#999" stroke-width="0.8"/>
<text x="340.45" y="213.3" font-size="7.5" text-anchor="middle" fill="#1e1e1e" >9</text>
<line x1="440.5" y1="203.3" x2="440.5" y2="197.3" stroke="#999" stroke-width="0.8"/>
<line x1="440.5" y1="20.2" x2="440.5" y2="26.2" stroke="#999" stroke-width="0.8"/>
<text x="440.5" y="213.3" font-size="7.5" text-anchor="middle" fill="#1e1e1e" >10</text>
<line x1="540.55" y1="203.3" x2="540.55" y2="197.3" stroke="#999" stroke-width="0.8"/>
<line x1="540.55" y1="20.2" x2="540.55" y2="26.2" stroke="#999" stroke-width="0.8"/>
<text x="540.55" y="213.3" font-size="7.5" text-anchor="middle" fill="#1e1e1e" >11</text>
<line x1="640.5999999999999" y1="203.3" x2="640.5999999999999" y2="197.3" stroke="#999" stroke-width="0.8"/>
<line x1="640.5999999999999" y1="20.2" x2="640.5999999999999" y2="26.2" stroke="#999" stroke-width="0.8"/>
<text x="640.5999999999999" y="213.3" font-size="7.5" text-anchor="middle" fill="#1e1e1e" >12</text>
<line x1="40.3" y1="41.999999999999986" x2="46.3" y2="41.999999999999986" stroke="#ddd" stroke-width="0.8"/>
<line x1="712" y1="41.999999999999986" x2="706" y2="41.999999999999986" stroke="#ddd" stroke-width="0.8"/>
<text x="37.5" y="44.624999999999986" font-size="7.5" text-anchor="end" fill="#1e1e1e" >600</text>
<line x1="40.3" y1="70.1" x2="46.3" y2="70.1" stroke="#707070" stroke-width="0.8"/>
<line x1="712" y1="70.1" x2="706" y2="70.1" stroke="#707070" stroke-width="0.8"/>
<text x="37.5" y="72.725" font-size="7.5" text-anchor="end" fill="#1e1e1e" >400</text>
<line x1="40.3" y1="98.19999999999999" x2="46.3" y2="98.19999999999999" stroke="#707070" stroke-width="0.8"/>
<line x1="712" y1="98.19999999999999" x2="706" y2="98.19999999999999" stroke="#707070" stroke-width="0.8"/>
<text x="37.5" y="100.82499999999999" font-size="7.5" text-anchor="end" fill="#1e1e1e" >200</text>
<line x1="40.3" y1="126.3" x2="46.3" y2="126.3" stroke="#707070" stroke-width="0.8"/>
<line x1="712" y1="126.3" x2="706" y2="126.3" stroke="#707070" stroke-width="0.8"/>
<text x="37.5" y="128.925" font-size="7.5" text-anchor="end" fill="#1e1e1e" >0</text>
<line x1="40.3" y1="154.4" x2="46.3" y2="154.4" stroke="#ddd" stroke-width="0.8"/>
<line x1="712" y1="154.4" x2="706" y2="154.4" stroke="#ddd" stroke-width="0.8"/>
<text x="37.5" y="157.025" font-size="7.5" text-anchor="end" fill="#1e1e1e" >-200</text>
<line x1="40.3" y1="182.5" x2="46.3" y2="182.5" stroke="#707070" stroke-width="0.8"/>
<line x1="712" y1="182.5" x2="706" y2="182.5" stroke="#707070" stroke-width="0.8"/>
<text x="37.5" y="185.125" font-size="7.5" text-anchor="end" fill="#1e1e1e" >-400</text>
<text x="376" y="223.2" font-size="8.4" text-anchor="middle" fill="#1e1e1e" >Time/s</text>
<text transform="translate(19.6,108) rotate(-90)" font-size="7.9" text-anchor="middle" fill="#1e1e1e">Amplitude/uV</text>
<rect x="558.5" y="24.4" width="149.4" height="26.9" fill="#fff" stroke="#666" stroke-width="0.8"/>
<line x1="560" y1="29.4" x2="578" y2="29.4" stroke="#7fd98f" stroke-width="0.8"/>
<text x="580" y="31.9" font-size="7.06" text-anchor="start" fill="#1e1e1e" >The Signal After Adding Noise</text>
<line x1="560" y1="37.9" x2="578" y2="37.9" stroke="#d79a9a" stroke-width="0.8"/>
<text x="580" y="40.4" font-size="7.06" text-anchor="start" fill="#1e1e1e" >Improved Threshold Function Denoising</text>
<line x1="560" y1="46.4" x2="578" y2="46.4" stroke="#8fc3e0" stroke-width="0.8"/>
<text x="580" y="48.9" font-size="7.06" text-anchor="start" fill="#1e1e1e" >Original Signal</text>
<clipPath id="cpB"><rect x="73.2" y="242.6" width="609.0999999999999" height="143.9"/></clipPath>
<g clip-path="url(#cpB)" fill="none" stroke-linejoin="round">
<path d="M72.3 327.9L72.9 323.9 73.5 311.3 74.1 311.9 74.7 323.9 75.3 334.7 75.9 330.1 76.6 328.9 77.2 343.3 77.8 351.9 78.4 353.6 79.0 351.9 79.6 350.8 80.2 346.5 80.8 337.1 81.4 340.7 82.0 341.5 82.6 342.1 83.2 335.5 83.9 337.5 84.5 330.0 85.1 333.2 85.7 325.9 86.3 335.7 86.9 324.4 87.5 331.1 88.1 321.8 88.7 325.4 89.3 321.9 89.9 315.3 90.5 328.3 91.2 316.1 91.8 310.0 92.4 315.2 93.0 324.5 93.6 315.5 94.2 318.5 94.8 317.4 95.4 318.2 96.0 313.7 96.6 311.1 97.2 316.6 97.8 312.0 98.5 319.6 99.1 309.5 99.7 321.2 100.3 321.6 100.9 318.5 101.5 313.5 102.1 312.7 102.7 323.0 103.3 315.4 103.9 314.6 104.5 308.3 105.1 317.2 105.8 321.6 106.4 328.5 107.0 319.4 107.6 313.3 108.2 314.4 108.8 315.5 109.4 318.2 110.0 315.0 110.6 314.6 111.2 306.7 111.8 314.8 112.4 318.7 113.1 316.0 113.7 314.9 114.3 321.5 114.9 313.9 115.5 312.9 116.1 312.9 116.7 317.5 117.3 308.1 117.9 300.0 118.5 321.5 119.1 327.5 119.7 329.0 120.4 318.8 121.0 312.1 121.6 321.8 122.2 328.8 122.8 315.2 123.4 321.3 124.0 326.1 124.6 325.6 125.2 318.0 125.8 319.2 126.4 322.6 127.0 323.1 127.7 319.6 128.3 313.6 128.9 325.5 129.5 331.8 130.1 327.0 130.7 316.0 131.3 317.4 131.9 323.4 132.5 322.5 133.1 328.8 133.7 320.8 134.3 317.2 135.0 320.8 135.6 324.0 136.2 317.5 136.8 324.8 137.4 333.2 138.0 347.9 138.6 344.0 139.2 340.7 139.8 345.9 140.4 344.9 141.0 346.1 141.6 345.3 142.3 340.3 142.9 343.5 143.5 347.6 144.1 346.0 144.7 346.3 145.3 340.0 145.9 349.9 146.5 347.1 147.1 338.7 147.7 346.7 148.3 344.9 148.9 343.6 149.6 352.5 150.2 345.2 150.8 342.1 151.4 345.5 152.0 344.0 152.6 350.2 153.2 350.4 153.8 350.1 154.4 347.0 155.0 352.6 155.6 349.9 156.2 345.6 156.9 349.8 157.5 344.7 158.1 340.4 158.7 345.3 159.3 345.7 159.9 343.3 160.5 349.1 161.1 347.3 161.7 349.3 162.3 348.0 162.9 337.4 163.5 347.2 164.2 337.8 164.8 341.5 165.4 344.1 166.0 342.9 166.6 342.1 167.2 339.2 167.8 341.3 168.4 337.9 169.0 339.6 169.6 339.5 170.2 338.6 170.8 330.4 171.5 341.4 172.1 336.5 172.7 332.5 173.3 332.4 173.9 337.8 174.5 337.5 175.1 325.8 175.7 316.1 176.3 337.4 176.9 339.6 177.5 334.3 178.1 329.9 178.8 329.0 179.4 333.2 180.0 332.5 180.6 326.9 181.2 318.7 181.8 325.0 182.4 332.5 183.0 329.6 183.6 325.2 184.2 325.7 184.8 317.2 185.4 336.4 186.1 334.4 186.7 330.1 187.3 321.1 187.9 321.1 188.5 320.5 189.1 319.0 189.7 321.8 190.3 316.1 190.9 324.5 191.5 317.1 192.1 321.2 192.7 319.1 193.4 317.0 194.0 318.4 194.6 319.9 195.2 314.1 195.8 320.6 196.4 315.8 197.0 319.9 197.6 313.7 198.2 309.7 198.8 318.6 199.4 310.1 200.0 318.0 200.7 307.8 201.3 312.6 201.9 308.4 202.5 315.5 203.1 300.4 203.7 300.0 204.3 326.2 204.9 324.0 205.5 332.9 206.1 335.1 206.7 342.2 207.3 342.5 208.0 333.8 208.6 330.1 209.2 339.1 209.8 327.8 210.4 328.4 211.0 332.8 211.6 327.5 212.2 320.9 212.8 324.8 213.4 325.7 214.0 328.6 214.6 315.6 215.3 318.0 215.9 325.4 216.5 323.2 217.1 320.4 217.7 324.4 218.3 319.1 218.9 323.8 219.5 319.4 220.1 323.3 220.7 324.2 221.3 327.7 221.9 324.4 222.6 322.8 223.2 332.6 223.8 324.5 224.4 322.0 225.0 323.1 225.6 324.9 226.2 320.4 226.8 315.5 227.4 337.3 228.0 341.2 228.6 334.9 229.2 324.4 229.8 326.4 230.5 325.4 231.1 319.4 231.7 323.4 232.3 321.4 232.9 330.8 233.5 321.9 234.1 327.3 234.7 317.8 235.3 329.9 235.9 322.8 236.5 318.7 237.1 316.7 237.8 329.7 238.4 324.8 239.0 326.9 239.6 317.7 240.2 316.6 240.8 322.6 241.4 319.1 242.0 323.7 242.6 333.0 243.2 327.9 243.8 327.6 244.4 320.8 245.1 324.9 245.7 318.8 246.3 324.6 246.9 324.0 247.5 320.3 248.1 323.4 248.7 318.8 249.3 326.6 249.9 327.9 250.5 320.8 251.1 322.5 251.7 325.3 252.4 319.6 253.0 331.0 253.6 333.4 254.2 328.7 254.8 329.1 255.4 328.1 256.0 322.6 256.6 320.4 257.2 318.8 257.8 327.6 258.4 328.7 259.0 322.3 259.7 325.6 260.3 320.2 260.9 317.9 261.5 327.7 262.1 327.2 262.7 325.3 263.3 327.2 263.9 321.4 264.5 316.4 265.1 330.5 265.7 329.5 266.3 325.8 267.0 321.1 267.6 331.0 268.2 323.7 268.8 318.6 269.4 331.4 270.0 328.2 270.6 321.0 271.2 319.3 271.8 326.7 272.4 320.2 273.0 326.8 273.6 332.3 274.3 323.8 274.9 325.6 275.5 324.5 276.1 315.0 276.7 314.8 277.3 342.5 277.9 345.4 278.5 345.5 279.1 343.1 279.7 339.0 280.3 344.9 280.9 345.9 281.6 345.4 282.2 340.7 282.8 342.5 283.4 340.2 284.0 346.2 284.6 334.2 285.2 324.7 285.8 337.3 286.4 341.9 287.0 330.6 287.6 329.6 288.2 330.0 288.9 335.8 289.5 327.6 290.1 336.7 290.7 329.6 291.3 329.4 291.9 327.6 292.5 329.5 293.1 323.3 293.7 342.6 294.3 326.5 294.9 324.7 295.5 333.2 296.2 332.2 296.8 327.7 297.4 325.2 298.0 321.8 298.6 328.3 299.2 328.3 299.8 321.1 300.4 320.4 301.0 328.6 301.6 327.2 302.2 323.0 302.8 325.2 303.5 321.3 304.1 326.7 304.7 326.1 305.3 315.4 305.9 318.8 306.5 316.7 307.1 321.2 307.7 323.7 308.3 314.5 308.9 324.1 309.5 328.4 310.1 323.9 310.8 319.5 311.4 321.9 312.0 327.3 312.6 318.5 313.2 318.3 313.8 328.7 314.4 315.0 315.0 326.8 315.6 327.6 316.2 326.6 316.8 323.4 317.4 324.0 318.1 329.6 318.7 321.4 319.3 324.8 319.9 330.1 320.5 333.4 321.1 330.0 321.7 328.6 322.3 318.1 322.9 325.8 323.5 325.0 324.1 318.9 324.7 327.3 325.4 328.4 326.0 324.3 326.6 323.3 327.2 323.3 327.8 328.9 328.4 334.5 329.0 337.3 329.6 333.9 330.2 332.2 330.8 336.1 331.4 337.6 332.0 333.5 332.7 334.4 333.3 335.3 333.9 326.1 334.5 330.0 335.1 339.4 335.7 325.4 336.3 332.8 336.9 338.7 337.5 338.3 338.1 328.1 338.7 337.2 339.3 339.7 340.0 336.2 340.6 332.0 341.2 333.8 341.8 334.6 342.4 336.9 343.0 324.3 343.6 313.1 344.2 340.1 344.8 340.2 345.4 333.7 346.0 332.2 346.6 326.5 347.3 330.2 347.9 329.4 348.5 336.1 349.1 333.3 349.7 333.3 350.3 331.3 350.9 333.5 351.5 331.1 352.1 331.1 352.7 323.8 353.3 332.1 353.9 332.8 354.6 328.6 355.2 329.7 355.8 323.7 356.4 324.5 357.0 327.7 357.6 328.5 358.2 326.5 358.8 325.0 359.4 329.1 360.0 326.5 360.6 335.6 361.2 332.6 361.9 328.6 362.5 325.2 363.1 325.0 363.7 327.1 364.3 334.5 364.9 326.9 365.5 333.0 366.1 335.8 366.7 330.7 367.3 328.6 367.9 326.0 368.5 323.5 369.2 325.8 369.8 326.4 370.4 328.3 371.0 326.4 371.6 330.9 372.2 323.6 372.8 326.5 373.4 322.3 374.0 324.3 374.6 328.2 375.2 327.1 375.8 325.8 376.5 321.7 377.1 336.1 377.7 334.4 378.3 320.4 378.9 326.6 379.5 321.3 380.1 329.3 380.7 333.4 381.3 328.5 381.9 328.8 382.5 330.6 383.1 322.7 383.7 321.8 384.4 330.5 385.0 319.9 385.6 324.2 386.2 332.8 386.8 319.1 387.4 324.3 388.0 328.2 388.6 334.9 389.2 326.7 389.8 331.7 390.4 321.5 391.0 333.1 391.7 335.0 392.3 327.2 392.9 333.9 393.5 323.2 394.1 333.1 394.7 326.5 395.3 333.6 395.9 331.8 396.5 323.1 397.1 329.3 397.7 326.4 398.3 327.1 399.0 312.5 399.6 335.7 400.2 349.3 400.8 328.2 401.4 331.4 402.0 337.1 402.6 333.6 403.2 335.3 403.8 333.5 404.4 334.3 405.0 327.3 405.6 330.1 406.3 341.0 406.9 346.0 407.5 349.7 408.1 345.7 408.7 346.3 409.3 340.0 409.9 342.3 410.5 339.2 411.1 340.6 411.7 339.3 412.3 337.4 412.9 342.2 413.6 342.5 414.2 340.4 414.8 339.8 415.4 341.3 416.0 335.6 416.6 333.9 417.2 328.6 417.8 335.0 418.4 333.0 419.0 336.3 419.6 337.0 420.2 331.8 420.9 327.3 421.5 331.8 422.1 326.7 422.7 326.3 423.3 325.1 423.9 329.3 424.5 341.0 425.1 334.3 425.7 326.0 426.3 332.5 426.9 329.7 427.5 332.2 428.2 330.4 428.8 333.2 429.4 322.0 430.0 328.7 430.6 323.2 431.2 318.8 431.8 326.3 432.4 329.2 433.0 325.4 433.6 326.0 434.2 320.5 434.8 322.8 435.5 315.0 436.1 320.3 436.7 316.7 437.3 322.7 437.9 326.1 438.5 320.3 439.1 317.5 439.7 316.2 440.3 314.0 440.9 320.6 441.5 320.4 442.1 318.4 442.8 320.3 443.4 316.7 444.0 315.5 444.6 315.1 445.2 322.2 445.8 313.0 446.4 326.6 447.0 320.3 447.6 321.2 448.2 319.2 448.8 320.1 449.4 314.5 450.1 322.6 450.7 322.9 451.3 327.9 451.9 320.9 452.5 319.7 453.1 312.7 453.7 315.7 454.3 335.8 454.9 323.3 455.5 329.7 456.1 325.9 456.7 326.8 457.4 316.3 458.0 313.6 458.6 328.5 459.2 332.3 459.8 333.3 460.4 335.1 461.0 327.9 461.6 328.5 462.2 330.6 462.8 338.5 463.4 332.7 464.0 327.7 464.7 330.6 465.3 324.1 465.9 319.3 466.5 325.9 467.1 324.1 467.7 321.3 468.3 316.8 468.9 330.9 469.5 325.6 470.1 318.1 470.7 324.4 471.3 331.6 472.0 322.8 472.6 330.7 473.2 320.8 473.8 319.6 474.4 330.1 475.0 334.3 475.6 325.9 476.2 328.8 476.8 322.1 477.4 327.1 478.0 330.4 478.6 332.7 479.3 325.7 479.9 324.8 480.5 333.3 481.1 335.4 481.7 327.4 482.3 325.6 482.9 329.0 483.5 326.8 484.1 328.6 484.7 331.7 485.3 333.2 485.9 335.4 486.6 332.8 487.2 339.8 487.8 326.7 488.4 337.5 489.0 331.9 489.6 331.7 490.2 333.7 490.8 333.6 491.4 336.8 492.0 335.5 492.6 330.8 493.2 329.1 493.9 337.9 494.5 333.3 495.1 339.7 495.7 332.4 496.3 331.2 496.9 336.5 497.5 323.3 498.1 332.7 498.7 327.4 499.3 339.4 499.9 326.8 500.5 335.6 501.2 329.5 501.8 332.2 502.4 325.2 503.0 329.2 503.6 326.3 504.2 324.0 504.8 328.4 505.4 326.3 506.0 322.4 506.6 327.0 507.2 326.0 507.8 332.2 508.5 314.3 509.1 317.4 509.7 327.6 510.3 324.6 510.9 322.5 511.5 313.6 512.1 306.5 512.7 322.7 513.3 323.8 513.9 327.2 514.5 318.6 515.1 319.7 515.8 316.2 516.4 319.0 517.0 329.9 517.6 322.0 518.2 309.5 518.8 317.1 519.4 312.0 520.0 318.2 520.6 320.2 521.2 320.0 521.8 322.0 522.4 318.7 523.1 320.4 523.7 321.4 524.3 326.1 524.9 329.7 525.5 331.1 526.1 328.3 526.7 324.7 527.3 326.4 527.9 336.3 528.5 324.8 529.1 320.5 529.7 328.5 530.3 332.8 531.0 324.6 531.6 323.4 532.2 332.9 532.8 335.5 533.4 335.1 534.0 331.8 534.6 334.4 535.2 331.8 535.8 331.8 536.4 336.7 537.0 328.8 537.6 324.5 538.3 337.4 538.9 331.2 539.5 332.1 540.1 331.9 540.7 326.8 541.3 336.6 541.9 329.5 542.5 332.6 543.1 334.6 543.7 328.7 544.3 330.0 544.9 324.6 545.6 332.8 546.2 333.5 546.8 322.7 547.4 329.6 548.0 329.0 548.6 324.5 549.2 332.7 549.8 330.9 550.4 333.6 551.0 322.5 551.6 334.0 552.2 335.0 552.9 335.1 553.5 323.1 554.1 326.1 554.7 333.3 555.3 333.5 555.9 322.0 556.5 333.0 557.1 330.3 557.7 329.2 558.3 318.8 558.9 330.9 559.5 339.5 560.2 333.8 560.8 330.7 561.4 331.7 562.0 333.4 562.6 337.4 563.2 334.1 563.8 322.8 564.4 337.1 565.0 325.1 565.6 322.0 566.2 324.9 566.8 328.8 567.5 324.9 568.1 325.0 568.7 335.6 569.3 327.8 569.9 325.7 570.5 327.5 571.1 333.8 571.7 343.0 572.3 332.6 572.9 335.8 573.5 326.5 574.1 328.3 574.8 332.2 575.4 334.7 576.0 334.0 576.6 329.3 577.2 331.1 577.8 337.5 578.4 331.6 579.0 331.0 579.6 327.5 580.2 328.2 580.8 337.3 581.4 332.5 582.1 337.2 582.7 345.2 583.3 336.9 583.9 336.5 584.5 334.2 585.1 338.3 585.7 329.0 586.3 326.4 586.9 340.3 587.5 338.3 588.1 333.6 588.7 341.5 589.4 347.9 590.0 347.6 590.6 335.4 591.2 332.5 591.8 335.4 592.4 332.1 593.0 338.9 593.6 338.9 594.2 330.6 594.8 332.0 595.4 332.1 596.0 331.1 596.7 337.0 597.3 340.9 597.9 326.7 598.5 329.6 599.1 332.8 599.7 331.8 600.3 326.2 600.9 332.3 601.5 334.2 602.1 327.9 602.7 326.0 603.3 325.6 604.0 325.9 604.6 328.0 605.2 329.9 605.8 339.0 606.4 330.8 607.0 330.2 607.6 319.4 608.2 332.5 608.8 329.5 609.4 326.2 610.0 333.2 610.6 333.3 611.3 323.4 611.9 323.6 612.5 335.2 613.1 328.0 613.7 322.8 614.3 331.5 614.9 328.0 615.5 324.9 616.1 328.1 616.7 330.2 617.3 335.5 617.9 332.6 618.6 329.3 619.2 327.0 619.8 320.6 620.4 319.8 621.0 322.1 621.6 326.8 622.2 331.4 622.8 327.1 623.4 321.3 624.0 325.6 624.6 323.4 625.2 318.6 625.9 326.8 626.5 325.8 627.1 316.5 627.7 313.3 628.3 326.0 628.9 330.5 629.5 329.3 630.1 316.2 630.7 323.0 631.3 319.1 631.9 318.6 632.5 318.9 633.2 325.1 633.8 318.1 634.4 325.1 635.0 318.2 635.6 320.8 636.2 312.8 636.8 321.0 637.4 315.1 638.0 314.9 638.6 328.0 639.2 321.7 639.8 318.5 640.5 320.0 641.1 317.2 641.7 315.1 642.3 314.4 642.9 313.4 643.5 311.1 644.1 310.4 644.7 315.9 645.3 313.1 645.9 314.2 646.5 315.4 647.1 315.0 647.8 316.8 648.4 311.1 649.0 307.5 649.6 312.5 650.2 312.2 650.8 310.2 651.4 310.2 652.0 325.0 652.6 323.6 653.2 328.0 653.8 314.2 654.4 320.9 655.1 323.1 655.7 328.1 656.3 324.3 656.9 329.5 657.5 320.5 658.1 329.1 658.7 326.8 659.3 332.2 659.9 324.7 660.5 327.2 661.1 327.4 661.7 321.7 662.4 330.8 663.0 339.3 663.6 340.1 664.2 333.9 664.8 331.9 665.4 332.1 666.0 328.9 666.6 326.7 667.2 334.1 667.8 326.4 668.4 333.7 669.0 335.7 669.7 328.9 670.3 328.6 670.9 336.5 671.5 340.0 672.1 327.0 672.7 331.2 673.3 336.1 673.9 333.0 674.5 332.5 675.1 333.6 675.7 336.0 676.3 327.1 677.0 336.0 677.6 332.7 678.2 334.1 678.8 332.6 679.4 337.8 680.0 320.7 680.6 331.8 681.2 339.2 681.8 330.2" stroke="#1fd41f" stroke-width="1.2"/>
<path d="M72.3 325.5L72.9 323.9 73.5 306.0 74.1 283.7 74.7 333.9 75.3 338.7 75.9 329.7 76.6 333.4 77.2 338.7 77.8 344.6 78.4 350.5 79.0 350.4 79.6 349.8 80.2 349.2 80.8 337.8 81.4 336.1 82.0 352.0 82.6 350.9 83.2 338.4 83.9 332.3 84.5 329.9 85.1 331.2 85.7 331.1 86.3 329.4 86.9 328.1 87.5 325.8 88.1 324.1 88.7 320.6 89.3 317.8 89.9 318.9 90.5 322.2 91.2 318.5 91.8 319.6 92.4 317.6 93.0 318.0 93.6 316.6 94.2 317.3 94.8 318.5 95.4 316.7 96.0 318.2 96.6 316.2 97.2 316.3 97.8 317.6 98.5 316.7 99.1 317.1 99.7 317.8 100.3 316.1 100.9 316.5 101.5 316.0 102.1 315.7 102.7 315.3 103.3 315.4 103.9 316.2 104.5 315.9 105.1 315.5 105.8 315.8 106.4 321.8 107.0 317.0 107.6 314.9 108.2 313.7 108.8 315.7 109.4 314.9 110.0 315.1 110.6 314.9 111.2 314.7 111.8 314.4 112.4 314.5 113.1 312.6 113.7 313.3 114.3 314.3 114.9 314.0 115.5 312.8 116.1 312.9 116.7 313.6 117.3 291.7 117.9 270.1 118.5 344.6 119.1 351.5 119.7 334.1 120.4 321.6 121.0 317.5 121.6 320.8 122.2 317.0 122.8 308.8 123.4 333.3 124.0 334.8 124.6 326.5 125.2 323.2 125.8 322.6 126.4 322.7 127.0 322.3 127.7 316.6 128.3 306.7 128.9 334.0 129.5 336.9 130.1 328.6 130.7 318.5 131.3 316.0 131.9 314.8 132.5 328.3 133.1 331.4 133.7 325.5 134.3 323.6 135.0 324.6 135.6 324.0 136.2 310.0 136.8 292.9 137.4 360.0 138.0 371.1 138.6 347.9 139.2 337.9 139.8 341.2 140.4 343.8 141.0 343.2 141.6 344.6 142.3 345.6 142.9 345.4 143.5 344.1 144.1 344.5 144.7 343.5 145.3 342.5 145.9 344.6 146.5 343.5 147.1 343.9 147.7 345.2 148.3 344.8 148.9 345.6 149.6 345.9 150.2 345.6 150.8 345.1 151.4 344.5 152.0 346.5 152.6 345.4 153.2 350.0 153.8 348.4 154.4 345.5 155.0 346.9 155.6 345.6 156.2 347.2 156.9 347.4 157.5 345.7 158.1 347.2 158.7 346.7 159.3 345.6 159.9 345.2 160.5 345.1 161.1 346.2 161.7 345.4 162.3 343.6 162.9 343.3 163.5 344.3 164.2 337.1 164.8 339.4 165.4 341.0 166.0 341.8 166.6 339.5 167.2 340.4 167.8 338.4 168.4 338.2 169.0 339.2 169.6 338.1 170.2 337.1 170.8 335.9 171.5 337.3 172.1 335.9 172.7 334.3 173.3 333.7 173.9 334.2 174.5 333.4 175.1 308.8 175.7 285.6 176.3 356.5 176.9 359.2 177.5 339.7 178.1 330.7 178.8 326.9 179.4 326.3 180.0 325.4 180.6 325.5 181.2 327.2 181.8 324.3 182.4 324.8 183.0 324.0 183.6 324.6 184.2 315.1 184.8 303.6 185.4 340.8 186.1 341.9 186.7 328.5 187.3 323.3 187.9 321.6 188.5 321.6 189.1 321.1 189.7 320.0 190.3 319.8 190.9 320.0 191.5 319.4 192.1 319.1 192.7 311.5 193.4 302.9 194.0 325.4 194.6 327.7 195.2 319.8 195.8 316.0 196.4 317.2 197.0 315.6 197.6 315.8 198.2 316.8 198.8 314.7 199.4 313.5 200.0 314.4 200.7 314.0 201.3 312.2 201.9 311.3 202.5 311.8 203.1 289.1 203.7 259.5 204.3 337.3 204.9 345.2 205.5 335.9 206.1 333.8 206.7 341.0 207.3 340.0 208.0 338.9 208.6 336.1 209.2 335.5 209.8 331.6 210.4 332.1 211.0 331.9 211.6 330.0 212.2 328.3 212.8 321.9 213.4 323.1 214.0 324.2 214.6 323.4 215.3 321.4 215.9 320.5 216.5 323.0 217.1 323.3 217.7 322.8 218.3 322.7 218.9 323.4 219.5 323.4 220.1 324.8 220.7 325.3 221.3 324.9 221.9 325.3 222.6 324.8 223.2 325.3 223.8 328.4 224.4 326.6 225.0 327.5 225.6 328.4 226.2 304.1 226.8 277.5 227.4 353.4 228.0 364.9 228.6 340.2 229.2 325.2 229.8 326.0 230.5 324.6 231.1 324.4 231.7 324.6 232.3 324.2 232.9 324.5 233.5 325.4 234.1 325.3 234.7 324.3 235.3 323.6 235.9 320.0 236.5 322.7 237.1 324.2 237.8 325.8 238.4 325.2 239.0 324.6 239.6 324.4 240.2 324.6 240.8 324.5 241.4 321.6 242.0 316.6 242.6 340.5 243.2 346.4 243.8 332.5 244.4 324.7 245.1 323.2 245.7 323.9 246.3 323.3 246.9 323.5 247.5 325.0 248.1 324.7 248.7 325.7 249.3 323.8 249.9 324.2 250.5 324.4 251.1 324.4 251.7 319.7 252.4 308.0 253.0 344.5 253.6 352.5 254.2 335.7 254.8 326.1 255.4 325.1 256.0 324.1 256.6 324.8 257.2 325.1 257.8 324.2 258.4 324.7 259.0 326.3 259.7 325.5 260.3 322.0 260.9 315.2 261.5 331.3 262.1 332.2 262.7 319.5 263.3 321.8 263.9 324.2 264.5 324.4 265.1 326.3 265.7 324.6 266.3 324.5 267.0 323.6 267.6 324.5 268.2 324.8 268.8 323.2 269.4 323.7 270.0 324.3 270.6 324.2 271.2 323.8 271.8 322.8 272.4 322.3 273.0 331.4 273.6 325.9 274.3 323.3 274.9 323.0 275.5 322.4 276.1 299.2 276.7 271.2 277.3 346.1 277.9 352.8 278.5 345.3 279.1 340.8 279.7 341.1 280.3 342.1 280.9 342.5 281.6 343.7 282.2 342.1 282.8 340.7 283.4 339.4 284.0 343.5 284.6 321.4 285.2 294.9 285.8 359.4 286.4 366.3 287.0 343.2 287.6 329.9 288.2 330.2 288.9 323.7 289.5 317.7 290.1 339.3 290.7 340.7 291.3 333.0 291.9 328.7 292.5 329.1 293.1 329.5 293.7 333.6 294.3 324.7 294.9 313.1 295.5 332.9 296.2 335.6 296.8 330.3 297.4 326.6 298.0 325.8 298.6 325.2 299.2 324.7 299.8 324.0 300.4 324.6 301.0 324.0 301.6 324.2 302.2 324.5 302.8 323.5 303.5 323.3 304.1 321.9 304.7 322.8 305.3 323.6 305.9 322.4 306.5 322.9 307.1 321.3 307.7 318.9 308.3 311.9 308.9 335.8 309.5 334.1 310.1 325.1 310.8 322.8 311.4 322.8 312.0 321.0 312.6 319.8 313.2 320.1 313.8 321.9 314.4 321.5 315.0 322.8 315.6 323.6 316.2 321.8 316.8 322.5 317.4 323.6 318.1 320.3 318.7 315.0 319.3 330.5 319.9 332.9 320.5 327.4 321.1 325.1 321.7 325.7 322.3 321.2 322.9 322.7 323.5 326.7 324.1 327.5 324.7 325.4 325.4 326.2 326.0 327.0 326.6 327.9 327.2 328.1 327.8 329.9 328.4 329.1 329.0 329.3 329.6 330.1 330.2 330.0 330.8 331.4 331.4 331.0 332.0 332.9 332.7 332.0 333.3 332.9 333.9 333.9 334.5 333.6 335.1 333.7 335.7 329.0 336.3 331.0 336.9 335.5 337.5 334.6 338.1 335.2 338.7 336.6 339.3 334.4 340.0 336.0 340.6 333.9 341.2 333.7 341.8 332.5 342.4 333.8 343.0 296.3 343.6 250.7 344.2 358.7 344.8 365.5 345.4 343.3 346.0 331.5 346.6 331.9 347.3 332.4 347.9 331.6 348.5 330.9 349.1 330.5 349.7 331.4 350.3 334.3 350.9 333.6 351.5 329.4 352.1 330.5 352.7 329.4 353.3 330.2 353.9 330.1 354.6 329.6 355.2 327.9 355.8 329.4 356.4 328.3 357.0 328.5 357.6 325.2 358.2 321.4 358.8 334.3 359.4 337.2 360.0 330.8 360.6 327.6 361.2 328.2 361.9 327.4 362.5 328.3 363.1 326.8 363.7 327.8 364.3 327.4 364.9 326.4 365.5 328.5 366.1 328.5 366.7 327.1 367.3 325.7 367.9 328.7 368.5 325.2 369.2 325.1 369.8 326.9 370.4 324.9 371.0 325.7 371.6 325.6 372.2 327.9 372.8 326.5 373.4 326.4 374.0 326.6 374.6 326.7 375.2 326.6 375.8 325.1 376.5 316.1 377.1 335.7 377.7 339.0 378.3 331.4 378.9 326.8 379.5 326.7 380.1 325.6 380.7 327.7 381.3 325.8 381.9 327.4 382.5 328.0 383.1 328.5 383.7 326.8 384.4 328.8 385.0 326.9 385.6 327.5 386.2 328.3 386.8 323.7 387.4 325.3 388.0 328.1 388.6 327.7 389.2 328.4 389.8 328.9 390.4 328.2 391.0 329.7 391.7 328.2 392.3 328.9 392.9 329.9 393.5 330.0 394.1 329.5 394.7 330.8 395.3 328.4 395.9 328.8 396.5 324.5 397.1 326.5 397.7 327.8 398.3 312.9 399.0 294.6 399.6 363.6 400.2 372.2 400.8 344.8 401.4 332.4 402.0 334.7 402.6 334.1 403.2 336.0 403.8 337.3 404.4 338.2 405.0 317.0 405.6 289.2 406.3 345.9 406.9 347.6 407.5 343.7 408.1 341.2 408.7 342.8 409.3 339.9 409.9 340.2 410.5 341.9 411.1 338.8 411.7 341.0 412.3 338.8 412.9 339.8 413.6 343.2 414.2 339.0 414.8 337.3 415.4 337.2 416.0 336.6 416.6 336.5 417.2 336.3 417.8 336.6 418.4 330.1 419.0 324.2 419.6 341.5 420.2 343.1 420.9 337.2 421.5 335.0 422.1 333.7 422.7 333.9 423.3 331.8 423.9 333.3 424.5 339.1 425.1 335.1 425.7 330.5 426.3 330.0 426.9 329.7 427.5 327.2 428.2 328.3 428.8 327.3 429.4 324.6 430.0 326.8 430.6 319.1 431.2 312.1 431.8 329.3 432.4 329.1 433.0 323.7 433.6 322.9 434.2 321.2 434.8 319.5 435.5 319.8 436.1 318.6 436.7 319.4 437.3 319.3 437.9 319.3 438.5 319.1 439.1 320.9 439.7 320.0 440.3 317.2 440.9 318.4 441.5 318.6 442.1 317.0 442.8 318.9 443.4 319.5 444.0 318.7 444.6 319.7 445.2 318.4 445.8 317.7 446.4 318.3 447.0 319.2 447.6 319.0 448.2 318.4 448.8 317.9 449.4 319.2 450.1 319.6 450.7 324.8 451.3 322.9 451.9 320.3 452.5 320.6 453.1 305.4 453.7 285.1 454.3 340.8 454.9 347.1 455.5 331.8 456.1 324.3 456.7 325.6 457.4 306.9 458.0 288.6 458.6 340.7 459.2 345.4 459.8 338.4 460.4 333.7 461.0 334.4 461.6 331.7 462.2 331.0 462.8 330.3 463.4 330.3 464.0 329.1 464.7 328.6 465.3 327.1 465.9 327.1 466.5 325.6 467.1 326.6 467.7 325.0 468.3 326.2 468.9 323.3 469.5 322.9 470.1 324.1 470.7 322.3 471.3 325.4 472.0 325.2 472.6 326.0 473.2 322.3 473.8 318.2 474.4 335.1 475.0 336.9 475.6 328.7 476.2 327.5 476.8 320.2 477.4 325.7 478.0 328.5 478.6 328.3 479.3 329.2 479.9 329.8 480.5 329.9 481.1 330.1 481.7 329.8 482.3 329.8 482.9 332.2 483.5 333.2 484.1 332.0 484.7 332.0 485.3 331.6 485.9 331.4 486.6 333.0 487.2 330.9 487.8 332.5 488.4 334.3 489.0 332.2 489.6 332.9 490.2 333.1 490.8 334.7 491.4 333.8 492.0 333.6 492.6 334.0 493.2 331.3 493.9 331.4 494.5 331.8 495.1 331.5 495.7 332.1 496.3 330.0 496.9 330.7 497.5 325.4 498.1 320.6 498.7 340.3 499.3 342.9 499.9 332.5 500.5 328.4 501.2 327.3 501.8 326.1 502.4 327.5 503.0 327.2 503.6 325.0 504.2 324.4 504.8 324.4 505.4 324.1 506.0 324.5 506.6 322.9 507.2 328.0 507.8 324.3 508.5 321.2 509.1 322.1 509.7 321.1 510.3 321.0 510.9 320.2 511.5 302.9 512.1 283.3 512.7 342.3 513.3 347.7 513.9 329.7 514.5 319.0 515.1 318.5 515.8 317.4 516.4 317.1 517.0 320.5 517.6 320.7 518.2 317.3 518.8 318.4 519.4 317.1 520.0 319.1 520.6 317.8 521.2 319.2 521.8 321.8 522.4 321.7 523.1 306.8 523.7 288.0 524.3 338.9 524.9 344.2 525.5 333.6 526.1 326.9 526.7 327.3 527.3 328.1 527.9 333.1 528.5 329.3 529.1 328.8 529.7 328.6 530.3 327.9 531.0 328.8 531.6 328.0 532.2 329.9 532.8 328.6 533.4 330.4 534.0 330.7 534.6 330.5 535.2 329.6 535.8 330.2 536.4 330.8 537.0 328.7 537.6 330.5 538.3 329.8 538.9 329.5 539.5 330.1 540.1 324.5 540.7 318.3 541.3 336.3 541.9 337.0 542.5 333.0 543.1 330.5 543.7 329.5 544.3 330.5 544.9 329.4 545.6 332.8 546.2 331.6 546.8 329.2 547.4 329.2 548.0 332.1 548.6 329.9 549.2 329.6 549.8 329.3 550.4 330.1 551.0 330.6 551.6 329.6 552.2 329.1 552.9 331.4 553.5 330.9 554.1 330.2 554.7 331.8 555.3 330.2 555.9 329.0 556.5 330.5 557.1 329.6 557.7 326.3 558.3 323.6 558.9 321.0 559.5 339.5 560.2 343.2 560.8 333.6 561.4 329.4 562.0 330.1 562.6 328.5 563.2 330.2 563.8 329.5 564.4 327.7 565.0 329.0 565.6 330.4 566.2 329.4 566.8 330.1 567.5 329.8 568.1 330.9 568.7 329.5 569.3 330.9 569.9 313.2 570.5 302.2 571.1 354.2 571.7 359.4 572.3 342.3 572.9 331.1 573.5 331.1 574.1 330.8 574.8 329.7 575.4 330.8 576.0 331.1 576.6 327.4 577.2 321.9 577.8 337.8 578.4 339.2 579.0 335.1 579.6 331.3 580.2 330.9 580.8 331.6 581.4 333.5 582.1 332.4 582.7 338.4 583.3 336.7 583.9 335.9 584.5 336.7 585.1 336.0 585.7 319.5 586.3 298.4 586.9 347.1 587.5 350.2 588.1 342.9 588.7 338.6 589.4 339.5 590.0 341.7 590.6 339.1 591.2 339.2 591.8 338.2 592.4 336.6 593.0 336.7 593.6 335.1 594.2 335.6 594.8 335.2 595.4 334.7 596.0 333.5 596.7 338.1 597.3 334.0 597.9 331.3 598.5 330.9 599.1 331.5 599.7 331.4 600.3 329.0 600.9 330.3 601.5 328.3 602.1 330.0 602.7 329.0 603.3 330.4 604.0 329.7 604.6 329.3 605.2 328.6 605.8 329.9 606.4 329.3 607.0 325.8 607.6 319.3 608.2 334.3 608.8 336.0 609.4 330.5 610.0 327.3 610.6 328.9 611.3 327.5 611.9 327.2 612.5 329.2 613.1 326.8 613.7 326.8 614.3 327.9 614.9 326.7 615.5 325.0 616.1 325.6 616.7 327.3 617.3 328.5 617.9 327.5 618.6 327.8 619.2 328.0 619.8 328.5 620.4 328.1 621.0 328.4 621.6 326.5 622.2 328.3 622.8 326.0 623.4 326.0 624.0 325.8 624.6 323.6 625.2 324.2 625.9 321.9 626.5 322.9 627.1 312.9 627.7 294.9 628.3 347.1 628.9 353.1 629.5 333.3 630.1 321.5 630.7 319.9 631.3 321.6 631.9 319.5 632.5 321.1 633.2 320.9 633.8 321.5 634.4 320.5 635.0 320.9 635.6 319.7 636.2 318.3 636.8 318.6 637.4 312.4 638.0 309.3 638.6 326.9 639.2 329.4 639.8 321.9 640.5 315.1 641.1 316.2 641.7 316.9 642.3 315.3 642.9 314.3 643.5 315.7 644.1 315.0 644.7 315.6 645.3 315.6 645.9 312.8 646.5 310.6 647.1 313.4 647.8 313.6 648.4 310.6 649.0 310.3 649.6 310.2 650.2 308.8 650.8 299.2 651.4 288.1 652.0 334.8 652.6 343.3 653.2 327.3 653.8 320.7 654.4 323.6 655.1 322.9 655.7 327.0 656.3 327.7 656.9 329.1 657.5 328.8 658.1 329.7 658.7 327.8 659.3 328.9 659.9 329.2 660.5 328.0 661.1 328.6 661.7 325.9 662.4 323.1 663.0 335.7 663.6 338.3 664.2 333.3 664.8 329.7 665.4 331.0 666.0 330.7 666.6 330.1 667.2 330.6 667.8 331.7 668.4 330.2 669.0 330.7 669.7 330.2 670.3 332.0 670.9 339.0 671.5 335.0 672.1 332.2 672.7 332.6 673.3 333.0 673.9 333.3 674.5 333.8 675.1 334.0 675.7 333.3 676.3 334.0 677.0 335.1 677.6 334.1 678.2 332.5 678.8 332.5 679.4 328.1 680.0 318.4 680.6 349.0 681.2 353.8 681.8 339.9" stroke="#4aa8dc" stroke-width="0.8" opacity="0.9"/>
<path d="M72.3 323.0L72.9 324.7 73.5 324.5 74.1 318.9 74.7 326.7 75.3 327.9 75.9 325.7 76.6 331.7 77.2 338.9 77.8 341.8 78.4 350.2 79.0 350.5 79.6 347.9 80.2 349.0 80.8 346.7 81.4 341.6 82.0 341.1 82.6 336.0 83.2 336.3 83.9 332.0 84.5 331.4 85.1 329.8 85.7 330.5 86.3 330.4 86.9 328.4 87.5 325.9 88.1 321.9 88.7 319.8 89.3 316.9 89.9 318.4 90.5 318.8 91.2 316.6 91.8 316.7 92.4 318.3 93.0 315.6 93.6 318.5 94.2 318.1 94.8 318.4 95.4 318.6 96.0 318.0 96.6 318.2 97.2 316.7 97.8 318.3 98.5 319.1 99.1 316.7 99.7 319.1 100.3 318.3 100.9 317.5 101.5 317.0 102.1 318.0 102.7 317.1 103.3 314.7 103.9 317.1 104.5 317.8 105.1 317.2 105.8 316.1 106.4 316.3 107.0 315.0 107.6 315.9 108.2 315.9 108.8 315.7 109.4 315.5 110.0 314.4 110.6 313.8 111.2 314.2 111.8 316.6 112.4 314.4 113.1 314.0 113.7 312.0 114.3 312.5 114.9 313.0 115.5 313.6 116.1 314.4 116.7 314.6 117.3 311.2 117.9 308.2 118.5 316.5 119.1 320.1 119.7 320.0 120.4 322.0 121.0 323.9 121.6 321.6 122.2 323.1 122.8 321.5 123.4 326.0 124.0 322.5 124.6 323.8 125.2 322.8 125.8 322.9 126.4 322.9 127.0 323.3 127.7 323.5 128.3 322.2 128.9 323.5 129.5 320.2 130.1 324.1 130.7 322.2 131.3 324.9 131.9 323.7 132.5 325.3 133.1 322.7 133.7 321.8 134.3 325.8 135.0 324.8 135.6 325.9 136.2 322.3 136.8 328.1 137.4 332.9 138.0 333.4 138.6 335.9 139.2 337.5 139.8 342.4 140.4 343.4 141.0 345.4 141.6 344.5 142.3 341.4 142.9 345.3 143.5 346.1 144.1 343.8 144.7 343.8 145.3 344.9 145.9 345.4 146.5 346.5 147.1 344.3 147.7 343.9 148.3 347.6 148.9 344.2 149.6 345.2 150.2 345.7 150.8 345.0 151.4 346.9 152.0 345.8 152.6 344.1 153.2 346.2 153.8 348.3 154.4 346.5 155.0 343.6 155.6 344.1 156.2 349.0 156.9 344.0 157.5 347.1 158.1 344.0 158.7 347.7 159.3 344.7 159.9 342.6 160.5 344.8 161.1 346.3 161.7 342.9 162.3 346.4 162.9 345.2 163.5 342.6 164.2 342.1 164.8 342.2 165.4 344.7 166.0 340.6 166.6 341.0 167.2 339.5 167.8 341.3 168.4 341.3 169.0 339.0 169.6 339.0 170.2 336.8 170.8 338.5 171.5 338.0 172.1 334.4 172.7 333.8 173.3 333.1 173.9 334.8 174.5 332.2 175.1 330.3 175.7 326.5 176.3 335.5 176.9 329.4 177.5 330.9 178.1 330.9 178.8 326.8 179.4 326.1 180.0 327.5 180.6 327.0 181.2 326.4 181.8 323.4 182.4 326.5 183.0 325.0 183.6 326.8 184.2 324.6 184.8 323.4 185.4 322.8 186.1 322.2 186.7 321.5 187.3 321.4 187.9 320.5 188.5 322.5 189.1 319.6 189.7 322.2 190.3 322.3 190.9 319.1 191.5 319.7 192.1 319.1 192.7 319.3 193.4 315.5 194.0 318.5 194.6 317.6 195.2 316.7 195.8 316.9 196.4 316.9 197.0 315.9 197.6 316.6 198.2 315.9 198.8 316.8 199.4 313.2 200.0 314.4 200.7 314.9 201.3 313.0 201.9 312.3 202.5 310.0 203.1 311.0 203.7 309.4 204.3 318.0 204.9 322.7 205.5 325.1 206.1 332.8 206.7 339.6 207.3 339.5 208.0 337.9 208.6 334.3 209.2 335.6 209.8 332.1 210.4 332.2 211.0 333.7 211.6 329.2 212.2 327.6 212.8 328.4 213.4 324.7 214.0 324.1 214.6 322.3 215.3 323.4 215.9 321.4 216.5 321.2 217.1 324.2 217.7 323.6 218.3 322.9 218.9 325.0 219.5 323.3 220.1 326.8 220.7 323.8 221.3 326.2 221.9 326.7 222.6 325.2 223.2 327.0 223.8 326.7 224.4 327.0 225.0 328.5 225.6 326.3 226.2 326.0 226.8 321.3 227.4 326.1 228.0 326.9 228.6 323.5 229.2 324.6 229.8 325.0 230.5 325.3 231.1 324.2 231.7 326.5 232.3 322.3 232.9 324.0 233.5 323.4 234.1 322.5 234.7 324.5 235.3 324.6 235.9 323.6 236.5 321.6 237.1 326.6 237.8 324.7 238.4 325.4 239.0 322.9 239.6 326.4 240.2 327.0 240.8 322.4 241.4 323.3 242.0 323.0 242.6 326.4 243.2 321.1 243.8 325.9 244.4 323.0 245.1 322.6 245.7 324.5 246.3 325.8 246.9 323.8 247.5 325.3 248.1 324.8 248.7 324.0 249.3 323.4 249.9 325.6 250.5 324.0 251.1 325.0 251.7 324.5 252.4 324.7 253.0 328.2 253.6 323.9 254.2 324.3 254.8 325.6 255.4 325.4 256.0 324.3 256.6 324.6 257.2 323.8 257.8 328.7 258.4 324.6 259.0 324.3 259.7 323.5 260.3 324.8 260.9 322.9 261.5 323.9 262.1 324.9 262.7 324.7 263.3 323.5 263.9 325.0 264.5 324.9 265.1 325.5 265.7 326.6 266.3 322.6 267.0 325.6 267.6 322.6 268.2 322.8 268.8 326.5 269.4 323.1 270.0 325.1 270.6 321.4 271.2 325.3 271.8 323.8 272.4 324.3 273.0 322.4 273.6 323.7 274.3 322.0 274.9 323.8 275.5 322.3 276.1 323.5 276.7 322.6 277.3 331.8 277.9 334.1 278.5 336.9 279.1 341.0 279.7 341.5 280.3 342.5 280.9 344.3 281.6 341.7 282.2 344.2 282.8 345.3 283.4 338.7 284.0 339.2 284.6 335.0 285.2 332.7 285.8 337.0 286.4 330.4 287.0 331.5 287.6 333.3 288.2 330.1 288.9 332.6 289.5 330.9 290.1 329.8 290.7 331.5 291.3 329.6 291.9 328.1 292.5 330.2 293.1 329.4 293.7 327.5 294.3 328.3 294.9 325.6 295.5 327.0 296.2 327.6 296.8 326.5 297.4 326.6 298.0 324.8 298.6 323.8 299.2 326.8 299.8 324.5 300.4 324.4 301.0 323.2 301.6 322.9 302.2 325.4 302.8 323.5 303.5 323.3 304.1 323.3 304.7 322.3 305.3 321.2 305.9 323.3 306.5 322.7 307.1 322.5 307.7 322.7 308.3 319.9 308.9 321.8 309.5 322.4 310.1 322.3 310.8 321.3 311.4 324.6 312.0 320.2 312.6 321.6 313.2 320.0 313.8 322.0 314.4 321.7 315.0 324.2 315.6 321.9 316.2 321.9 316.8 324.1 317.4 323.1 318.1 324.7 318.7 323.2 319.3 325.2 319.9 324.1 320.5 324.2 321.1 323.9 321.7 324.9 322.3 330.1 322.9 325.8 323.5 324.7 324.1 325.4 324.7 326.5 325.4 325.7 326.0 328.2 326.6 328.5 327.2 327.1 327.8 327.8 328.4 330.8 329.0 330.6 329.6 330.0 330.2 330.0 330.8 332.8 331.4 331.3 332.0 331.4 332.7 332.7 333.3 331.0 333.9 330.6 334.5 334.9 335.1 334.7 335.7 333.8 336.3 335.0 336.9 333.2 337.5 334.2 338.1 336.4 338.7 334.6 339.3 333.7 340.0 335.6 340.6 334.4 341.2 333.9 341.8 331.6 342.4 333.5 343.0 331.9 343.6 324.2 344.2 334.0 344.8 332.8 345.4 332.9 346.0 330.3 346.6 330.6 347.3 330.8 347.9 328.3 348.5 331.2 349.1 330.9 349.7 331.3 350.3 329.1 350.9 331.1 351.5 330.2 352.1 327.7 352.7 329.2 353.3 330.1 353.9 327.7 354.6 329.2 355.2 330.8 355.8 329.5 356.4 327.3 357.0 328.0 357.6 328.6 358.2 327.3 358.8 329.3 359.4 328.9 360.0 329.0 360.6 326.7 361.2 327.0 361.9 328.3 362.5 327.3 363.1 328.5 363.7 324.1 364.3 327.2 364.9 325.4 365.5 327.3 366.1 325.4 366.7 328.2 367.3 325.5 367.9 326.6 368.5 326.4 369.2 326.8 369.8 325.0 370.4 325.6 371.0 327.8 371.6 324.7 372.2 328.0 372.8 327.7 373.4 324.1 374.0 325.8 374.6 325.5 375.2 323.0 375.8 326.0 376.5 326.2 377.1 329.6 377.7 325.9 378.3 325.6 378.9 325.8 379.5 326.8 380.1 329.1 380.7 326.6 381.3 328.5 381.9 325.0 382.5 327.3 383.1 326.6 383.7 326.6 384.4 329.1 385.0 328.1 385.6 328.6 386.2 327.5 386.8 325.6 387.4 329.1 388.0 328.7 388.6 331.0 389.2 329.1 389.8 328.8 390.4 326.6 391.0 328.8 391.7 328.5 392.3 327.5 392.9 328.3 393.5 329.0 394.1 329.4 394.7 329.7 395.3 327.9 395.9 330.1 396.5 330.0 397.1 328.2 397.7 327.7 398.3 328.8 399.0 327.7 399.6 334.6 400.2 329.8 400.8 333.3 401.4 329.5 402.0 334.1 402.6 335.1 403.2 337.8 403.8 335.9 404.4 337.7 405.0 338.5 405.6 337.3 406.3 340.8 406.9 341.5 407.5 343.2 408.1 340.9 408.7 343.1 409.3 342.1 409.9 340.6 410.5 342.5 411.1 339.7 411.7 340.5 412.3 340.8 412.9 338.4 413.6 338.8 414.2 337.4 414.8 338.0 415.4 337.4 416.0 336.8 416.6 334.9 417.2 334.7 417.8 334.6 418.4 335.7 419.0 334.5 419.6 337.6 420.2 333.6 420.9 334.1 421.5 335.4 422.1 332.9 422.7 333.8 423.3 332.7 423.9 332.9 424.5 331.4 425.1 332.2 425.7 331.4 426.3 332.7 426.9 330.2 427.5 328.9 428.2 326.6 428.8 329.7 429.4 326.6 430.0 328.6 430.6 323.4 431.2 322.7 431.8 326.0 432.4 321.3 433.0 321.1 433.6 323.7 434.2 319.5 434.8 321.1 435.5 318.3 436.1 318.1 436.7 320.6 437.3 319.1 437.9 318.3 438.5 320.7 439.1 317.3 439.7 318.3 440.3 319.4 440.9 318.3 441.5 317.8 442.1 317.1 442.8 319.6 443.4 318.9 444.0 320.0 444.6 318.7 445.2 319.1 445.8 319.7 446.4 318.7 447.0 319.4 447.6 318.0 448.2 319.4 448.8 319.4 449.4 318.8 450.1 321.3 450.7 318.5 451.3 318.8 451.9 319.6 452.5 320.7 453.1 320.9 453.7 319.0 454.3 325.0 454.9 323.3 455.5 324.4 456.1 325.2 456.7 326.8 457.4 330.4 458.0 326.6 458.6 329.7 459.2 330.2 459.8 332.3 460.4 333.7 461.0 332.8 461.6 332.7 462.2 328.3 462.8 331.2 463.4 329.4 464.0 329.2 464.7 327.5 465.3 329.4 465.9 328.0 466.5 327.5 467.1 325.3 467.7 325.2 468.3 324.4 468.9 323.8 469.5 323.5 470.1 323.6 470.7 325.1 471.3 323.6 472.0 325.0 472.6 325.3 473.2 326.0 473.8 326.5 474.4 329.4 475.0 326.0 475.6 326.9 476.2 325.2 476.8 325.4 477.4 328.9 478.0 327.4 478.6 331.1 479.3 330.6 479.9 330.7 480.5 329.3 481.1 330.5 481.7 331.8 482.3 331.4 482.9 327.6 483.5 329.5 484.1 331.6 484.7 332.6 485.3 333.2 485.9 332.6 486.6 332.3 487.2 331.5 487.8 330.2 488.4 333.0 489.0 334.0 489.6 332.0 490.2 333.0 490.8 332.6 491.4 333.4 492.0 332.8 492.6 333.4 493.2 332.5 493.9 334.0 494.5 332.8 495.1 330.9 495.7 332.6 496.3 330.7 496.9 330.5 497.5 330.7 498.1 331.7 498.7 330.7 499.3 329.3 499.9 326.4 500.5 329.4 501.2 326.4 501.8 326.6 502.4 325.3 503.0 325.6 503.6 325.8 504.2 325.5 504.8 323.1 505.4 324.6 506.0 323.5 506.6 323.0 507.2 324.9 507.8 320.8 508.5 321.8 509.1 321.5 509.7 321.6 510.3 321.7 510.9 319.2 511.5 320.0 512.1 318.6 512.7 321.5 513.3 319.6 513.9 320.1 514.5 319.0 515.1 320.8 515.8 317.6 516.4 315.4 517.0 316.8 517.6 317.5 518.2 316.9 518.8 319.2 519.4 319.6 520.0 315.0 520.6 317.5 521.2 318.9 521.8 318.7 522.4 323.0 523.1 323.0 523.7 319.9 524.3 323.0 524.9 326.8 525.5 327.0 526.1 327.8 526.7 324.6 527.3 329.5 527.9 326.4 528.5 327.8 529.1 330.0 529.7 329.6 530.3 327.6 531.0 330.2 531.6 328.7 532.2 330.3 532.8 329.7 533.4 329.9 534.0 328.6 534.6 330.5 535.2 329.8 535.8 329.5 536.4 328.2 537.0 332.1 537.6 330.6 538.3 329.6 538.9 328.8 539.5 327.0 540.1 331.0 540.7 327.6 541.3 328.9 541.9 328.9 542.5 329.2 543.1 329.5 543.7 327.7 544.3 331.3 544.9 328.8 545.6 326.5 546.2 331.6 546.8 329.4 547.4 329.0 548.0 330.9 548.6 330.3 549.2 330.5 549.8 329.4 550.4 328.6 551.0 329.7 551.6 331.7 552.2 331.6 552.9 328.7 553.5 328.2 554.1 327.8 554.7 329.0 555.3 328.0 555.9 329.5 556.5 328.8 557.1 329.6 557.7 330.0 558.3 328.0 558.9 329.8 559.5 331.0 560.2 329.4 560.8 331.7 561.4 330.8 562.0 328.2 562.6 327.7 563.2 329.7 563.8 330.6 564.4 328.2 565.0 327.8 565.6 331.1 566.2 327.4 566.8 330.3 567.5 331.2 568.1 328.6 568.7 333.6 569.3 329.5 569.9 329.5 570.5 327.3 571.1 333.3 571.7 329.7 572.3 328.8 572.9 328.5 573.5 329.9 574.1 330.2 574.8 332.2 575.4 331.2 576.0 330.6 576.6 331.9 577.2 328.8 577.8 332.2 578.4 333.0 579.0 331.9 579.6 330.3 580.2 329.6 580.8 330.4 581.4 331.9 582.1 333.1 582.7 335.0 583.3 334.9 583.9 336.1 584.5 334.9 585.1 335.5 585.7 336.4 586.3 335.5 586.9 338.6 587.5 337.0 588.1 338.5 588.7 340.3 589.4 342.1 590.0 340.7 590.6 338.3 591.2 339.9 591.8 340.0 592.4 339.6 593.0 336.9 593.6 335.9 594.2 336.2 594.8 336.3 595.4 332.0 596.0 334.0 596.7 332.4 597.3 331.5 597.9 330.5 598.5 330.8 599.1 329.9 599.7 329.8 600.3 328.0 600.9 326.3 601.5 329.5 602.1 327.6 602.7 330.4 603.3 328.0 604.0 331.8 604.6 329.9 605.2 330.1 605.8 330.2 606.4 328.5 607.0 327.0 607.6 328.1 608.2 329.3 608.8 327.0 609.4 327.7 610.0 328.6 610.6 329.8 611.3 327.1 611.9 328.2 612.5 326.5 613.1 328.6 613.7 327.7 614.3 327.9 614.9 328.2 615.5 326.6 616.1 328.6 616.7 325.6 617.3 326.2 617.9 328.4 618.6 327.5 619.2 325.6 619.8 328.4 620.4 325.1 621.0 328.0 621.6 326.7 622.2 327.1 622.8 325.9 623.4 326.0 624.0 323.6 624.6 323.6 625.2 322.9 625.9 323.3 626.5 322.2 627.1 320.8 627.7 319.1 628.3 323.8 628.9 322.5 629.5 322.6 630.1 319.1 630.7 320.8 631.3 321.1 631.9 320.6 632.5 321.2 633.2 321.1 633.8 320.5 634.4 318.8 635.0 318.1 635.6 321.2 636.2 321.9 636.8 321.7 637.4 317.2 638.0 316.3 638.6 317.5 639.2 318.2 639.8 317.2 640.5 316.1 641.1 316.2 641.7 315.9 642.3 314.1 642.9 314.9 643.5 314.0 644.1 314.1 644.7 315.2 645.3 314.1 645.9 314.7 646.5 314.0 647.1 313.6 647.8 313.1 648.4 311.9 649.0 311.8 649.6 311.0 650.2 309.1 650.8 310.8 651.4 308.1 652.0 314.3 652.6 314.2 653.2 318.1 653.8 320.4 654.4 324.2 655.1 326.3 655.7 329.2 656.3 326.9 656.9 329.4 657.5 326.4 658.1 327.1 658.7 330.5 659.3 328.9 659.9 328.3 660.5 329.3 661.1 329.1 661.7 329.6 662.4 328.1 663.0 330.4 663.6 330.9 664.2 329.6 664.8 329.3 665.4 331.4 666.0 331.1 666.6 329.7 667.2 332.9 667.8 330.1 668.4 331.8 669.0 332.8 669.7 330.1 670.3 330.6 670.9 333.1 671.5 331.6 672.1 331.7 672.7 333.9 673.3 332.5 673.9 332.7 674.5 331.6 675.1 335.0 675.7 332.3 676.3 335.2 677.0 334.0 677.6 332.9 678.2 333.8 678.8 331.6 679.4 333.7 680.0 332.4 680.6 334.1 681.2 331.1 681.8 333.1" stroke="#c0392b" stroke-width="0.6" opacity="0.8"/>
</g>
<line x1="73.2" y1="242.6" x2="73.2" y2="386.5" stroke="#888" stroke-width="1"/>
<line x1="73.2" y1="386.5" x2="682.3" y2="386.5" stroke="#888" stroke-width="1"/>
<line x1="73.2" y1="242.6" x2="682.3" y2="242.6" stroke="#888" stroke-width="1"/>
<line x1="682.3" y1="242.6" x2="682.3" y2="386.5" stroke="#aaa" stroke-width="1"/>
<line x1="133.13" y1="386.5" x2="133.13" y2="380.5" stroke="#707070" stroke-width="0.8"/>
<line x1="133.13" y1="242.6" x2="133.13" y2="248.6" stroke="#707070" stroke-width="0.8"/>
<text x="133.13" y="396.5" font-size="6.8" text-anchor="middle" fill="#1e1e1e" >8.1</text>
<line x1="193.95999999999998" y1="386.5" x2="193.95999999999998" y2="380.5" stroke="#707070" stroke-width="0.8"/>
<line x1="193.95999999999998" y1="242.6" x2="193.95999999999998" y2="248.6" stroke="#707070" stroke-width="0.8"/>
<text x="193.95999999999998" y="396.5" font-size="6.8" text-anchor="middle" fill="#1e1e1e" >8.2</text>
<line x1="254.78999999999996" y1="386.5" x2="254.78999999999996" y2="380.5" stroke="#707070" stroke-width="0.8"/>
<line x1="254.78999999999996" y1="242.6" x2="254.78999999999996" y2="248.6" stroke="#707070" stroke-width="0.8"/>
<text x="254.78999999999996" y="396.5" font-size="6.8" text-anchor="middle" fill="#1e1e1e" >8.3</text>
<line x1="315.62" y1="386.5" x2="315.62" y2="380.5" stroke="#707070" stroke-width="0.8"/>
<line x1="315.62" y1="242.6" x2="315.62" y2="248.6" stroke="#707070" stroke-width="0.8"/>
<text x="315.62" y="396.5" font-size="6.8" text-anchor="middle" fill="#1e1e1e" >8.4</text>
<line x1="376.45" y1="386.5" x2="376.45" y2="380.5" stroke="#707070" stroke-width="0.8"/>
<line x1="376.45" y1="242.6" x2="376.45" y2="248.6" stroke="#707070" stroke-width="0.8"/>
<text x="376.45" y="396.5" font-size="6.8" text-anchor="middle" fill="#1e1e1e" >8.5</text>
<line x1="437.28" y1="386.5" x2="437.28" y2="380.5" stroke="#707070" stroke-width="0.8"/>
<line x1="437.28" y1="242.6" x2="437.28" y2="248.6" stroke="#707070" stroke-width="0.8"/>
<text x="437.28" y="396.5" font-size="6.8" text-anchor="middle" fill="#1e1e1e" >8.6</text>
<line x1="498.10999999999996" y1="386.5" x2="498.10999999999996" y2="380.5" stroke="#707070" stroke-width="0.8"/>
<line x1="498.10999999999996" y1="242.6" x2="498.10999999999996" y2="248.6" stroke="#707070" stroke-width="0.8"/>
<text x="498.10999999999996" y="396.5" font-size="6.8" text-anchor="middle" fill="#1e1e1e" >8.7</text>
<line x1="558.9399999999999" y1="386.5" x2="558.9399999999999" y2="380.5" stroke="#707070" stroke-width="0.8"/>
<line x1="558.9399999999999" y1="242.6" x2="558.9399999999999" y2="248.6" stroke="#707070" stroke-width="0.8"/>
<text x="558.9399999999999" y="396.5" font-size="6.8" text-anchor="middle" fill="#1e1e1e" >8.8</text>
<line x1="619.77" y1="386.5" x2="619.77" y2="380.5" stroke="#707070" stroke-width="0.8"/>
<line x1="619.77" y1="242.6" x2="619.77" y2="248.6" stroke="#707070" stroke-width="0.8"/>
<text x="619.77" y="396.5" font-size="6.8" text-anchor="middle" fill="#1e1e1e" >8.9</text>
<line x1="680.5999999999999" y1="386.5" x2="680.5999999999999" y2="380.5" stroke="#707070" stroke-width="0.8"/>
<line x1="680.5999999999999" y1="242.6" x2="680.5999999999999" y2="248.6" stroke="#707070" stroke-width="0.8"/>
<text x="680.5999999999999" y="396.5" font-size="6.8" text-anchor="middle" fill="#1e1e1e" >9</text>
<line x1="73.2" y1="247.24" x2="79.2" y2="247.24" stroke="#707070" stroke-width="0.8"/>
<line x1="682.3" y1="247.24" x2="676.3" y2="247.24" stroke="#707070" stroke-width="0.8"/>
<text x="70.7" y="249.62" font-size="6.8" text-anchor="end" fill="#1e1e1e" >600</text>
<line x1="73.2" y1="274.36" x2="79.2" y2="274.36" stroke="#707070" stroke-width="0.8"/>
<line x1="682.3" y1="274.36" x2="676.3" y2="274.36" stroke="#707070" stroke-width="0.8"/>
<text x="70.7" y="276.74" font-size="6.8" text-anchor="end" fill="#1e1e1e" >400</text>
<line x1="73.2" y1="301.48" x2="79.2" y2="301.48" stroke="#707070" stroke-width="0.8"/>
<line x1="682.3" y1="301.48" x2="676.3" y2="301.48" stroke="#707070" stroke-width="0.8"/>
<text x="70.7" y="303.86" font-size="6.8" text-anchor="end" fill="#1e1e1e" >200</text>
<line x1="73.2" y1="328.6" x2="79.2" y2="328.6" stroke="#707070" stroke-width="0.8"/>
<line x1="682.3" y1="328.6" x2="676.3" y2="328.6" stroke="#707070" stroke-width="0.8"/>
<text x="70.7" y="330.98" font-size="6.8" text-anchor="end" fill="#1e1e1e" >0</text>
<line x1="73.2" y1="355.72" x2="79.2" y2="355.72" stroke="#707070" stroke-width="0.8"/>
<line x1="682.3" y1="355.72" x2="676.3" y2="355.72" stroke="#707070" stroke-width="0.8"/>
<text x="70.7" y="358.1" font-size="6.8" text-anchor="end" fill="#1e1e1e" >-200</text>
<line x1="73.2" y1="382.84000000000003" x2="79.2" y2="382.84000000000003" stroke="#707070" stroke-width="0.8"/>
<line x1="682.3" y1="382.84000000000003" x2="676.3" y2="382.84000000000003" stroke="#707070" stroke-width="0.8"/>
<text x="70.7" y="385.22" font-size="6.8" text-anchor="end" fill="#1e1e1e" >-400</text>
<text x="378" y="406.3" font-size="8.0" text-anchor="middle" fill="#1e1e1e" >Time/s</text>
<text transform="translate(52.6,314.7) rotate(-90)" font-size="8.1" text-anchor="middle" fill="#1e1e1e">Amplitude/uV</text>
<rect x="537" y="246.7" width="143" height="26" fill="#fff" stroke="none"/>
<line x1="537" y1="246.7" x2="680" y2="246.7" stroke="#aaa" stroke-width="0.8"/>
<line x1="539" y1="252.4" x2="556" y2="252.4" stroke="#a8e6b0" stroke-width="0.8"/>
<text x="557.4" y="254.70000000000002" font-size="6.65" text-anchor="start" fill="#1e1e1e" >The Signal After Adding Noise</text>
<line x1="539" y1="261.1" x2="556" y2="261.1" stroke="#d27070" stroke-width="0.8"/>
<text x="557.4" y="263.40000000000003" font-size="6.65" text-anchor="start" fill="#1e1e1e" >Improved Threshold Function Denoising</text>
<line x1="539" y1="269.8" x2="556" y2="269.8" stroke="#7ab8dc" stroke-width="0.8"/>
<text x="557.4" y="272.1" font-size="6.65" text-anchor="start" fill="#1e1e1e" >Original Signal</text>
<clipPath id="cpC"><rect x="74.3" y="458.2" width="608.3000000000001" height="138.2"/></clipPath>
<g clip-path="url(#cpC)" fill="none" stroke-linejoin="round">
<path d="M74.4 538.5L75.0 537.8 75.6 528.0 76.2 529.1 76.8 537.4 77.4 545.4 78.0 545.5 78.6 553.0 79.2 550.4 79.8 559.6 80.4 561.4 81.0 563.9 81.6 560.5 82.2 565.6 82.8 553.8 83.4 558.1 84.0 550.8 84.6 549.0 85.2 553.4 85.8 551.7 86.4 547.5 87.0 545.5 87.7 551.4 88.3 551.4 88.9 546.5 89.5 539.0 90.1 538.6 90.7 533.6 91.3 536.9 91.9 534.9 92.5 533.9 93.1 534.7 93.7 537.4 94.3 530.1 94.9 533.2 95.5 526.2 96.1 539.3 96.7 526.2 97.3 530.7 97.9 535.2 98.5 534.9 99.1 532.3 99.7 528.2 100.3 529.4 100.9 524.0 101.5 535.0 102.1 528.4 102.7 531.1 103.3 522.5 103.9 530.4 104.5 538.7 105.1 532.6 105.7 530.6 106.3 529.9 106.9 527.9 107.5 525.9 108.1 533.3 108.7 533.5 109.3 523.7 109.9 533.1 110.5 525.5 111.1 535.8 111.7 532.8 112.3 531.7 112.9 533.8 113.5 522.4 114.2 535.1 114.8 527.3 115.4 524.9 116.0 519.7 116.6 534.4 117.2 528.5 117.8 526.2 118.4 535.5 119.0 526.4 119.6 515.7 120.2 535.3 120.8 542.2 121.4 538.6 122.0 536.2 122.6 535.9 123.2 528.2 123.8 540.2 124.4 532.8 125.0 531.5 125.6 544.6 126.2 537.3 126.8 529.5 127.4 539.7 128.0 536.6 128.6 545.1 129.2 538.7 129.8 528.9 130.4 547.3 131.0 543.8 131.6 543.9 132.2 537.1 132.8 528.8 133.4 534.5 134.0 533.5 134.6 537.7 135.2 538.2 135.8 533.3 136.4 540.6 137.0 539.5 137.6 531.0 138.2 529.2 138.8 554.0 139.4 559.7 140.1 561.8 140.7 555.8 141.3 562.8 141.9 549.4 142.5 552.8 143.1 560.1 143.7 560.6 144.3 564.6 144.9 558.3 145.5 558.3 146.1 547.3 146.7 550.4 147.3 551.3 147.9 561.9 148.5 558.3 149.1 559.1 149.7 558.4 150.3 558.8 150.9 559.5 151.5 559.5 152.1 554.8 152.7 560.8 153.3 559.2 153.9 556.0 154.5 562.0 155.1 559.3 155.7 566.0 156.3 563.4 156.9 557.8 157.5 562.7 158.1 553.8 158.7 560.9 159.3 565.2 159.9 559.2 160.5 557.3 161.1 553.1 161.7 554.7 162.3 558.6 162.9 551.1 163.5 558.6 164.1 560.2 164.7 555.8 165.3 554.5 165.9 548.0 166.6 553.6 167.2 550.8 167.8 561.2 168.4 546.4 169.0 549.0 169.6 551.2 170.2 550.2 170.8 549.6 171.4 550.1 172.0 545.6 172.6 549.2 173.2 548.1 173.8 541.2 174.4 547.0 175.0 544.0 175.6 547.4 176.2 534.3 176.8 538.0 177.4 553.7 178.0 558.6 178.6 538.4 179.2 548.0 179.8 542.6 180.4 534.6 181.0 539.7 181.6 539.7 182.2 531.6 182.8 536.8 183.4 542.3 184.0 535.9 184.6 542.9 185.2 539.2 185.8 533.6 186.4 550.2 187.0 545.2 187.6 539.0 188.2 531.3 188.8 535.5 189.4 534.6 190.0 528.5 190.6 529.5 191.2 538.6 191.8 529.5 192.5 535.5 193.1 532.9 193.7 533.5 194.3 527.8 194.9 532.8 195.5 539.0 196.1 530.3 196.7 531.9 197.3 530.3 197.9 532.4 198.5 533.3 199.1 528.6 199.7 528.8 200.3 526.8 200.9 523.5 201.5 527.7 202.1 522.4 202.7 523.8 203.3 530.9 203.9 516.5 204.5 515.9 205.1 529.8 205.7 538.0 206.3 543.1 206.9 555.9 207.5 547.4 208.1 548.5 208.7 549.1 209.3 542.4 209.9 551.4 210.5 545.7 211.1 544.8 211.7 546.7 212.3 539.5 212.9 544.0 213.5 541.3 214.1 539.4 214.7 537.9 215.3 535.6 215.9 534.7 216.5 538.9 217.1 535.0 217.7 536.2 218.3 536.9 219.0 539.8 219.6 533.7 220.2 536.3 220.8 535.0 221.4 543.0 222.0 547.7 222.6 540.9 223.2 540.6 223.8 543.2 224.4 538.3 225.0 545.9 225.6 541.8 226.2 537.0 226.8 531.8 227.4 518.6 228.0 539.3 228.6 558.9 229.2 537.8 229.8 533.7 230.4 542.2 231.0 546.0 231.6 533.9 232.2 547.0 232.8 534.1 233.4 530.1 234.0 532.1 234.6 547.0 235.2 535.4 235.8 542.8 236.4 535.1 237.0 535.2 237.6 538.2 238.2 542.2 238.8 545.9 239.4 540.6 240.0 539.0 240.6 544.4 241.2 531.3 241.8 531.7 242.4 531.1 243.0 544.5 243.6 551.1 244.2 533.9 244.9 539.2 245.5 533.6 246.1 543.2 246.7 533.2 247.3 547.1 247.9 532.8 248.5 531.4 249.1 535.3 249.7 542.3 250.3 539.9 250.9 534.7 251.5 533.8 252.1 534.4 252.7 530.3 253.3 537.1 253.9 548.0 254.5 550.3 255.1 544.1 255.7 543.2 256.3 535.5 256.9 539.8 257.5 536.9 258.1 534.6 258.7 539.8 259.3 541.3 259.9 534.8 260.5 539.3 261.1 528.2 261.7 540.4 262.3 532.7 262.9 529.0 263.5 533.4 264.1 534.8 264.7 540.0 265.3 532.1 265.9 534.1 266.5 546.4 267.1 532.4 267.7 530.7 268.3 535.9 268.9 532.5 269.5 529.3 270.1 529.5 270.7 529.8 271.4 529.1 272.0 534.9 272.6 534.9 273.2 551.0 273.8 545.1 274.4 537.9 275.0 536.3 275.6 532.0 276.2 527.7 276.8 530.5 277.4 551.9 278.0 547.8 278.6 546.9 279.2 559.5 279.8 558.9 280.4 552.2 281.0 552.1 281.6 555.3 282.2 551.4 282.8 563.8 283.4 556.7 284.0 556.2 284.6 550.8 285.2 541.0 285.8 558.6 286.4 560.0 287.0 554.2 287.6 541.7 288.2 544.5 288.8 546.8 289.4 545.4 290.0 546.8 290.6 541.5 291.2 550.2 291.8 544.4 292.4 540.3 293.0 538.6 293.6 556.0 294.2 551.5 294.8 535.6 295.4 545.6 296.0 542.9 296.6 542.2 297.3 536.9 297.9 545.8 298.5 538.8 299.1 533.9 299.7 530.4 300.3 535.5 300.9 530.6 301.5 532.5 302.1 532.2 302.7 539.8 303.3 540.4 303.9 533.6 304.5 538.5 305.1 538.6 305.7 536.4 306.3 533.8 306.9 539.3 307.5 540.4 308.1 530.4 308.7 549.4 309.3 541.6 309.9 531.1 310.5 541.2 311.1 540.9 311.7 538.9 312.3 537.3 312.9 538.4 313.5 534.5 314.1 530.2 314.7 540.5 315.3 529.7 315.9 543.7 316.5 535.8 317.1 539.7 317.7 539.5 318.3 534.0 318.9 548.7 319.5 532.5 320.1 534.7 320.7 534.6 321.3 541.8 321.9 532.9 322.5 536.3 323.1 536.9 323.8 548.8 324.4 538.9 325.0 541.9 325.6 544.4 326.2 533.4 326.8 535.2 327.4 540.5 328.0 542.1 328.6 544.7 329.2 545.1 329.8 539.4 330.4 541.0 331.0 542.5 331.6 537.5 332.2 541.4 332.8 541.4 333.4 543.0 334.0 548.4 334.6 550.0 335.2 540.3 335.8 554.0 336.4 551.1 337.0 548.5 337.6 544.8 338.2 558.3 338.8 542.9 339.4 551.0 340.0 544.8 340.6 539.0 341.2 549.9 341.8 547.2 342.4 540.0 343.0 521.8 343.6 552.9 344.2 563.1 344.8 554.2 345.4 547.2 346.0 542.5 346.6 536.7 347.2 540.0 347.8 542.2 348.4 551.2 349.0 547.1 349.7 543.2 350.3 549.1 350.9 538.8 351.5 546.9 352.1 545.0 352.7 540.3 353.3 546.4 353.9 547.1 354.5 541.5 355.1 542.2 355.7 548.7 356.3 546.3 356.9 540.5 357.5 547.4 358.1 541.6 358.7 546.2 359.3 548.9 359.9 539.9 360.5 537.6 361.1 542.6 361.7 545.6 362.3 539.2 362.9 540.6 363.5 542.2 364.1 541.4 364.7 549.3 365.3 540.6 365.9 535.4 366.5 541.7 367.1 540.4 367.7 537.9 368.3 537.1 368.9 533.5 369.5 535.4 370.1 544.1 370.7 531.5 371.3 543.4 371.9 541.9 372.5 535.6 373.1 538.3 373.7 540.3 374.3 548.9 374.9 537.0 375.6 530.5 376.2 545.4 376.8 538.9 377.4 542.3 378.0 541.1 378.6 546.4 379.2 543.4 379.8 538.0 380.4 540.7 381.0 537.0 381.6 539.9 382.2 546.1 382.8 538.0 383.4 542.8 384.0 540.4 384.6 545.7 385.2 541.4 385.8 543.3 386.4 537.1 387.0 539.9 387.6 542.4 388.2 542.4 388.8 543.1 389.4 542.7 390.0 540.4 390.6 538.4 391.2 539.7 391.8 544.2 392.4 539.0 393.0 537.6 393.6 543.8 394.2 548.3 394.8 550.0 395.4 543.8 396.0 537.3 396.6 540.6 397.2 538.7 397.8 530.2 398.4 548.5 399.0 557.0 399.6 546.5 400.2 544.8 400.8 553.5 401.4 547.9 402.1 544.8 402.7 550.3 403.3 556.3 403.9 541.5 404.5 533.7 405.1 558.6 405.7 553.6 406.3 551.3 406.9 555.7 407.5 554.9 408.1 556.8 408.7 553.4 409.3 551.6 409.9 555.0 410.5 558.2 411.1 554.2 411.7 548.7 412.3 551.2 412.9 546.7 413.5 553.0 414.1 545.4 414.7 554.2 415.3 555.7 415.9 543.2 416.5 550.6 417.1 546.9 417.7 541.3 418.3 555.3 418.9 552.9 419.5 546.1 420.1 550.8 420.7 547.9 421.3 541.3 421.9 547.5 422.5 537.8 423.1 543.8 423.7 555.7 424.3 553.4 424.9 544.0 425.5 536.8 426.1 546.9 426.7 550.3 427.3 541.0 428.0 545.1 428.6 540.0 429.2 546.2 429.8 526.8 430.4 542.1 431.0 540.8 431.6 540.5 432.2 531.6 432.8 536.8 433.4 533.1 434.0 537.4 434.6 530.6 435.2 532.1 435.8 535.1 436.4 537.5 437.0 534.2 437.6 532.0 438.2 529.0 438.8 532.6 439.4 533.0 440.0 528.7 440.6 529.6 441.2 538.5 441.8 534.6 442.4 541.5 443.0 532.2 443.6 535.6 444.2 524.6 444.8 530.6 445.4 535.6 446.0 541.5 446.6 536.3 447.2 531.9 447.8 525.8 448.4 535.1 449.0 541.5 449.6 534.9 450.2 538.2 450.8 538.4 451.4 528.7 452.0 520.0 452.6 544.8 453.2 552.3 453.8 544.7 454.5 542.3 455.1 541.1 455.7 534.5 456.3 533.3 456.9 540.6 457.5 552.8 458.1 551.4 458.7 551.1 459.3 548.9 459.9 545.8 460.5 543.0 461.1 539.0 461.7 537.9 462.3 549.1 462.9 541.3 463.5 550.0 464.1 537.5 464.7 537.2 465.3 543.3 465.9 535.1 466.5 541.8 467.1 540.2 467.7 535.7 468.3 538.0 468.9 540.8 469.5 537.9 470.1 541.0 470.7 542.9 471.3 542.9 471.9 531.3 472.5 542.7 473.1 546.3 473.7 541.4 474.3 536.5 474.9 532.8 475.5 536.0 476.1 550.8 476.7 542.4 477.3 540.9 477.9 551.8 478.5 541.9 479.1 540.6 479.7 544.5 480.4 544.6 481.0 545.3 481.6 536.8 482.2 543.1 482.8 548.2 483.4 552.2 484.0 544.6 484.6 550.9 485.2 546.7 485.8 553.0 486.4 544.5 487.0 551.2 487.6 548.8 488.2 541.6 488.8 549.5 489.4 551.9 490.0 550.4 490.6 551.0 491.2 540.4 491.8 542.0 492.4 548.4 493.0 540.4 493.6 538.3 494.2 546.3 494.8 547.4 495.4 545.9 496.0 545.3 496.6 554.5 497.2 543.8 497.8 537.9 498.4 547.2 499.0 538.3 499.6 538.8 500.2 537.6 500.8 539.8 501.4 540.3 502.0 547.2 502.6 544.0 503.2 535.4 503.8 538.1 504.4 532.9 505.0 539.0 505.6 539.7 506.2 539.9 506.9 532.3 507.5 536.8 508.1 532.6 508.7 526.7 509.3 522.6 509.9 530.4 510.5 536.5 511.1 542.3 511.7 544.9 512.3 532.6 512.9 539.9 513.5 535.4 514.1 537.9 514.7 531.5 515.3 529.9 515.9 534.2 516.5 531.5 517.1 528.3 517.7 531.4 518.3 530.0 518.9 534.0 519.5 530.8 520.1 540.1 520.7 540.9 521.3 525.4 521.9 534.9 522.5 546.2 523.1 547.0 523.7 543.7 524.3 540.1 524.9 540.0 525.5 545.9 526.1 541.0 526.7 546.1 527.3 544.1 527.9 536.7 528.5 547.1 529.1 546.6 529.7 542.8 530.3 544.5 530.9 542.1 531.5 541.8 532.1 545.7 532.8 548.9 533.4 546.7 534.0 547.7 534.6 537.1 535.2 552.0 535.8 546.2 536.4 543.3 537.0 543.0 537.6 550.6 538.2 542.7 538.8 547.0 539.4 552.7 540.0 538.2 540.6 544.5 541.2 535.1 541.8 546.7 542.4 550.2 543.0 540.9 543.6 546.5 544.2 547.7 544.8 541.9 545.4 543.3 546.0 544.4 546.6 542.9 547.2 548.0 547.8 544.4 548.4 542.3 549.0 542.3 549.6 537.1 550.2 539.6 550.8 543.2 551.4 549.5 552.0 542.7 552.6 546.8 553.2 540.4 553.8 545.9 554.4 550.6 555.0 547.8 555.6 546.9 556.2 547.1 556.8 542.1 557.4 539.0 558.0 548.6 558.6 539.1 559.3 541.3 559.9 542.7 560.5 544.1 561.1 541.5 561.7 544.3 562.3 545.8 562.9 540.7 563.5 545.3 564.1 541.2 564.7 539.7 565.3 543.8 565.9 535.1 566.5 545.0 567.1 536.1 567.7 534.3 568.3 549.6 568.9 549.9 569.5 542.6 570.1 545.2 570.7 538.3 571.3 544.0 571.9 544.7 572.5 542.2 573.1 547.6 573.7 544.8 574.3 546.2 574.9 547.1 575.5 545.6 576.1 546.7 576.7 538.7 577.3 548.4 577.9 547.2 578.5 552.4 579.1 542.6 579.7 544.2 580.3 542.5 580.9 552.2 581.5 548.7 582.1 547.3 582.7 553.5 583.3 542.5 583.9 553.7 584.5 552.2 585.2 554.7 585.8 552.4 586.4 550.5 587.0 547.1 587.6 552.1 588.2 548.6 588.8 556.4 589.4 546.1 590.0 554.7 590.6 558.5 591.2 541.9 591.8 555.1 592.4 546.6 593.0 549.4 593.6 548.1 594.2 545.9 594.8 540.2 595.4 540.5 596.0 543.2 596.6 539.1 597.2 536.2 597.8 546.6 598.4 538.1 599.0 545.1 599.6 544.1 600.2 539.7 600.8 549.1 601.4 537.4 602.0 545.5 602.6 541.3 603.2 535.5 603.8 535.6 604.4 539.3 605.0 549.4 605.6 544.9 606.2 544.9 606.8 547.9 607.4 538.9 608.0 545.4 608.6 540.3 609.2 544.2 609.8 533.7 610.4 541.8 611.0 541.3 611.7 548.8 612.3 540.8 612.9 532.0 613.5 542.9 614.1 540.7 614.7 547.8 615.3 541.7 615.9 548.3 616.5 544.8 617.1 538.1 617.7 539.9 618.3 532.9 618.9 543.2 619.5 541.2 620.1 541.8 620.7 541.5 621.3 538.9 621.9 538.2 622.5 536.6 623.1 533.2 623.7 536.5 624.3 529.0 624.9 552.1 625.5 539.0 626.1 542.6 626.7 537.9 627.3 535.7 627.9 531.6 628.5 536.8 629.1 534.3 629.7 528.2 630.3 529.0 630.9 540.3 631.5 535.0 632.1 531.4 632.7 527.6 633.3 538.0 633.9 526.6 634.5 531.4 635.1 530.1 635.7 538.5 636.3 532.9 636.9 532.8 637.6 533.9 638.2 530.8 638.8 535.3 639.4 529.8 640.0 530.2 640.6 528.0 641.2 520.5 641.8 527.6 642.4 523.5 643.0 528.4 643.6 522.7 644.2 527.4 644.8 529.3 645.4 522.4 646.0 533.6 646.6 531.8 647.2 519.3 647.8 520.4 648.4 536.8 649.0 539.8 649.6 537.5 650.2 530.0 650.8 544.1 651.4 542.8 652.0 536.7 652.6 533.2 653.2 545.1 653.8 539.8 654.4 543.4 655.0 541.4 655.6 536.9 656.2 543.2 656.8 543.6 657.4 547.6 658.0 541.7 658.6 537.9 659.2 549.1 659.8 537.7 660.4 540.5 661.0 546.5 661.6 543.8 662.2 540.1 662.8 544.4 663.4 545.6 664.1 539.5 664.7 536.8 665.3 550.1 665.9 541.7 666.5 545.5 667.1 545.3 667.7 551.7 668.3 549.7 668.9 544.8 669.5 543.8 670.1 539.1 670.7 548.7 671.3 546.3 671.9 547.7 672.5 545.9 673.1 548.4 673.7 544.1 674.3 544.8 674.9 548.0 675.5 549.3 676.1 545.0 676.7 549.0 677.3 550.4 677.9 551.2 678.5 547.6 679.1 553.1 679.7 543.3 680.3 547.2 680.9 538.5 681.5 541.3 682.1 546.9 682.7 552.1 683.3 545.9 683.9 550.6" stroke="#1fd41f" stroke-width="1.2"/>
<path d="M74.4 539.5L75.0 538.0 75.6 520.6 76.2 499.2 76.8 547.7 77.4 552.3 78.0 543.6 78.6 547.2 79.2 552.3 79.8 558.0 80.4 563.7 81.0 563.5 81.6 563.0 82.2 562.4 82.8 551.3 83.4 549.7 84.0 565.1 84.6 564.1 85.2 551.9 85.8 546.1 86.4 543.8 87.0 545.1 87.7 544.9 88.3 543.3 88.9 542.0 89.5 539.8 90.1 538.1 90.7 534.7 91.3 532.1 91.9 533.1 92.5 536.3 93.1 532.8 93.7 533.8 94.3 531.9 94.9 532.2 95.5 531.0 96.1 531.6 96.7 532.7 97.3 531.1 97.9 532.5 98.5 530.5 99.1 530.6 99.7 531.8 100.3 531.0 100.9 531.4 101.5 532.1 102.1 530.4 102.7 530.8 103.3 530.3 103.9 530.0 104.5 529.6 105.1 529.8 105.7 530.5 106.3 530.3 106.9 529.9 107.5 530.2 108.1 535.9 108.7 531.3 109.3 529.3 109.9 528.1 110.5 530.0 111.1 529.3 111.7 529.5 112.3 529.3 112.9 529.1 113.5 528.8 114.2 528.9 114.8 527.0 115.4 527.8 116.0 528.7 116.6 528.4 117.2 527.3 117.8 527.3 118.4 528.1 119.0 506.8 119.6 486.0 120.2 558.0 120.8 564.6 121.4 547.8 122.0 535.8 122.6 531.8 123.2 534.9 123.8 531.3 124.4 523.3 125.0 547.0 125.6 548.4 126.2 540.5 126.8 537.2 127.4 536.7 128.0 536.8 128.6 536.4 129.2 531.0 129.8 521.4 130.4 547.7 131.0 550.5 131.6 542.5 132.2 532.7 132.8 530.3 133.4 529.2 134.0 542.2 134.6 545.2 135.2 539.5 135.8 537.7 136.4 538.6 137.0 538.1 137.6 524.6 138.2 508.0 138.8 572.9 139.4 583.5 140.1 561.2 140.7 551.5 141.3 554.7 141.9 557.2 142.5 556.6 143.1 558.0 143.7 559.0 144.3 558.7 144.9 557.4 145.5 557.8 146.1 556.9 146.7 555.9 147.3 557.9 147.9 556.9 148.5 557.3 149.1 558.5 149.7 558.1 150.3 558.9 150.9 559.2 151.5 558.9 152.1 558.4 152.7 557.9 153.3 559.8 153.9 558.7 154.5 563.2 155.1 561.6 155.7 558.8 156.3 560.1 156.9 558.9 157.5 560.4 158.1 560.6 158.7 559.0 159.3 560.5 159.9 560.0 160.5 558.9 161.1 558.5 161.7 558.5 162.3 559.5 162.9 558.8 163.5 557.0 164.1 556.7 164.7 557.7 165.3 550.7 165.9 552.9 166.6 554.5 167.2 555.3 167.8 553.0 168.4 553.9 169.0 551.9 169.6 551.8 170.2 552.8 170.8 551.7 171.4 550.7 172.0 549.6 172.6 550.9 173.2 549.5 173.8 548.0 174.4 547.4 175.0 547.9 175.6 547.1 176.2 523.4 176.8 501.0 177.4 569.4 178.0 572.0 178.6 553.2 179.2 544.6 179.8 540.9 180.4 540.3 181.0 539.4 181.6 539.5 182.2 541.1 182.8 538.4 183.4 538.9 184.0 538.1 184.6 538.6 185.2 529.5 185.8 518.3 186.4 554.3 187.0 555.4 187.6 542.4 188.2 537.4 188.8 535.7 189.4 535.7 190.0 535.3 190.6 534.2 191.2 534.0 191.8 534.2 192.5 533.6 193.1 533.3 193.7 526.0 194.3 517.7 194.9 539.4 195.5 541.6 196.1 534.0 196.7 530.3 197.3 531.4 197.9 529.9 198.5 530.1 199.1 531.1 199.7 529.1 200.3 527.9 200.9 528.8 201.5 528.4 202.1 526.6 202.7 525.8 203.3 526.3 203.9 504.4 204.5 475.7 205.1 550.9 205.7 558.5 206.3 549.6 206.9 547.6 207.5 554.4 208.1 553.5 208.7 552.4 209.3 549.7 209.9 549.1 210.5 545.4 211.1 545.9 211.7 545.7 212.3 543.8 212.9 542.3 213.5 536.0 214.1 537.1 214.7 538.3 215.3 537.5 215.9 535.6 216.5 534.7 217.1 537.1 217.7 537.4 218.3 536.9 219.0 536.8 219.6 537.5 220.2 537.5 220.8 538.8 221.4 539.3 222.0 539.0 222.6 539.3 223.2 538.8 223.8 539.3 224.4 542.3 225.0 540.6 225.6 541.4 226.2 542.3 226.8 518.9 227.4 493.1 228.0 566.4 228.6 577.6 229.2 553.7 229.8 539.2 230.4 540.0 231.0 538.6 231.6 538.5 232.2 538.7 232.8 538.3 233.4 538.6 234.0 539.4 234.6 539.3 235.2 538.4 235.8 537.7 236.4 534.2 237.0 536.8 237.6 538.3 238.2 539.8 238.8 539.2 239.4 538.7 240.0 538.4 240.6 538.6 241.2 538.6 241.8 535.7 242.4 530.9 243.0 554.0 243.6 559.7 244.2 546.3 244.9 538.7 245.5 537.3 246.1 538.0 246.7 537.4 247.3 537.6 247.9 539.0 248.5 538.8 249.1 539.7 249.7 537.9 250.3 538.3 250.9 538.4 251.5 538.4 252.1 533.9 252.7 522.6 253.3 557.9 253.9 565.6 254.5 549.4 255.1 540.0 255.7 539.2 256.3 538.2 256.9 538.8 257.5 539.1 258.1 538.2 258.7 538.7 259.3 540.3 259.9 539.5 260.5 536.1 261.1 529.6 261.7 545.1 262.3 546.0 262.9 533.7 263.5 535.9 264.1 538.2 264.7 538.5 265.3 540.3 265.9 538.6 266.5 538.5 267.1 537.7 267.7 538.5 268.3 538.8 268.9 537.3 269.5 537.8 270.1 538.4 270.7 538.2 271.4 537.8 272.0 536.9 272.6 536.4 273.2 545.2 273.8 539.9 274.4 537.3 275.0 537.1 275.6 536.5 276.2 514.1 276.8 487.1 277.4 559.4 278.0 565.9 278.6 558.6 279.2 554.3 279.8 554.6 280.4 555.5 281.0 556.0 281.6 557.1 282.2 555.5 282.8 554.2 283.4 553.0 284.0 556.9 284.6 535.6 285.2 509.9 285.8 572.2 286.4 578.9 287.0 556.6 287.6 543.7 288.2 544.0 288.8 537.7 289.4 532.0 290.0 552.9 290.6 554.2 291.2 546.8 291.8 542.6 292.4 542.9 293.0 543.4 293.6 547.4 294.2 538.8 294.8 527.5 295.4 546.6 296.0 549.2 296.6 544.2 297.3 540.5 297.9 539.8 298.5 539.2 299.1 538.8 299.7 538.1 300.3 538.6 300.9 538.1 301.5 538.3 302.1 538.5 302.7 537.5 303.3 537.4 303.9 536.1 304.5 536.9 305.1 537.7 305.7 536.5 306.3 537.0 306.9 535.4 307.5 533.1 308.1 526.4 308.7 549.5 309.3 547.8 309.9 539.1 310.5 536.9 311.1 536.9 311.7 535.2 312.3 534.0 312.9 534.3 313.5 536.0 314.1 535.6 314.7 536.9 315.3 537.7 315.9 535.9 316.5 536.6 317.1 537.7 317.7 534.4 318.3 529.4 318.9 544.3 319.5 546.7 320.1 541.4 320.7 539.1 321.3 539.7 321.9 535.3 322.5 536.8 323.1 540.6 323.8 541.5 324.4 539.4 325.0 540.2 325.6 541.0 326.2 541.9 326.8 542.1 327.4 543.7 328.0 543.0 328.6 543.2 329.2 544.0 329.8 543.9 330.4 545.2 331.0 544.9 331.6 546.6 332.2 545.8 332.8 546.7 333.4 547.6 334.0 547.3 334.6 547.4 335.2 542.9 335.8 544.8 336.4 549.1 337.0 548.3 337.6 548.8 338.2 550.3 338.8 548.1 339.4 549.7 340.0 547.6 340.6 547.4 341.2 546.3 341.8 547.5 342.4 511.3 343.0 467.3 343.6 571.6 344.2 578.2 344.8 556.7 345.4 545.3 346.0 545.6 346.6 546.2 347.2 545.4 347.8 544.7 348.4 544.3 349.0 545.2 349.7 548.0 350.3 547.4 350.9 543.3 351.5 544.4 352.1 543.2 352.7 544.0 353.3 543.9 353.9 543.5 354.5 541.8 355.1 543.3 355.7 542.2 356.3 542.4 356.9 539.3 357.5 535.5 358.1 548.0 358.7 550.9 359.3 544.7 359.9 541.6 360.5 542.2 361.1 541.3 361.7 542.2 362.3 540.8 362.9 541.8 363.5 541.3 364.1 540.4 364.7 542.4 365.3 542.4 365.9 541.1 366.5 539.7 367.1 542.6 367.7 539.2 368.3 539.1 368.9 540.8 369.5 539.0 370.1 539.7 370.7 539.6 371.3 541.8 371.9 540.5 372.5 540.3 373.1 540.6 373.7 540.6 374.3 540.6 374.9 539.1 375.6 530.4 376.2 549.4 376.8 552.5 377.4 545.2 378.0 540.8 378.6 540.6 379.2 539.6 379.8 541.6 380.4 539.8 381.0 541.3 381.6 541.9 382.2 542.4 382.8 540.7 383.4 542.7 384.0 540.9 384.6 541.4 385.2 542.2 385.8 537.8 386.4 539.3 387.0 542.0 387.6 541.6 388.2 542.3 388.8 542.8 389.4 542.1 390.0 543.5 390.6 542.1 391.2 542.8 391.8 543.8 392.4 543.8 393.0 543.4 393.6 544.6 394.2 542.3 394.8 542.7 395.4 538.5 396.0 540.4 396.6 541.7 397.2 527.3 397.8 509.6 398.4 576.3 399.0 584.6 399.6 558.1 400.2 546.2 400.8 548.4 401.4 547.8 402.1 549.7 402.7 550.9 403.3 551.7 403.9 531.3 404.5 504.4 405.1 559.2 405.7 560.8 406.3 557.1 406.9 554.7 407.5 556.2 408.1 553.4 408.7 553.7 409.3 555.3 409.9 552.3 410.5 554.5 411.1 552.4 411.7 553.4 412.3 556.6 412.9 552.6 413.5 550.9 414.1 550.8 414.7 550.2 415.3 550.1 415.9 549.9 416.5 550.2 417.1 543.9 417.7 538.3 418.3 555.0 418.9 556.5 419.5 550.8 420.1 548.7 420.7 547.5 421.3 547.7 421.9 545.6 422.5 547.0 423.1 552.6 423.7 548.8 424.3 544.3 424.9 543.9 425.5 543.5 426.1 541.2 426.7 542.2 427.3 541.2 428.0 538.6 428.6 540.7 429.2 533.3 429.8 526.5 430.4 543.2 431.0 543.0 431.6 537.7 432.2 537.0 432.8 535.3 433.4 533.7 434.0 534.0 434.6 532.9 435.2 533.6 435.8 533.6 436.4 533.5 437.0 533.3 437.6 535.0 438.2 534.2 438.8 531.5 439.4 532.6 440.0 532.9 440.6 531.3 441.2 533.2 441.8 533.7 442.4 532.9 443.0 533.9 443.6 532.7 444.2 532.0 444.8 532.6 445.4 533.4 446.0 533.2 446.6 532.7 447.2 532.1 447.8 533.4 448.4 533.8 449.0 538.8 449.6 537.0 450.2 534.5 450.8 534.8 451.4 520.1 452.0 500.4 452.6 554.3 453.2 560.4 453.8 545.6 454.5 538.3 455.1 539.6 455.7 521.5 456.3 503.8 456.9 554.2 457.5 558.7 458.1 552.0 458.7 547.4 459.3 548.1 459.9 545.5 460.5 544.8 461.1 544.1 461.7 544.1 462.3 543.0 462.9 542.5 463.5 541.1 464.1 541.0 464.7 539.6 465.3 540.5 465.9 539.0 466.5 540.2 467.1 537.4 467.7 537.0 468.3 538.1 468.9 536.4 469.5 539.4 470.1 539.2 470.7 540.0 471.3 536.5 471.9 532.4 472.5 548.8 473.1 550.5 473.7 542.6 474.3 541.5 474.9 534.3 475.5 539.7 476.1 542.4 476.7 542.2 477.3 543.1 477.9 543.7 478.5 543.8 479.1 543.9 479.7 543.6 480.4 543.7 481.0 546.0 481.6 546.9 482.2 545.8 482.8 545.8 483.4 545.4 484.0 545.2 484.6 546.7 485.2 544.7 485.8 546.3 486.4 548.0 487.0 546.0 487.6 546.7 488.2 546.8 488.8 548.4 489.4 547.6 490.0 547.3 490.6 547.7 491.2 545.1 491.8 545.2 492.4 545.5 493.0 545.3 493.6 545.9 494.2 543.9 494.8 544.5 495.4 539.4 496.0 534.8 496.6 553.8 497.2 556.3 497.8 546.2 498.4 542.3 499.0 541.3 499.6 540.1 500.2 541.4 500.8 541.1 501.4 539.1 502.0 538.5 502.6 538.5 503.2 538.2 503.8 538.5 504.4 537.0 505.0 541.9 505.6 538.4 506.2 535.4 506.9 536.3 507.5 535.2 508.1 535.1 508.7 534.4 509.3 517.7 509.9 498.8 510.5 555.8 511.1 561.0 511.7 543.6 512.3 533.3 512.9 532.7 513.5 531.7 514.1 531.4 514.7 534.7 515.3 534.8 515.9 531.6 516.5 532.6 517.1 531.4 517.7 533.3 518.3 532.1 518.9 533.4 519.5 535.9 520.1 535.8 520.7 521.5 521.3 503.3 521.9 552.5 522.5 557.5 523.1 547.4 523.7 540.9 524.3 541.3 524.9 542.0 525.5 546.8 526.1 543.2 526.7 542.7 527.3 542.5 527.9 541.8 528.5 542.6 529.1 541.9 529.7 543.8 530.3 542.5 530.9 544.3 531.5 544.6 532.1 544.4 532.8 543.5 533.4 544.1 534.0 544.6 534.6 542.6 535.2 544.3 535.8 543.6 536.4 543.3 537.0 543.9 537.6 538.5 538.2 532.6 538.8 549.9 539.4 550.6 540.0 546.8 540.6 544.4 541.2 543.4 541.8 544.3 542.4 543.3 543.0 546.5 543.6 545.4 544.2 543.1 544.8 543.1 545.4 545.9 546.0 543.8 546.6 543.4 547.2 543.2 547.8 544.0 548.4 544.4 549.0 543.4 549.6 543.0 550.2 545.2 550.8 544.7 551.4 544.0 552.0 545.6 552.6 544.0 553.2 542.9 553.8 544.4 554.4 543.4 555.0 540.2 555.6 537.7 556.2 535.2 556.8 553.0 557.4 556.6 558.0 547.3 558.6 543.2 559.3 543.9 559.9 542.4 560.5 544.0 561.1 543.4 561.7 541.6 562.3 542.9 562.9 544.2 563.5 543.3 564.1 544.0 564.7 543.7 565.3 544.7 565.9 543.4 566.5 544.8 567.1 527.6 567.7 517.0 568.3 567.2 568.9 572.2 569.5 555.8 570.1 544.9 570.7 544.9 571.3 544.6 571.9 543.6 572.5 544.6 573.1 544.9 573.7 541.3 574.3 536.0 574.9 551.4 575.5 552.8 576.1 548.8 576.7 545.1 577.3 544.7 577.9 545.4 578.5 547.2 579.1 546.2 579.7 552.0 580.3 550.4 580.9 549.5 581.5 550.3 582.1 549.7 582.7 533.7 583.3 513.3 583.9 560.4 584.5 563.4 585.2 556.3 585.8 552.1 586.4 553.0 587.0 555.2 587.6 552.7 588.2 552.8 588.8 551.8 589.4 550.2 590.0 550.4 590.6 548.8 591.2 549.2 591.8 548.9 592.4 548.4 593.0 547.2 593.6 551.7 594.2 547.7 594.8 545.1 595.4 544.7 596.0 545.3 596.6 545.2 597.2 542.9 597.8 544.1 598.4 542.2 599.0 543.8 599.6 542.9 600.2 544.3 600.8 543.6 601.4 543.2 602.0 542.5 602.6 543.8 603.2 543.2 603.8 539.8 604.4 533.5 605.0 548.0 605.6 549.6 606.2 544.4 606.8 541.2 607.4 542.8 608.0 541.5 608.6 541.2 609.2 543.1 609.8 540.8 610.4 540.8 611.0 541.8 611.7 540.6 612.3 539.0 612.9 539.6 613.5 541.3 614.1 542.4 614.7 541.5 615.3 541.8 615.9 541.9 616.5 542.4 617.1 542.1 617.7 542.4 618.3 540.4 618.9 542.2 619.5 540.0 620.1 539.9 620.7 539.8 621.3 537.7 621.9 538.2 622.5 536.0 623.1 536.9 623.7 527.3 624.3 509.9 624.9 560.4 625.5 566.1 626.1 547.0 626.7 535.7 627.3 534.1 627.9 535.7 628.5 533.7 629.1 535.2 629.7 535.0 630.3 535.6 630.9 534.7 631.5 535.1 632.1 533.9 632.7 532.6 633.3 532.9 633.9 526.8 634.5 523.8 635.1 540.8 635.7 543.3 636.3 536.0 636.9 529.5 637.6 530.5 638.2 531.2 638.8 529.6 639.4 528.7 640.0 530.0 640.6 529.3 641.2 529.9 641.8 529.9 642.4 527.3 643.0 525.1 643.6 527.9 644.2 528.0 644.8 525.1 645.4 524.8 646.0 524.7 646.6 523.4 647.2 514.1 647.8 503.4 648.4 548.5 649.0 556.7 649.6 541.3 650.2 534.8 650.8 537.6 651.4 537.0 652.0 541.0 652.6 541.6 653.2 543.0 653.8 542.7 654.4 543.5 655.0 541.7 655.6 542.8 656.2 543.0 656.8 541.9 657.4 542.5 658.0 539.9 658.6 537.2 659.2 549.4 659.8 551.9 660.4 547.0 661.0 543.6 661.6 544.8 662.2 544.6 662.8 544.0 663.4 544.4 664.1 545.5 664.7 544.1 665.3 544.5 665.9 544.1 666.5 545.8 667.1 552.5 667.7 548.6 668.3 545.9 668.9 546.3 669.5 546.7 670.1 547.0 670.7 547.5 671.3 547.7 671.9 547.0 672.5 547.8 673.1 548.8 673.7 547.8 674.3 546.3 674.9 546.2 675.5 542.0 676.1 532.7 676.7 562.3 677.3 566.8 677.9 553.4 678.5 546.3 679.1 546.1 679.7 546.8 680.3 545.0 680.9 546.7 681.5 545.9 682.1 544.5 682.7 544.8 683.3 540.0 683.9 542.7" stroke="#4aa8dc" stroke-width="0.8" opacity="0.9"/>
<path d="M74.4 538.5L75.0 539.3 75.6 530.8 76.2 520.4 76.8 541.8 77.4 542.3 78.0 542.3 78.6 544.2 79.2 545.6 79.8 547.7 80.4 549.6 81.0 550.5 81.6 551.9 82.2 550.5 82.8 547.5 83.4 544.4 84.0 546.8 84.6 547.3 85.2 546.7 85.8 545.4 86.4 545.8 87.0 544.4 87.7 544.5 88.3 543.9 88.9 541.8 89.5 540.3 90.1 539.0 90.7 538.4 91.3 538.1 91.9 537.7 92.5 537.3 93.1 537.5 93.7 538.1 94.3 538.5 94.9 538.0 95.5 537.7 96.1 537.4 96.7 538.1 97.3 537.9 97.9 538.5 98.5 538.4 99.1 537.9 99.7 538.8 100.3 536.7 100.9 537.4 101.5 537.1 102.1 537.3 102.7 538.9 103.3 536.8 103.9 535.2 104.5 535.6 105.1 535.1 105.7 534.6 106.3 536.5 106.9 534.9 107.5 535.9 108.1 537.4 108.7 537.0 109.3 537.8 109.9 537.3 110.5 536.3 111.1 536.0 111.7 537.3 112.3 536.6 112.9 538.4 113.5 539.1 114.2 537.6 114.8 537.8 115.4 537.2 116.0 536.0 116.6 536.1 117.2 536.6 117.8 535.9 118.4 537.5 119.0 526.5 119.6 514.3 120.2 539.4 120.8 541.1 121.4 539.3 122.0 537.9 122.6 538.0 123.2 536.6 123.8 534.6 124.4 531.6 125.0 542.4 125.6 543.6 126.2 542.0 126.8 540.6 127.4 540.3 128.0 541.0 128.6 540.6 129.2 537.5 129.8 530.7 130.4 538.3 131.0 539.2 131.6 539.7 132.2 541.1 132.8 540.8 133.4 538.5 134.0 542.1 134.6 541.9 135.2 540.0 135.8 540.4 136.4 540.6 137.0 541.2 137.6 535.3 138.2 525.4 138.8 546.1 139.4 547.4 140.1 546.3 140.7 547.1 141.3 548.7 141.9 550.5 142.5 549.1 143.1 549.9 143.7 548.5 144.3 547.1 144.9 549.1 145.5 549.6 146.1 551.4 146.7 551.4 147.3 551.0 147.9 549.0 148.5 547.9 149.1 548.7 149.7 546.9 150.3 547.2 150.9 547.7 151.5 548.4 152.1 550.3 152.7 550.8 153.3 548.6 153.9 549.8 154.5 549.9 155.1 548.8 155.7 551.3 156.3 549.1 156.9 548.2 157.5 547.8 158.1 548.1 158.7 549.3 159.3 549.8 159.9 551.8 160.5 550.9 161.1 550.6 161.7 550.3 162.3 548.9 162.9 548.3 163.5 547.3 164.1 547.2 164.7 547.1 165.3 547.9 165.9 548.1 166.6 547.6 167.2 548.5 167.8 549.2 168.4 550.4 169.0 551.3 169.6 550.4 170.2 548.6 170.8 546.1 171.4 544.3 172.0 544.7 172.6 544.8 173.2 545.1 173.8 545.7 174.4 545.8 175.0 544.8 175.6 545.5 176.2 533.7 176.8 519.3 177.4 546.3 178.0 547.0 178.6 544.6 179.2 542.6 179.8 542.4 180.4 541.3 181.0 540.5 181.6 540.0 182.2 540.7 182.8 541.0 183.4 541.4 184.0 541.6 184.6 542.3 185.2 536.6 185.8 530.5 186.4 540.4 187.0 538.9 187.6 537.5 188.2 536.9 188.8 537.3 189.4 537.2 190.0 538.4 190.6 538.2 191.2 538.8 191.8 538.5 192.5 537.3 193.1 536.7 193.7 534.6 194.3 531.2 194.9 538.9 195.5 538.4 196.1 536.6 196.7 534.3 197.3 535.1 197.9 535.0 198.5 534.1 199.1 535.4 199.7 535.5 200.3 535.6 200.9 536.0 201.5 536.0 202.1 535.6 202.7 536.6 203.3 536.8 203.9 525.3 204.5 510.5 205.1 540.5 205.7 541.5 206.3 541.0 206.9 542.8 207.5 544.9 208.1 545.9 208.7 545.7 209.3 544.5 209.9 544.1 210.5 543.8 211.1 542.9 211.7 544.1 212.3 543.9 212.9 544.3 213.5 544.3 214.1 542.9 214.7 542.6 215.3 541.9 215.9 542.2 216.5 541.3 217.1 540.6 217.7 540.1 218.3 539.2 219.0 539.5 219.6 539.6 220.2 538.6 220.8 539.3 221.4 539.9 222.0 540.5 222.6 542.6 223.2 543.0 223.8 542.8 224.4 541.6 225.0 541.1 225.6 540.9 226.2 542.4 226.8 532.1 227.4 519.4 228.0 547.6 228.6 546.7 229.2 543.1 229.8 541.2 230.4 540.2 231.0 541.9 231.6 543.1 232.2 542.3 232.8 542.3 233.4 540.7 234.0 540.9 234.6 542.6 235.2 542.3 235.8 542.3 236.4 541.4 237.0 540.5 237.6 540.3 238.2 539.5 238.8 540.1 239.4 539.6 240.0 539.5 240.6 540.4 241.2 540.3 241.8 538.6 242.4 537.0 243.0 543.5 243.6 545.0 244.2 543.4 244.9 541.9 245.5 541.3 246.1 540.9 246.7 541.7 247.3 541.6 247.9 541.0 248.5 540.7 249.1 540.9 249.7 541.0 250.3 542.4 250.9 542.2 251.5 543.0 252.1 539.6 252.7 536.4 253.3 545.0 253.9 543.3 254.5 541.7 255.1 539.0 255.7 537.9 256.3 539.4 256.9 540.1 257.5 541.5 258.1 540.5 258.7 540.1 259.3 539.3 259.9 537.7 260.5 537.2 261.1 535.0 261.7 541.8 262.3 543.8 262.9 542.7 263.5 542.5 264.1 542.2 264.7 541.2 265.3 541.4 265.9 540.9 266.5 540.4 267.1 539.8 267.7 540.5 268.3 540.0 268.9 539.9 269.5 540.8 270.1 540.1 270.7 541.4 271.4 542.0 272.0 541.1 272.6 540.3 273.2 540.5 273.8 539.6 274.4 540.5 275.0 540.0 275.6 539.1 276.2 529.0 276.8 514.9 277.4 545.0 278.0 545.6 278.6 544.3 279.2 544.8 279.8 546.5 280.4 547.4 281.0 547.8 281.6 548.6 282.2 548.6 282.8 549.6 283.4 549.0 284.0 546.6 284.6 536.7 285.2 525.2 285.8 547.6 286.4 548.1 287.0 545.3 287.6 542.4 288.2 541.7 288.8 539.9 289.4 537.3 290.0 544.3 290.6 546.1 291.2 545.7 291.8 544.5 292.4 545.9 293.0 543.9 293.6 543.0 294.2 539.8 294.8 532.8 295.4 539.9 296.0 539.8 296.6 538.4 297.3 539.8 297.9 540.8 298.5 539.9 299.1 539.8 299.7 538.9 300.3 539.1 300.9 540.3 301.5 541.1 302.1 541.4 302.7 540.8 303.3 539.2 303.9 540.3 304.5 540.5 305.1 540.4 305.7 541.9 306.3 539.7 306.9 540.9 307.5 538.2 308.1 533.4 308.7 538.8 309.3 539.8 309.9 539.8 310.5 539.8 311.1 540.4 311.7 539.1 312.3 537.8 312.9 539.7 313.5 539.9 314.1 540.0 314.7 541.1 315.3 540.2 315.9 539.5 316.5 537.3 317.1 537.6 317.7 535.0 318.3 533.9 318.9 539.4 319.5 538.7 320.1 538.6 320.7 538.0 321.3 538.5 321.9 539.9 322.5 540.6 323.1 541.2 323.8 542.1 324.4 541.8 325.0 542.3 325.6 541.3 326.2 540.2 326.8 540.6 327.4 540.7 328.0 542.3 328.6 543.4 329.2 543.7 329.8 544.1 330.4 544.2 331.0 545.0 331.6 545.5 332.2 545.3 332.8 544.7 333.4 543.4 334.0 541.8 334.6 542.1 335.2 542.3 335.8 544.0 336.4 544.5 337.0 544.3 337.6 544.2 338.2 543.7 338.8 544.4 339.4 545.8 340.0 546.5 340.6 546.3 341.2 546.8 341.8 546.4 342.4 529.4 343.0 508.7 343.6 549.4 344.2 549.5 344.8 545.6 345.4 542.4 346.0 543.2 346.6 542.7 347.2 543.2 347.8 543.7 348.4 544.3 349.0 543.7 349.7 543.9 350.3 542.4 350.9 542.5 351.5 541.9 352.1 541.6 352.7 543.5 353.3 543.1 353.9 544.5 354.5 544.5 355.1 544.6 355.7 544.4 356.3 543.4 356.9 540.7 357.5 539.3 358.1 543.4 358.7 544.4 359.3 545.4 359.9 544.4 360.5 542.8 361.1 543.1 361.7 541.8 362.3 540.7 362.9 541.9 363.5 542.4 364.1 542.7 364.7 543.7 365.3 544.2 365.9 542.5 366.5 542.0 367.1 543.2 367.7 542.9 368.3 543.4 368.9 543.9 369.5 542.7 370.1 543.3 370.7 542.4 371.3 542.7 371.9 542.9 372.5 542.4 373.1 545.0 373.7 543.3 374.3 543.2 374.9 540.0 375.6 535.7 376.2 541.6 376.8 540.2 377.4 539.4 378.0 540.0 378.6 540.4 379.2 542.3 379.8 542.4 380.4 541.0 381.0 540.9 381.6 540.3 382.2 540.8 382.8 541.1 383.4 540.9 384.0 540.6 384.6 540.0 385.2 540.0 385.8 540.5 386.4 541.4 387.0 542.2 387.6 543.2 388.2 543.3 388.8 543.3 389.4 543.5 390.0 543.2 390.6 543.0 391.2 543.7 391.8 543.6 392.4 544.5 393.0 545.9 393.6 545.9 394.2 545.8 394.8 546.2 395.4 546.0 396.0 545.0 396.6 545.4 397.2 535.7 397.8 526.1 398.4 547.4 399.0 548.3 399.6 546.4 400.2 543.7 400.8 543.3 401.4 544.8 402.1 547.3 402.7 548.2 403.3 547.8 403.9 536.8 404.5 521.2 405.1 545.8 405.7 548.7 406.3 548.4 406.9 549.3 407.5 550.3 408.1 549.7 408.7 548.9 409.3 547.1 409.9 546.2 410.5 544.3 411.1 544.0 411.7 545.2 412.3 546.0 412.9 546.7 413.5 547.7 414.1 548.1 414.7 546.5 415.3 546.3 415.9 546.6 416.5 544.8 417.1 541.9 417.7 539.0 418.3 544.7 418.9 546.6 419.5 546.7 420.1 546.4 420.7 546.4 421.3 544.5 421.9 543.8 422.5 544.0 423.1 542.3 423.7 542.7 424.3 544.5 424.9 542.9 425.5 544.0 426.1 544.0 426.7 543.0 427.3 543.9 428.0 542.1 428.6 540.9 429.2 537.4 429.8 533.2 430.4 540.0 431.0 541.1 431.6 540.1 432.2 540.6 432.8 540.5 433.4 538.7 434.0 538.4 434.6 538.2 435.2 537.6 435.8 537.9 436.4 538.3 437.0 537.2 437.6 537.3 438.2 538.1 438.8 537.5 439.4 537.2 440.0 536.8 440.6 536.7 441.2 537.6 441.8 539.1 442.4 539.7 443.0 540.0 443.6 539.5 444.2 538.4 444.8 540.3 445.4 539.4 446.0 541.8 446.6 541.7 447.2 541.0 447.8 541.8 448.4 539.1 449.0 539.8 449.6 539.0 450.2 539.0 450.8 539.4 451.4 529.8 452.0 519.3 452.6 539.3 453.2 540.1 453.8 539.5 454.5 539.2 455.1 540.0 455.7 530.2 456.3 520.7 456.9 542.9 457.5 544.5 458.1 545.7 458.7 546.1 459.3 547.2 459.9 546.2 460.5 546.7 461.1 545.6 461.7 542.6 462.3 542.6 462.9 542.1 463.5 541.2 464.1 541.6 464.7 540.9 465.3 540.4 465.9 540.8 466.5 541.0 467.1 541.0 467.7 538.8 468.3 539.5 468.9 540.9 469.5 539.8 470.1 541.3 470.7 540.5 471.3 538.8 471.9 537.8 472.5 542.8 473.1 543.0 473.7 541.4 474.3 541.2 474.9 541.4 475.5 542.3 476.1 542.4 476.7 543.0 477.3 543.9 477.9 543.1 478.5 543.6 479.1 542.5 479.7 542.2 480.4 542.9 481.0 542.1 481.6 543.6 482.2 543.7 482.8 543.0 483.4 542.5 484.0 542.4 484.6 543.5 485.2 545.0 485.8 546.6 486.4 547.3 487.0 545.7 487.6 545.0 488.2 543.6 488.8 542.1 489.4 542.0 490.0 542.1 490.6 543.0 491.2 543.4 491.8 543.9 492.4 543.3 493.0 543.4 493.6 542.6 494.2 541.3 494.8 542.1 495.4 539.0 496.0 538.0 496.6 544.1 497.2 543.1 497.8 543.0 498.4 540.3 499.0 541.0 499.6 541.4 500.2 541.5 500.8 542.6 501.4 541.8 502.0 542.1 502.6 540.6 503.2 541.0 503.8 542.7 504.4 542.6 505.0 543.6 505.6 543.2 506.2 541.8 506.9 540.2 507.5 540.1 508.1 538.9 508.7 538.2 509.3 530.6 509.9 519.5 510.5 541.0 511.1 540.8 511.7 538.6 512.3 538.6 512.9 537.5 513.5 538.5 514.1 537.7 514.7 537.0 515.3 535.8 515.9 534.4 516.5 534.8 517.1 534.6 517.7 535.6 518.3 536.3 518.9 537.7 519.5 537.6 520.1 538.9 520.7 532.5 521.3 523.3 521.9 543.3 522.5 545.1 523.1 545.0 523.7 545.4 524.3 544.7 524.9 544.1 525.5 543.5 526.1 542.6 526.7 543.6 527.3 542.5 527.9 541.6 528.5 541.2 529.1 541.4 529.7 541.2 530.3 543.1 530.9 543.5 531.5 542.5 532.1 543.0 532.8 542.4 533.4 543.8 534.0 543.0 534.6 542.3 535.2 542.5 535.8 541.6 536.4 542.4 537.0 544.1 537.6 539.4 538.2 535.5 538.8 541.9 539.4 540.5 540.0 541.1 540.6 541.4 541.2 540.2 541.8 541.8 542.4 540.8 543.0 540.0 543.6 541.0 544.2 539.9 544.8 541.3 545.4 542.0 546.0 542.7 546.6 543.3 547.2 543.0 547.8 542.9 548.4 542.2 549.0 542.4 549.6 543.5 550.2 544.2 550.8 545.6 551.4 544.3 552.0 543.9 552.6 543.9 553.2 542.8 553.8 544.0 554.4 544.0 555.0 543.5 555.6 541.2 556.2 538.5 556.8 542.4 557.4 542.5 558.0 541.9 558.6 542.0 559.3 542.6 559.9 542.5 560.5 542.6 561.1 541.6 561.7 540.8 562.3 541.8 562.9 542.0 563.5 542.6 564.1 544.0 564.7 543.3 565.3 544.0 565.9 544.4 566.5 545.2 567.1 540.1 567.7 531.2 568.3 546.2 568.9 545.9 569.5 543.0 570.1 543.8 570.7 542.7 571.3 541.8 571.9 542.0 572.5 540.7 573.1 540.7 573.7 539.8 574.3 537.0 574.9 543.6 575.5 542.8 576.1 542.8 576.7 542.4 577.3 543.2 577.9 544.5 578.5 544.6 579.1 547.0 579.7 546.1 580.3 546.8 580.9 546.1 581.5 544.7 582.1 545.9 582.7 537.7 583.3 527.4 583.9 547.7 584.5 548.1 585.2 546.8 585.8 545.7 586.4 546.1 587.0 545.1 587.6 544.2 588.2 543.7 588.8 544.3 589.4 543.6 590.0 543.9 590.6 544.6 591.2 542.7 591.8 543.9 592.4 542.5 593.0 542.2 593.6 543.5 594.2 542.6 594.8 544.6 595.4 545.7 596.0 545.4 596.6 545.0 597.2 543.8 597.8 543.2 598.4 543.5 599.0 543.9 599.6 544.9 600.2 542.7 600.8 542.4 601.4 542.0 602.0 541.4 602.6 542.7 603.2 541.2 603.8 539.6 604.4 536.9 605.0 542.2 605.6 544.1 606.2 544.0 606.8 543.4 607.4 544.4 608.0 543.5 608.6 541.2 609.2 540.4 609.8 538.7 610.4 539.1 611.0 540.9 611.7 541.6 612.3 544.4 612.9 544.1 613.5 543.8 614.1 544.7 614.7 541.9 615.3 542.2 615.9 542.9 616.5 542.7 617.1 542.1 617.7 540.9 618.3 540.9 618.9 539.6 619.5 541.4 620.1 542.2 620.7 540.4 621.3 541.3 621.9 540.1 622.5 540.5 623.1 540.7 623.7 533.6 624.3 525.6 624.9 542.0 625.5 543.1 626.1 541.9 626.7 542.0 627.3 541.9 627.9 543.2 628.5 541.4 629.1 540.4 629.7 539.2 630.3 536.9 630.9 537.6 631.5 537.6 632.1 538.9 632.7 538.2 633.3 537.2 633.9 535.8 634.5 534.2 635.1 541.6 635.7 542.0 636.3 539.4 636.9 536.6 637.6 535.4 638.2 535.3 638.8 536.4 639.4 537.7 640.0 538.4 640.6 537.8 641.2 536.9 641.8 536.0 642.4 536.2 643.0 537.2 643.6 537.9 644.2 538.8 644.8 537.4 645.4 536.6 646.0 537.0 646.6 536.5 647.2 531.0 647.8 525.2 648.4 538.3 649.0 539.5 649.6 539.5 650.2 538.7 650.8 539.8 651.4 540.4 652.0 541.1 652.6 540.9 653.2 540.9 653.8 540.9 654.4 540.3 655.0 542.3 655.6 543.1 656.2 543.0 656.8 542.7 657.4 543.4 658.0 540.5 658.6 539.2 659.2 543.3 659.8 542.2 660.4 543.0 661.0 543.0 661.6 543.4 662.2 543.9 662.8 543.1 663.4 542.8 664.1 544.4 664.7 543.5 665.3 543.1 665.9 543.8 666.5 543.2 667.1 544.5 667.7 546.1 668.3 545.3 668.9 545.2 669.5 544.0 670.1 544.4 670.7 545.0 671.3 545.2 671.9 546.1 672.5 545.5 673.1 545.6 673.7 546.0 674.3 545.2 674.9 544.4 675.5 540.9 676.1 535.6 676.7 544.8 677.3 545.6 677.9 544.1 678.5 544.5 679.1 546.4 679.7 545.1 680.3 545.4 680.9 545.0 681.5 544.5 682.1 545.1 682.7 544.1 683.3 544.7 683.9 542.5" stroke="#c0392b" stroke-width="0.9" stroke-dasharray="3 2"/>
</g>
<line x1="74.3" y1="458.2" x2="74.3" y2="596.4" stroke="#777" stroke-width="1"/>
<line x1="74.3" y1="596.4" x2="682.6" y2="596.4" stroke="#aaa" stroke-width="1"/>
<line x1="74.3" y1="458.2" x2="682.6" y2="458.2" stroke="#999" stroke-width="1"/>
<line x1="682.6" y1="458.2" x2="682.6" y2="596.4" stroke="#777" stroke-width="1"/>
<line x1="74.4" y1="596.4" x2="74.4" y2="590.4" stroke="#707070" stroke-width="0.8"/>
<line x1="74.4" y1="458.2" x2="74.4" y2="464.2" stroke="#707070" stroke-width="0.8"/>
<text x="74.4" y="606.3" font-size="6.8" text-anchor="middle" fill="#1e1e1e" >8</text>
<line x1="134.63" y1="596.4" x2="134.63" y2="590.4" stroke="#707070" stroke-width="0.8"/>
<line x1="134.63" y1="458.2" x2="134.63" y2="464.2" stroke="#707070" stroke-width="0.8"/>
<text x="134.63" y="606.3" font-size="6.8" text-anchor="middle" fill="#1e1e1e" >8.1</text>
<line x1="194.86" y1="596.4" x2="194.86" y2="590.4" stroke="#707070" stroke-width="0.8"/>
<line x1="194.86" y1="458.2" x2="194.86" y2="464.2" stroke="#707070" stroke-width="0.8"/>
<text x="194.86" y="606.3" font-size="6.8" text-anchor="middle" fill="#1e1e1e" >8.2</text>
<line x1="255.08999999999997" y1="596.4" x2="255.08999999999997" y2="590.4" stroke="#707070" stroke-width="0.8"/>
<line x1="255.08999999999997" y1="458.2" x2="255.08999999999997" y2="464.2" stroke="#707070" stroke-width="0.8"/>
<text x="255.08999999999997" y="606.3" font-size="6.8" text-anchor="middle" fill="#1e1e1e" >8.3</text>
<line x1="315.32" y1="596.4" x2="315.32" y2="590.4" stroke="#707070" stroke-width="0.8"/>
<line x1="315.32" y1="458.2" x2="315.32" y2="464.2" stroke="#707070" stroke-width="0.8"/>
<text x="315.32" y="606.3" font-size="6.8" text-anchor="middle" fill="#1e1e1e" >8.4</text>
<line x1="375.54999999999995" y1="596.4" x2="375.54999999999995" y2="590.4" stroke="#707070" stroke-width="0.8"/>
<line x1="375.54999999999995" y1="458.2" x2="375.54999999999995" y2="464.2" stroke="#707070" stroke-width="0.8"/>
<text x="375.54999999999995" y="606.3" font-size="6.8" text-anchor="middle" fill="#1e1e1e" >8.5</text>
<line x1="435.78" y1="596.4" x2="435.78" y2="590.4" stroke="#707070" stroke-width="0.8"/>
<line x1="435.78" y1="458.2" x2="435.78" y2="464.2" stroke="#707070" stroke-width="0.8"/>
<text x="435.78" y="606.3" font-size="6.8" text-anchor="middle" fill="#1e1e1e" >8.6</text>
<line x1="496.01" y1="596.4" x2="496.01" y2="590.4" stroke="#707070" stroke-width="0.8"/>
<line x1="496.01" y1="458.2" x2="496.01" y2="464.2" stroke="#707070" stroke-width="0.8"/>
<text x="496.01" y="606.3" font-size="6.8" text-anchor="middle" fill="#1e1e1e" >8.7</text>
<line x1="556.24" y1="596.4" x2="556.24" y2="590.4" stroke="#707070" stroke-width="0.8"/>
<line x1="556.24" y1="458.2" x2="556.24" y2="464.2" stroke="#707070" stroke-width="0.8"/>
<text x="556.24" y="606.3" font-size="6.8" text-anchor="middle" fill="#1e1e1e" >8.8</text>
<line x1="616.4699999999999" y1="596.4" x2="616.4699999999999" y2="590.4" stroke="#707070" stroke-width="0.8"/>
<line x1="616.4699999999999" y1="458.2" x2="616.4699999999999" y2="464.2" stroke="#707070" stroke-width="0.8"/>
<text x="616.4699999999999" y="606.3" font-size="6.8" text-anchor="middle" fill="#1e1e1e" >8.9</text>
<line x1="676.6999999999999" y1="596.4" x2="676.6999999999999" y2="590.4" stroke="#707070" stroke-width="0.8"/>
<line x1="676.6999999999999" y1="458.2" x2="676.6999999999999" y2="464.2" stroke="#707070" stroke-width="0.8"/>
<text x="676.6999999999999" y="606.3" font-size="6.8" text-anchor="middle" fill="#1e1e1e" >9</text>
<line x1="74.3" y1="463.9" x2="80.3" y2="463.9" stroke="#707070" stroke-width="0.8"/>
<line x1="682.6" y1="463.9" x2="676.6" y2="463.9" stroke="#707070" stroke-width="0.8"/>
<text x="71.5" y="466.28" font-size="6.8" text-anchor="end" fill="#1e1e1e" >600</text>
<line x1="74.3" y1="490.1" x2="80.3" y2="490.1" stroke="#707070" stroke-width="0.8"/>
<line x1="682.6" y1="490.1" x2="676.6" y2="490.1" stroke="#707070" stroke-width="0.8"/>
<text x="71.5" y="492.48" font-size="6.8" text-anchor="end" fill="#1e1e1e" >400</text>
<line x1="74.3" y1="516.3" x2="80.3" y2="516.3" stroke="#707070" stroke-width="0.8"/>
<line x1="682.6" y1="516.3" x2="676.6" y2="516.3" stroke="#707070" stroke-width="0.8"/>
<text x="71.5" y="518.68" font-size="6.8" text-anchor="end" fill="#1e1e1e" >200</text>
<line x1="74.3" y1="542.5" x2="80.3" y2="542.5" stroke="#707070" stroke-width="0.8"/>
<line x1="682.6" y1="542.5" x2="676.6" y2="542.5" stroke="#707070" stroke-width="0.8"/>
<text x="71.5" y="544.88" font-size="6.8" text-anchor="end" fill="#1e1e1e" >0</text>
<line x1="74.3" y1="568.7" x2="80.3" y2="568.7" stroke="#707070" stroke-width="0.8"/>
<line x1="682.6" y1="568.7" x2="676.6" y2="568.7" stroke="#707070" stroke-width="0.8"/>
<text x="71.5" y="571.08" font-size="6.8" text-anchor="end" fill="#1e1e1e" >-200</text>
<line x1="74.3" y1="594.9" x2="80.3" y2="594.9" stroke="#707070" stroke-width="0.8"/>
<line x1="682.6" y1="594.9" x2="676.6" y2="594.9" stroke="#707070" stroke-width="0.8"/>
<text x="71.5" y="597.28" font-size="6.8" text-anchor="end" fill="#1e1e1e" >-400</text>
<text x="379" y="616.5" font-size="7.8" text-anchor="middle" fill="#1e1e1e" >Time/s</text>
<text transform="translate(53.6,527.2) rotate(-90)" font-size="7.9" text-anchor="middle" fill="#1e1e1e">Amplitude/uV</text>
<rect x="558.4" y="462.2" width="119.5" height="26.2" fill="#fff" stroke="#ccc" stroke-width="0.7"/>
<line x1="558.4" y1="462.2" x2="677.9" y2="462.2" stroke="#777" stroke-width="0.7"/>
<line x1="563.8" y1="467.2" x2="576.2" y2="467.2" stroke="#1fd41f" stroke-width="0.9"/>
<text x="578.1" y="469.5" font-size="6.4" text-anchor="start" fill="#1e1e1e" >The Signal After Adding Noise</text>
<line x1="563.8" y1="475.8" x2="576.2" y2="475.8" stroke="#f2c9c5" stroke-width="0.9"/>
<text x="578.1" y="478.1" font-size="6.4" text-anchor="start" fill="#1e1e1e" >Soft Threshold Function Denoising</text>
<line x1="563.8" y1="484.4" x2="576.2" y2="484.4" stroke="#d9eef8" stroke-width="0.9"/>
<text x="578.1" y="486.7" font-size="6.4" text-anchor="start" fill="#1e1e1e" >Original Signal</text>
<clipPath id="cpD"><rect x="73.7" y="656.5" width="607.1999999999999" height="146.0"/></clipPath>
<g clip-path="url(#cpD)" fill="none" stroke-linejoin="round">
<path d="M72.7 750.4L73.3 749.0 73.9 737.2 74.5 740.1 75.1 741.1 75.7 756.5 76.3 755.4 76.9 751.4 77.6 752.6 78.2 767.2 78.8 770.7 79.4 777.0 80.0 777.5 80.6 772.1 81.2 755.9 81.8 752.9 82.4 767.3 83.0 774.2 83.6 754.5 84.2 756.9 84.8 752.7 85.4 762.9 86.0 752.3 86.6 763.6 87.3 748.6 87.9 739.5 88.5 753.1 89.1 742.4 89.7 746.3 90.3 737.4 90.9 753.4 91.5 739.2 92.1 743.9 92.7 740.2 93.3 731.6 93.9 739.7 94.5 743.3 95.1 742.2 95.7 734.2 96.3 737.0 97.0 740.6 97.6 733.1 98.2 744.6 98.8 736.6 99.4 742.2 100.0 733.0 100.6 742.4 101.2 738.5 101.8 740.3 102.4 745.7 103.0 731.2 103.6 736.6 104.2 731.6 104.8 730.9 105.4 742.3 106.0 742.7 106.7 746.1 107.3 742.7 107.9 732.5 108.5 735.8 109.1 737.8 109.7 737.8 110.3 737.9 110.9 730.6 111.5 733.8 112.1 742.8 112.7 735.7 113.3 742.9 113.9 724.9 114.5 742.2 115.1 732.4 115.7 740.9 116.4 731.8 117.0 737.2 117.6 727.8 118.2 716.4 118.8 756.9 119.4 754.3 120.0 754.6 120.6 742.0 121.2 744.9 121.8 747.4 122.4 738.5 123.0 735.0 123.6 740.2 124.2 750.8 124.8 745.4 125.4 741.8 126.1 744.4 126.7 734.4 127.3 738.4 127.9 747.1 128.5 742.1 129.1 756.7 129.7 750.4 130.3 742.4 130.9 737.2 131.5 739.7 132.1 741.6 132.7 744.9 133.3 751.2 133.9 750.9 134.5 750.6 135.1 738.4 135.8 748.2 136.4 738.4 137.0 744.1 137.6 764.4 138.2 773.2 138.8 767.3 139.4 762.5 140.0 763.9 140.6 768.2 141.2 780.1 141.8 760.4 142.4 760.1 143.0 774.4 143.6 774.0 144.2 766.2 144.8 770.0 145.5 766.8 146.1 771.0 146.7 776.7 147.3 765.5 147.9 763.8 148.5 776.1 149.1 775.5 149.7 766.3 150.3 773.1 150.9 761.2 151.5 769.4 152.1 775.8 152.7 772.3 153.3 779.2 153.9 772.3 154.6 778.7 155.2 773.5 155.8 775.4 156.4 768.4 157.0 779.5 157.6 770.7 158.2 767.8 158.8 774.1 159.4 770.8 160.0 772.0 160.6 776.6 161.2 768.3 161.8 772.4 162.4 768.4 163.0 768.8 163.6 765.0 164.3 770.9 164.9 763.7 165.5 770.4 166.1 772.9 166.7 758.6 167.3 762.8 167.9 762.3 168.5 761.5 169.1 773.4 169.7 758.4 170.3 763.8 170.9 751.0 171.5 767.1 172.1 752.4 172.7 762.2 173.3 754.0 174.0 758.9 174.6 767.3 175.2 750.0 175.8 746.3 176.4 762.1 177.0 763.4 177.6 755.0 178.2 745.7 178.8 748.2 179.4 754.1 180.0 757.6 180.6 745.4 181.2 743.2 181.8 739.2 182.4 746.7 183.0 745.8 183.7 750.6 184.3 751.2 184.9 743.2 185.5 757.1 186.1 759.8 186.7 749.4 187.3 744.7 187.9 734.8 188.5 740.5 189.1 746.6 189.7 749.9 190.3 750.6 190.9 741.9 191.5 746.7 192.1 741.7 192.7 737.3 193.4 728.6 194.0 739.0 194.6 749.2 195.2 745.6 195.8 734.2 196.4 734.4 197.0 736.5 197.6 730.8 198.2 743.1 198.8 734.8 199.4 734.1 200.0 731.2 200.6 725.7 201.2 723.3 201.8 737.2 202.4 736.1 203.1 728.0 203.7 725.0 204.3 740.2 204.9 749.1 205.5 755.6 206.1 756.7 206.7 766.7 207.3 766.3 207.9 767.8 208.5 762.8 209.1 759.1 209.7 759.5 210.3 753.7 210.9 757.6 211.5 750.7 212.1 753.4 212.8 744.2 213.4 739.9 214.0 747.4 214.6 742.3 215.2 754.8 215.8 749.0 216.4 755.6 217.0 746.0 217.6 738.3 218.2 747.8 218.8 744.5 219.4 750.8 220.0 754.5 220.6 755.1 221.2 747.2 221.8 744.2 222.5 745.7 223.1 760.1 223.7 742.5 224.3 749.0 224.9 750.3 225.5 745.1 226.1 731.4 226.7 727.7 227.3 757.3 227.9 760.8 228.5 747.3 229.1 746.6 229.7 749.6 230.3 752.3 230.9 751.6 231.6 752.3 232.2 742.4 232.8 757.7 233.4 739.6 234.0 744.9 234.6 750.6 235.2 749.9 235.8 745.2 236.4 740.5 237.0 749.2 237.6 738.8 238.2 752.6 238.8 749.2 239.4 749.9 240.0 747.7 240.6 745.1 241.3 740.6 241.9 746.7 242.5 752.1 243.1 747.8 243.7 753.3 244.3 751.2 244.9 751.1 245.5 747.9 246.1 747.8 246.7 748.1 247.3 745.0 247.9 740.9 248.5 743.1 249.1 745.6 249.7 746.8 250.3 748.9 251.0 745.1 251.6 746.2 252.2 739.7 252.8 754.5 253.4 763.8 254.0 750.0 254.6 753.6 255.2 745.4 255.8 750.2 256.4 753.2 257.0 748.8 257.6 740.1 258.2 738.5 258.8 740.3 259.4 752.2 260.0 740.8 260.7 754.5 261.3 753.5 261.9 753.3 262.5 748.1 263.1 736.3 263.7 751.8 264.3 750.4 264.9 739.5 265.5 748.5 266.1 746.9 266.7 754.7 267.3 742.7 267.9 745.6 268.5 745.6 269.1 742.4 269.7 735.7 270.4 746.0 271.0 751.8 271.6 737.9 272.2 744.5 272.8 752.9 273.4 748.2 274.0 737.8 274.6 739.7 275.2 735.2 275.8 744.9 276.4 727.3 277.0 749.0 277.6 756.3 278.2 761.8 278.8 769.5 279.4 769.7 280.1 757.9 280.7 758.3 281.3 758.6 281.9 766.9 282.5 764.2 283.1 768.7 283.7 761.9 284.3 754.3 284.9 745.7 285.5 759.6 286.1 771.1 286.7 758.3 287.3 754.7 287.9 749.9 288.5 742.3 289.1 752.8 289.8 753.3 290.4 759.7 291.0 755.1 291.6 746.8 292.2 745.7 292.8 753.6 293.4 755.3 294.0 758.2 294.6 750.1 295.2 758.7 295.8 758.8 296.4 740.1 297.0 743.7 297.6 746.7 298.2 752.9 298.8 749.6 299.5 743.3 300.1 757.8 300.7 749.4 301.3 756.4 301.9 754.6 302.5 736.4 303.1 747.1 303.7 735.5 304.3 744.9 304.9 746.8 305.5 737.5 306.1 743.9 306.7 748.1 307.3 743.8 307.9 745.0 308.6 761.5 309.2 754.6 309.8 749.8 310.4 733.2 311.0 746.8 311.6 743.1 312.2 742.5 312.8 739.3 313.4 743.0 314.0 745.9 314.6 738.2 315.2 747.5 315.8 745.8 316.4 753.5 317.0 749.1 317.6 748.7 318.3 743.3 318.9 756.5 319.5 749.6 320.1 747.1 320.7 742.2 321.3 747.5 321.9 748.7 322.5 746.5 323.1 745.7 323.7 741.1 324.3 743.4 324.9 745.0 325.5 750.6 326.1 751.2 326.7 762.2 327.3 748.8 328.0 757.7 328.6 751.4 329.2 754.2 329.8 753.8 330.4 759.7 331.0 758.9 331.6 751.0 332.2 745.5 332.8 764.2 333.4 764.8 334.0 764.2 334.6 748.1 335.2 748.3 335.8 751.9 336.4 758.0 337.0 749.4 337.7 760.1 338.3 756.7 338.9 767.2 339.5 763.8 340.1 769.2 340.7 768.1 341.3 748.4 341.9 764.4 342.5 740.5 343.1 732.0 343.7 767.7 344.3 756.7 344.9 762.2 345.5 751.6 346.1 744.6 346.7 753.2 347.4 762.3 348.0 756.1 348.6 744.6 349.2 760.9 349.8 767.0 350.4 757.1 351.0 746.9 351.6 746.0 352.2 753.6 352.8 752.4 353.4 744.4 354.0 746.8 354.6 751.6 355.2 743.9 355.8 749.2 356.4 754.2 357.1 754.0 357.7 739.3 358.3 747.2 358.9 752.2 359.5 753.8 360.1 750.1 360.7 752.8 361.3 747.9 361.9 754.2 362.5 754.7 363.1 755.4 363.7 750.1 364.3 752.3 364.9 752.3 365.5 746.6 366.1 758.5 366.8 754.0 367.4 760.0 368.0 750.1 368.6 754.3 369.2 741.7 369.8 750.9 370.4 755.6 371.0 745.9 371.6 751.7 372.2 758.3 372.8 748.6 373.4 741.6 374.0 747.5 374.6 746.8 375.2 750.6 375.9 742.9 376.5 761.8 377.1 757.1 377.7 749.6 378.3 746.2 378.9 744.9 379.5 750.6 380.1 747.6 380.7 748.3 381.3 749.4 381.9 748.7 382.5 753.4 383.1 761.2 383.7 755.2 384.3 746.0 384.9 759.7 385.6 754.1 386.2 754.0 386.8 749.2 387.4 752.1 388.0 762.2 388.6 748.4 389.2 755.7 389.8 755.7 390.4 760.2 391.0 751.7 391.6 753.8 392.2 745.2 392.8 745.2 393.4 752.1 394.0 750.2 394.6 761.4 395.3 752.8 395.9 740.2 396.5 744.6 397.1 757.4 397.7 754.3 398.3 739.0 398.9 765.1 399.5 769.8 400.1 768.5 400.7 755.2 401.3 756.8 401.9 753.2 402.5 750.7 403.1 762.3 403.7 763.8 404.3 755.7 405.0 744.4 405.6 770.1 406.2 774.1 406.8 764.4 407.4 767.4 408.0 765.2 408.6 762.1 409.2 770.3 409.8 759.6 410.4 764.9 411.0 764.1 411.6 770.3 412.2 770.9 412.8 767.6 413.4 768.7 414.0 763.3 414.7 762.5 415.3 757.5 415.9 759.4 416.5 751.6 417.1 765.3 417.7 758.9 418.3 750.9 418.9 755.6 419.5 766.6 420.1 760.6 420.7 768.6 421.3 761.6 421.9 764.2 422.5 755.2 423.1 762.3 423.7 764.9 424.4 764.2 425.0 753.9 425.6 754.6 426.2 749.1 426.8 754.3 427.4 756.1 428.0 753.5 428.6 752.1 429.2 756.8 429.8 745.1 430.4 738.1 431.0 741.7 431.6 752.1 432.2 750.4 432.8 754.5 433.4 741.4 434.1 735.0 434.7 743.0 435.3 744.4 435.9 747.0 436.5 737.6 437.1 738.8 437.7 740.9 438.3 735.0 438.9 735.4 439.5 739.2 440.1 737.8 440.7 731.4 441.3 743.8 441.9 744.2 442.5 735.9 443.1 745.8 443.8 733.2 444.4 743.4 445.0 734.0 445.6 743.8 446.2 745.0 446.8 739.3 447.4 747.9 448.0 743.6 448.6 738.4 449.2 749.4 449.8 754.5 450.4 744.7 451.0 749.6 451.6 745.2 452.2 737.3 452.9 730.6 453.5 750.5 454.1 756.4 454.7 739.9 455.3 749.2 455.9 748.7 456.5 742.2 457.1 740.0 457.7 757.5 458.3 759.3 458.9 757.9 459.5 757.9 460.1 750.0 460.7 754.1 461.3 755.4 461.9 758.9 462.6 752.9 463.2 752.7 463.8 753.7 464.4 747.6 465.0 741.9 465.6 754.2 466.2 741.1 466.8 753.3 467.4 756.2 468.0 747.3 468.6 755.1 469.2 745.9 469.8 747.3 470.4 750.7 471.0 748.4 471.6 758.6 472.3 748.0 472.9 748.3 473.5 755.4 474.1 753.6 474.7 748.1 475.3 745.0 475.9 740.8 476.5 737.6 477.1 758.1 477.7 756.9 478.3 750.6 478.9 754.4 479.5 755.3 480.1 748.0 480.7 759.5 481.3 762.2 482.0 749.4 482.6 755.0 483.2 752.9 483.8 753.5 484.4 754.7 485.0 760.2 485.6 752.2 486.2 758.7 486.8 755.4 487.4 757.9 488.0 746.6 488.6 754.3 489.2 747.0 489.8 755.9 490.4 754.0 491.0 756.9 491.7 760.2 492.3 753.0 492.9 756.9 493.5 746.6 494.1 756.1 494.7 749.7 495.3 751.6 495.9 748.5 496.5 757.6 497.1 752.3 497.7 766.9 498.3 754.5 498.9 755.0 499.5 752.5 500.1 740.7 500.7 760.4 501.4 753.5 502.0 752.3 502.6 755.6 503.2 744.1 503.8 743.9 504.4 755.2 505.0 738.0 505.6 745.8 506.2 751.4 506.8 748.1 507.4 741.1 508.0 747.7 508.6 745.7 509.2 753.7 509.8 734.7 510.4 730.3 511.1 719.0 511.7 739.4 512.3 760.1 512.9 740.6 513.5 748.2 514.1 733.6 514.7 744.9 515.3 737.2 515.9 741.2 516.5 736.5 517.1 739.2 517.7 732.9 518.3 739.5 518.9 731.8 519.5 737.5 520.1 744.9 520.8 739.6 521.4 747.8 522.0 747.3 522.6 730.2 523.2 754.6 523.8 766.0 524.4 752.5 525.0 749.1 525.6 752.9 526.2 749.4 526.8 756.4 527.4 756.5 528.0 753.1 528.6 755.4 529.2 748.0 529.9 745.2 530.5 758.7 531.1 760.8 531.7 758.6 532.3 754.3 532.9 749.2 533.5 758.7 534.1 757.7 534.7 753.0 535.3 752.1 535.9 763.8 536.5 747.6 537.1 747.7 537.7 762.9 538.3 752.4 538.9 750.5 539.6 741.0 540.2 755.3 540.8 755.0 541.4 759.1 542.0 750.1 542.6 755.0 543.2 755.5 543.8 754.8 544.4 759.7 545.0 761.4 545.6 758.9 546.2 748.4 546.8 748.3 547.4 762.6 548.0 750.3 548.6 759.9 549.3 751.6 549.9 760.2 550.5 758.6 551.1 748.2 551.7 750.9 552.3 751.8 552.9 749.5 553.5 748.8 554.1 752.3 554.7 745.8 555.3 757.4 555.9 755.8 556.5 745.2 557.1 752.0 557.7 755.8 558.3 753.5 559.0 750.5 559.6 758.9 560.2 749.9 560.8 754.4 561.4 747.3 562.0 750.5 562.6 759.0 563.2 759.1 563.8 755.0 564.4 743.3 565.0 749.2 565.6 742.7 566.2 750.6 566.8 745.9 567.4 753.3 568.0 760.6 568.7 749.2 569.3 748.9 569.9 766.4 570.5 762.4 571.1 755.7 571.7 755.1 572.3 743.4 572.9 756.0 573.5 745.2 574.1 746.5 574.7 752.2 575.3 751.0 575.9 746.0 576.5 756.5 577.1 753.8 577.7 751.0 578.4 765.6 579.0 753.8 579.6 762.0 580.2 753.3 580.8 758.6 581.4 765.6 582.0 767.6 582.6 756.9 583.2 758.3 583.8 755.6 584.4 755.4 585.0 750.8 585.6 763.3 586.2 769.6 586.8 762.5 587.4 756.5 588.1 762.2 588.7 760.9 589.3 769.4 589.9 772.4 590.5 766.4 591.1 758.7 591.7 755.9 592.3 761.0 592.9 755.3 593.5 763.6 594.1 759.4 594.7 756.0 595.3 765.5 595.9 759.5 596.5 758.4 597.1 754.3 597.8 750.4 598.4 749.1 599.0 748.4 599.6 750.8 600.2 760.5 600.8 742.4 601.4 749.1 602.0 760.0 602.6 746.1 603.2 757.0 603.8 749.4 604.4 748.0 605.0 754.6 605.6 743.4 606.2 743.0 606.9 752.1 607.5 759.8 608.1 753.1 608.7 746.6 609.3 749.3 609.9 745.4 610.5 749.5 611.1 744.7 611.7 748.7 612.3 751.9 612.9 757.5 613.5 751.0 614.1 739.8 614.7 747.5 615.3 741.6 615.9 756.9 616.6 752.5 617.2 747.8 617.8 744.6 618.4 745.5 619.0 754.4 619.6 757.8 620.2 757.3 620.8 752.1 621.4 744.9 622.0 756.0 622.6 748.7 623.2 749.2 623.8 752.5 624.4 738.9 625.0 747.4 625.6 750.2 626.3 726.1 626.9 749.3 627.5 756.2 628.1 737.4 628.7 752.3 629.3 740.5 629.9 744.5 630.5 732.5 631.1 741.7 631.7 743.8 632.3 742.5 632.9 741.6 633.5 743.1 634.1 739.7 634.7 742.7 635.3 729.8 636.0 729.4 636.6 740.0 637.2 741.6 637.8 752.3 638.4 737.5 639.0 737.8 639.6 735.3 640.2 733.1 640.8 731.3 641.4 732.0 642.0 729.4 642.6 734.8 643.2 738.6 643.8 736.7 644.4 741.6 645.0 727.5 645.7 735.9 646.3 731.7 646.9 742.3 647.5 732.0 648.1 722.9 648.7 727.7 649.3 724.6 649.9 721.5 650.5 733.4 651.1 748.0 651.7 746.6 652.3 744.6 652.9 740.6 653.5 744.2 654.1 742.8 654.7 757.0 655.4 753.9 656.0 751.6 656.6 757.2 657.2 752.0 657.8 749.8 658.4 758.0 659.0 749.9 659.6 760.3 660.2 751.1 660.8 746.3 661.4 753.2 662.0 745.9 662.6 753.4 663.2 753.6 663.8 752.3 664.4 757.3 665.1 750.4 665.7 757.8 666.3 749.5 666.9 765.1 667.5 755.4 668.1 753.5 668.7 751.0 669.3 757.8 669.9 766.8 670.5 763.2 671.1 762.7 671.7 763.7 672.3 756.7 672.9 757.0 673.5 754.7 674.1 759.5 674.8 751.9 675.4 753.6 676.0 762.8 676.6 765.7 677.2 766.3 677.8 765.2 678.4 754.4 679.0 757.2 679.6 771.3 680.2 759.4" stroke="#1fd41f" stroke-width="1.2"/>
<path d="M72.7 748.4L73.3 746.5 73.9 725.6 74.5 699.6 75.1 758.2 75.7 763.8 76.3 753.3 76.9 757.6 77.6 763.8 78.2 770.7 78.8 777.6 79.4 777.4 80.0 776.8 80.6 776.1 81.2 762.7 81.8 760.7 82.4 779.3 83.0 778.1 83.6 763.4 84.2 756.3 84.8 753.5 85.4 755.1 86.0 754.9 86.6 752.9 87.3 751.4 87.9 748.7 88.5 746.7 89.1 742.6 89.7 739.4 90.3 740.7 90.9 744.5 91.5 740.2 92.1 741.5 92.7 739.2 93.3 739.6 93.9 738.0 94.5 738.8 95.1 740.2 95.7 738.2 96.3 739.9 97.0 737.5 97.6 737.6 98.2 739.1 98.8 738.1 99.4 738.5 100.0 739.4 100.6 737.4 101.2 737.8 101.8 737.3 102.4 736.9 103.0 736.4 103.6 736.6 104.2 737.5 104.8 737.2 105.4 736.7 106.0 737.1 106.7 744.1 107.3 738.4 107.9 736.0 108.5 734.5 109.1 736.9 109.7 736.0 110.3 736.2 110.9 736.0 111.5 735.8 112.1 735.4 112.7 735.6 113.3 733.3 113.9 734.2 114.5 735.3 115.1 735.0 115.7 733.6 116.4 733.6 117.0 734.5 117.6 708.9 118.2 683.7 118.8 770.7 119.4 778.7 120.0 758.4 120.6 743.9 121.2 739.0 121.8 742.9 122.4 738.4 123.0 728.9 123.6 757.4 124.2 759.2 124.8 749.6 125.4 745.7 126.1 745.0 126.7 745.1 127.3 744.6 127.9 738.0 128.5 726.5 129.1 758.3 129.7 761.6 130.3 752.0 130.9 740.2 131.5 737.3 132.1 735.9 132.7 751.7 133.3 755.3 133.9 748.4 134.5 746.2 135.1 747.3 135.8 746.6 136.4 730.3 137.0 710.3 137.6 788.7 138.2 801.6 138.8 774.6 139.4 762.8 140.0 766.8 140.6 769.8 141.2 769.0 141.8 770.7 142.4 771.9 143.0 771.6 143.6 770.0 144.2 770.5 144.8 769.4 145.5 768.2 146.1 770.6 146.7 769.4 147.3 769.9 147.9 771.4 148.5 770.9 149.1 771.9 149.7 772.1 150.3 771.8 150.9 771.2 151.5 770.6 152.1 772.9 152.7 771.6 153.3 777.0 153.9 775.1 154.6 771.7 155.2 773.3 155.8 771.9 156.4 773.7 157.0 773.9 157.6 772.0 158.2 773.7 158.8 773.1 159.4 771.9 160.0 771.4 160.6 771.3 161.2 772.6 161.8 771.6 162.4 769.6 163.0 769.2 163.6 770.3 164.3 761.9 164.9 764.6 165.5 766.5 166.1 767.4 166.7 764.7 167.3 765.7 167.9 763.4 168.5 763.2 169.1 764.4 169.7 763.1 170.3 761.9 170.9 760.5 171.5 762.1 172.1 760.5 172.7 758.6 173.3 757.9 174.0 758.6 174.6 757.6 175.2 728.9 175.8 701.8 176.4 784.6 177.0 787.7 177.6 765.0 178.2 754.5 178.8 750.1 179.4 749.3 180.0 748.3 180.6 748.4 181.2 750.4 181.8 747.0 182.4 747.6 183.0 746.6 183.7 747.3 184.3 736.3 184.9 722.8 185.5 766.3 186.1 767.6 186.7 751.9 187.3 745.9 187.9 743.8 188.5 743.8 189.1 743.3 189.7 742.0 190.3 741.8 190.9 742.0 191.5 741.3 192.1 740.9 192.7 732.0 193.4 722.0 194.0 748.3 194.6 751.0 195.2 741.7 195.8 737.3 196.4 738.6 197.0 736.8 197.6 737.0 198.2 738.3 198.8 735.7 199.4 734.3 200.0 735.4 200.6 734.9 201.2 732.8 201.8 731.8 202.4 732.4 203.1 705.9 203.7 671.3 204.3 762.2 204.9 771.4 205.5 760.6 206.1 758.1 206.7 766.4 207.3 765.3 207.9 764.0 208.5 760.7 209.1 760.0 209.7 755.6 210.3 756.1 210.9 755.9 211.5 753.6 212.1 751.7 212.8 744.2 213.4 745.5 214.0 746.9 214.6 745.9 215.2 743.6 215.8 742.6 216.4 745.5 217.0 745.8 217.6 745.2 218.2 745.1 218.8 745.9 219.4 746.0 220.0 747.6 220.6 748.1 221.2 747.7 221.8 748.1 222.5 747.6 223.1 748.1 223.7 751.7 224.3 749.7 224.9 750.7 225.5 751.8 226.1 723.4 226.7 692.3 227.3 780.9 227.9 794.4 228.5 765.5 229.1 748.1 229.7 749.0 230.3 747.3 230.9 747.1 231.6 747.4 232.2 746.9 232.8 747.2 233.4 748.3 234.0 748.1 234.6 747.0 235.2 746.2 235.8 742.0 236.4 745.1 237.0 746.9 237.6 748.8 238.2 748.0 238.8 747.4 239.4 747.1 240.0 747.3 240.6 747.2 241.3 743.8 241.9 738.0 242.5 765.9 243.1 772.8 243.7 756.6 244.3 747.4 244.9 745.8 245.5 746.6 246.1 745.8 246.7 746.1 247.3 747.8 247.9 747.5 248.5 748.6 249.1 746.4 249.7 746.9 250.3 747.1 251.0 747.1 251.6 741.6 252.2 727.9 252.8 770.6 253.4 779.9 254.0 760.3 254.6 749.0 255.2 748.0 255.8 746.8 256.4 747.6 257.0 747.9 257.6 746.9 258.2 747.5 258.8 749.3 259.4 748.4 260.0 744.3 260.7 736.4 261.3 755.2 261.9 756.2 262.5 741.4 263.1 744.0 263.7 746.8 264.3 747.1 264.9 749.4 265.5 747.3 266.1 747.2 266.7 746.2 267.3 747.2 267.9 747.6 268.5 745.7 269.1 746.3 269.7 747.0 270.4 746.9 271.0 746.4 271.6 745.3 272.2 744.6 272.8 755.3 273.4 748.8 274.0 745.8 274.6 745.4 275.2 744.8 275.8 717.7 276.4 685.0 277.0 772.5 277.6 780.3 278.2 771.5 278.8 766.2 279.4 766.6 280.1 767.7 280.7 768.3 281.3 769.6 281.9 767.8 282.5 766.1 283.1 764.7 283.7 769.4 284.3 743.6 284.9 712.6 285.5 787.9 286.1 796.0 286.7 769.1 287.3 753.5 287.9 753.8 288.5 746.2 289.1 739.3 289.8 764.5 290.4 766.1 291.0 757.2 291.6 752.1 292.2 752.5 292.8 753.1 293.4 757.9 294.0 747.5 294.6 733.9 295.2 757.0 295.8 760.2 296.4 754.0 297.0 749.6 297.6 748.8 298.2 748.1 298.8 747.5 299.5 746.7 300.1 747.3 300.7 746.7 301.3 746.9 301.9 747.2 302.5 746.0 303.1 745.8 303.7 744.2 304.3 745.2 304.9 746.2 305.5 744.8 306.1 745.4 306.7 743.5 307.3 740.6 307.9 732.5 308.6 760.4 309.2 758.4 309.8 747.9 310.4 745.2 311.0 745.2 311.6 743.1 312.2 741.7 312.8 742.1 313.4 744.2 314.0 743.7 314.6 745.3 315.2 746.2 315.8 744.0 316.4 744.9 317.0 746.2 317.6 742.3 318.3 736.2 318.9 754.2 319.5 757.0 320.1 750.6 320.7 747.9 321.3 748.6 321.9 743.3 322.5 745.1 323.1 749.7 323.7 750.7 324.3 748.3 324.9 749.2 325.5 750.2 326.1 751.2 326.7 751.5 327.3 753.5 328.0 752.6 328.6 752.8 329.2 753.8 329.8 753.7 330.4 755.3 331.0 754.9 331.6 757.0 332.2 756.0 332.8 757.1 333.4 758.2 334.0 757.8 334.6 757.9 335.2 752.4 335.8 754.8 336.4 760.0 337.0 759.0 337.7 759.7 338.3 761.4 338.9 758.8 339.5 760.7 340.1 758.2 340.7 757.9 341.3 756.6 341.9 758.0 342.5 714.3 343.1 661.1 343.7 787.2 344.3 795.1 344.9 769.1 345.5 755.4 346.1 755.8 346.7 756.4 347.4 755.5 348.0 754.7 348.6 754.2 349.2 755.2 349.8 758.6 350.4 757.9 351.0 752.9 351.6 754.3 352.2 752.9 352.8 753.8 353.4 753.7 354.0 753.2 354.6 751.2 355.2 753.0 355.8 751.6 356.4 751.9 357.1 748.1 357.7 743.6 358.3 758.6 358.9 762.1 359.5 754.6 360.1 750.9 360.7 751.6 361.3 750.6 361.9 751.7 362.5 749.9 363.1 751.1 363.7 750.6 364.3 749.4 364.9 751.9 365.5 751.8 366.1 750.3 366.8 748.6 367.4 752.1 368.0 748.0 368.6 747.9 369.2 750.0 369.8 747.7 370.4 748.6 371.0 748.6 371.6 751.2 372.2 749.6 372.8 749.4 373.4 749.7 374.0 749.7 374.6 749.7 375.2 747.9 375.9 737.4 376.5 760.3 377.1 764.1 377.7 755.3 378.3 749.9 378.9 749.8 379.5 748.4 380.1 750.9 380.7 748.7 381.3 750.6 381.9 751.2 382.5 751.9 383.1 749.9 383.7 752.2 384.3 750.1 384.9 750.7 385.6 751.7 386.2 746.3 386.8 748.1 387.4 751.4 388.0 751.0 388.6 751.8 389.2 752.4 389.8 751.5 390.4 753.3 391.0 751.5 391.6 752.3 392.2 753.6 392.8 753.6 393.4 753.1 394.0 754.6 394.6 751.7 395.3 752.2 395.9 747.2 396.5 749.5 397.1 751.1 397.7 733.6 398.3 712.3 398.9 792.8 399.5 802.9 400.1 770.9 400.7 756.5 401.3 759.2 401.9 758.5 402.5 760.6 403.1 762.1 403.7 763.2 404.3 738.4 405.0 706.0 405.6 772.2 406.2 774.1 406.8 769.6 407.4 766.7 408.0 768.5 408.6 765.2 409.2 765.6 409.8 767.5 410.4 763.9 411.0 766.4 411.6 763.9 412.2 765.1 412.8 769.1 413.4 764.2 414.0 762.1 414.7 762.1 415.3 761.3 415.9 761.2 416.5 761.0 417.1 761.4 417.7 753.7 418.3 746.9 418.9 767.0 419.5 768.9 420.1 762.0 420.7 759.5 421.3 758.0 421.9 758.2 422.5 755.7 423.1 757.5 423.7 764.2 424.4 759.6 425.0 754.2 425.6 753.7 426.2 753.3 426.8 750.4 427.4 751.6 428.0 750.4 428.6 747.3 429.2 749.9 429.8 740.9 430.4 732.7 431.0 752.8 431.6 752.6 432.2 746.3 432.8 745.3 433.4 743.3 434.1 741.4 434.7 741.7 435.3 740.3 435.9 741.2 436.5 741.2 437.1 741.2 437.7 740.9 438.3 743.0 438.9 742.0 439.5 738.7 440.1 740.1 440.7 740.3 441.3 738.5 441.9 740.7 442.5 741.4 443.1 740.5 443.8 741.6 444.4 740.1 445.0 739.3 445.6 740.0 446.2 741.0 446.8 740.7 447.4 740.1 448.0 739.5 448.6 741.0 449.2 741.5 449.8 747.5 450.4 745.4 451.0 742.3 451.6 742.7 452.2 725.0 452.9 701.2 453.5 766.3 454.1 773.6 454.7 755.7 455.3 747.0 455.9 748.5 456.5 726.6 457.1 705.3 457.7 766.1 458.3 771.6 458.9 763.5 459.5 758.0 460.1 758.8 460.7 755.6 461.3 754.8 461.9 753.9 462.6 754.0 463.2 752.5 463.8 752.1 464.4 750.3 465.0 750.2 465.6 748.5 466.2 749.6 466.8 747.8 467.4 749.3 468.0 745.8 468.6 745.3 469.2 746.7 469.8 744.7 470.4 748.2 471.0 748.0 471.6 749.0 472.3 744.7 472.9 739.8 473.5 759.6 474.1 761.7 474.7 752.1 475.3 750.8 475.9 742.1 476.5 748.6 477.1 751.9 477.7 751.6 478.3 752.7 478.9 753.4 479.5 753.5 480.1 753.7 480.7 753.4 481.3 753.4 482.0 756.2 482.6 757.3 483.2 756.0 483.8 756.0 484.4 755.5 485.0 755.3 485.6 757.1 486.2 754.7 486.8 756.6 487.4 758.6 488.0 756.2 488.6 757.1 489.2 757.2 489.8 759.2 490.4 758.1 491.0 757.8 491.7 758.3 492.3 755.2 492.9 755.3 493.5 755.7 494.1 755.3 494.7 756.1 495.3 753.7 495.9 754.5 496.5 748.3 497.1 742.7 497.7 765.6 498.3 768.7 498.9 756.5 499.5 751.7 500.1 750.5 500.7 749.0 501.4 750.7 502.0 750.3 502.6 747.8 503.2 747.1 503.8 747.1 504.4 746.8 505.0 747.2 505.6 745.4 506.2 751.3 506.8 747.0 507.4 743.4 508.0 744.5 508.6 743.2 509.2 743.1 509.8 742.2 510.4 722.0 511.1 699.1 511.7 768.0 512.3 774.3 512.9 753.3 513.5 740.8 514.1 740.2 514.7 739.0 515.3 738.6 515.9 742.5 516.5 742.7 517.1 738.8 517.7 740.0 518.3 738.6 518.9 740.9 519.5 739.4 520.1 741.1 520.8 744.0 521.4 743.9 522.0 726.6 522.6 704.6 523.2 764.1 523.8 770.2 524.4 757.9 525.0 750.0 525.6 750.5 526.2 751.4 526.8 757.2 527.4 752.8 528.0 752.2 528.6 752.0 529.2 751.2 529.9 752.2 530.5 751.2 531.1 753.6 531.7 752.0 532.3 754.1 532.9 754.5 533.5 754.2 534.1 753.2 534.7 753.9 535.3 754.6 535.9 752.1 536.5 754.2 537.1 753.4 537.7 753.0 538.3 753.7 538.9 747.2 539.6 740.0 540.2 761.0 540.8 761.8 541.4 757.1 542.0 754.3 542.6 753.1 543.2 754.2 543.8 752.9 544.4 756.9 545.0 755.5 545.6 752.7 546.2 752.8 546.8 756.1 547.4 753.6 548.0 753.1 548.6 752.8 549.3 753.8 549.9 754.3 550.5 753.1 551.1 752.6 551.7 755.2 552.3 754.7 552.9 753.8 553.5 755.7 554.1 753.8 554.7 752.5 555.3 754.3 555.9 753.1 556.5 749.3 557.1 746.2 557.7 743.2 558.3 764.7 559.0 769.0 559.6 757.8 560.2 752.9 560.8 753.7 561.4 751.9 562.0 753.8 562.6 753.1 563.2 751.0 563.8 752.4 564.4 754.0 565.0 753.0 565.6 753.8 566.2 753.4 566.8 754.7 567.4 753.1 568.0 754.7 568.7 734.0 569.3 721.1 569.9 781.9 570.5 787.9 571.1 768.0 571.7 755.0 572.3 754.9 572.9 754.6 573.5 753.3 574.1 754.6 574.7 754.9 575.3 750.6 575.9 744.1 576.5 762.7 577.1 764.4 577.7 759.6 578.4 755.1 579.0 754.6 579.6 755.5 580.2 757.7 580.8 756.5 581.4 763.5 582.0 761.5 582.6 760.5 583.2 761.4 583.8 760.7 584.4 741.4 585.0 716.7 585.6 773.6 586.2 777.2 586.8 768.7 587.4 763.6 588.1 764.7 588.7 767.3 589.3 764.3 589.9 764.4 590.5 763.2 591.1 761.3 591.7 761.5 592.3 759.6 592.9 760.1 593.5 759.7 594.1 759.1 594.7 757.7 595.3 763.1 595.9 758.3 596.5 755.1 597.1 754.6 597.8 755.4 598.4 755.2 599.0 752.5 599.6 754.0 600.2 751.7 600.8 753.6 601.4 752.5 602.0 754.1 602.6 753.3 603.2 752.8 603.8 752.0 604.4 753.5 605.0 752.8 605.6 748.7 606.2 741.2 606.9 758.7 607.5 760.6 608.1 754.2 608.7 750.5 609.3 752.3 609.9 750.8 610.5 750.4 611.1 752.7 611.7 749.9 612.3 749.9 612.9 751.2 613.5 749.8 614.1 747.8 614.7 748.5 615.3 750.5 615.9 751.9 616.6 750.8 617.2 751.1 617.8 751.3 618.4 751.9 619.0 751.5 619.6 751.8 620.2 749.5 620.8 751.7 621.4 749.0 622.0 748.9 622.6 748.8 623.2 746.2 623.8 746.9 624.4 744.2 625.0 745.3 625.6 733.6 626.3 712.6 626.9 773.6 627.5 780.6 628.1 757.4 628.7 743.7 629.3 741.8 629.9 743.8 630.5 741.3 631.1 743.2 631.7 743.0 632.3 743.7 632.9 742.5 633.5 743.0 634.1 741.6 634.7 740.0 635.3 740.4 636.0 733.0 636.6 729.5 637.2 750.0 637.8 752.9 638.4 744.1 639.0 736.3 639.6 737.6 640.2 738.3 640.8 736.4 641.4 735.3 642.0 736.9 642.6 736.1 643.2 736.8 643.8 736.8 644.4 733.6 645.0 731.0 645.7 734.3 646.3 734.5 646.9 730.9 647.5 730.6 648.1 730.5 648.7 728.9 649.3 717.7 649.9 704.7 650.5 759.2 651.1 769.1 651.7 750.5 652.3 742.7 652.9 746.1 653.5 745.4 654.1 750.2 654.7 750.9 655.4 752.6 656.0 752.2 656.6 753.2 657.2 751.1 657.8 752.4 658.4 752.7 659.0 751.3 659.6 752.0 660.2 748.9 660.8 745.6 661.4 760.3 662.0 763.3 662.6 757.5 663.2 753.3 663.8 754.8 664.4 754.5 665.1 753.8 665.7 754.3 666.3 755.7 666.9 753.9 667.5 754.4 668.1 753.9 668.7 756.0 669.3 764.1 669.9 759.4 670.5 756.1 671.1 756.6 671.7 757.1 672.3 757.5 672.9 758.0 673.5 758.2 674.1 757.5 674.8 758.4 675.4 759.6 676.0 758.4 676.6 756.6 677.2 756.5 677.8 751.4 678.4 740.1 679.0 775.9 679.6 781.4 680.2 765.2" stroke="#4aa8dc" stroke-width="0.8" opacity="0.9"/>
<path d="M72.7 742.1L73.3 745.5 73.9 746.5 74.5 736.4 75.1 749.3 75.7 751.5 76.3 752.5 76.9 753.4 77.6 759.6 78.2 769.4 78.8 775.0 79.4 776.2 80.0 777.2 80.6 775.7 81.2 771.3 81.8 769.7 82.4 769.1 83.0 758.9 83.6 761.4 84.2 751.8 84.8 761.1 85.4 752.5 86.0 755.5 86.6 758.0 87.3 749.2 87.9 750.2 88.5 742.5 89.1 743.9 89.7 735.9 90.3 739.8 90.9 737.5 91.5 740.4 92.1 737.1 92.7 736.0 93.3 739.1 93.9 738.4 94.5 736.8 95.1 744.3 95.7 738.7 96.3 740.9 97.0 738.8 97.6 733.1 98.2 739.8 98.8 739.2 99.4 740.6 100.0 740.6 100.6 734.3 101.2 739.9 101.8 740.6 102.4 737.2 103.0 739.5 103.6 737.2 104.2 737.3 104.8 735.6 105.4 737.5 106.0 738.1 106.7 737.5 107.3 736.3 107.9 734.7 108.5 737.8 109.1 742.6 109.7 739.1 110.3 739.1 110.9 733.0 111.5 731.7 112.1 732.1 112.7 743.0 113.3 733.8 113.9 736.5 114.5 734.6 115.1 737.6 115.7 734.3 116.4 733.3 117.0 737.1 117.6 730.6 118.2 726.8 118.8 746.5 119.4 737.7 120.0 737.3 120.6 744.8 121.2 746.3 121.8 744.3 122.4 745.7 123.0 740.9 123.6 745.4 124.2 748.4 124.8 745.4 125.4 747.5 126.1 740.1 126.7 741.7 127.3 749.0 127.9 744.8 128.5 746.3 129.1 751.4 129.7 750.1 130.3 744.2 130.9 745.3 131.5 748.1 132.1 745.6 132.7 744.0 133.3 743.9 133.9 747.1 134.5 746.4 135.1 751.0 135.8 747.8 136.4 745.4 137.0 745.2 137.6 760.5 138.2 757.5 138.8 757.5 139.4 766.1 140.0 768.6 140.6 770.3 141.2 770.7 141.8 769.9 142.4 769.8 143.0 769.4 143.6 773.0 144.2 770.9 144.8 768.1 145.5 774.5 146.1 769.0 146.7 773.1 147.3 766.1 147.9 773.9 148.5 768.1 149.1 774.9 149.7 768.6 150.3 769.3 150.9 770.0 151.5 773.8 152.1 773.9 152.7 772.7 153.3 770.4 153.9 768.7 154.6 775.5 155.2 771.4 155.8 775.1 156.4 773.6 157.0 767.0 157.6 772.3 158.2 770.3 158.8 771.0 159.4 773.1 160.0 769.5 160.6 768.7 161.2 774.1 161.8 773.8 162.4 775.1 163.0 772.5 163.6 771.1 164.3 768.6 164.9 771.0 165.5 768.1 166.1 764.0 166.7 766.7 167.3 769.7 167.9 764.8 168.5 762.8 169.1 760.4 169.7 764.7 170.3 760.7 170.9 758.2 171.5 762.3 172.1 755.1 172.7 757.3 173.3 756.3 174.0 754.2 174.6 756.9 175.2 757.3 175.8 745.4 176.4 757.7 177.0 757.4 177.6 751.2 178.2 756.6 178.8 749.9 179.4 749.5 180.0 751.2 180.6 744.9 181.2 749.6 181.8 749.4 182.4 746.7 183.0 749.0 183.7 746.7 184.3 749.8 184.9 743.5 185.5 750.1 186.1 746.1 186.7 743.9 187.3 745.9 187.9 748.7 188.5 742.4 189.1 744.1 189.7 745.4 190.3 744.2 190.9 743.4 191.5 745.2 192.1 739.2 192.7 739.1 193.4 734.8 194.0 741.6 194.6 739.2 195.2 737.8 195.8 734.6 196.4 737.2 197.0 735.2 197.6 738.9 198.2 734.9 198.8 739.6 199.4 734.8 200.0 736.8 200.6 734.0 201.2 733.6 201.8 730.7 202.4 731.1 203.1 734.8 203.7 722.9 204.3 743.1 204.9 739.1 205.5 749.7 206.1 761.9 206.7 765.6 207.3 765.4 207.9 763.8 208.5 755.4 209.1 755.4 209.7 758.0 210.3 756.0 210.9 755.3 211.5 755.6 212.1 754.4 212.8 750.6 213.4 750.1 214.0 747.7 214.6 746.0 215.2 744.6 215.8 745.7 216.4 743.2 217.0 748.5 217.6 741.6 218.2 744.3 218.8 747.6 219.4 744.9 220.0 744.9 220.6 742.2 221.2 751.7 221.8 747.0 222.5 750.8 223.1 749.4 223.7 747.8 224.3 754.1 224.9 750.5 225.5 750.3 226.1 750.7 226.7 743.8 227.3 751.5 227.9 748.0 228.5 746.4 229.1 751.1 229.7 752.1 230.3 743.8 230.9 747.0 231.6 743.1 232.2 745.7 232.8 746.2 233.4 744.8 234.0 749.2 234.6 746.6 235.2 748.3 235.8 748.6 236.4 744.8 237.0 747.9 237.6 746.6 238.2 748.9 238.8 750.3 239.4 744.1 240.0 748.5 240.6 750.2 241.3 747.4 241.9 747.5 242.5 749.3 243.1 747.9 243.7 749.6 244.3 746.8 244.9 749.7 245.5 749.8 246.1 746.6 246.7 750.0 247.3 748.1 247.9 750.9 248.5 752.5 249.1 747.0 249.7 746.9 250.3 745.5 251.0 748.2 251.6 747.0 252.2 749.2 252.8 750.2 253.4 745.9 254.0 748.0 254.6 744.1 255.2 744.8 255.8 749.6 256.4 749.3 257.0 742.5 257.6 746.5 258.2 751.2 258.8 749.1 259.4 747.5 260.0 750.7 260.7 742.5 261.3 745.8 261.9 743.5 262.5 746.1 263.1 739.2 263.7 747.1 264.3 746.0 264.9 745.1 265.5 748.2 266.1 746.1 266.7 749.8 267.3 740.5 267.9 747.3 268.5 749.4 269.1 745.1 269.7 750.9 270.4 749.0 271.0 744.0 271.6 745.5 272.2 748.8 272.8 746.4 273.4 746.9 274.0 745.1 274.6 743.0 275.2 746.6 275.8 744.7 276.4 737.7 277.0 757.0 277.6 758.6 278.2 763.2 278.8 765.6 279.4 770.7 280.1 768.3 280.7 767.9 281.3 766.1 281.9 769.2 282.5 766.9 283.1 764.3 283.7 762.3 284.3 755.7 284.9 747.4 285.5 766.7 286.1 756.7 286.7 756.4 287.3 755.1 287.9 753.9 288.5 755.3 289.1 751.9 289.8 754.8 290.4 755.7 291.0 750.2 291.6 752.8 292.2 752.2 292.8 746.9 293.4 751.8 294.0 749.2 294.6 752.5 295.2 752.1 295.8 750.6 296.4 752.9 297.0 747.3 297.6 747.9 298.2 746.0 298.8 745.4 299.5 746.7 300.1 746.4 300.7 747.1 301.3 744.3 301.9 747.5 302.5 743.1 303.1 746.6 303.7 746.7 304.3 749.2 304.9 743.1 305.5 744.0 306.1 745.0 306.7 743.7 307.3 740.4 307.9 740.7 308.6 744.4 309.2 743.8 309.8 741.0 310.4 741.6 311.0 742.3 311.6 743.5 312.2 744.6 312.8 746.7 313.4 745.3 314.0 743.8 314.6 743.6 315.2 747.4 315.8 743.2 316.4 749.0 317.0 747.0 317.6 751.4 318.3 747.8 318.9 749.5 319.5 748.4 320.1 753.8 320.7 746.1 321.3 746.5 321.9 749.1 322.5 749.5 323.1 750.0 323.7 748.7 324.3 748.1 324.9 749.3 325.5 750.9 326.1 748.9 326.7 749.1 327.3 752.5 328.0 749.8 328.6 751.6 329.2 753.6 329.8 754.0 330.4 752.0 331.0 752.3 331.6 753.5 332.2 757.8 332.8 756.7 333.4 757.4 334.0 756.7 334.6 760.3 335.2 756.6 335.8 758.7 336.4 755.9 337.0 761.7 337.7 763.1 338.3 761.5 338.9 765.5 339.5 759.2 340.1 759.3 340.7 756.3 341.3 756.9 341.9 752.6 342.5 754.0 343.1 741.6 343.7 759.2 344.3 758.1 344.9 753.5 345.5 756.6 346.1 756.2 346.7 754.1 347.4 754.1 348.0 753.1 348.6 754.8 349.2 751.6 349.8 757.3 350.4 753.3 351.0 756.2 351.6 748.9 352.2 750.2 352.8 753.9 353.4 756.2 354.0 749.8 354.6 749.2 355.2 751.2 355.8 753.8 356.4 752.0 357.1 745.6 357.7 754.6 358.3 751.2 358.9 747.9 359.5 753.6 360.1 748.9 360.7 755.0 361.3 752.1 361.9 754.9 362.5 748.7 363.1 753.8 363.7 749.5 364.3 750.1 364.9 753.7 365.5 744.6 366.1 749.3 366.8 750.3 367.4 753.4 368.0 747.0 368.6 748.0 369.2 746.4 369.8 753.0 370.4 747.1 371.0 745.2 371.6 749.2 372.2 750.0 372.8 748.5 373.4 750.2 374.0 749.1 374.6 752.5 375.2 749.8 375.9 751.7 376.5 754.6 377.1 747.4 377.7 745.3 378.3 753.0 378.9 746.2 379.5 753.0 380.1 751.0 380.7 748.0 381.3 748.0 381.9 752.5 382.5 749.5 383.1 753.8 383.7 753.7 384.3 749.3 384.9 750.3 385.6 750.0 386.2 748.3 386.8 753.3 387.4 750.9 388.0 752.6 388.6 752.1 389.2 752.5 389.8 752.4 390.4 754.1 391.0 754.7 391.6 755.9 392.2 749.5 392.8 752.8 393.4 756.1 394.0 753.2 394.6 756.3 395.3 752.7 395.9 751.7 396.5 751.0 397.1 755.5 397.7 751.0 398.3 747.4 398.9 759.7 399.5 754.1 400.1 756.2 400.7 756.5 401.3 754.2 401.9 761.1 402.5 758.6 403.1 761.0 403.7 764.6 404.3 769.6 405.0 761.6 405.6 770.2 406.2 763.8 406.8 768.9 407.4 769.8 408.0 767.9 408.6 764.4 409.2 766.3 409.8 765.9 410.4 761.2 411.0 762.9 411.6 760.2 412.2 762.0 412.8 762.1 413.4 763.0 414.0 765.0 414.7 761.0 415.3 760.6 415.9 765.6 416.5 762.1 417.1 758.7 417.7 762.7 418.3 752.7 418.9 762.4 419.5 758.6 420.1 756.6 420.7 757.5 421.3 756.8 421.9 760.1 422.5 757.4 423.1 759.8 423.7 756.6 424.4 754.7 425.0 757.2 425.6 756.4 426.2 753.0 426.8 753.2 427.4 749.1 428.0 751.8 428.6 749.6 429.2 745.7 429.8 744.2 430.4 741.8 431.0 745.8 431.6 744.5 432.2 741.9 432.8 743.9 433.4 742.1 434.1 738.9 434.7 740.3 435.3 739.4 435.9 743.0 436.5 745.2 437.1 740.0 437.7 735.9 438.3 738.3 438.9 741.6 439.5 738.8 440.1 742.1 440.7 742.6 441.3 745.0 441.9 743.1 442.5 738.7 443.1 740.9 443.8 736.7 444.4 745.2 445.0 740.5 445.6 739.7 446.2 740.4 446.8 741.8 447.4 739.6 448.0 739.6 448.6 736.9 449.2 741.7 449.8 740.1 450.4 742.9 451.0 741.9 451.6 746.1 452.2 742.5 452.9 740.1 453.5 748.0 454.1 749.8 454.7 748.0 455.3 752.1 455.9 750.0 456.5 748.2 457.1 747.1 457.7 759.9 458.3 749.6 458.9 758.6 459.5 758.0 460.1 759.0 460.7 759.2 461.3 755.3 461.9 755.7 462.6 752.1 463.2 753.1 463.8 750.8 464.4 752.3 465.0 747.9 465.6 749.4 466.2 749.8 466.8 746.0 467.4 746.6 468.0 750.7 468.6 748.5 469.2 744.9 469.8 748.5 470.4 750.3 471.0 743.8 471.6 752.1 472.3 748.1 472.9 747.1 473.5 751.5 474.1 749.3 474.7 752.8 475.3 750.6 475.9 750.4 476.5 746.0 477.1 754.3 477.7 752.4 478.3 754.9 478.9 751.1 479.5 752.8 480.1 754.2 480.7 755.3 481.3 754.1 482.0 756.0 482.6 749.0 483.2 753.9 483.8 758.5 484.4 758.4 485.0 756.5 485.6 761.2 486.2 755.9 486.8 759.1 487.4 755.6 488.0 755.8 488.6 756.6 489.2 753.2 489.8 761.1 490.4 755.8 491.0 759.1 491.7 756.8 492.3 761.7 492.9 754.5 493.5 755.9 494.1 756.1 494.7 758.2 495.3 754.1 495.9 755.6 496.5 755.6 497.1 752.3 497.7 752.2 498.3 753.5 498.9 749.9 499.5 751.4 500.1 751.7 500.7 750.2 501.4 749.7 502.0 749.0 502.6 749.8 503.2 747.0 503.8 745.2 504.4 746.4 505.0 749.2 505.6 744.2 506.2 741.0 506.8 741.2 507.4 743.5 508.0 747.4 508.6 741.6 509.2 744.0 509.8 742.1 510.4 742.3 511.1 736.0 511.7 747.5 512.3 742.3 512.9 745.2 513.5 742.4 514.1 741.6 514.7 745.6 515.3 739.5 515.9 737.0 516.5 743.3 517.1 740.9 517.7 737.5 518.3 739.0 518.9 741.5 519.5 743.8 520.1 743.6 520.8 740.6 521.4 743.1 522.0 743.9 522.6 740.4 523.2 747.3 523.8 746.8 524.4 748.0 525.0 752.9 525.6 748.2 526.2 748.7 526.8 752.5 527.4 751.0 528.0 754.8 528.6 752.4 529.2 751.5 529.9 755.3 530.5 753.1 531.1 750.2 531.7 756.0 532.3 751.7 532.9 752.2 533.5 748.1 534.1 751.3 534.7 752.8 535.3 756.2 535.9 753.3 536.5 751.7 537.1 750.1 537.7 750.9 538.3 754.4 538.9 753.1 539.6 754.0 540.2 753.6 540.8 754.9 541.4 752.5 542.0 754.0 542.6 758.0 543.2 749.3 543.8 749.8 544.4 753.7 545.0 754.7 545.6 750.9 546.2 750.8 546.8 751.3 547.4 756.3 548.0 756.7 548.6 755.2 549.3 751.9 549.9 751.1 550.5 749.8 551.1 755.2 551.7 751.6 552.3 753.6 552.9 752.3 553.5 752.6 554.1 754.9 554.7 751.5 555.3 750.5 555.9 749.0 556.5 754.4 557.1 753.4 557.7 744.7 558.3 757.2 559.0 749.7 559.6 751.5 560.2 753.5 560.8 749.5 561.4 748.9 562.0 751.3 562.6 752.8 563.2 755.5 563.8 753.8 564.4 755.0 565.0 752.0 565.6 753.1 566.2 749.7 566.8 753.8 567.4 750.0 568.0 751.8 568.7 750.5 569.3 754.9 569.9 760.6 570.5 756.4 571.1 753.2 571.7 752.2 572.3 749.6 572.9 753.6 573.5 753.1 574.1 751.7 574.7 755.1 575.3 756.7 575.9 753.5 576.5 760.0 577.1 760.6 577.7 752.8 578.4 759.1 579.0 755.1 579.6 754.2 580.2 752.9 580.8 754.8 581.4 763.0 582.0 759.7 582.6 762.3 583.2 759.2 583.8 761.1 584.4 765.2 585.0 757.5 585.6 766.0 586.2 765.8 586.8 765.2 587.4 768.6 588.1 761.7 588.7 762.5 589.3 764.8 589.9 769.8 590.5 759.1 591.1 756.3 591.7 761.5 592.3 761.7 592.9 760.8 593.5 760.9 594.1 754.2 594.7 758.6 595.3 755.9 595.9 756.6 596.5 753.1 597.1 754.4 597.8 750.4 598.4 752.5 599.0 756.7 599.6 748.4 600.2 751.6 600.8 750.4 601.4 748.2 602.0 754.3 602.6 750.3 603.2 754.2 603.8 752.4 604.4 752.5 605.0 752.4 605.6 751.8 606.2 748.5 606.9 754.3 607.5 757.0 608.1 755.7 608.7 754.9 609.3 746.3 609.9 751.7 610.5 750.7 611.1 752.7 611.7 748.7 612.3 753.3 612.9 753.3 613.5 749.0 614.1 751.6 614.7 750.5 615.3 745.8 615.9 748.0 616.6 748.9 617.2 753.1 617.8 748.0 618.4 750.5 619.0 748.0 619.6 749.1 620.2 747.2 620.8 748.2 621.4 746.1 622.0 750.4 622.6 746.5 623.2 746.7 623.8 744.0 624.4 741.6 625.0 742.3 625.6 740.0 626.3 739.5 626.9 752.6 627.5 746.5 628.1 745.2 628.7 739.9 629.3 745.0 629.9 740.2 630.5 742.8 631.1 741.9 631.7 745.0 632.3 742.4 632.9 738.1 633.5 742.2 634.1 737.3 634.7 738.5 635.3 738.9 636.0 739.6 636.6 735.8 637.2 739.4 637.8 735.9 638.4 735.8 639.0 743.4 639.6 739.2 640.2 742.3 640.8 735.9 641.4 736.6 642.0 737.5 642.6 730.6 643.2 734.9 643.8 732.3 644.4 736.9 645.0 730.8 645.7 737.6 646.3 735.1 646.9 731.2 647.5 733.5 648.1 727.6 648.7 726.9 649.3 731.3 649.9 722.8 650.5 735.3 651.1 742.7 651.7 743.9 652.3 745.9 652.9 749.8 653.5 753.3 654.1 748.4 654.7 756.0 655.4 747.4 656.0 752.6 656.6 756.4 657.2 751.3 657.8 750.4 658.4 754.2 659.0 755.3 659.6 750.6 660.2 755.2 660.8 752.2 661.4 757.6 662.0 751.3 662.6 755.3 663.2 756.3 663.8 754.1 664.4 754.7 665.1 756.4 665.7 756.4 666.3 757.6 666.9 756.3 667.5 757.4 668.1 761.1 668.7 758.3 669.3 754.3 669.9 758.9 670.5 758.1 671.1 757.5 671.7 755.3 672.3 759.9 672.9 758.6 673.5 760.1 674.1 757.8 674.8 759.1 675.4 763.5 676.0 757.8 676.6 756.5 677.2 756.6 677.8 757.8 678.4 755.3 679.0 765.2 679.6 759.7 680.2 754.9" stroke="#c0392b" stroke-width="0.6" opacity="0.8"/>
</g>
<line x1="73.7" y1="802.5" x2="680.9" y2="802.5" stroke="#aaa" stroke-width="1"/>
<line x1="73.7" y1="656.5" x2="680.9" y2="656.5" stroke="#777" stroke-width="1"/>
<line x1="133.32999999999998" y1="802.5" x2="133.32999999999998" y2="796.5" stroke="#707070" stroke-width="0.8"/>
<line x1="133.32999999999998" y1="656.5" x2="133.32999999999998" y2="662.5" stroke="#707070" stroke-width="0.8"/>
<text x="133.32999999999998" y="812.3" font-size="6.8" text-anchor="middle" fill="#1e1e1e" >8.1</text>
<line x1="193.95999999999998" y1="802.5" x2="193.95999999999998" y2="796.5" stroke="#707070" stroke-width="0.8"/>
<line x1="193.95999999999998" y1="656.5" x2="193.95999999999998" y2="662.5" stroke="#707070" stroke-width="0.8"/>
<text x="193.95999999999998" y="812.3" font-size="6.8" text-anchor="middle" fill="#1e1e1e" >8.2</text>
<line x1="254.58999999999997" y1="802.5" x2="254.58999999999997" y2="796.5" stroke="#707070" stroke-width="0.8"/>
<line x1="254.58999999999997" y1="656.5" x2="254.58999999999997" y2="662.5" stroke="#707070" stroke-width="0.8"/>
<text x="254.58999999999997" y="812.3" font-size="6.8" text-anchor="middle" fill="#1e1e1e" >8.3</text>
<line x1="315.21999999999997" y1="802.5" x2="315.21999999999997" y2="796.5" stroke="#707070" stroke-width="0.8"/>
<line x1="315.21999999999997" y1="656.5" x2="315.21999999999997" y2="662.5" stroke="#707070" stroke-width="0.8"/>
<text x="315.21999999999997" y="812.3" font-size="6.8" text-anchor="middle" fill="#1e1e1e" >8.4</text>
<line x1="375.84999999999997" y1="802.5" x2="375.84999999999997" y2="796.5" stroke="#707070" stroke-width="0.8"/>
<line x1="375.84999999999997" y1="656.5" x2="375.84999999999997" y2="662.5" stroke="#707070" stroke-width="0.8"/>
<text x="375.84999999999997" y="812.3" font-size="6.8" text-anchor="middle" fill="#1e1e1e" >8.5</text>
<line x1="436.47999999999996" y1="802.5" x2="436.47999999999996" y2="796.5" stroke="#707070" stroke-width="0.8"/>
<line x1="436.47999999999996" y1="656.5" x2="436.47999999999996" y2="662.5" stroke="#707070" stroke-width="0.8"/>
<text x="436.47999999999996" y="812.3" font-size="6.8" text-anchor="middle" fill="#1e1e1e" >8.6</text>
<line x1="497.10999999999996" y1="802.5" x2="497.10999999999996" y2="796.5" stroke="#707070" stroke-width="0.8"/>
<line x1="497.10999999999996" y1="656.5" x2="497.10999999999996" y2="662.5" stroke="#707070" stroke-width="0.8"/>
<text x="497.10999999999996" y="812.3" font-size="6.8" text-anchor="middle" fill="#1e1e1e" >8.7</text>
<line x1="557.74" y1="802.5" x2="557.74" y2="796.5" stroke="#707070" stroke-width="0.8"/>
<line x1="557.74" y1="656.5" x2="557.74" y2="662.5" stroke="#707070" stroke-width="0.8"/>
<text x="557.74" y="812.3" font-size="6.8" text-anchor="middle" fill="#1e1e1e" >8.8</text>
<line x1="618.37" y1="802.5" x2="618.37" y2="796.5" stroke="#707070" stroke-width="0.8"/>
<line x1="618.37" y1="656.5" x2="618.37" y2="662.5" stroke="#707070" stroke-width="0.8"/>
<text x="618.37" y="812.3" font-size="6.8" text-anchor="middle" fill="#1e1e1e" >8.9</text>
<line x1="679.0" y1="802.5" x2="679.0" y2="796.5" stroke="#707070" stroke-width="0.8"/>
<line x1="679.0" y1="656.5" x2="679.0" y2="662.5" stroke="#707070" stroke-width="0.8"/>
<text x="679.0" y="812.3" font-size="6.8" text-anchor="middle" fill="#1e1e1e" >9</text>
<line x1="73.7" y1="657.02" x2="79.7" y2="657.02" stroke="#707070" stroke-width="0.8"/>
<text x="70.7" y="659.4" font-size="6.8" text-anchor="end" fill="#1e1e1e" >600</text>
<line x1="73.7" y1="672.85" x2="79.7" y2="672.85" stroke="#707070" stroke-width="0.8"/>
<text x="70.7" y="675.23" font-size="6.8" text-anchor="end" fill="#1e1e1e" >500</text>
<line x1="73.7" y1="688.68" x2="79.7" y2="688.68" stroke="#707070" stroke-width="0.8"/>
<text x="70.7" y="691.06" font-size="6.8" text-anchor="end" fill="#1e1e1e" >400</text>
<line x1="73.7" y1="704.51" x2="79.7" y2="704.51" stroke="#707070" stroke-width="0.8"/>
<line x1="680.9" y1="704.51" x2="674.9" y2="704.51" stroke="#707070" stroke-width="0.8"/>
<text x="70.7" y="706.89" font-size="6.8" text-anchor="end" fill="#1e1e1e" >300</text>
<line x1="73.7" y1="720.34" x2="79.7" y2="720.34" stroke="#707070" stroke-width="0.8"/>
<line x1="680.9" y1="720.34" x2="674.9" y2="720.34" stroke="#707070" stroke-width="0.8"/>
<text x="70.7" y="722.72" font-size="6.8" text-anchor="end" fill="#1e1e1e" >200</text>
<line x1="73.7" y1="736.17" x2="79.7" y2="736.17" stroke="#707070" stroke-width="0.8"/>
<line x1="680.9" y1="736.17" x2="674.9" y2="736.17" stroke="#707070" stroke-width="0.8"/>
<text x="70.7" y="738.55" font-size="6.8" text-anchor="end" fill="#1e1e1e" >100</text>
<line x1="73.7" y1="752.0" x2="79.7" y2="752.0" stroke="#707070" stroke-width="0.8"/>
<line x1="680.9" y1="752.0" x2="674.9" y2="752.0" stroke="#707070" stroke-width="0.8"/>
<text x="70.7" y="754.38" font-size="6.8" text-anchor="end" fill="#1e1e1e" >0</text>
<line x1="73.7" y1="767.83" x2="79.7" y2="767.83" stroke="#707070" stroke-width="0.8"/>
<line x1="680.9" y1="767.83" x2="674.9" y2="767.83" stroke="#707070" stroke-width="0.8"/>
<text x="70.7" y="770.21" font-size="6.8" text-anchor="end" fill="#1e1e1e" >-100</text>
<line x1="73.7" y1="783.66" x2="79.7" y2="783.66" stroke="#e4e4e4" stroke-width="0.8"/>
<line x1="680.9" y1="783.66" x2="674.9" y2="783.66" stroke="#e4e4e4" stroke-width="0.8"/>
<text x="70.7" y="786.04" font-size="6.8" text-anchor="end" fill="#1e1e1e" >-200</text>
<line x1="73.7" y1="799.49" x2="79.7" y2="799.49" stroke="#e4e4e4" stroke-width="0.8"/>
<line x1="680.9" y1="799.49" x2="674.9" y2="799.49" stroke="#e4e4e4" stroke-width="0.8"/>
<text x="70.7" y="801.87" font-size="6.8" text-anchor="end" fill="#1e1e1e" >-300</text>
<text x="377.8" y="821.5" font-size="7.8" text-anchor="middle" fill="#1e1e1e" >Time/s</text>
<text transform="translate(53.3,730) rotate(-90)" font-size="7.4" text-anchor="middle" fill="#1e1e1e">Amplitude/uV</text>
<rect x="570.7" y="660.2" width="106.2" height="24.7" fill="#fff" stroke="#777" stroke-width="0.7"/>
<line x1="572.5" y1="665.4" x2="587.8" y2="665.4" stroke="#fff" stroke-width="0.8"/>
<text x="589.7" y="667.6999999999999" font-size="6.41" text-anchor="start" fill="#1e1e1e" >The Signal After Adding Noise</text>
<line x1="572.5" y1="673.1" x2="587.8" y2="673.1" stroke="#c0392b" stroke-width="0.8"/>
<text x="589.7" y="675.4" font-size="6.41" text-anchor="start" fill="#1e1e1e" >Hard Function Denoising</text>
<line x1="572.5" y1="680.8" x2="587.8" y2="680.8" stroke="#2f95d6" stroke-width="0.8"/>
<text x="589.7" y="683.0999999999999" font-size="6.41" text-anchor="start" fill="#1e1e1e" >Original Signal</text>
<rect x="237.8" y="33.0" width="112.3" height="147.8" fill="none" stroke="#3463c2" stroke-width="2.3"/>
<line x1="237.5" y1="177.7" x2="75.4" y2="240.8" stroke="#3463c2" stroke-width="2.3"/>
<line x1="350.2" y1="179.2" x2="679.3" y2="243.5" stroke="#3463c2" stroke-width="2.3"/>
<text x="364" y="446" font-size="15" text-anchor="middle" font-family="'Liberation Serif', serif" fill="#111">(<tspan font-weight="bold">a</tspan>)</text>
<text x="364" y="640" font-size="15" text-anchor="middle" font-family="'Liberation Serif', serif" fill="#111">(<tspan font-weight="bold">b</tspan>)</text>
<text x="364" y="839.5" font-size="15" text-anchor="middle" font-family="'Liberation Serif', serif" fill="#111">(<tspan font-weight="bold">c</tspan>)</text>
</svg></body></html>
